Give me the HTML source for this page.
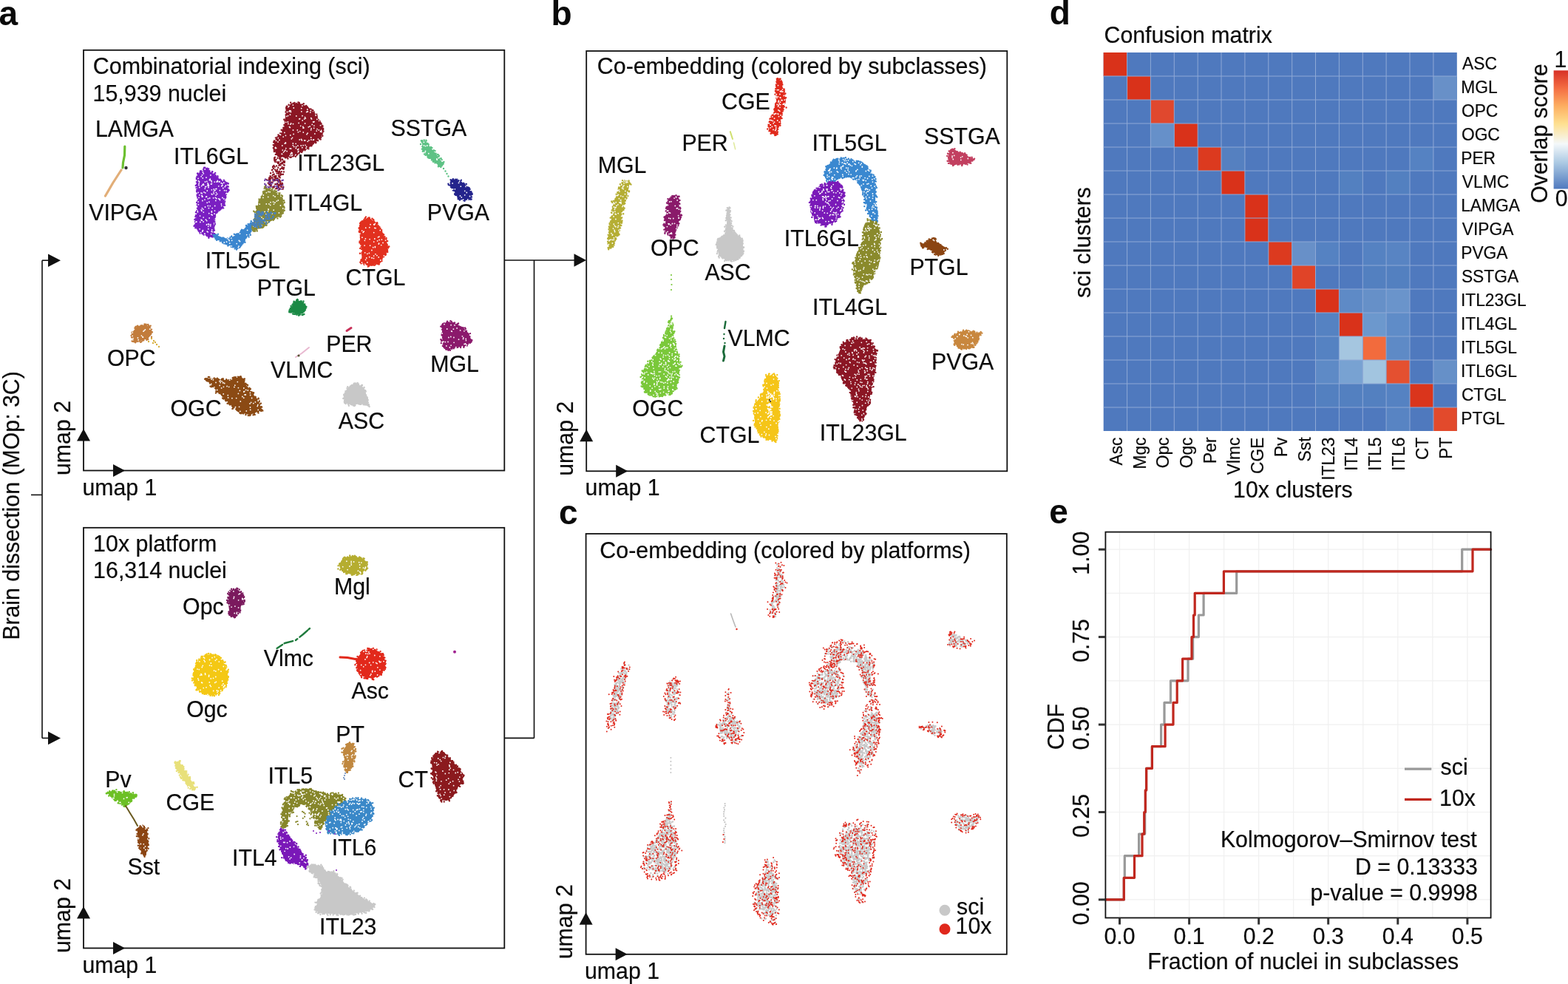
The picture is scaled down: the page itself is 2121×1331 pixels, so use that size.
<!DOCTYPE html>
<html><head><meta charset="utf-8"><title>Figure</title>
<style>html,body{margin:0;padding:0;background:#fff;} svg{display:block;}</style></head>
<body>
<svg width="2121" height="1331" viewBox="0 0 2121 1331" font-family="Liberation Sans, Arial, sans-serif">
<rect x="0" y="0" width="2121" height="1331" fill="#fff"/>
<text x="-1.5" y="33.5" font-size="46" font-weight="bold" fill="#0a0a0a">a</text>
<text x="745.5" y="33.5" font-size="46" font-weight="bold" fill="#0a0a0a">b</text>
<text x="756" y="708.5" font-size="46" font-weight="bold" fill="#0a0a0a">c</text>
<text x="1419.8" y="33.3" font-size="46" font-weight="bold" fill="#0a0a0a">d</text>
<text x="1419.2" y="708.4" font-size="46" font-weight="bold" fill="#0a0a0a">e</text>
<rect x="113" y="67.8" width="569.3" height="568.7" fill="none" stroke="#111" stroke-width="1.8"/>
<polygon points="104,596.5 122,596.5 113,580" fill="#111"/>
<polygon points="153,628 153,645 169,636.5" fill="#111"/>
<rect x="113" y="713.8" width="569.3" height="568.7" fill="none" stroke="#111" stroke-width="1.8"/>
<polygon points="104,1242.5 122,1242.5 113,1226" fill="#111"/>
<polygon points="153,1274 153,1291 169,1282.5" fill="#111"/>
<rect x="793.2" y="69" width="569.1" height="568.3" fill="none" stroke="#111" stroke-width="1.8"/>
<polygon points="784.2,597.3 802.2,597.3 793.2,580.8" fill="#111"/>
<polygon points="833.2,628.8 833.2,645.8 849.2,637.3" fill="#111"/>
<rect x="792.6" y="722" width="569.2" height="568.8" fill="none" stroke="#111" stroke-width="1.8"/>
<polygon points="783.6,1250.8 801.6,1250.8 792.6,1234.3" fill="#111"/>
<polygon points="832.6,1282.3 832.6,1299.3 848.6,1290.8" fill="#111"/>
<text transform="translate(111.4,669.5) scale(1,1.04)" font-size="30.3" stroke="#0a0a0a" stroke-width="0.2" fill="#0a0a0a">umap 1</text>
<text transform="translate(94.7,643) rotate(-90) scale(1,1.04)" font-size="30.3" stroke="#0a0a0a" stroke-width="0.2" fill="#0a0a0a">umap 2</text>
<text transform="translate(111.4,1315.5) scale(1,1.04)" font-size="30.3" stroke="#0a0a0a" stroke-width="0.2" fill="#0a0a0a">umap 1</text>
<text transform="translate(94.7,1289) rotate(-90) scale(1,1.04)" font-size="30.3" stroke="#0a0a0a" stroke-width="0.2" fill="#0a0a0a">umap 2</text>
<text transform="translate(791.6,670.3) scale(1,1.04)" font-size="30.3" stroke="#0a0a0a" stroke-width="0.2" fill="#0a0a0a">umap 1</text>
<text transform="translate(774.9,643.8) rotate(-90) scale(1,1.04)" font-size="30.3" stroke="#0a0a0a" stroke-width="0.2" fill="#0a0a0a">umap 2</text>
<text transform="translate(791,1323.8) scale(1,1.04)" font-size="30.3" stroke="#0a0a0a" stroke-width="0.2" fill="#0a0a0a">umap 1</text>
<text transform="translate(774.3,1297.3) rotate(-90) scale(1,1.04)" font-size="30.3" stroke="#0a0a0a" stroke-width="0.2" fill="#0a0a0a">umap 2</text>
<line x1="57" y1="352.2" x2="57" y2="998.4" stroke="#111" stroke-width="1.6"/>
<line x1="57" y1="352.2" x2="66" y2="352.2" stroke="#111" stroke-width="1.6"/>
<polygon points="65,343.5 65,361 82,352.2" fill="#111"/>
<line x1="57" y1="998.4" x2="66" y2="998.4" stroke="#111" stroke-width="1.6"/>
<polygon points="65,989.6 65,1007.2 82,998.4" fill="#111"/>
<line x1="42" y1="669.4" x2="57" y2="669.4" stroke="#111" stroke-width="1.6"/>
<text transform="translate(26.2,684) rotate(-90) scale(1,1.04)" font-size="30.3" text-anchor="middle" stroke="#0a0a0a" stroke-width="0.2" fill="#0a0a0a">Brain dissection (MOp: 3C)</text>
<line x1="682.3" y1="352" x2="778" y2="352" stroke="#111" stroke-width="1.6"/>
<polygon points="776.5,343.2 776.5,360.8 793,352" fill="#111"/>
<line x1="682.3" y1="998.4" x2="722.5" y2="998.4" stroke="#111" stroke-width="1.6"/>
<line x1="722.5" y1="352" x2="722.5" y2="998.4" stroke="#111" stroke-width="1.6"/>
<text transform="translate(125.8,100.3) scale(1,1.04)" font-size="30.4" stroke="#0a0a0a" stroke-width="0.2" fill="#0a0a0a">Combinatorial indexing (sci)</text>
<text transform="translate(125.5,137) scale(1,1.04)" font-size="30.4" stroke="#0a0a0a" stroke-width="0.2" fill="#0a0a0a">15,939 nuclei</text>
<text transform="translate(126.1,746.3) scale(1,1.04)" font-size="30.4" stroke="#0a0a0a" stroke-width="0.2" fill="#0a0a0a">10x platform</text>
<text transform="translate(126.1,782) scale(1,1.04)" font-size="30.4" stroke="#0a0a0a" stroke-width="0.2" fill="#0a0a0a">16,314 nuclei</text>
<text transform="translate(807.8,100) scale(1,1.04)" font-size="30.4" stroke="#0a0a0a" stroke-width="0.2" fill="#0a0a0a">Co-embedding (colored by subclasses)</text>
<text transform="translate(811.3,755) scale(1,1.04)" font-size="30.4" stroke="#0a0a0a" stroke-width="0.2" fill="#0a0a0a">Co-embedding (colored by platforms)</text>
<polyline points="168.8,198 168.5,210 166.5,220 166,227" fill="none" stroke="#6cc030" stroke-width="3.2" stroke-linecap="round" stroke-linejoin="round"/>
<circle cx="170.5" cy="227" r="2.2" fill="#333"/>
<polyline points="164,230 153,247 142.5,265" fill="none" stroke="#e2ae78" stroke-width="3.2" stroke-linecap="round" stroke-linejoin="round"/>
<polygon points="267.9,235 276,226.9 284.1,230.2 292.2,239.9 303.5,244.7 309.1,249.6 306.7,259.3 303.5,270.6 301.9,281.9 295.4,285.1 290.5,290 288.9,301.3 288.9,315.8 287.3,320.7 279.2,319 267.9,312.6 263.1,304.5 266.3,290 267.9,275.4 267.1,259.3 266.3,243.1" fill="#7a1fc2"/>
<path d="M304.2 272.5h0M280 228.7h0M277.6 227.6h0M290.8 290.8h0M291.8 288.5h0M306.8 247.3h0M282.4 321.8h0M276.1 226.7h0M293.4 240.7h0M268.2 278.6h0M270.6 315.5h0M279.5 228.3h0M264.3 308.3h0M281.8 320h0M266.9 281.7h0M283.2 319.9h0M264 300h0M287.2 236.5h0M294.1 240.9h0M266.7 309h0M266.7 265.1h0M279.7 318.8h0M268.8 271.5h0M268.5 311.7h0M271.7 313.6h0M304.7 263.6h0M271 231.4h0M290.1 236.1h0M290.4 238.7h0M268.3 265.1h0M289.8 316h0M267.3 267.4h0M304.1 277.7h0M294.5 241.4h0M307.4 251.2h0M308.1 257.7h0M299.7 280.8h0M262.5 305.7h0M267.6 309.4h0M268 284.5h0M296.8 284.5h0M272.8 315.3h0M306.4 247.6h0M277.2 227.2h0M286.1 232.9h0M266.9 263.6h0M307.1 256.1h0M291.2 234h0M288.9 298.1h0M285.9 233.5h0M268 274.7h0M265.9 246.1h0M290.1 316.1h0M267.9 238.7h0M306.8 257.8h0M264.9 287.2h0M303.5 274.5h0M268.3 237h0M267.7 276.2h0M288.8 310.2h0M272.3 231.2h0M264.7 305.2h0M269.1 249.2h0M302.2 281.4h0M304.3 246.4h0M267.6 257h0M268.8 312.6h0M268.9 310.9h0M265.1 292.6h0M266.1 285.2h0M265.8 242.1h0M266.4 246.6h0M291.3 239.1h0M268.6 281.1h0M266.5 238.7h0M288.6 317.2h0M265.9 240.6h0M264.8 251h0M268.1 275.8h0M305.3 265.8h0M306.8 257.2h0M266.2 256.6h0M284 319.2h0M265.6 253.9h0M290 311.5h0M302.8 243.7h0M297.2 242.9h0M287.4 319.9h0M288.1 318.1h0M287.6 320.5h0M265.3 287.4h0M267.1 289.8h0M275.6 317.6h0M262.5 305.8h0M290.4 300.2h0M268 263.2h0M289.5 318.8h0M292.3 239.8h0M281 229.3h0M266.8 308h0M294.6 239.6h0M294.4 238.3h0M308.8 248.2h0M290.8 302.8h0M295.3 242.2h0M303.2 275.7h0M265.6 299.1h0M291.1 292.3h0M274.2 316.3h0M267.9 235.8h0M286.7 233.6h0M266.7 286.5h0M293.5 287.6h0M308.7 258.6h0M285.9 320h0M277.3 226.6h0M282.2 228.4h0M269 281.7h0M280.4 227.6h0M300.7 274.1h0M307.7 259.7h0M308.9 252.6h0M276.5 227.8h0M304.5 266.3h0M289.3 306.7h0M270.9 232.2h0M264.3 296.2h0M289.5 299.9h0M266.7 277.2h0M266.9 273.9h0M265.2 306.3h0M267.4 272.3h0M294.6 286h0M291.9 238.5h0M307.7 256.4h0M268.7 270.5h0M306 262.8h0M290.2 297.4h0M309.7 257.2h0M288.7 319.3h0M304.2 268.2h0M298.3 283.3h0M304.5 245.7h0M307.9 258.6h0M275.6 228.3h0M307.7 250.3h0M264.9 291.1h0M266.6 263.4h0M268.2 239.8h0M272.5 314.7h0M266 258.7h0M268.4 279.2h0M289.8 305.3h0M266.1 274h0M264.6 306.7h0M273.6 230.6h0M287.4 232.3h0M272.7 314.8h0M290.7 303.4h0M264.4 293h0M269.1 312.8h0M308.4 255.7h0M265.2 298.8h0M265.8 240.6h0M288.2 299.5h0M275.7 316.8h0M293.4 242.1h0M304.4 266.9h0M278.2 229.4h0M263.3 304.8h0M287.8 310h0M289.3 235.4h0M267.1 239.9h0M290.7 294h0M289.8 294.9h0M266.8 248.7h0M289.8 239.5h0M291.4 237.2h0M267 260.3h0M266.8 258.6h0M267.4 234.5h0M305.3 267.2h0M303.8 269.5h0M266 292h0M266.2 249.8h0M304.7 264.5h0M267 234.8h0M290.9 289.8h0M286.7 232.1h0M266.6 250.5h0M289.3 309.3h0M267.8 243.8h0M275.2 314.3h0M288.4 316.9h0M263.3 297.1h0M270.3 314.3h0M267.5 252.6h0M302.3 277.5h0M266.7 241.8h0M303.8 265.8h0M298 242.8h0M266.3 256.6h0M268.1 256.5h0M292 239.9h0M303.4 275.9h0M305.4 255.8h0M264.8 293.2h0M288.3 312.1h0" stroke="#7a1fc2" stroke-width="2.4" stroke-linecap="round" fill="none"/>
<path d="M286.3 286h0M302.8 247.2h0M275.6 250.2h0M281.5 268.7h0M281.1 313.8h0M307.8 250.2h0M268.1 241.4h0M287.1 290.9h0M284.1 278.6h0M264.9 300.3h0M273.8 313.2h0M292.8 255.4h0M269 250.5h0M287.2 281.6h0M281 247.9h0M277 270.1h0M273.9 250.1h0M277.2 228.9h0M286 290.2h0M282.4 251h0M273.5 230.1h0M278.7 266.3h0M294.5 245.5h0M286.3 246.1h0M300.8 248.5h0M273.3 298.2h0M276.7 316.2h0M285.9 244.5h0M273.4 266h0M269.8 263.8h0M306 257.8h0M271.6 314.7h0M293.7 262.4h0M280.3 258h0M276 259.9h0M279.5 304h0M300.9 267.5h0M280.2 313.1h0M272 261.1h0M282 303h0M305.4 251h0M278.7 252.4h0M275.2 294.1h0M277.7 252.8h0M273.9 271.5h0M280.9 250.4h0M282.9 273.2h0M291 257.6h0M277.8 260.8h0M272.2 297.5h0M274.5 233h0M275.3 234.8h0M295.7 268.8h0M273.9 266h0M301.8 254.5h0M289.2 261.9h0M297.1 245.6h0M274.5 249.9h0M270.2 309.8h0M289.7 257.5h0M286.4 248.6h0M284.9 303.7h0M268.6 244.7h0M305.9 261.8h0M302.9 269h0M275.1 299.9h0M290.5 285.1h0M273.1 261.5h0M269.6 246h0M274.8 283.1h0M293.1 246h0M294.3 244.3h0M277.5 246h0M299.7 278.3h0M281.3 278.5h0M270.6 292.1h0M282 253.5h0M277.2 316.3h0M277.5 280h0M279.5 266h0M279.8 245.4h0M296.6 246h0M282.6 303.9h0M281.8 309.7h0M284.3 242.1h0M267.2 285.3h0M280.2 274.2h0M269.8 253.5h0M287.1 313.7h0M268.1 272.9h0M272.2 238.8h0M285.3 231.9h0M299.2 247.7h0M281.7 306.3h0M301.2 244.1h0M273.1 264.4h0M286.9 262.9h0M268.8 250.1h0M290.7 278.5h0M291.9 255.6h0M282.4 281.6h0M282.7 288.7h0M283.7 268h0M285.6 249h0M284.2 243.7h0M284.9 236.9h0M269 267.3h0M286.3 262.3h0M285.7 316.6h0M304.3 252.7h0M286.2 313.2h0M272.7 251.6h0M286.4 256.8h0M270.9 300.5h0M268.4 276.7h0M292.4 260.6h0M292.1 263.9h0M299.8 251.7h0M279.7 298.6h0M283.4 243.5h0M300.8 250.7h0M290.1 289.2h0M291.4 267.4h0M286.7 310.9h0M269.2 248.2h0M268 260.4h0M273.4 281.6h0M290.2 246.1h0M291.8 271.4h0M274.3 240.9h0M267.5 286.8h0M281.6 251.7h0M289 259.8h0M292.8 268.5h0M274.5 311.6h0M281.8 249.2h0M265.8 300h0M272.3 283.9h0M286.4 287.1h0M277.3 255.1h0M297.4 270.5h0M297.2 269.3h0M273.5 236.8h0M273.8 230.5h0M278.5 297.2h0M295.8 251.8h0M288.6 267.8h0M299.4 276h0M275.3 287.1h0M275.1 249h0M297.4 257.6h0M303.6 257.7h0M274.1 312h0M284.7 305.7h0M283.2 294.9h0M289.3 255.8h0M272.9 285.3h0M279 240.2h0M279.8 303.6h0" stroke="#fff" stroke-width="1.8" stroke-linecap="round" fill="none"/>
<polygon points="288.9,317.4 293.8,318.2 303.5,322.3 311.6,322.3 322.9,315.8 332.6,307.7 340.6,301.3 345.5,304.5 339,314.2 330.9,325.5 324.5,335.2 319.6,336.8 308.3,330.3 297,325.5 290.5,322.3" fill="#3b86cf"/>
<path d="M309.9 330.8h0M305.3 326.9h0M303.7 322.8h0M294.9 316.7h0M330.8 325.3h0M327.2 312.8h0M317.7 336.4h0M343.1 302.6h0M326.1 312h0M331.8 309.1h0M305.3 328.9h0M339.5 302.3h0M333.2 305.8h0M318.7 318h0M309.6 331.1h0M316.8 316.7h0M288.4 317.6h0M313 333.8h0M333.9 306.3h0M293.1 324.3h0M324.5 334.5h0M331.5 327.7h0M325.5 332.8h0M333.7 306.8h0M302.1 328h0M292.7 318.7h0M297.8 326.3h0M301.2 328.4h0M338.9 312.7h0M328.7 328.8h0M311.4 321.1h0M320 337.6h0M315 334.2h0M345 305.5h0M314.8 321.7h0M306.8 330h0M321.8 317.2h0M311.1 322.9h0M290 320.4h0M291.6 323h0M290.1 318.1h0M344.2 304.7h0M303.8 323.3h0M292.3 319.2h0M324 333.8h0M345.2 307.2h0M340 299.5h0M341.6 302.2h0M342.3 303.8h0M301.9 325.9h0M304.7 327.7h0M344.6 306.3h0M300.8 322.7h0M322.9 335h0M341 302.8h0M339.6 299.3h0M313.2 319.4h0M335.6 303.3h0M293.8 318.3h0M315.5 333.4h0M301.7 321.4h0M321.4 335.6h0M307.5 330.3h0M293 324.8h0M338.7 302.3h0M289.4 319.8h0M325.3 313.8h0M340.4 302.8h0M334 307.2h0M320.6 336.3h0M319.1 317.2h0M319.1 319.9h0M310.2 331h0M336.6 320.6h0M333 305h0M309.3 331.5h0M338.8 317.7h0M334.9 305.6h0M336.8 305.4h0M316.2 320.6h0M326.2 313.9h0M341.8 308.8h0M326.7 331.4h0M306.8 329.6h0M298.3 325.5h0M308 330.1h0M291.9 317.2h0M323.1 316.3h0M320.8 316.2h0M311.7 321.3h0M313.4 321h0M313.4 332h0M314 332.8h0M323.9 333.4h0M345.1 302.8h0M324.4 315.2h0M343 310.2h0M307.8 322.4h0M338.2 315.3h0M305.6 330h0M328.2 329.5h0M342.2 302h0M329.8 326.7h0M331.3 321.5h0M332.9 308.3h0M342.9 308.6h0M322.1 335.1h0M303.3 329.4h0M339.4 313h0M342.6 304h0M308.3 332.4h0M339.2 301.8h0M342.3 311.2h0M312.7 333.8h0M327 310.7h0M315.7 334h0M300.6 327.1h0M329 311.3h0M295 324.1h0M314.7 332.6h0M330.6 323.4h0M333.1 321.4h0M325.9 331h0M302.9 322.3h0M316.6 333.6h0M336.8 303.4h0M336.2 318.9h0M341.7 303.3h0M329.9 327.4h0M336.3 318.8h0" stroke="#3b86cf" stroke-width="2.4" stroke-linecap="round" fill="none"/>
<path d="M322.4 334.6h0M324.5 326.5h0M306.5 327.2h0M313.7 325.3h0M309.5 324.2h0M324.5 316.1h0M310.7 329.2h0M307.7 322.8h0M313.2 332.8h0M310.2 325.6h0M323 333.1h0M334.6 311.4h0M312.8 322.1h0M320.2 329.6h0M341.6 309.6h0M323.3 325.4h0M303.3 328h0M333.7 317.6h0" stroke="#fff" stroke-width="1.8" stroke-linecap="round" fill="none"/>
<polygon points="358.4,252.8 368.1,257.6 377.8,262.5 382.6,272.2 384.3,283.5 379.4,291.6 368.1,298 358.4,304.5 348.7,309.4 343.9,312.6 340.6,306.1 345.5,294.8 347.1,281.9 351.9,269 356.8,259.3" fill="#8a8a32"/>
<path d="M371.5 257.4h0M381.4 275.6h0M350.5 269.5h0M345.2 312.5h0M380.6 267.8h0M347.2 310.4h0M382 265.2h0M375.4 295.4h0M347.6 285.4h0M378.1 292.2h0M365.2 255h0M358.5 303.7h0M344.5 286.7h0M347.5 285.1h0M384.4 280.1h0M381.2 268.9h0M349.9 308.4h0M356.3 260.6h0M343.4 312.8h0M356.8 260.4h0M342.2 306h0M371 296.2h0M357.8 258h0M363.9 256.4h0M354.4 266h0M365.4 254.6h0M341.2 305.5h0M378.4 261.3h0M342.3 302.4h0M346.9 289.5h0M384.6 281.2h0M380.1 267.6h0M344.4 301.2h0M384.1 271.3h0M384.8 273.8h0M352.6 269.9h0M373.9 258.8h0M340.8 308.4h0M346.8 279h0M378.3 263.7h0M344.5 295.6h0M350.8 272.8h0M378.9 267.1h0M380.2 292.3h0M381.3 288.8h0M359.6 256.8h0M342.5 303.5h0M383.5 285.4h0M379.1 293.6h0M355.1 264.4h0M353.9 268.6h0M383.1 285.7h0M347.1 281.7h0M359.3 251.9h0M379.2 270.4h0M382.4 274.1h0M381.1 267.1h0M382.4 271.2h0M342.3 311h0M381.4 271.4h0M347 280.2h0M367.6 256.4h0M347.2 295.3h0M380.6 289.7h0M360.5 304.8h0M361 302.6h0M381.7 268.7h0M378.8 267.3h0M358 253h0M356.2 307.3h0M348.5 279.2h0M343.7 297.3h0M368.8 255.3h0M356.8 304.6h0M354.6 308.1h0M383.2 275.6h0M383.8 279.1h0M371.9 259h0M359.9 253.3h0M353.9 306.3h0M350.7 271.6h0M374.7 261.6h0M384.8 284.6h0M376.2 261.4h0M377.1 263.3h0M380.8 264.3h0M370.5 296.6h0M351.8 308.3h0M346.2 286.6h0M376.9 292.5h0M348.8 280.7h0M350.7 275.6h0M357.5 259h0M367 297.6h0M353.9 307.7h0M357.2 305.5h0M357.6 255.1h0M342.1 305.5h0M353 270h0M383.7 281h0M352.5 307.4h0M382.6 279.2h0M356.1 261.1h0M341.9 306.4h0M355.9 259.5h0M361.2 302.1h0M376.6 262.2h0M369.6 297.8h0M369 258.5h0M341.7 310.1h0M382.1 270.6h0M349.6 307.8h0M381.6 288.8h0M354.5 306.8h0M358.9 255.2h0M382.3 277.1h0M384.5 284.5h0M346.7 287h0M350.6 271.8h0M370.8 296.2h0M374.3 263h0M346.4 292.7h0M376.6 291.6h0M350.2 273.8h0M345.8 290.3h0M361 301.5h0M355.1 266.9h0M359.1 251.8h0M358.9 304.6h0M368.6 296h0M342.4 311.9h0M362.8 300.7h0M371 295.5h0M381.1 287.7h0M356.8 305.3h0M382.9 288.2h0M347.8 312.4h0M381.5 288.3h0M357.1 260.2h0M353.7 266h0M345.9 309.8h0M343.1 285.6h0" stroke="#8a8a32" stroke-width="2.4" stroke-linecap="round" fill="none"/>
<path d="M363.2 283.7h0M370.5 276.1h0M356.2 288.4h0M370.2 284.2h0M358.1 286.4h0M382.7 281.9h0M359.8 290.2h0M363 259.4h0M379.4 278h0M363 283h0M368.1 288.9h0M358.6 299.9h0M354 294.1h0M377.4 287.9h0M369.8 264.6h0M362.4 285.9h0M352.2 291.5h0M365.7 277.4h0M374.3 272.1h0M371.9 274h0M344.9 306.9h0M366 273.7h0M360.3 275.9h0M343 306.1h0M359.8 289.9h0M376.3 271h0M351.2 276.1h0M372 266h0M354.1 305.1h0M361.8 300.2h0M356.3 264h0M365.1 259.7h0M363.9 275.9h0M358.2 256.7h0M346 302.2h0M355.9 267.4h0M369.6 273.2h0M347.4 295h0M360 302.8h0M375.8 262.3h0M356 296h0M362.7 266.4h0M360.4 260.6h0" stroke="#fff" stroke-width="1.8" stroke-linecap="round" fill="none"/>
<path d="M365 291.5h0M353.5 291.2h0M361.7 290.3h0M370.7 288.1h0M358.4 298.6h0M350.2 304.3h0M354.1 301.4h0M360.3 292.8h0M354.3 287.2h0M347 306.3h0M351.9 301.6h0M344.7 299h0M353.3 297.5h0M351.1 286.6h0M351.6 290.7h0M345.3 302.9h0M350.6 295.1h0M345.5 291.9h0M342 302h0M363.6 293.8h0M355 301.5h0M364.8 291.2h0M369.8 293.8h0M362.4 289.5h0M346.5 290h0M351.3 294.5h0M362.7 289.5h0M365.4 291.4h0M355.8 302.1h0M350.7 286.1h0M344.8 304.8h0M348.1 307.9h0M366.5 287.2h0M364.6 294.8h0M350.6 287.2h0M362.4 296.3h0M342.8 302.5h0M355.6 297.8h0M372.6 288.2h0M349.9 298.7h0M359.5 291.2h0M355 290h0M351.6 288.4h0M349.1 291h0M358.5 296.1h0M351.2 307.1h0M345.8 299.1h0M352.3 305.4h0M346.8 301.7h0M361.4 296.5h0M344.9 292.2h0M353.3 290.2h0M347.7 302.5h0M356.2 287.8h0M352 296.7h0M353.3 289.2h0M343.9 302.9h0M344.7 297.2h0M355.8 289.7h0M363.2 291.3h0M349.4 288.5h0M341.9 304.4h0M369.5 292.4h0M347.3 301h0M346.7 304.6h0M352.1 289.6h0M369.1 293h0M353.5 298.8h0M353.6 305.8h0M349.1 286h0M360.3 300.7h0M357.8 297.5h0M346.4 292.5h0M360.8 287h0M364.4 289.1h0M355.9 289.8h0M367.8 295.6h0M350.6 301.5h0M358.5 295.5h0M352.5 296h0M371.7 289.1h0M351.1 296.1h0M360.2 293.7h0M347.6 287.1h0M352 296.5h0M364 300.2h0M351.1 299.3h0M363 292.5h0M352.7 307.1h0M364.1 296.2h0M343.9 301.5h0M353.6 299.5h0M355.2 298.2h0M360.2 294.9h0M344.9 289.5h0M344.8 306.6h0M349.6 287.4h0M359 291.3h0M357.6 298.9h0M348.7 299.3h0M344.8 297.8h0M361 287h0M354.9 286.8h0M359.7 302.9h0M366.7 287.9h0M344.5 305.8h0M354.3 289.3h0M367.3 288.4h0M349.1 294.3h0M348.2 292.5h0M365.1 295.6h0M346.7 303.6h0M352.6 304.1h0M345.2 294.3h0M361.5 287.5h0M364 291.4h0M347.6 296.2h0M344.8 305h0M347.3 298.9h0M350.9 302.2h0" stroke="#4a80b8" stroke-width="2.4" stroke-linecap="round" fill="none"/>
<polygon points="387.5,146.2 394,139.7 403.7,139.7 413.3,142.9 423,151 429.5,159.1 434.4,167.2 437.6,175.2 434.4,184.9 426.3,193 416.6,199.5 406.9,205.9 397.2,210.8 389.1,212.4 379.4,212.4 373,207.6 369.7,197.9 373,188.2 379.4,180.1 384.3,172 385.9,159.1" fill="#8b1624"/>
<path d="M433.7 188.5h0M404.1 205.3h0M387 157.4h0M414.3 145.4h0M375 186.6h0M376.4 182.5h0M417.4 201.3h0M431.5 187.8h0M401 140.3h0M384.4 169h0M418.7 148.9h0M396.5 211.4h0M387.6 144.8h0M387.8 143.8h0M395.6 140.9h0M433.2 166.6h0M431.1 163h0M386.6 155.5h0M400.7 207.2h0M370.9 190.4h0M434.4 185.6h0M384.8 172.9h0M436.3 170h0M409.7 203h0M402.1 208.4h0M435.2 181.2h0M414.8 200.9h0M428.7 158.9h0M389.4 144.3h0M421 195.7h0M420.1 148.3h0M436.4 171.3h0M384.6 161.6h0M396.4 211.4h0M397.4 210.9h0M370.1 192.3h0M397.5 139.9h0M433.7 166.3h0M418.4 148.9h0M426.2 156.1h0M392.7 210.8h0M423.5 149.4h0M393.7 212.7h0M383.4 173.5h0M420.6 150.2h0M384.3 212.1h0M437.2 174.9h0M428.3 189.8h0M397.1 139.9h0M386.1 213.4h0M392.7 212.8h0M390.7 143.5h0M388.5 149.4h0M370.8 202.2h0M418.3 147.5h0M404.8 139h0M403.6 206.3h0M379.2 211.9h0M369.8 199.9h0M371.3 192.9h0M372.9 191.7h0M431.6 166.2h0M414.2 142.9h0M380.5 211.5h0M387.4 150.1h0M404.9 140h0M396.7 139.7h0M422.4 149.4h0M416.8 146.7h0M385.5 163.4h0M372.3 193.5h0M411.5 201.8h0M373.5 186.6h0M386.2 168.1h0M398.5 138.9h0M383.6 175.6h0M430.1 190.2h0M386.6 213.2h0M431.5 163.8h0M424.8 151.7h0M436.4 170.5h0M399.8 211.7h0M382.8 175.8h0M377.2 183.5h0M415 200.5h0M374.4 208.7h0M397.3 210.4h0M383.3 172.7h0M383.1 177.1h0M387.3 147.5h0M409 141.4h0M386.1 166.7h0M406.7 141.8h0M403.3 141.8h0M373.6 201.6h0M392.7 142.9h0M375.3 208.8h0M428.1 158.1h0M391.4 143.1h0M384.9 173.2h0M413.2 143.6h0M375.9 210.3h0M412.5 203.3h0M413.4 201.7h0M428.3 154.7h0M370.4 201h0M432.7 164.1h0M409.2 204.3h0M436.3 183.8h0M379.6 212.1h0M376.1 208.2h0M370.8 203.7h0M427.5 192.6h0M431.3 187.9h0M388.8 146.6h0M385.5 163.5h0M433.1 186.9h0M410.8 140.3h0M386.5 166.5h0M436.6 174.8h0M437.2 174h0M370.6 196.3h0M394.7 211.4h0M385.9 211.4h0M370.9 205.1h0M389.2 211.5h0M385.4 212.2h0M389.4 214.5h0M416.6 198.2h0M416.3 200.3h0M384.3 161.7h0M407.2 205.2h0M420.4 147.4h0M384.5 210.5h0M383.8 174.7h0M378.9 180.5h0M416.8 146.3h0M435.6 181.4h0M421.3 197.4h0M387 145.8h0M416.3 198.4h0M415.7 144.4h0M408.2 206h0M436.2 179.2h0M424 152.5h0M420.8 148.5h0M437.5 177.6h0M403.4 138.5h0M422.9 153.7h0M388.3 212.6h0M421.3 196.8h0M434.3 170.7h0M375.2 185.4h0M397.5 210.6h0M386.5 151.5h0M378.2 211.9h0M369.7 196.1h0M413.9 201.2h0M390.5 141.6h0M419.3 197.2h0M417.5 198.7h0M411.6 201.4h0M377.5 210h0M393.2 138.8h0M371.6 192h0M428.7 156.9h0M408.3 141.6h0M401.1 210h0M371.6 204.6h0M372.8 208.9h0M388.3 144.8h0M414.8 145.7h0M389.2 145.2h0M431.9 164.3h0M380.7 175.7h0M427.2 193.2h0M383.3 172.8h0M431.7 162.9h0M404.3 207.6h0M413.1 200.8h0M375.2 188.4h0M402.1 209h0M404.7 207.2h0M437.2 177.4h0M434.7 167.4h0M391.8 212.1h0M422.2 195.7h0M423.7 194.3h0M383.5 176h0M422.3 148.9h0M372.9 186.4h0M376.5 211h0M380.9 181.7h0M425.5 154h0M373.6 189.1h0M379.4 214.6h0" stroke="#8b1624" stroke-width="2.4" stroke-linecap="round" fill="none"/>
<path d="M416.3 151h0M373.5 190.3h0M372.5 200.5h0M389.6 156.6h0M409.2 162.9h0M407.8 150.9h0M431.6 163.3h0M396.3 142.1h0M395.5 186.3h0M384.9 179.4h0M419.1 171h0M415.8 148h0M433.5 178h0M389.4 165h0M420.7 175.8h0M402.6 202.5h0M410.3 179h0M388.1 204.6h0M427.1 156.2h0M393.1 208.4h0M392.3 172.4h0M386.5 193.7h0M381.8 197h0M389.9 144.7h0M407.7 146.7h0M407.2 197h0M410.1 173.2h0M376.3 186.7h0M378.7 181.7h0M393.7 166.9h0M414.7 151.6h0M381.2 208.2h0M392.2 200.9h0M429 174.6h0M403.4 178.7h0M380.8 178.6h0M404.1 166.4h0M386 203.1h0M403.8 204.4h0M402.9 197.2h0M408.4 189.8h0M385.3 194.2h0M404.9 160.9h0M409 156.7h0M410.1 196.7h0M386.4 183.3h0M411.7 190h0M425 164.6h0M424.7 173.3h0M433.5 169.7h0M397.3 146.1h0M386.3 193h0M415.8 150.7h0M393.1 149.9h0M392.2 210.7h0M402.3 175.9h0M420.7 186h0M383.2 185.1h0M376 191.9h0M393.4 151.5h0M420.3 149.5h0M409.8 171.3h0M428.8 161.4h0M434.9 178.4h0M386.8 200.6h0M400.8 156.9h0M403.1 205.7h0M416.2 191.3h0M396.3 196.7h0M423.6 189.3h0M397.3 146h0M414 200.5h0M392.8 182.9h0M424.9 170.1h0M410.8 173h0M392.5 155.2h0M393.7 201.1h0M411.7 160.9h0M417.3 171.8h0M414.6 198.4h0M377.9 189.4h0M372.5 199.5h0M384.9 204.4h0M396.5 176h0M434.6 176.5h0M381.6 208.4h0M400.6 198.5h0M386.7 165.3h0M428.2 177.1h0M395.3 207.2h0M430.4 188.1h0M399.9 209.3h0M394.3 187.8h0M412.6 167h0M405.2 188.9h0M431.3 175.9h0M394.4 210.7h0M373.6 200.4h0M416.1 180.2h0M400.1 194.3h0M391.8 149.7h0M379.5 182.4h0M408.9 143.1h0M396.3 194h0M413.3 160.1h0M421.5 160.9h0M406.7 170.3h0M424.4 188.9h0M395.5 209.7h0M417.9 189.9h0M388.5 151.5h0M408.8 199.7h0M423.6 164.9h0M419.8 152.1h0M390.9 143.6h0M389.9 167.5h0M391.5 171.6h0M396.5 167.7h0M383.5 205.8h0M400.3 200.6h0M413 196.3h0M391.1 150.8h0M421.1 173.9h0M407.6 188.5h0M420.8 159.7h0M394.3 206.4h0M405.6 160.7h0M412.5 158.6h0M425.8 180.9h0M393.7 208h0M387.7 157.4h0M420.9 189h0M397.7 198.4h0M412.7 190h0M422.3 168.4h0M392.9 168.2h0M424.4 165.1h0M382.3 203.1h0M405.8 177.6h0M403.8 201.6h0M415 181.7h0M397.1 181.4h0" stroke="#fff" stroke-width="1.8" stroke-linecap="round" fill="none"/>
<path d="M367.1 250.3h0M380.4 250h0M363.9 242.2h0M379.5 234.2h0M383.3 252.9h0M379.2 249.2h0M376.8 251.9h0M363.4 243.8h0M378.2 239.5h0M375.6 249.4h0M377.5 256.4h0M380.8 227.6h0M378.1 214.2h0M381.7 226h0M374.4 248.6h0M376.3 226.7h0M368.6 237.4h0M365.6 247.9h0M365.4 250.1h0M380.9 235.9h0M371 213.8h0M376.3 244.7h0M375.1 229.5h0M373.3 238.4h0M365.9 251.4h0M372.4 217.1h0M371.8 242.7h0M378.3 232.1h0M370.4 224h0M365 245.2h0M373.4 231.3h0M365.1 243.7h0M374.5 243.6h0M378.7 244.5h0M378.7 240.3h0M364.2 240.4h0M369.2 252.9h0M380.8 232.1h0M364 247.2h0M372.3 249.3h0M374.6 234.6h0M378.4 255h0M379 228.8h0M381 250.2h0M365.5 238.2h0M381.5 247.6h0M372 212.8h0M383 235.8h0M376.2 252.2h0M372.5 240.7h0M383.5 228.7h0M371.8 238.2h0M376.5 243.9h0M371.4 214h0M378.8 213.3h0M372.2 229.5h0M377.4 244.2h0M366.2 241.2h0M377.9 232.9h0M375.5 213.7h0M380.4 249.4h0M376.4 245.5h0M365.7 242.2h0M383.8 223.1h0M379.6 215.7h0M364.8 248.6h0M362.7 247.6h0M383 253.7h0M374.4 249.2h0M373 239.8h0M375.4 248.2h0M374.1 224.4h0M381.5 248.8h0M371.9 216.5h0M376.8 220.5h0M371.1 216h0M378.9 250.6h0M382 215.5h0M369.5 225h0M379.7 217.7h0M377.9 238.8h0M373.5 232.1h0M370.6 239.4h0M376.8 253.7h0M379 248.1h0M377.6 250.6h0M371.2 251.9h0M371.4 243.9h0M369 226h0M379.5 223.6h0M383 253.9h0M368.5 246.9h0M380.1 252.4h0M380.6 235.7h0M368.1 240.1h0M369.5 235.9h0M385 218.3h0M373.8 241.2h0M373.9 254.7h0M370.6 253.6h0M377.9 256.1h0M377.8 243.1h0M379.3 246h0M360.7 243.1h0M375.3 241.5h0M375.5 243.3h0M367.1 246.8h0M367.9 229.9h0M377.9 231.6h0M378.9 215.2h0M384.1 226.8h0M381.5 221.4h0M382.1 248.4h0M377.4 223.8h0M383.4 218.2h0M377.1 238.3h0M377.1 219.3h0M376.9 237.5h0M369.4 244.6h0M363.6 247.7h0M373.5 216h0M366.4 248.1h0M379.8 221.3h0M370 227.9h0M376.6 232.9h0M377.2 249.9h0M371.4 216.2h0M371.9 244.1h0M372.4 218.9h0M369.4 232.8h0M379.3 237.1h0M382.5 255.8h0M382.2 216h0M382.4 220.7h0M383.9 232.4h0M378.9 214.3h0M371.7 225.7h0M365.3 241.8h0M376.9 234.9h0M379.2 235.9h0M366.1 234.2h0M375.7 241.3h0M363.8 248.4h0M382.2 228h0M383.4 219.3h0M365.9 238.8h0M371.4 217.4h0M365 245.8h0M375.1 254.8h0M370.4 242.6h0M373.3 255.2h0M376.1 220.9h0M381.6 220.2h0M368.3 229.8h0M368.9 242.1h0M364.2 249.6h0M374.6 244.1h0M373.5 238h0M375.2 232h0M370.6 252.4h0M377.1 251.1h0M384.8 223.4h0M370.9 235.6h0M382 248.6h0M376.9 234.8h0M377 238.2h0M380.7 252.9h0M384.9 219.8h0M374.8 219.3h0M377.9 222.8h0" stroke="#8b1624" stroke-width="2.4" stroke-linecap="round" fill="none"/>
<path d="M364.2 246.6h0M371.6 252.2h0M359.9 253.3h0M374.2 248.5h0M375.5 254.4h0M358.2 248.6h0M375.6 252.8h0M374.8 243.2h0M382.9 254.1h0M364.1 247.8h0M382.9 243.7h0M381.4 244.2h0M377.1 246.5h0M375.2 253.8h0M361.3 244h0M363.6 244.8h0M358.9 242.4h0M368.6 247.6h0M360 250.5h0M382.5 250.4h0M367.2 252.7h0M369.4 243.2h0M375.6 242.9h0M377.9 255h0M374.7 251.4h0M376.3 257.4h0M363.1 253.8h0M365.8 244.6h0M379.4 250.8h0M380.1 255.8h0M373.3 243.6h0M358.4 249.6h0M376.9 244.9h0M362.5 252.5h0M358.1 244.1h0M364.9 252.8h0M366.7 249.4h0M366.3 247.5h0M370.4 244.7h0M374.2 252.5h0" stroke="#6a3aa0" stroke-width="2.2" stroke-linecap="round" fill="none"/>
<path d="M343.9 306.3h0M350.9 298.2h0M347.4 295.4h0M350.4 298.9h0M350.8 296.1h0M341.4 302.6h0M342.9 304.7h0M350 302.2h0M348.7 293.9h0M349.5 296.3h0M343.9 299.6h0M348 305h0M343.1 297.6h0M349.9 296.7h0M351.9 297.6h0M344.7 305h0M347.7 294.7h0M346.9 295.6h0M341.8 301.1h0M347.8 298.5h0" stroke="#4a80b8" stroke-width="2.2" stroke-linecap="round" fill="none"/>
<polygon points="571.5,191 575,190 582,199 592,211 599,221 596,225 588,220 578,211 571,203" fill="#5ec285"/>
<path d="M579.2 213.3h0M579.8 195.4h0M597.6 224.3h0M585.2 204.4h0M581.3 212.9h0M600.4 219h0M588.5 220.4h0M586.3 218.8h0M571.9 192.5h0M598 220.9h0M576.7 190.5h0M598.7 219.9h0M578.5 194h0M589.7 207.6h0M579.4 195.2h0M594.8 223.5h0M582.9 198.9h0M593.1 212.3h0M572 194.2h0M580.9 210.7h0M599.5 221.7h0M588.1 208.5h0M580.1 213h0M572.8 196h0M592.6 212.6h0M599 221.7h0M571.8 204.7h0M578.5 212.3h0M597.7 216.1h0M592.8 222h0M590.5 218.9h0M593 209.4h0M587.6 207.3h0M593 213.2h0M586.8 203.2h0M587.7 217.5h0M588.6 204.1h0M571.2 190.2h0M574.6 208.6h0M595.1 214.6h0M592.9 225.3h0M594 210.7h0M572.5 204.1h0M578.3 210.5h0M576.4 189.7h0M597.9 222.2h0M577 208.8h0M592.7 212.4h0M593.7 211.2h0M586.3 203.9h0M579.5 213.1h0M596.7 214.3h0M589.5 208.1h0M599.7 220.9h0M591.9 208.9h0M577.2 194h0M594.5 224.8h0M570.7 201.6h0M592.2 215.5h0M583.9 216.4h0M573.7 189.5h0M580.4 213.7h0M595.9 222.9h0M593.8 214.8h0M575.7 209.9h0M570.6 192.1h0M581.9 213.7h0M589.6 210.5h0M582.4 200.5h0M585.7 218.5h0M569.8 190.3h0M584.4 199.9h0M578.5 210.2h0M571.3 198.3h0M598.3 223h0M569 195h0M593.1 223.8h0M574 208.4h0M587.7 207.1h0M595.5 225.1h0M571.2 192.2h0M578.7 212.3h0M596.3 226h0M571.5 201.2h0" stroke="#5ec285" stroke-width="2.4" stroke-linecap="round" fill="none"/>
<path d="M591.2 216.2h0M590.9 214.9h0M573.4 192.4h0M593.3 213.7h0M575 206.1h0M577.9 197h0M575.5 204.4h0M575.5 197.6h0M573.4 196.8h0M579.8 207.7h0" stroke="#fff" stroke-width="1.8" stroke-linecap="round" fill="none"/>
<path d="M600 228h0M602.5 231.5h0M604.5 235h0M606.5 238.5h0" stroke="#5ec285" stroke-width="2.4" stroke-linecap="round" fill="none"/>
<polygon points="608.6,246 612,242.6 622,244 632,252 638,262 637,270 628,271 620,268 614,258 609,251" fill="#24248c"/>
<path d="M622.2 245.2h0M606.4 248.6h0M638 266.4h0M620.4 244.1h0M622.6 268.4h0M633.4 256.1h0M622 269.3h0M613.1 256.8h0M613.9 257.1h0M628.5 270.4h0M637.5 263h0M624.6 267.4h0M618.9 245.2h0M615.4 261.7h0M634.7 254.1h0M636.7 259.9h0M611.5 254.2h0M631.6 253.4h0M635.4 255.8h0M637.7 269.5h0M637.1 266.5h0M629.6 270.1h0M634.2 257.5h0M609.9 253.1h0M633.4 253.4h0M623.2 269h0M612.8 242.1h0M627.2 247.8h0M619 264.8h0M606.8 250.1h0M616.2 242.6h0M623.9 243.6h0M637.4 259.2h0M616.2 263.8h0M611.5 243.7h0M609.6 243.2h0M617.6 243.9h0M628.2 268.5h0M635.6 256h0M635.9 259.2h0M610.3 248.2h0M623 245.1h0M634 255.1h0M636.4 269.8h0M638.3 261.1h0M638.8 262.5h0M631.5 255.8h0M614.6 256.6h0M620.4 244.6h0M624.3 269h0M616.8 262.9h0M615.1 262.7h0M632.9 269.4h0M611.1 249h0M628.5 271.8h0M630.8 248.9h0M618.2 260h0M622 270.5h0M628.4 249.1h0M612.8 257.4h0M612.1 253.7h0M619.3 266.5h0M633.8 269.7h0M638 261.2h0M618 264.1h0M618.2 242.6h0M619.6 269.1h0M627 270.9h0M620.2 269.3h0M628.4 252h0M610.1 251.1h0M633.4 268.9h0M638.4 263h0M608.5 250.6h0M619.6 266.9h0M613.3 242.5h0M620 267.5h0M635.2 259.2h0M610.3 243.9h0M614.1 257.7h0M636.1 264.9h0" stroke="#24248c" stroke-width="2.4" stroke-linecap="round" fill="none"/>
<path d="M630 252.3h0M612.1 247.9h0M623.3 252.2h0M622.5 264.9h0M626.6 270.2h0M631.3 260.5h0M624.3 266.9h0M621.6 245.4h0M635.5 265.5h0M628.7 263.8h0M615.4 255.8h0M632.8 269.9h0M628.7 258.3h0M620.5 247.4h0M612.6 256h0" stroke="#fff" stroke-width="1.8" stroke-linecap="round" fill="none"/>
<polygon points="487.6,300.3 498.5,293.8 509.4,302.5 522.5,324.3 524.7,339.5 513.8,354.8 498.5,360.2 488.7,354.8 490,340 487.6,328.6 486,310" fill="#e2301f"/>
<path d="M515.5 353.3h0M507.1 355.9h0M510.5 302.5h0M487 306.9h0M503.5 358.6h0M507.9 357.1h0M514 309.8h0M493 357.5h0M487.3 354.7h0M492.7 357.5h0M488.4 356.2h0M522.5 322.9h0M487 304.9h0M507.5 358.3h0M504.9 297h0M491.6 351.7h0M488.8 354h0M492.4 297.2h0M522.5 324.9h0M524.2 340.9h0M488.5 329.8h0M511.5 305.2h0M485.9 313.7h0M512 357.4h0M524.1 339.9h0M488.1 328.6h0M489.7 343.2h0M522.5 331.4h0M488.8 301.3h0M492.6 357.8h0M506.1 358.7h0M518.2 317h0M506.7 300.6h0M508.3 302.8h0M504.9 358.2h0M490.8 299.4h0M516.3 313.1h0M487.9 330.2h0M516.4 350.7h0M490.1 340.9h0M486.4 328.3h0M485.8 312.6h0M498.4 294.7h0M499.7 294.4h0M520.1 324.1h0M517.4 315.7h0M524.2 326.1h0M522 343.7h0M505.5 297.6h0M509 302.1h0M514 354.6h0M489.5 342.1h0M509.8 303h0M492.4 357h0M488.3 301h0M514.2 309.1h0M487 302h0M489.3 356.1h0M488.4 352.6h0M494.9 293.4h0M487.3 314.3h0M516.5 353.1h0M515.6 351.9h0M486.6 310.3h0M506.7 300.8h0M488.4 351.6h0M488.5 304.7h0M489.3 334.1h0M494 294.9h0M523.1 329.9h0M488.8 351.1h0M521.4 344.7h0M490.4 344.9h0M510.2 301.1h0M502.7 299h0M489 300.2h0M487.8 321.2h0M486.9 313.6h0M503 358.8h0M485.6 308.7h0M511.7 355.3h0M522.7 335h0M514.8 313h0M513.2 354.5h0M511 306.3h0M489.2 337h0M512.8 357.4h0M513.3 355.3h0M524 338h0M516.5 350.2h0M519.1 347.3h0M523.8 331.1h0M513.9 311.4h0M490.9 355.1h0M488.9 351.8h0M526.3 333.5h0M510.4 353.3h0M488.6 333.9h0M503.4 295.7h0M515.6 352.1h0M515.7 349.4h0M488.1 324.8h0M521.5 344.9h0M512.1 306.9h0M486.8 312.6h0M488.1 324.5h0M512.5 306.5h0M505.2 297.8h0M524 338.7h0M489.8 299.2h0M488 300.6h0M522.5 327.1h0M513.5 307.1h0M497.8 360.6h0M487.9 324.1h0M501.1 358.6h0M492.2 298.4h0M498.9 359.9h0M513.8 311.4h0M524.2 333.1h0M487.3 304.5h0M516 314.4h0M493.6 295.3h0M519.2 317.5h0M488.2 302.8h0M514.2 311.4h0M486.5 326.4h0M489.3 334.2h0M486.9 342.7h0M499.9 295.6h0M488.3 300.4h0M522.9 334.8h0M520.4 320.3h0M487.7 304.4h0M514.1 353.8h0M514.6 309.3h0M522.2 327.9h0M522.5 322h0M525.1 335.4h0M510.1 356.8h0M486.8 327.1h0M485.8 308.2h0M509 301.8h0M519.5 346.3h0M487.2 335.9h0M524.1 335.1h0M516.2 311.1h0M487.6 354.5h0M513.5 309.5h0M488.9 352.9h0M506.1 299.8h0" stroke="#e2301f" stroke-width="2.4" stroke-linecap="round" fill="none"/>
<path d="M505.7 314.6h0M507.3 302.7h0M504.7 334.7h0M491.2 314.3h0M512.3 330.1h0M509.9 345.6h0M508.1 308.6h0M503.1 348.9h0M507.9 343.8h0M500.1 323.6h0M514.2 311.6h0M518 328.4h0M503 348.9h0M512.6 329.2h0M487 316.1h0M492.2 313.2h0M496.8 354.9h0M489.5 355.2h0M507.4 334.5h0M513.1 324.6h0M516.4 324.1h0M493.6 357.3h0M496.9 343.3h0M512.9 320.1h0M494.7 308.2h0M505.7 327.1h0M514.8 352h0M499.8 307.7h0M499.4 342.4h0M511.5 320.8h0M506.3 304h0M521.5 325.1h0M505.6 346.1h0M493.7 341.8h0M499.7 347.7h0M489.7 312.1h0M510.6 325.8h0M500.6 332.2h0M494.4 322.8h0M495.8 349h0M507.4 333.7h0M519.4 346h0M512.2 347.9h0M502.9 338.5h0M489.9 321.2h0M505.7 303.7h0M494.6 351.3h0M501 303.7h0M493.1 332.1h0M493.4 325.3h0M506.8 323h0M505.5 349.4h0M515.7 331.6h0M506.8 308.3h0" stroke="#fff" stroke-width="1.8" stroke-linecap="round" fill="none"/>
<polygon points="391,422 396,412 402,406 410,409 414.7,416 410,424 403,425.6 396,423" fill="#1b8a45"/>
<path d="M404.2 426.7h0M397.4 408.7h0M406.1 407.7h0M411.7 420.3h0M414.4 415.1h0M401.4 424.7h0M400.3 408.8h0M392.8 417h0M401.1 406.2h0M404.2 424.8h0M399.4 409.6h0M393.6 414h0M391.3 422.3h0M404.3 426.1h0M407.6 408.5h0M393.3 422.6h0M410.5 407.5h0M412.1 412.4h0M396.7 424.5h0M413.4 416.4h0M397.6 407.8h0M391.9 418.8h0M393.8 422.4h0M412.9 419.3h0M394.4 415.8h0M408.5 425.8h0M411.3 421.4h0M409.8 410.9h0M405.3 407.9h0M401.6 405.8h0M414.4 414.9h0M410.1 425.4h0M391.6 419.6h0M395.5 412.3h0M410 409.5h0M403 405.8h0M410.6 411.9h0M402.2 405h0M407.8 407.4h0M395.3 415.9h0M399.3 425.1h0M405.8 425.5h0M411.2 415h0M397.6 424.9h0M410.2 408.9h0M396 424.4h0M411.4 425h0M393.7 417.1h0M391.2 421.2h0M412.2 411.4h0M398.8 409.8h0M396.6 410.8h0M401.6 425.7h0M399.4 408.5h0M409.2 426h0M407.1 407.4h0M395.4 416.7h0M413.6 416.9h0M412.9 413.7h0" stroke="#1b8a45" stroke-width="2.4" stroke-linecap="round" fill="none"/>
<polygon points="178.4,450 186,441 197,439.5 203,442 205.5,452 200,458 190,461 180,462.5 178.4,456" fill="#c27c3c"/>
<path d="M196.2 439.1h0M196.1 439.3h0M182.7 462h0M183.2 442.8h0M189.2 461.7h0M178.6 461.4h0M181.4 458.5h0M195.5 438.5h0M192.2 440.3h0M182.3 461.9h0M180 461.6h0M198.3 459.7h0M191.6 461.7h0M182.4 443.7h0M193.1 460.4h0M177.6 453.9h0M202.7 441.4h0M194.3 460.2h0M205 455.8h0M178.9 449.8h0M205.4 449.5h0M187.6 459h0M181.4 461.8h0M183.6 462h0M203.7 440.6h0M179.7 461.9h0M186.2 440.6h0M201.5 441.5h0M190.4 462.9h0M201 440.3h0M195.7 439.8h0M204.3 447.9h0M179.6 461.1h0M178.5 454h0M180.9 449.4h0M199.7 457.5h0M198.3 439.5h0M178.8 450.5h0M181.5 462.3h0M182.3 460.9h0M183.2 463.2h0M195.2 440.1h0M189.3 460h0M195.2 457.6h0M181.7 461.8h0M178.1 456.2h0M200.2 438.9h0M194.4 457.3h0M184.2 462.1h0M186.5 461.9h0M198 458h0M193.1 459.9h0M184.6 441.6h0M179.5 454.1h0M183.6 461.4h0M178.6 452.6h0M205.9 449.2h0M205 445.6h0M180.1 460.7h0M193 441.1h0M202.9 443.6h0M197.4 438.7h0M190.5 440.5h0M184.3 444.5h0M179.7 460h0M179.4 461.7h0M178.5 449.7h0M198.8 459.2h0M202.2 443.1h0M183.5 441.9h0M200.4 459.1h0M181.1 460.2h0" stroke="#c27c3c" stroke-width="2.4" stroke-linecap="round" fill="none"/>
<path d="M179.6 459.7h0M196.4 445.9h0M202.7 445.2h0M194 448.2h0M186.4 457h0M195.1 447.1h0M179.2 450.1h0M193.4 456.2h0M191.4 454.1h0M192.9 455.7h0M187.1 459.7h0M180 457.7h0M179.2 454.4h0" stroke="#fff" stroke-width="1.8" stroke-linecap="round" fill="none"/>
<path d="M205 458h0M208 461h0M210 463h0M212 466h0M215 469h0M207 464h0M201 462h0" stroke="#d8b040" stroke-width="2.4" stroke-linecap="round" fill="none"/>
<polygon points="277.2,511.2 289.3,512.6 305.6,514 320,511 327.2,510.7 335.3,524.7 348.8,541 354.3,554.5 338,561.3 321.8,557.2 305.6,541 289.3,524.7" fill="#8b4a14"/>
<path d="M304.9 541.2h0M321.9 509.7h0M335.8 562.1h0M283.8 515.6h0M325.4 510.6h0M337.3 526.3h0M345.6 556h0M280.8 512.8h0M286.7 522.4h0M341.5 534.1h0M289.7 513.2h0M303.4 515.3h0M342.5 561.2h0M355.3 555.5h0M302.4 539.6h0M303.4 538.9h0M295.5 530.3h0M309.9 543.6h0M301.2 535.6h0M300.8 535.1h0M320.6 555h0M343.6 559.7h0M349.5 558.5h0M292.3 529.2h0M324.5 558.8h0M309.5 545.5h0M330.4 514.9h0M303 538.5h0M337.9 527h0M291.9 512.4h0M325 558.2h0M325.9 557.3h0M350.6 543.5h0M325.7 509.2h0M305.6 542.2h0M302 514.3h0M330.3 515.4h0M334.3 525.5h0M329.1 559.4h0M288.7 522.5h0M344.2 558.3h0M328.9 512.7h0M310 545.6h0M277.5 512.7h0M300 534.1h0M300.8 512.4h0M287 522h0M353.1 556h0M353 545.6h0M284.5 522.6h0M306.2 513.3h0M292 531.6h0M283.3 510.3h0M341.1 530.7h0M310.6 547.2h0M316.8 510.2h0M295.7 513h0M339.7 532.1h0M293.4 527h0M339.9 530.2h0M351.7 554.7h0M278.8 514.3h0M347.5 540.1h0M338.2 560.5h0M326.5 511.8h0M350.8 542.5h0M318.9 511.5h0M337.5 524.8h0M324.4 509.8h0M348.9 556.6h0M289.7 511.4h0M343.1 531.3h0M333.5 520h0M327 558.8h0M354.2 550.6h0M332.4 561h0M323.8 511.4h0M301.1 538.5h0M337.8 525.9h0M326 559.3h0M316.6 511.8h0M349.8 555.9h0M335.9 527h0M277.9 512.2h0M307.2 541.9h0M323.2 510.1h0M314.8 552.6h0M343.7 556.7h0M341.4 531.9h0M295.1 529.5h0M342.6 532.6h0M318.9 510.1h0M310.9 546.6h0M309.2 545.5h0M277.2 512.7h0M309.3 544.6h0M314.1 549.2h0M348.3 555.5h0M316.2 512.6h0M295.4 514.5h0M342.5 561.2h0M300.5 513h0M296.4 514.4h0M330.9 512.4h0M330.4 514.7h0M344.7 560.9h0M283.9 517.8h0M334.6 523.8h0M292.8 526.6h0M335.1 520.9h0M329.4 514.8h0M340.3 530.6h0M326 510.2h0M330.9 519.8h0M314.4 552.9h0M305.1 541.1h0M336.5 525.9h0M337.8 562.1h0M294 528.2h0M322.7 510.4h0M336.2 527.6h0M314.7 511.2h0M280.1 515.3h0M285.3 512.6h0M306.3 513.6h0M306.8 541.8h0M296.7 532.1h0M307.6 545.7h0M334.1 527.2h0M338.9 526.1h0M314.8 510.9h0M301.7 512.2h0M311.7 547.2h0M284.2 518.5h0M315.2 552.6h0M345.4 536.6h0M284.8 522.4h0M351.7 546.6h0M348.9 557.4h0M294 511.8h0M349.6 538.7h0M284.4 518.4h0M315 550.5h0M286.2 523.1h0M302.8 538.4h0M287.4 522.9h0M306.2 513.9h0M320.2 512.9h0M324.5 557.7h0M345.8 537.3h0M349.8 539.4h0M299.9 512.8h0M316.1 550.4h0M352.5 551.4h0M354 554.2h0M293.4 529.9h0M323.4 511.2h0M344.1 558.4h0M354.5 554.7h0M280.1 512.3h0M301.7 513.8h0M285.8 523.2h0M319.2 553.2h0M332.2 518.8h0M344.5 557h0M309.6 514.5h0M304.7 539.6h0M320.2 512.2h0M311.6 546.6h0M351.1 554.1h0M327.4 557.7h0M353.2 550.3h0M302 514.2h0M347.3 539.9h0M342 534.3h0M281.1 515.5h0M315.2 552.1h0M338.6 561.4h0M281.9 509.9h0M329.8 516.9h0" stroke="#8b4a14" stroke-width="2.4" stroke-linecap="round" fill="none"/>
<path d="M338.6 534.5h0M307.1 522.5h0M338.7 554.4h0M332.3 533.9h0M288.4 513.8h0M339.6 544.4h0M349.1 541.9h0M309.7 523.3h0M348.8 547.7h0M302.2 532.9h0M332.7 527.4h0M325.3 543h0M324.9 556.3h0M316.9 523.6h0M322.4 524.6h0M292 517.4h0M293.7 527.5h0M308.3 534.7h0M329.8 530h0M298.1 517.5h0M331.1 534h0M317.8 521.2h0M329.7 538.2h0M310.6 514.2h0M297.2 521.4h0M340.6 538.5h0M302.4 523.3h0M299.6 524.9h0M338 546h0M345.4 543.8h0M286 513h0M289.9 523.8h0M317.9 552.3h0M322.4 532.4h0M335.3 528h0M300.1 515.8h0M329.8 525h0M298.2 515.1h0M324.4 528.4h0M327.9 536.5h0M285.7 519.5h0M313.9 538.7h0M333.3 555.9h0M313.3 512.8h0M301.7 517.9h0M323.6 550.3h0M342.8 545.6h0M338.4 531.4h0M301.8 517.5h0M319.7 538.6h0M349.2 554.4h0M348.2 549.4h0M318.5 550.6h0M321.3 516.6h0M296.9 515.6h0M308.6 537.9h0M338.5 551h0M330.6 529.5h0M303.7 518.5h0" stroke="#fff" stroke-width="1.8" stroke-linecap="round" fill="none"/>
<polyline points="400,483 408,478 418,470" fill="none" stroke="#e8b8d0" stroke-width="2" stroke-linecap="round" stroke-linejoin="round"/>
<circle cx="404" cy="481" r="1.6" fill="#553"/>
<polyline points="469,447.5 475,443.5" fill="none" stroke="#c83058" stroke-width="3" stroke-linecap="round" stroke-linejoin="round"/>
<polygon points="598,440 605,435 612,436 625,442 633,450 637,462 630,468 618,470 606,473 600,468 598,455" fill="#8b1a6c"/>
<path d="M597.1 461.2h0M632.7 451.8h0M603.2 469.5h0M606.3 473.7h0M600.3 468.6h0M629.1 443.5h0M631 447.8h0M599.8 444.9h0M626.6 468h0M635.6 458.8h0M598.4 450.2h0M609.3 470.5h0M608.3 472.4h0M599.2 441h0M613.2 437h0M613.2 437.2h0M601.5 470.7h0M629.8 444.7h0M608.9 473.7h0M632.5 465.2h0M597.6 453.6h0M624.1 467.9h0M600.1 445h0M603.6 472.7h0M613.7 438.5h0M596.8 464.1h0M613.8 471.3h0M605 434.7h0M626.2 443.8h0M598.7 450.2h0M635.7 463.9h0M636 451.1h0M604.5 471.3h0M611.3 436.4h0M638.4 460.2h0M598.1 445.8h0M600.3 438.7h0M627.4 469.8h0M623.2 468.5h0M603 469.5h0M632.9 465h0M600.7 437.4h0M620 437.5h0M598.9 457h0M617.3 440.2h0M598.1 442h0M633 453.4h0M610.7 435h0M597.6 452.1h0M618.8 438.3h0M600.2 462h0M606.1 470.9h0M606.6 438.2h0M627.8 468.3h0M601.3 437.9h0M623.1 470h0M599.9 447.5h0M626.3 443.1h0M636.9 459.4h0M633.7 453.5h0M605.8 472.6h0M599.4 450.6h0M633.8 452h0M598.3 439.2h0M601.8 464.9h0M627.2 469.6h0M597.8 440.8h0M597.6 460.1h0M599.2 460.5h0M599.2 437.9h0M615.1 436.5h0M617.4 439.7h0M637.2 461.2h0M606.1 473.2h0M600.7 462.1h0M619 438.5h0M619.1 469.9h0M636.9 462.8h0M598.1 442.8h0M608.3 473h0M637.6 462.2h0M630.8 448.5h0M635.4 457.2h0M599.7 465.5h0M613.7 471.2h0M609.3 434.1h0M635.4 455.3h0M600.2 469.3h0M608 471.6h0M617.4 439.4h0M599.3 452.8h0M632.8 450.9h0M603.2 472.2h0M596.2 441.6h0M635.8 460.4h0M619 442.3h0M604.2 436.4h0M601 468.5h0M611.1 471.8h0M601.5 437.5h0M627.7 467.8h0M596.3 459.1h0M633 451.9h0M626.8 443.7h0M624.7 444.5h0M631.8 467.4h0M618.1 469.6h0M598.9 467.9h0M633.6 461.4h0M599.4 449.2h0M607.3 472.9h0" stroke="#8b1a6c" stroke-width="2.4" stroke-linecap="round" fill="none"/>
<path d="M630.4 460.6h0M622.6 446.9h0M608.4 470h0M611.3 448.3h0M598.2 450.9h0M602.4 462.6h0M629.6 465h0M630.9 466.5h0M618.1 443.9h0M628.1 465.5h0M610.7 448h0M615 439.9h0M625.4 454.8h0M627.9 447.8h0M614.1 463.3h0M625.4 468.7h0M610.1 467.2h0M626.8 456.8h0M613.9 456.5h0M601 438.7h0M610.1 439.7h0M599.9 462.2h0M626.5 458.4h0M606 462.4h0M630.2 458.5h0M606.9 456.5h0M613.4 445.2h0M603.8 467.9h0M604.7 445h0M609.8 455.5h0M616.8 469.6h0M620.5 459.2h0" stroke="#fff" stroke-width="1.8" stroke-linecap="round" fill="none"/>
<polygon points="465,535 470,525 480,519 490,522 495,532 497.8,549.4 488,546 476,548 467,545 464.5,538" fill="#c8c8c8"/>
<path d="M497.9 547.6h0M466.8 534.7h0M472.3 524.4h0M491.6 547.3h0M496.9 539.2h0M493 528h0M484.2 521.1h0M493.9 531.7h0M466.7 531.8h0M496.9 539h0M466.3 545.1h0M475.3 547.3h0M495.8 539.7h0M489 521.1h0M493.7 547.5h0M470.1 528.8h0M470.8 545.9h0M480.5 548.1h0M479.6 518.5h0M471.9 548.8h0M482.8 519.6h0M481.2 519.8h0M477.5 548.3h0M485.1 519.7h0M497.7 540.9h0M478.6 519.3h0M482.6 520h0M492.6 524h0M469.4 528.1h0M497.2 542.9h0M497 546.3h0M479.8 548.7h0M495.4 544.8h0M492.5 529.8h0M474.7 546.9h0M496.6 542.3h0M466.6 538.8h0M478.8 518.7h0M481.4 518.7h0M485.2 546.4h0M486.1 543.3h0M465.2 534.4h0M488 546.9h0M495.2 534.4h0M494.9 536.5h0M469.5 525.2h0M474.9 521.8h0M495.3 539.6h0M473.7 523.7h0M464.3 539h0M490 520.9h0M477.9 547.8h0M478.2 520.4h0M494.2 528.1h0M498.9 547.2h0M498.1 548.6h0M467.9 531.3h0M499.1 548.9h0M492.1 526.6h0M465.8 543.8h0M467.7 546h0M496.5 538.3h0M479.4 519.1h0M494.8 529.4h0M479.2 549.1h0M492.3 524.6h0M467.1 545.4h0M473.6 522.7h0M476 521h0M471.3 547.1h0M496.3 537h0M466 541.7h0M497.8 547h0M499.6 550h0M475.2 522.4h0M495.5 540.4h0M496.8 537.9h0M496.2 545.4h0M468.2 539.8h0M467.4 529.3h0M483.7 518h0M470.2 523.2h0M467.7 545.5h0M493.8 535h0M476.6 523.6h0M465.2 533.6h0M480 548h0M481 518.6h0M467.6 530.7h0M494.2 528.4h0M486.7 546.7h0M498 544.6h0M494.5 535.8h0M488.5 546.4h0" stroke="#c8c8c8" stroke-width="2.4" stroke-linecap="round" fill="none"/>
<text transform="translate(128.9,184.8) scale(1,1.04)" font-size="30.3" stroke="#0a0a0a" stroke-width="0.2" fill="#0a0a0a">LAMGA</text>
<text transform="translate(120.2,298.4) scale(1,1.04)" font-size="30.3" stroke="#0a0a0a" stroke-width="0.2" fill="#0a0a0a">VIPGA</text>
<text transform="translate(235.1,222.3) scale(1,1.04)" font-size="30.3" stroke="#0a0a0a" stroke-width="0.2" fill="#0a0a0a">ITL6GL</text>
<text transform="translate(277.7,362.5) scale(1,1.04)" font-size="30.3" stroke="#0a0a0a" stroke-width="0.2" fill="#0a0a0a">ITL5GL</text>
<text transform="translate(402.2,231) scale(1,1.04)" font-size="30.3" stroke="#0a0a0a" stroke-width="0.2" fill="#0a0a0a">ITL23GL</text>
<text transform="translate(389.1,285.1) scale(1,1.04)" font-size="30.3" stroke="#0a0a0a" stroke-width="0.2" fill="#0a0a0a">ITL4GL</text>
<text transform="translate(528.5,184.4) scale(1,1.04)" font-size="30.3" stroke="#0a0a0a" stroke-width="0.2" fill="#0a0a0a">SSTGA</text>
<text transform="translate(577.8,298.1) scale(1,1.04)" font-size="30.3" stroke="#0a0a0a" stroke-width="0.2" fill="#0a0a0a">PVGA</text>
<text transform="translate(467.6,386.4) scale(1,1.04)" font-size="30.3" stroke="#0a0a0a" stroke-width="0.2" fill="#0a0a0a">CTGL</text>
<text transform="translate(347.8,400) scale(1,1.04)" font-size="30.3" stroke="#0a0a0a" stroke-width="0.2" fill="#0a0a0a">PTGL</text>
<text transform="translate(145,495) scale(1,1.04)" font-size="30.3" stroke="#0a0a0a" stroke-width="0.2" fill="#0a0a0a">OPC</text>
<text transform="translate(230.5,563.2) scale(1,1.04)" font-size="30.3" stroke="#0a0a0a" stroke-width="0.2" fill="#0a0a0a">OGC</text>
<text transform="translate(441.2,476.3) scale(1,1.04)" font-size="30.3" stroke="#0a0a0a" stroke-width="0.2" fill="#0a0a0a">PER</text>
<text transform="translate(366.1,511.2) scale(1,1.04)" font-size="30.3" stroke="#0a0a0a" stroke-width="0.2" fill="#0a0a0a">VLMC</text>
<text transform="translate(582.2,503.3) scale(1,1.04)" font-size="30.3" stroke="#0a0a0a" stroke-width="0.2" fill="#0a0a0a">MGL</text>
<text transform="translate(457.8,579.8) scale(1,1.04)" font-size="30.3" stroke="#0a0a0a" stroke-width="0.2" fill="#0a0a0a">ASC</text>
<polygon points="310,800 316,797 322,798 328,803 330,812 326,820 323,828 317,835 311,832 309,818" fill="#7b1a5e"/>
<path d="M314.4 799.2h0M311.8 802.6h0M321.5 796.2h0M325.1 825.9h0M320.6 798.3h0M314.1 832.8h0M313.6 799.7h0M328.8 809.3h0M320.4 795.6h0M318.8 832.7h0M314.5 833.3h0M322.2 830h0M312.2 832.6h0M329.1 805h0M329.4 815.5h0M326.7 804.3h0M326.4 817.3h0M309.5 800.7h0M317.2 835.3h0M311.5 827.4h0M328.4 811.1h0M323.4 824.8h0M327.6 806.7h0M328.3 802.5h0M328.1 817.6h0M310.2 809h0M315.9 796.8h0M308.8 812.9h0M324.6 822.6h0M328.1 815h0M318 834.9h0M330.2 807.1h0M319.4 833h0M308.4 808h0M327.1 809.6h0M324.2 827.3h0M325.8 801.1h0M325.2 825.4h0M319.1 797.6h0M316 833.9h0M311.2 799h0M316.7 834.7h0M308.9 808.9h0M312.2 826.9h0M312.6 832.3h0M324.4 824.3h0M323.8 797.4h0M311.8 800.2h0M308.2 803h0M318.7 797.3h0M329.8 814.6h0M313.1 796.8h0M309.5 808.7h0M307 811.9h0M324.5 828.4h0M326.1 800.3h0M308.6 809.4h0M310.8 830.9h0M327.8 809.3h0M328.9 805.1h0M312.1 832.5h0M309.7 804.4h0M330.8 811.9h0M309.4 812.1h0M309.6 827.4h0M310.3 831.7h0M311.2 829.5h0M308.1 813.6h0M309.4 827.6h0M320.4 832.2h0M315.5 798.3h0M312.8 834h0M329.9 807.9h0M315.9 833.7h0M307.5 815.3h0M309.1 816.3h0M329.7 817.1h0M309.4 829.9h0M310.2 811.9h0M309.5 829.5h0M329.1 808.5h0M330.8 813.6h0M309.6 804h0M319 797.8h0M324.3 828h0" stroke="#7b1a5e" stroke-width="2.4" stroke-linecap="round" fill="none"/>
<path d="M316.6 807.5h0M322.6 811.8h0M317.9 820.1h0M320.1 830h0M327.8 809.4h0M322.6 821.9h0M310.6 799.9h0M327.9 810.8h0M313.1 821.1h0M310.3 818.3h0M324.5 803h0M320.5 828.3h0M323 803.8h0M316.1 809.4h0M315.9 799.9h0M328.9 810.6h0M317.2 829.5h0" stroke="#fff" stroke-width="1.8" stroke-linecap="round" fill="none"/>
<polygon points="308.1,913.5 307.4,919.3 306.8,924.7 303.6,929.9 299.8,933.7 296.4,938.3 291.9,939.2 287.2,940.5 282.2,940.3 277.4,939.4 273.3,937.6 268.8,934.2 266,929.8 263.4,924.7 261.1,919.2 262.1,913.5 262.2,907.6 264.2,902 266.1,896.5 269.4,892.8 273.2,889.2 277.6,886.5 282.3,885.2 287.1,885.8 291.9,886.4 296.5,889.4 299.8,893.3 303,897.5 305.4,902 307.2,907.5" fill="#f4c814"/>
<path d="M287.4 941.1h0M299 933h0M285.2 939h0M262.2 923.6h0M263.4 923.2h0M305.4 906h0M305.5 925.3h0M266.8 933.2h0M284.6 940.9h0M272.5 887.9h0M308.9 905.8h0M297.8 890.5h0M308.5 908.7h0M266.1 895.8h0M298.6 934.1h0M302.9 930.6h0M300.8 896.4h0M280.9 939.4h0M269.3 891.8h0M304.7 926.2h0M295.1 888.9h0M276.4 938.1h0M269 893.7h0M277.5 886.4h0M262.2 917.5h0M262.2 905.2h0M308.2 919.5h0M270.3 936.1h0M306.3 902.3h0M265 897.4h0M307.4 918.2h0M263.9 903.4h0M296.8 935.6h0M307.2 911.1h0M308.9 915.3h0M301.2 893.3h0M261.6 918.4h0M305.7 925.1h0M277.8 888.2h0M266.2 893.2h0M277.2 938.5h0M303.7 895.9h0M265.4 900.2h0M308.2 908.2h0M294.6 886.9h0M291.8 887.2h0M291.1 885.4h0M301.1 894.9h0M262.7 920.3h0M305.8 926.7h0M300.7 931.4h0M263.6 926.5h0M305.3 905.3h0M260 920.4h0M302.4 928.2h0M285.4 885.4h0M305.5 929.2h0M302 895.2h0M284.8 884.4h0M299.7 893.7h0M262 910.2h0M277.3 938.3h0M264.2 927h0M276.7 887.6h0M264.4 914.8h0M276.4 938.9h0M292.3 939.5h0M299.4 934.3h0M307.1 921.4h0M295.9 940h0M262.5 923.5h0M301.6 930.3h0M304.4 927h0M282.1 883.9h0M266.2 897.5h0M277.5 886.4h0M263.9 927.3h0M299.3 894.1h0M286.7 887.1h0M266.2 932.3h0M273.4 891.6h0M297.2 938.1h0M306.1 913h0M308 919.3h0M307.5 918.5h0M285.4 885.5h0M270 935h0M270.5 934.4h0M307.6 907.5h0M305.8 899.9h0M262.6 910h0M290 941.2h0M273.5 936.3h0M297.8 890.1h0M261.6 911.8h0M274.9 888.2h0M265.2 901.1h0M286.3 885.6h0M262.4 905.5h0M259.8 917.5h0M305.7 925.1h0M264.9 900.4h0M288.5 939.8h0M301.5 894.8h0M265.4 905.2h0M269.2 894.8h0M261.5 913.6h0M303.9 899.3h0M295.6 887.8h0M279.8 884.7h0M307.1 924.1h0M292.2 885.9h0M304.6 895.5h0M305.6 906.2h0M271.9 890.2h0M262.3 913.1h0M298.9 889.9h0M273.9 887.9h0M273.4 890.1h0M307.7 909.8h0M306.1 927.6h0M308 917h0M300.3 896.4h0M265.4 933.3h0M262.4 906.1h0M307.9 914.7h0M295.7 891.4h0M274.4 890.3h0M273.9 938h0M297.1 888.4h0M275.3 888.2h0M273.1 936.3h0M300.6 934.1h0M308.8 916.1h0M301.1 932.6h0M284.7 884.6h0M263.8 906.8h0M267.2 930.4h0M306.5 907.4h0M273.4 936.5h0M276.6 890.7h0M278.3 885.7h0M302.2 928.8h0M288.6 885.7h0" stroke="#f4c814" stroke-width="2.4" stroke-linecap="round" fill="none"/>
<path d="M283.6 900.1h0M289.6 907.2h0M282.5 915h0M288.7 934.5h0M274.3 900.4h0M267 905.1h0M275.4 888.9h0M272.8 913h0M283.3 922.9h0M276.6 890.2h0M298.7 933.9h0M300.7 921.2h0M275.2 930.6h0M304.1 926.9h0M291.4 893.3h0M292.4 922.4h0M272 911.6h0M271 933.4h0M290.7 923.4h0M290.3 888.6h0M302.7 928.3h0M285.3 917.9h0M284.2 927h0M286.1 900.6h0M285.3 897h0M302 925h0M270.9 913.3h0M288.5 917.3h0M282.7 913.4h0M293.4 934h0M285.3 928.6h0M293 891.8h0M273.3 902.5h0M277.7 912.4h0M295.6 905.7h0M294 936.4h0M268.6 920h0M306.1 906h0M302.3 929.7h0M276.1 893.2h0M299 908.2h0M277.5 910.9h0M295.3 934.7h0M304.1 927.6h0M269.3 905.6h0M277.1 895h0M283.5 892.5h0M291.8 907.9h0M272.7 923.2h0M300.5 926.9h0M302.3 901.5h0M273.5 923.7h0M291.8 915.5h0M281 939.5h0M267.9 917.9h0M296.2 930.2h0M296.3 895.1h0M287 889.7h0M269.9 894.8h0M279 929.8h0" stroke="#fff" stroke-width="1.8" stroke-linecap="round" fill="none"/>
<polygon points="495.6,765 496.1,768.1 494.1,770.5 491.2,773.5 488.5,775.6 484.3,776.4 480.2,777.9 475.7,776.9 471.3,776 467.5,775 463.7,773.5 461.3,770.6 461,768 459.1,765 459.3,761.9 461.9,759.2 463.9,756.3 467.3,754.7 471.2,753.3 475.9,752.5 480.2,752.8 484.5,753.7 488.3,754.4 492.5,756.8 495.1,759.5 496,761.9" fill="#b5ad30"/>
<path d="M480.5 753.4h0M494.6 760.3h0M469.6 776.1h0M464.4 772.1h0M476.9 752h0M490.2 775.3h0M463.7 757.1h0M473.2 751.5h0M475.7 777.4h0M467.7 754.5h0M481.7 753h0M460.5 762h0M470.1 753.5h0M459.3 763.4h0M492.3 755.8h0M482.2 777.9h0M461.8 769.7h0M462.3 759.5h0M469.9 754.1h0M497.2 768.6h0M490 775.3h0M459.7 762.4h0M470.3 753.8h0M457.4 769.5h0M495.2 769.7h0M462.4 759.9h0M489.7 773.7h0M495.5 761.4h0M476.1 777.7h0M465.1 774h0M463.3 771.7h0M459.2 762.4h0M475.4 753.6h0M482.5 776.9h0M483.7 777.6h0M478.7 752.8h0M494.4 771.8h0M466.2 753.8h0M461.3 769.2h0M479.9 751.6h0M488.6 776.4h0M464 755.6h0M462.7 759h0M486.2 753.4h0M460.2 770.8h0M490.3 775.1h0M485.9 775.7h0M488 754.5h0M491.5 755.3h0M477.7 777.2h0M486.9 754.3h0M468.1 776.1h0M496.8 763.2h0M496.8 760.5h0M462.2 761.1h0M459.9 763.8h0M465.3 754.2h0M488.8 775.2h0M485.4 776.2h0M488.5 775.5h0M464.4 756.8h0M467.1 754.8h0M473.4 752.2h0M463.1 771.8h0M457.6 765.3h0M470.2 773.9h0M481.1 753.3h0M487.6 754.7h0M494.7 766.3h0M496.5 760.3h0M460.5 766.2h0M460.2 764.7h0M495.8 770h0M496.2 765.3h0M480.7 755.2h0M495.9 767.7h0M488.7 755.2h0M492.7 755.6h0M494.1 769.6h0M489.9 776.2h0M462.9 759.2h0M495.3 770h0M463.2 766.5h0M482 777.9h0M465.2 754.5h0M479.4 752.7h0M470.2 753.7h0M460.8 767.3h0M462.4 769.7h0" stroke="#b5ad30" stroke-width="2.4" stroke-linecap="round" fill="none"/>
<path d="M494.5 767.2h0M481.1 777.3h0M488.8 761.1h0M493.6 769.3h0M494.2 768h0M486.7 767.7h0M486.6 764h0M463.7 766.7h0M468.9 759.2h0M491.5 768.2h0M486.7 773.3h0M475.2 764h0M475.1 761.6h0M487.9 775h0M470.1 770.6h0M484.4 772.2h0M485.7 760.7h0M487.2 774h0M475.1 759.5h0M473 766h0M478.6 760h0" stroke="#fff" stroke-width="1.8" stroke-linecap="round" fill="none"/>
<polyline points="374.6,877 385,870 400,866 410,858 419,850" fill="none" stroke="#1e7a3c" stroke-width="2.4" stroke-linecap="round" stroke-linejoin="round" stroke-dasharray="9 3 12 4 3 4 14 2"/>
<polygon points="520.7,897.8 521,902 519.4,906 517,909.2 514.4,912.6 511.5,914.7 507.7,916.1 503.7,918 499.6,917 495.6,916.6 491.9,915.3 488.5,912.9 485.8,909.7 484.3,906 482.8,902 481.9,897.8 482.3,893.7 483.9,889.6 486.3,886.1 488.6,882.9 492,880.5 495.6,879.1 499.6,877.6 503.7,878.1 507.7,878.6 511.3,880.9 514.7,883 517.1,885.8 519.5,889.6 520.7,893.8" fill="#e2291b"/>
<path d="M486.4 910.7h0M519.7 894.7h0M521 902.3h0M490.6 882.9h0M497.7 916.3h0M482.1 894.2h0M517.7 906.5h0M503.6 877.6h0M513.2 883.3h0M521.2 897.5h0M482.3 903.2h0M503.5 916.6h0M519.8 906.6h0M497.3 918.1h0M490.6 911.2h0M515 912.5h0M483.4 905.8h0M516.5 884.9h0M516 910.8h0M483.2 907.1h0M521.7 893.6h0M490.4 883.3h0M516.5 884.2h0M512.5 913.8h0M504.4 878.6h0M520.8 898.9h0M494.6 915.7h0M520 896.9h0M493.2 912.9h0M489.1 916.2h0M483.6 906.7h0M499.7 877.9h0M512.7 882.8h0M509.6 878.4h0M497.3 876.9h0M519.2 891.9h0M519.8 898.5h0M521.5 897.8h0M520.4 889.6h0M505 877h0M483.8 900.3h0M501.7 878.2h0M507 878.9h0M482.1 898h0M491.7 914.1h0M491.1 881.8h0M519.9 889.5h0M488.6 914.4h0M518.8 901.3h0M520.6 904.6h0M520.4 895.9h0M501.5 878.1h0M514.6 881.1h0M504.2 917.2h0M487.5 913h0M518.8 893.4h0M518.7 888.6h0M486.1 910.6h0M499.9 879.1h0M488.4 911.3h0M490.3 882.3h0M521.7 897.6h0M490.8 880.3h0M487.8 910.8h0M499.2 877.1h0M484.2 907.9h0M485.3 907.9h0M521 895.2h0M488.8 884h0M514.5 884.5h0M505.3 919.2h0M488 882.8h0M510 915.6h0M484.8 890.1h0M492.5 917.2h0M488.8 911.5h0M489.5 912.2h0M481.8 890.9h0M483.1 891.8h0M519.9 893.2h0M518.9 886.1h0M520 898.3h0M484.5 888.6h0M512.1 882.2h0M521.5 902.9h0M482.8 894h0M495.9 917.8h0M489.3 913.2h0M519.2 902.4h0M515.9 912.8h0M520.9 904.9h0M511.6 914.6h0M516.8 909.5h0M518 885.8h0M483.5 887.9h0M480.4 899.3h0M494.2 917.4h0M520 894.2h0M485.8 910.2h0M506.9 879.5h0M496 916h0M515.3 910.7h0M489.5 881.4h0M503.7 918.7h0M518.1 884.2h0M485.5 910.3h0M483.5 902.4h0M486.7 911.9h0M495 916.6h0M492.8 879.4h0M498.1 877.4h0" stroke="#e2291b" stroke-width="2.4" stroke-linecap="round" fill="none"/>
<path d="M491.7 901.8h0M510.1 897.6h0M496 880.8h0M503.6 908.9h0M508.7 896.6h0M512.9 894.3h0M494.4 899.3h0M504.8 895.8h0M513.9 906.1h0M513.9 887.9h0M501.6 899.6h0M504.7 878.3h0M513.7 895.7h0M488.1 912.2h0M503.7 907.5h0M510.8 902.8h0M494.9 884.2h0M506.8 886.5h0M488.7 899.5h0M499.7 896.4h0M482.3 899h0M491.8 881.3h0M497.6 884.4h0M500 884.2h0M510.6 913h0M494.5 880.5h0M507.3 908.2h0M500.8 913.6h0M487.6 906.7h0M515.1 895.3h0M501.9 911.9h0M496.7 887.9h0M494 891.9h0M498.9 881.9h0M496.2 889.4h0M519 894.6h0" stroke="#fff" stroke-width="1.8" stroke-linecap="round" fill="none"/>
<polyline points="460,889 470,889.5 483,892" fill="none" stroke="#e2291b" stroke-width="3" stroke-linecap="round" stroke-linejoin="round"/>
<circle cx="615" cy="881.7" r="2" fill="#a02090"/>
<polygon points="464,1015 470,1006 478,1005.6 480,1015 478,1030 474,1040 468,1043.5 465,1035 466,1025" fill="#c08840"/>
<path d="M464.4 1017.7h0M467.4 1024.7h0M473.8 1041.5h0M479.9 1025.2h0M465.9 1019.6h0M467.4 1040.8h0M464.5 1011.7h0M477 1005.9h0M477.4 1036.5h0M480.4 1024h0M479.1 1026.2h0M474.8 1038.7h0M481.3 1016.2h0M466.6 1041.2h0M464 1030.5h0M471.9 1005.5h0M469.4 1009.1h0M480.6 1014h0M475.5 1030.3h0M481.1 1013.1h0M477 1036.7h0M465.5 1037.2h0M477.9 1006.3h0M470.1 1042.8h0M466.3 1029.4h0M475.6 1026.2h0M465 1021.3h0M466.2 1023.9h0M470 1044.3h0M468.8 1044.6h0M462.5 1012.8h0M463.4 1033.1h0M465 1020.1h0M479 1019.3h0M473.7 1005.9h0M479.4 1030.3h0M478.5 1005.9h0M471.2 1040.9h0M470.6 1040.8h0M474.1 1006h0M472.6 1041.7h0M467 1026.1h0M476.9 1032.7h0M469.9 1006.1h0M479.3 1013.1h0M468.9 1007.4h0M476.9 1006h0M478.3 1015.1h0M479.2 1029.2h0M475.6 1037.4h0M469.8 1044.9h0M469.8 1012h0M477.6 1022.9h0M469.5 1006.9h0M466.5 1036.8h0M473.4 1006.3h0M474.2 1006.9h0M465.6 1015.7h0M476.4 1027.9h0M468.1 1007.3h0M465.4 1035.8h0M473.1 1004.3h0M475.2 1034.5h0M478 1007.2h0M479.8 1010.2h0M462.4 1017.6h0M466.2 1024.3h0M476.7 1027h0M479.3 1023.8h0M477 1033.8h0M480.8 1013.3h0M471 1042h0M475.7 1035h0M480.4 1016.5h0M466.5 1029.4h0M478.3 1018.9h0M468 1029.6h0M480.7 1022.5h0M478.7 1012.9h0M467.3 1030h0M467.6 1042.6h0" stroke="#c08840" stroke-width="2.4" stroke-linecap="round" fill="none"/>
<path d="M470.1 1021h0M475.5 1022.4h0M479.1 1012.9h0M477 1020.9h0M470.9 1028.3h0M468.6 1039h0M476 1015.3h0M470.5 1021.4h0M475.3 1016.4h0M469.7 1024.7h0M467.8 1021.9h0M476 1024.7h0" stroke="#fff" stroke-width="1.8" stroke-linecap="round" fill="none"/>
<path d="M467 1046h0M466 1049h0M465 1052h0M466 1054h0" stroke="#7090c0" stroke-width="2.2" stroke-linecap="round" fill="none"/>
<polygon points="584,1030 590,1018 600,1016.8 612,1030 625,1045 626.3,1058 618,1066 612,1078 604,1083 596,1082 592,1072 588,1062 585,1045" fill="#8b1a1e"/>
<path d="M587.5 1022.5h0M609.8 1029.5h0M625.9 1047.8h0M589.4 1019.8h0M613.1 1073.5h0M606.3 1081.4h0M589.2 1022.8h0M609.5 1078.6h0M620.6 1039.3h0M585.5 1045.5h0M596.5 1080.3h0M590.6 1066.6h0M621.4 1040.4h0M605.4 1024.6h0M595.1 1077h0M589.3 1019.3h0M592.8 1076.7h0M586.6 1027h0M624.6 1059.7h0M615.7 1070.7h0M625.4 1052.1h0M587 1052.9h0M614.4 1034.5h0M618 1037.4h0M607.9 1083.3h0M594.8 1018.2h0M622.9 1046.1h0M592.6 1016.9h0M613 1032.8h0M585.9 1048h0M588.1 1020.9h0M625.2 1058.7h0M586.2 1022.6h0M594.1 1018.3h0M613.3 1032.4h0M613.5 1074.2h0M583.6 1039.4h0M621.4 1042.1h0M585.3 1053.7h0M603.7 1021.5h0M583.3 1046.5h0M612.5 1076.8h0M584.1 1040h0M612.8 1075.3h0M586.5 1057.3h0M619 1036.7h0M622.4 1040h0M597.7 1080.8h0M627.5 1048.8h0M597.1 1082.7h0M588.9 1021.8h0M608.4 1079.6h0M585 1027.2h0M607.4 1081.5h0M585 1047.7h0M585.6 1027h0M626 1058.8h0M584.3 1029.7h0M619.6 1040.4h0M608.8 1026.3h0M584.9 1033.1h0M593.9 1018.2h0M586.6 1024.6h0M592.9 1070.8h0M584.2 1025.2h0M603.8 1081.9h0M586.7 1059.8h0M618.2 1065.3h0M598.7 1081h0M583.4 1029.4h0M597.4 1016.9h0M615.5 1070.9h0M595.4 1080h0M616.3 1068.8h0M584.3 1032.4h0M605.2 1021.7h0M594.7 1078.5h0M583.6 1039.4h0M595.3 1078.9h0M622.5 1041.2h0M597 1016.7h0M626.2 1060.1h0M592.4 1073.1h0M587.2 1022.6h0M591.8 1076.3h0M586.7 1059.2h0M617.6 1067h0M594.1 1077.7h0M615.2 1068h0M626.9 1049.9h0M593.4 1068h0M626.8 1059.1h0M618.2 1065.6h0M613.5 1030.9h0M617 1034.7h0M593.3 1076.6h0M622.1 1063.9h0M585.2 1039.8h0M584.4 1026.7h0M617.5 1072h0M596.2 1083h0M587.7 1021.1h0M620.7 1040.7h0M585.2 1047.3h0M626.5 1059.2h0M624.1 1055.8h0M615.4 1037.9h0M617.8 1037.9h0M621.6 1041.2h0M585.9 1058h0M612.3 1075.8h0M600.6 1018.7h0M585.2 1026.6h0M620.7 1062.9h0M597.9 1016.8h0M583.7 1052.1h0M585.8 1054.4h0M626.4 1056.7h0M595.4 1076.2h0M617.1 1066.4h0M610 1079h0M583 1031.7h0M592 1016.6h0M612.1 1029.2h0M593.9 1078.7h0M592.1 1068h0M616.5 1070h0M614 1073.2h0M589.5 1020.7h0M625.9 1050.9h0M624.7 1046.2h0M607.6 1079.9h0M600.7 1084.4h0M615.9 1072.1h0M608.7 1025.1h0M624.7 1046.8h0M597.3 1084.6h0M583 1046.3h0M583.7 1031.6h0M611.6 1030.3h0M611.4 1029.2h0M606.3 1081.6h0M613.1 1032.2h0M585.8 1026.9h0M618.8 1036.4h0M615.7 1072.6h0M586.9 1049.5h0M585 1044.8h0M598 1015.9h0M625 1046.1h0M607.7 1080.6h0M590.9 1069.2h0M590.1 1070.3h0" stroke="#8b1a1e" stroke-width="2.4" stroke-linecap="round" fill="none"/>
<path d="M592.7 1026h0M613.5 1041.3h0M607.8 1041.2h0M595.3 1027.6h0M616.2 1045.5h0M590.5 1032h0M590.6 1053.8h0M619.2 1044.7h0M602.5 1023h0M595.1 1074.5h0M596.1 1076.4h0M589.9 1044.8h0M594.4 1018.2h0M606.6 1053.2h0M593 1033.9h0M601.8 1025.4h0M608.1 1036.3h0M607.7 1034.8h0M594.5 1064.7h0M608.8 1031.4h0M603.7 1055.2h0M596.9 1056.8h0M589 1044.2h0M590.2 1053h0M609.1 1058.2h0M621.4 1057.1h0M609 1071.6h0M607.3 1045.6h0M590.8 1048.6h0M614.2 1069.4h0M621.8 1051.1h0M606.9 1068h0M593.9 1018.5h0M620 1054.3h0M589.7 1051.3h0M590.3 1056.2h0M612.6 1056.7h0M598.9 1043h0M600.7 1075.2h0M596.1 1062.6h0M608 1035.6h0M596.7 1029.6h0M613.6 1062.7h0M599.4 1024.6h0M609.2 1039.1h0M607.3 1060.2h0M587.7 1031.6h0M602 1071.9h0M597.1 1080.1h0M595.6 1067.9h0M600.6 1067.8h0M608.3 1077.6h0M602.3 1046.5h0M591.1 1035h0M608.1 1036.8h0M623.6 1045.9h0" stroke="#fff" stroke-width="1.8" stroke-linecap="round" fill="none"/>
<polygon points="145,1072 152,1069.7 165,1071 178,1073 184.4,1077 178,1082 172,1089.6 168,1090 160,1084 150,1078" fill="#6cc024"/>
<path d="M179.9 1072.2h0M168.1 1090.4h0M161.4 1071.3h0M175.5 1085.4h0M153 1079.9h0M145.6 1071.7h0M177.7 1084h0M172.4 1088.1h0M157.9 1081.3h0M150 1076.7h0M175.9 1083.7h0M160.3 1071.6h0M178.2 1082.8h0M143.8 1073.2h0M152.1 1069.7h0M155.4 1082.8h0M149.1 1075.2h0M174.8 1071.3h0M167.6 1089.1h0M165 1088.6h0M153.3 1069.7h0M170.3 1072.8h0M183.4 1075.4h0M176 1083.9h0M156.9 1082.7h0M177.2 1073.5h0M152.8 1070.1h0M181.7 1075.3h0M161.1 1086.3h0M183.7 1074.8h0M155 1069.8h0M162.7 1086.9h0M148.5 1071h0M168.1 1071.3h0M180.3 1075.9h0M161.4 1084.2h0M152.5 1069.8h0M167.8 1070.2h0M153.6 1072h0M174.6 1086.2h0M150.2 1071.7h0M148.2 1070.3h0M145 1072.9h0M173.5 1086.1h0M182.8 1077.7h0M184.4 1077.3h0M174.4 1084.8h0M180.3 1078.5h0M144.7 1073.2h0M147 1072.6h0M173.1 1073.1h0M182.2 1076.4h0M181.4 1078.8h0M169.9 1089.2h0M168.6 1071.7h0M167.4 1090.6h0M174.2 1087.3h0M181.3 1079.8h0M184.3 1077.6h0M171.3 1088.7h0M152.3 1071.3h0M159.7 1086.2h0M180.7 1074.4h0M151.9 1078.8h0M170.1 1072.6h0M148.3 1070.7h0M170.2 1071.9h0M148.6 1074.8h0M153.1 1079.7h0M172.3 1071.8h0M166.5 1071.8h0M169 1090.9h0M154.3 1081.2h0M167.6 1070.2h0M147.2 1076.5h0M172.7 1074.4h0M149 1074.1h0M180 1077.7h0M184.8 1075.4h0M169.8 1073.1h0M159.7 1071.1h0M157.4 1068.1h0M155.9 1082.5h0" stroke="#6cc024" stroke-width="2.4" stroke-linecap="round" fill="none"/>
<path d="M172.1 1078.7h0M165.5 1072.3h0M154.5 1076.7h0M159.1 1083.1h0M154.5 1074.5h0M152.7 1079.6h0M154 1079.5h0M171.3 1078.8h0M167.5 1080.4h0M158.6 1071.4h0M174.2 1085.4h0M162.1 1085.3h0M162.8 1085.5h0" stroke="#fff" stroke-width="1.8" stroke-linecap="round" fill="none"/>
<polyline points="170,1090 176,1100 181,1108 186,1117" fill="none" stroke="#6a5a20" stroke-width="2" stroke-linecap="round" stroke-linejoin="round"/>
<polygon points="185.6,1120 192,1117 198,1120 200.5,1135 199,1150 196,1158 192,1155 189,1140 186,1128" fill="#8b4513"/>
<path d="M190.9 1144.8h0M193 1116.7h0M199.6 1142.9h0M191.1 1154.4h0M199 1122.2h0M187.1 1139.5h0M189.3 1148.2h0M195.6 1158.7h0M189.7 1136.1h0M189.7 1148.7h0M189 1145.1h0M189 1143.6h0M189.6 1117.2h0M200.8 1143.1h0M186.1 1131.1h0M188.7 1140.9h0M199 1128.2h0M184.8 1123h0M185.5 1128.1h0M191.8 1152.6h0M184.9 1131.1h0M198.3 1126.3h0M187.7 1137.6h0M200 1142.5h0M190.5 1148.8h0M197 1142.8h0M197.6 1143.5h0M189.1 1145.8h0M199.8 1128.1h0M192.5 1153.6h0M197.7 1121.8h0M191.3 1149.6h0M200.4 1142h0M192.1 1154.1h0M186.5 1121.7h0M196.4 1155h0M199.8 1139h0M198.9 1146.5h0M198.8 1150.4h0M196.9 1153.4h0M197.6 1151.4h0M185.7 1121.8h0M195.3 1156.8h0M199.3 1143.8h0M189.3 1138.5h0M195.4 1158.1h0M186.9 1143.8h0M186.7 1127.9h0M195 1118h0M191.4 1150h0M191.9 1118.9h0M195 1154.6h0M189.2 1141.3h0M199 1142.1h0M199 1128.1h0M199.3 1123.1h0M196.7 1156.3h0M200.4 1120.1h0M186.8 1136.4h0M192.5 1153h0M188.2 1147h0M190.2 1136.8h0M200.3 1138h0M189.6 1139.1h0M200.6 1147.7h0M189 1140.2h0M189 1140.9h0M201.2 1134.3h0M198.2 1133.7h0M187.3 1138.5h0M188.8 1119.3h0M191.9 1153.7h0M187.5 1133.8h0M193.5 1117.8h0M194.4 1156.5h0M196.9 1154.9h0M194.8 1118.4h0M186.3 1128.4h0M197.9 1124h0M191.9 1151h0M184.5 1122.8h0M199.8 1139.9h0M187.3 1123.1h0" stroke="#8b4513" stroke-width="2.4" stroke-linecap="round" fill="none"/>
<path d="M190.4 1141.5h0M193 1129.7h0M192.3 1117.2h0M199.9 1134.8h0M194.3 1141.8h0M196.8 1149.4h0M196.5 1144.9h0M187.5 1133.8h0M193.2 1118.7h0M197 1121.2h0M194 1127.9h0M194.8 1147h0" stroke="#fff" stroke-width="1.8" stroke-linecap="round" fill="none"/>
<polygon points="236.6,1031 243,1030 246,1037 255,1050 264,1066 261,1068.4 252,1060 244,1048 238,1038" fill="#e8e07a"/>
<path d="M253.9 1062.8h0M242.2 1030.5h0M254.7 1065.6h0M250.7 1046.3h0M247.8 1055.4h0M248.9 1055.3h0M250.7 1043.2h0M238.8 1038.9h0M248.4 1037.3h0M254.6 1047.6h0M251.3 1044.3h0M246.9 1035.5h0M250.2 1045.7h0M258.1 1056.7h0M238.2 1036.2h0M266.6 1064.7h0M237.1 1030.4h0M250.3 1042.9h0M237.7 1031.4h0M239.3 1040h0M238.9 1042.9h0M246.5 1035.2h0M262.9 1068.3h0M244 1050.9h0M261.4 1068h0M246.2 1052.5h0M254.6 1052.9h0M250.9 1047.3h0M252.6 1060.8h0M245.7 1051.9h0M260.1 1058.2h0M246 1048.5h0M244 1039.9h0M236.4 1031.5h0M247.2 1040.5h0M243.7 1029.3h0M248.6 1040h0M256.6 1053.7h0M256.9 1054.1h0M264.2 1065.3h0M245.1 1035.3h0M247.1 1036.9h0M247.8 1040.2h0M240.5 1041.8h0M242.8 1048.5h0M256.9 1050.9h0M243.3 1030.5h0M263.8 1065.9h0M252.2 1059.4h0M239.8 1030.9h0M258.4 1066h0M255.9 1060.7h0M247.9 1053.1h0M252.4 1045.4h0M241.4 1042.5h0M247.2 1038.8h0M263.8 1067h0M251.5 1059.3h0M243.7 1029.1h0M237.9 1038.7h0M239.9 1039.8h0M242 1030.6h0M241.5 1045.1h0M262.4 1060.1h0M245.7 1036.4h0M247.3 1055.1h0M260.4 1059.9h0M246 1036.4h0M260.1 1059.6h0M252.3 1043.1h0M262 1058.2h0M241.3 1042.5h0M262.4 1065.7h0M238 1035.5h0M245 1052.9h0M252.9 1049.2h0M237.3 1035.8h0M252.9 1059.8h0M253.4 1058.4h0M250.7 1055.7h0M260.1 1068.3h0M237.3 1033.1h0M255 1051.7h0M248.2 1039.4h0M257.1 1052.8h0M257.3 1066.9h0M242.7 1029.4h0" stroke="#e8e07a" stroke-width="2.4" stroke-linecap="round" fill="none"/>
<polygon points="381.1,1118.4 382.5,1094.8 386.7,1080.9 393.6,1072.5 404.8,1068.3 418.7,1068.3 432.6,1071.1 445.1,1075.3 454.8,1073.9 463.1,1075.3 467.3,1080.9 465.9,1086.4 456.2,1090.6 447.9,1098.9 439.5,1108.7 435.3,1118.4 431.2,1121.2 427,1115.6 424.2,1101.7 417.3,1090.6 407.5,1087.8 397.8,1092 390.9,1101.7 386.7,1118.4" fill="#86862a"/>
<path d="M387.5 1113.8h0M382.9 1110h0M391.3 1100.8h0M424 1103.7h0M394.6 1095.1h0M382.1 1098.5h0M409.8 1068.5h0M424 1105.1h0M420.7 1067h0M436 1115.5h0M410.1 1087.7h0M396.3 1072.1h0M386.9 1117.1h0M457.9 1091h0M419.8 1095h0M394.2 1096.4h0M403 1069.1h0M383.2 1109.5h0M395.9 1071.2h0M437.9 1114.1h0M418.7 1091.8h0M381.8 1099.1h0M417.5 1094.1h0M392.1 1100.9h0M442.9 1073.6h0M388.7 1108.6h0M413.7 1067.5h0M457.9 1072.6h0M387.1 1081.4h0M420.9 1096.1h0M414.7 1091h0M380.4 1118.1h0M415.2 1067.6h0M463.1 1075h0M432.8 1120.1h0M382.9 1088.3h0M430.9 1118.4h0M420.7 1093.8h0M455.4 1092.4h0M383.3 1095.6h0M422 1068.6h0M418.9 1067.1h0M396.3 1070.9h0M382.3 1101.4h0M383 1116.6h0M400 1090.8h0M382.1 1111.2h0M437.3 1071.6h0M433.9 1071.8h0M426.4 1111.6h0M404.1 1068.2h0M464.5 1086.7h0M383.3 1087.6h0M384.8 1080.8h0M446.2 1101.3h0M420.4 1094.3h0M464.3 1086.2h0M437.9 1109.4h0M394.7 1096.4h0M393.1 1073.6h0M385.2 1117h0M464.7 1078.3h0M394.1 1096.4h0M426.9 1101.1h0M464.6 1085.8h0M459.3 1075.7h0M427.3 1071.8h0M438.1 1072.6h0M385 1085.8h0M426.1 1113.3h0M463 1086.5h0M443.4 1103.2h0M382.1 1103.2h0M411.9 1069.2h0M428.7 1114.1h0M418.1 1068.8h0M435.8 1073h0M446.4 1100.3h0M391.7 1102.4h0M400.1 1070.6h0M454 1093.8h0M426.1 1111.5h0M457.8 1090.2h0M444 1075.3h0M424.4 1106.5h0M436.3 1114.5h0M390.2 1100.9h0M413.3 1070.3h0M454.1 1073.5h0M442.3 1106.1h0M425.6 1070.8h0M454.6 1073.5h0M400.6 1090.8h0M450.7 1076.6h0M437 1112.9h0M427.9 1111.7h0M386.9 1116.3h0M397.2 1092.5h0M459.7 1076.3h0M399.9 1070.8h0M425.6 1070.4h0M467.3 1079.9h0M461.6 1089.1h0M391.3 1097.2h0M400.9 1090.6h0M380.4 1101.2h0M435.3 1072.9h0M453 1093.4h0M449.3 1095.4h0M394.9 1099.3h0M430.7 1071.3h0M414.2 1090h0M466.9 1083.2h0M381.1 1105.3h0M382.5 1119.8h0M453.8 1094h0M388 1110.8h0M383 1106.1h0M433.3 1120.2h0M437.5 1114.6h0M381.3 1118.3h0M393.9 1070h0M399.8 1070.7h0M401.3 1070.7h0M408.5 1067.7h0M416.2 1068.6h0M382 1104.5h0M432 1121.1h0M394.6 1095h0M452 1074.6h0M382.3 1104.2h0M400.7 1070.1h0M439.8 1109.9h0M426.1 1116.6h0M419.1 1094.8h0M381.5 1105.9h0M423.8 1069.5h0M393 1096.5h0M405 1089.6h0M395.8 1096.4h0M388.5 1107.2h0M389.7 1110.8h0M426.5 1113.4h0M382.6 1111.9h0M396.9 1094.1h0M387.2 1116.5h0M420.6 1068.2h0M437.7 1073.7h0M416.3 1089.5h0M405 1068.1h0M440.3 1107.8h0M461.8 1088h0M418.2 1090.4h0M428 1116.4h0M458.2 1088.1h0M383.7 1119.5h0M451.7 1095h0M467.2 1083h0M426.8 1112.2h0M385.6 1079.5h0M438.5 1073.3h0M438.9 1108.9h0M438.3 1074.8h0M447 1073.8h0M406.3 1069.8h0M400.8 1090.6h0M415.3 1068.7h0M448.1 1072.6h0M444.5 1104.4h0M387.2 1081.3h0M462.5 1088.7h0M393.2 1096.1h0M431.2 1072.5h0M379.9 1112.2h0M437.6 1113.8h0M419.5 1094.4h0M435.2 1117.1h0M430.5 1118.4h0M450.4 1072.5h0M430.3 1117.2h0M388.2 1113.8h0M402 1070.2h0M388.7 1110.3h0M391.9 1104.2h0M439.8 1073.1h0M382.1 1116h0M410.5 1067.5h0M402.3 1089.7h0M437.3 1072.6h0M390.9 1110.4h0M381.6 1092.5h0M389.9 1078.1h0M382.4 1093.8h0M385.7 1118.9h0M418 1091.8h0M386.7 1118h0M395.3 1071.2h0M462.2 1075.5h0M464.2 1085.3h0M380.9 1117.6h0M451.4 1096.7h0M386.5 1114.5h0M441.7 1108.2h0M388.9 1117h0M437.8 1074.1h0M403.7 1090.2h0M462.7 1089.1h0M384.9 1118.6h0M400.1 1071.5h0M387.6 1110.1h0M428.6 1113.1h0M435.6 1073.8h0M441.7 1106.2h0M418.9 1092.8h0M384.6 1086.5h0M435.5 1118.6h0M445.2 1101.6h0M417.1 1068.3h0M426.1 1107.4h0M462.7 1075.8h0M411.5 1068.3h0M452.2 1073.9h0M423.2 1069.9h0M394.4 1097.1h0M466 1081.1h0M386.3 1081.8h0M466.3 1079.8h0M387.7 1078.3h0M427.5 1070.2h0M439.4 1073.9h0M402.5 1068.3h0M379.9 1114.5h0M393.8 1094.9h0M433.6 1121.6h0M421 1100.4h0M382.7 1104.6h0M453.1 1093.3h0M463.8 1087.4h0M388.5 1113.2h0M386.3 1085.4h0M402.1 1091.2h0M410.1 1067.5h0M446.2 1099.6h0M389.1 1111.3h0M434.2 1120.2h0M412.2 1067.9h0" stroke="#86862a" stroke-width="2.4" stroke-linecap="round" fill="none"/>
<path d="M430.3 1102.5h0M434.3 1114.8h0M458.6 1085h0M458 1085h0M440 1076.7h0M436.1 1084.2h0M420.7 1074.5h0M435.9 1097h0M430.6 1101h0M403.8 1076.4h0M409.2 1070.1h0M393.3 1079.2h0M426.2 1104.6h0M408.2 1079.2h0M391.9 1087.5h0M401.8 1086.3h0M445.3 1079.3h0M459.9 1085h0M461.8 1078h0M438.7 1077.4h0M406.4 1071.7h0M425.4 1072.3h0M430.8 1082.4h0M395.9 1092.9h0M419.7 1088.2h0M397.2 1088.6h0M427.9 1078.6h0M410.9 1070.1h0M425.8 1086.5h0M391.1 1093.4h0M434.2 1086.9h0M444.5 1101.7h0M426.4 1100.3h0M429.1 1080.4h0M441.6 1093h0M417.2 1085.4h0M391.2 1100.3h0M394.3 1079.1h0M436 1075.2h0M435.5 1082.1h0M429.6 1108.8h0M432.9 1116.4h0M428.1 1115.4h0M433 1104.8h0M407.9 1074h0M429.2 1080.1h0M464.7 1080h0M458.3 1085.9h0M434.3 1073.6h0M407.8 1074.2h0M423.6 1096.2h0M439.6 1082h0M401.4 1069.8h0M382.9 1105.4h0M449.5 1088.7h0M424 1083.2h0M394.8 1072.3h0M427.8 1096.1h0M387.9 1084.3h0M438.8 1076.3h0M426.2 1075.4h0M457.1 1079.5h0M464.3 1083.2h0M390.2 1086.7h0M414.7 1072.3h0M434.6 1075h0M429.3 1102.1h0M420.7 1087.2h0M397.2 1073.1h0M385.8 1108.3h0M452.7 1079.4h0M454.3 1088.4h0M454.8 1080.9h0M400.4 1082h0M431.6 1099.6h0M419.6 1069.8h0M391.1 1082.4h0M391 1099.4h0M423 1071.1h0M386.8 1100.7h0M433.8 1078.3h0M430 1117.7h0M426 1108h0M444.4 1099.3h0M433.1 1088.6h0M419.5 1091.6h0M413.8 1083.7h0M435.1 1114.7h0M426.9 1102h0M438.3 1089.5h0M426 1101.6h0M437.4 1086.8h0M449.6 1075.2h0M432.4 1080.3h0M426.7 1083.8h0M412.5 1080.2h0M402.8 1075.4h0M412.1 1074.1h0M419.1 1091.3h0M430.7 1087.4h0M403.8 1080.7h0M390 1084.1h0M424.9 1076.7h0M440.9 1079.3h0M445.2 1077.3h0M456.8 1084.8h0M398.7 1075.3h0M413.4 1089.1h0M409.3 1077.5h0M442.4 1092.7h0M398.7 1085h0M410.3 1081.5h0M434.1 1102.8h0M397.7 1079.1h0M382.4 1111.5h0M398.3 1072.4h0M432.5 1073.3h0M405.8 1076h0M384.4 1105.6h0M391.8 1088.3h0M395.3 1072.6h0M427.2 1084.1h0M443.7 1095.4h0M436.8 1085.9h0M421.5 1097.3h0M407.4 1072.2h0M406.8 1071.2h0M422.7 1085.8h0M427.5 1109.2h0M443.8 1095.8h0M447.4 1097.4h0M408.8 1075h0M431.2 1114.3h0M428.7 1094h0M410 1074.6h0M424.1 1094.7h0" stroke="#fff" stroke-width="1.8" stroke-linecap="round" fill="none"/>
<path d="M402.5 1111h0M418.5 1099.7h0M412.1 1104.7h0M401.6 1104.1h0M409.8 1106.8h0M400.3 1112h0M420.6 1097.4h0M409 1097.8h0M420.9 1095.3h0M425.9 1099.4h0M414.6 1111.4h0M429.7 1115.1h0M400.6 1111.5h0M410.9 1098.9h0M415.1 1115.3h0M412.6 1100.7h0M420.5 1101.8h0M397 1098.9h0M419.4 1107.3h0M417.1 1116.3h0M416.1 1113.6h0M421.7 1105.8h0M403 1115.2h0M427.7 1112.2h0M421.7 1098.9h0" stroke="#86862a" stroke-width="2.2" stroke-linecap="round" fill="none"/>
<polygon points="442.3,1108.7 450.6,1096.1 460.4,1087.8 470.1,1083.6 481.2,1080.9 495.1,1080.9 502.1,1085 504.9,1096.1 502.1,1108.7 492.3,1118.4 481.2,1125.3 470.1,1128.1 456.2,1128.1 443.7,1126.7 440.9,1118.4" fill="#3a88c8"/>
<path d="M455.5 1127.6h0M449.7 1098.7h0M467.6 1126.6h0M497.7 1081.9h0M471.7 1083.3h0M473.3 1126.1h0M488.6 1080.5h0M499.9 1110.2h0M453.6 1126.1h0M451.8 1096.9h0M457.9 1126.5h0M503.4 1090.6h0M484.2 1082.1h0M489.1 1079.6h0M442.4 1105.3h0M487.8 1120.6h0M443.2 1109.9h0M467.4 1084h0M484.3 1123.2h0M491.7 1119.2h0M486.8 1121h0M477.1 1126.6h0M447.5 1125.8h0M442.1 1108.3h0M500 1107h0M440.8 1114.9h0M500.3 1109.8h0M441.9 1122.1h0M503 1109.3h0M457.1 1127.1h0M462.7 1086.8h0M505.4 1100.8h0M501.3 1085.7h0M481.6 1082.1h0M501.3 1106.3h0M503.8 1103.5h0M498.5 1110.3h0M469.6 1129.3h0M496.1 1115.1h0M491.7 1117.6h0M458.6 1126.9h0M475 1084.2h0M479.1 1081.2h0M444.6 1106.5h0M461.8 1127.7h0M462.1 1087.3h0M459.3 1127.1h0M473.7 1128.5h0M478.3 1127.2h0M482.6 1081.2h0M499.3 1111h0M451 1127.5h0M503.8 1103.8h0M475.4 1126.2h0M484.3 1080.6h0M464.8 1085.2h0M449.4 1097.2h0M457.2 1087.2h0M449.1 1097.8h0M448.3 1099.9h0M473.4 1127.2h0M460.7 1088.7h0M489.8 1082.6h0M453 1093.3h0M486.5 1122.8h0M441.9 1111.7h0M486.2 1122.9h0M454.3 1091h0M494.6 1116h0M447.3 1098.9h0M442.6 1122.3h0M498.6 1082.9h0M449.6 1099.2h0M458.4 1089.7h0M443.7 1125.3h0M441.1 1117.2h0M481.6 1079.3h0M469 1085.2h0M495.2 1115.7h0M479.2 1080.8h0M455.1 1093.5h0M495.5 1114.3h0M466.1 1086.8h0M500 1085.5h0M504.8 1096.3h0M504.5 1101h0M465.4 1085.8h0M441.3 1121.1h0M448.1 1099.3h0M501.9 1109.1h0M485.8 1122.2h0M504.7 1094.1h0M462.1 1128.3h0M489.7 1118.7h0M485.1 1122.8h0M443.8 1104.3h0M496.3 1114.8h0M440.7 1113.1h0M457.5 1127.5h0M483.5 1124.6h0M459 1129.8h0M504.4 1099.6h0M504.2 1086.1h0M443.8 1126.9h0M440.9 1114.5h0M459.5 1089h0M502.2 1105.2h0M484.9 1124.6h0M447.1 1127.4h0M487.7 1122.1h0M482.5 1124.8h0M484.1 1123.3h0M460.8 1088.8h0M456.3 1091.4h0M471 1128h0M465 1084.8h0M499.2 1110.2h0M473.2 1080.8h0M480.3 1122.9h0M475.3 1081.1h0M487.4 1122.2h0M458.3 1129.1h0M440.6 1112.2h0M494.9 1115.6h0M443.3 1125.4h0M491.9 1118.9h0M504.9 1100h0M453.9 1127.6h0M461.5 1087.9h0M458.7 1088.8h0M501.5 1110.5h0M453.1 1092.4h0M444.1 1106.5h0M454.2 1127.3h0M444 1127.2h0M473.2 1127h0M447.9 1103.8h0M443.5 1126.6h0M489.6 1122.5h0M442.8 1121.3h0M465.3 1127.2h0M476.4 1127h0M505.8 1092.6h0M504 1092.8h0M492.4 1118.8h0M477 1079.6h0M490 1118.5h0M459 1090.2h0M467.9 1128.8h0M491.1 1081.5h0M502.3 1087.1h0M443.4 1121.1h0M494.3 1080.6h0M444.5 1103.9h0M457.2 1127.2h0M484.6 1122.1h0M466.2 1083.9h0M447.6 1102.5h0M450.4 1095.3h0M484.4 1079.3h0M446.4 1096.9h0" stroke="#3a88c8" stroke-width="2.4" stroke-linecap="round" fill="none"/>
<path d="M461.8 1092h0M473 1119.2h0M490.3 1082.8h0M490 1111h0M495.9 1087.3h0M457.2 1095.3h0M495 1103.2h0M495.7 1092.3h0M473.5 1121.1h0M441.9 1115.2h0M475.7 1082.3h0M447.4 1126.3h0M477.8 1110.9h0M486 1114.6h0M477.7 1095.4h0M463 1121.9h0M477.1 1086.5h0M485.6 1114.9h0M477.2 1125.9h0M471.4 1111.6h0M460.1 1101.2h0M473.6 1086.3h0M485.1 1083.5h0M457 1108.5h0M492.7 1115.4h0M464.9 1088.8h0M475.9 1113.6h0M453.9 1119.7h0M479.9 1118.6h0M483.8 1094.9h0M458.4 1098.5h0M492.8 1109h0M458.7 1123.5h0M474 1127.1h0M482.7 1115.6h0M463 1127.7h0M471.6 1112.7h0M466.7 1105.6h0M452.2 1098.3h0M467.4 1116h0M482.1 1103.2h0M469.2 1120.1h0M489.2 1097.6h0M473.9 1099.6h0M455.5 1122.1h0M453.2 1094.4h0M476.6 1113.8h0M482.4 1095.5h0M491.7 1098.7h0M459.6 1090.7h0M472.5 1088h0M453.1 1105.8h0M496.7 1083.7h0M467.3 1094.7h0M469.1 1113.4h0M457.5 1098.8h0M498.5 1110.9h0M469.4 1090.9h0M456.2 1121.1h0M464.8 1103.5h0M461.3 1118.8h0M460.2 1108.3h0M453.3 1123.8h0M473.9 1108.8h0M491.7 1105.6h0M472.3 1114.5h0M471.3 1108.1h0M455.2 1126.7h0M478.7 1081.8h0M452.9 1108.4h0M498.7 1084.3h0M465.3 1110.6h0M484.7 1118.5h0M486.8 1119.6h0M462.5 1118.4h0M461.6 1110.1h0M485.5 1087.8h0M450.9 1095.9h0M482.6 1082.4h0M483.1 1086.6h0M453.3 1094h0M476 1114.8h0M501.5 1091.7h0M446.4 1121.4h0M478.7 1124.3h0M486.7 1087h0M464.1 1091.2h0M469.7 1094.4h0M502.5 1099.1h0M487.9 1098h0M481.2 1117.1h0M462.6 1103.3h0M491.8 1095.5h0M485.9 1101.2h0M486.4 1094.4h0M446.5 1112.4h0M457.3 1090.6h0M470.6 1104.3h0M468.8 1101.7h0M479.3 1087h0M460 1109.4h0M501 1109.3h0M454.3 1126.6h0M491.9 1091.4h0M489.7 1091.2h0M493.8 1114.8h0M490.6 1107.5h0M478.9 1081.5h0M474.1 1117.4h0M449.9 1101.5h0M475.5 1088h0M453.8 1109.7h0M455 1125.1h0M498.3 1086.2h0M477.6 1100.3h0M482.5 1081.8h0M502.2 1094.4h0M463.2 1125.7h0M471.1 1095.7h0M461.3 1108.4h0M501.7 1100.5h0M495.5 1101.3h0M455.4 1097.5h0M461.3 1112.6h0M486.9 1083h0M450.2 1119.7h0M452.2 1113.6h0M445.7 1112.8h0M455.1 1120.5h0M494.9 1103h0M498.1 1111.5h0M480.3 1097.7h0M484.6 1087.5h0M470.2 1084.9h0M446.8 1112.4h0" stroke="#fff" stroke-width="1.8" stroke-linecap="round" fill="none"/>
<polygon points="379.7,1121.2 385.3,1124 393.6,1135.1 400.6,1143.4 406.1,1151.8 413.1,1160.1 415.9,1168.4 413.1,1174 406.1,1169.8 397.8,1168.4 388.1,1165.7 383.9,1160.1 378.3,1146.2 376.3,1133.7" fill="#7a18b8"/>
<path d="M416.4 1170.3h0M405 1151.5h0M399.1 1139.6h0M376 1138.1h0M377 1133.2h0M395.2 1136.7h0M385.9 1161.7h0M411.9 1158.4h0M384.3 1158.8h0M414.7 1164.1h0M378.4 1142.3h0M414.1 1174.6h0M415.9 1163.3h0M380.1 1120.5h0M413.5 1161.7h0M413.8 1156.7h0M395.4 1138.4h0M393.3 1166.9h0M375.3 1138.2h0M384.6 1158.7h0M398.3 1167.7h0M386 1122.7h0M382.1 1154.6h0M375.4 1136.1h0M403 1169h0M394.3 1137.1h0M415.8 1163.5h0M388.2 1126.6h0M383.8 1160.4h0M409.6 1157.1h0M404.3 1150.1h0M391.5 1131.9h0M377.2 1128.6h0M384.4 1158.8h0M381.2 1160.1h0M407.1 1152.9h0M404 1169h0M414.4 1166.8h0M396.4 1139.7h0M383.7 1122.4h0M413.2 1175.4h0M413.9 1164.7h0M411.4 1173h0M414.8 1169.6h0M406.7 1151.2h0M390.7 1131.8h0M401.3 1141.3h0M413.8 1172.3h0M408.1 1154.1h0M398 1139h0M401.1 1140.9h0M413.4 1173.4h0M381 1122.5h0M374.1 1132.1h0M395.3 1137.4h0M385.8 1124.5h0M398.7 1144.6h0M403.4 1145.4h0M386.7 1163.7h0M379 1139h0M403.9 1169h0M390.1 1167.1h0M409.7 1155.1h0M382.4 1153.4h0M382 1122.5h0M377.7 1127.6h0M404 1148.4h0M407.5 1154.8h0M413.9 1160h0M391.8 1133.3h0M393.2 1136h0M400.6 1143.9h0M413.4 1170.5h0M393.8 1134.9h0M379.4 1148.7h0M408.9 1158.2h0M415 1165.7h0M385.2 1125.2h0M416.1 1169.2h0M390.5 1165.5h0M377.7 1137.8h0M393 1134.6h0M390.3 1130h0M392.3 1167.8h0M391.5 1165.3h0M416.2 1168.2h0M385 1124.4h0M397.1 1168h0M406.8 1170.4h0M387.7 1126.6h0M415.2 1163.8h0M394.6 1166.3h0M390.5 1131.7h0M389.9 1130.1h0M415.7 1163.4h0M380.3 1122.7h0M378.8 1125.4h0M380.1 1122.5h0M387.7 1163.9h0M378.9 1122.4h0M377.4 1126.4h0M413.5 1161.7h0M376.7 1133h0M380.2 1122.1h0M381.7 1151.7h0M377.7 1129.5h0M413.2 1162.5h0M376.8 1131.1h0M400.9 1145.2h0M389.6 1163.6h0M388.7 1129.1h0M376.4 1128.2h0M377.1 1144.9h0M378.5 1149.3h0M405.7 1149.1h0M376.4 1138.2h0M378.2 1141.5h0M411.7 1172.4h0M381.1 1151.8h0M413.5 1171.5h0M377.3 1141h0M405.9 1171.9h0M407.6 1153.9h0M403.6 1145.6h0M400.7 1147.5h0M378.7 1128.9h0M387.4 1125.6h0" stroke="#7a18b8" stroke-width="2.4" stroke-linecap="round" fill="none"/>
<path d="M382.5 1133.7h0M413.6 1167h0M385.1 1139.4h0M392.4 1146h0M410.8 1160.6h0M408.4 1163.1h0M405.2 1167.1h0M397.7 1168.1h0M379.8 1134.9h0M408.8 1163.1h0M385.1 1151.3h0M393.7 1160.2h0M392.1 1138h0M406.5 1157.9h0M390.6 1158.9h0M386.7 1147.6h0M383.7 1139.4h0M388.6 1139.8h0M389.2 1148h0M411.9 1166.1h0M388 1128.3h0M406.4 1160.2h0M383.1 1126h0M392.1 1161.8h0M379.7 1144.3h0M379.5 1132.5h0M398.2 1155.5h0M385.5 1124.5h0M397.5 1145.3h0" stroke="#fff" stroke-width="1.8" stroke-linecap="round" fill="none"/>
<polygon points="417.3,1171.2 425.6,1169.8 434,1171.2 442.3,1179.6 453.4,1181 461.8,1189.3 467.3,1196.2 478.4,1206 492.3,1215.7 507.6,1224 503.5,1229.6 492.3,1233.8 475.7,1236.6 453.4,1236.6 432.6,1235.2 425.6,1231 429.8,1219.9 435.3,1210.1 435.3,1199 431.2,1190.7 425.6,1182.3 418.7,1178.2" fill="#c8c8c8"/>
<path d="M430.5 1190.3h0M451.4 1178.2h0M426.5 1229.9h0M503.1 1229.5h0M456.2 1182.1h0M419.6 1177.5h0M438.8 1236.1h0M417.1 1172.6h0M481.1 1236.8h0M477.9 1237.3h0M424.7 1186.3h0M431.3 1235.1h0M436.8 1235.7h0M446.8 1237.2h0M451.3 1182.5h0M461 1236.5h0M446.7 1235.7h0M462.9 1191.5h0M434.2 1198.6h0M466.3 1236.9h0M430 1220.4h0M461.3 1190.6h0M421.2 1179.8h0M492.3 1233.6h0M499.7 1218.8h0M460.4 1187.1h0M484.1 1234.6h0M426.9 1226.2h0M430.6 1188.4h0M497.4 1231.5h0M425.3 1183.2h0M434.3 1169.8h0M431 1171.3h0M422.8 1170h0M427.6 1233.8h0M482.6 1209.8h0M460.6 1236.7h0M492.3 1233.7h0M456.3 1235.7h0M488.9 1233.7h0M462.8 1236.6h0M489.6 1235.7h0M443.6 1179.9h0M479.3 1237.3h0M422.3 1169.6h0M422.7 1181.2h0M443.5 1237.8h0M493.8 1234.5h0M466.4 1195.6h0M469.3 1198.5h0M505.9 1225h0M474.3 1235.3h0M496.1 1232.1h0M478.8 1204.6h0M432.5 1197.7h0M473.9 1235.7h0M488.5 1214.2h0M421.7 1180.7h0M421.8 1171.7h0M507.3 1223.2h0M426.3 1182.4h0M483.6 1207.8h0M427.2 1231h0M438.6 1236.2h0M499.7 1231.5h0M453.6 1181.4h0M430.1 1218.6h0M471.4 1201.5h0M430.1 1235.2h0M469.7 1235.1h0M428.8 1225.2h0M444.5 1179.3h0M428.1 1187h0M436.4 1236.3h0M502.8 1228.6h0M445.7 1233.5h0M455.3 1237.1h0M492.9 1214.6h0M436.9 1234h0M431.8 1195.4h0M431.7 1195.5h0M478.5 1206.8h0M476 1236.3h0M474.8 1202.9h0M472.8 1201.6h0M430.7 1234.1h0M429 1220.2h0M426.9 1186.9h0M438.5 1177.9h0M439.1 1234.2h0M424.7 1169.8h0M469.8 1199.8h0M439.5 1177.5h0M489.3 1214.2h0M432.7 1216.1h0M430.6 1194.9h0M482.3 1209.4h0M506.7 1222.9h0M430.3 1217.3h0M435.5 1205.3h0M462.2 1235.4h0M505.3 1222.2h0M495.3 1234.8h0M428.4 1221h0M476.7 1235.8h0M426.5 1220.6h0M472.7 1203.2h0M473.6 1199.6h0M456.2 1183.1h0M475.2 1205.5h0M450.6 1237.5h0M433.8 1215.8h0M481.4 1233.9h0M463.4 1193.5h0M420.5 1171.3h0M499.2 1230.4h0M443.7 1179h0M437.2 1175.1h0M499.2 1232.4h0M450.5 1180.5h0M501.3 1229.1h0M448.4 1179.5h0M436.3 1175.4h0M495.3 1216.5h0M435.4 1212.2h0M432.6 1171.7h0M501 1221.4h0M445.7 1180.9h0M415.5 1173.8h0M441.2 1234.1h0M466.3 1235.5h0M431.1 1217.6h0M428.3 1184.5h0M435.7 1171.8h0M450.2 1179.9h0M430.7 1192.5h0M502.1 1229.2h0M484.8 1236h0M442.8 1180.5h0M438.5 1236h0M418.5 1177.9h0M435.4 1199h0M420.7 1179.6h0M421.3 1171.3h0M474.5 1236.3h0M436.1 1173.1h0M426.7 1183.5h0M464.5 1237.2h0M486.6 1212.6h0M465.9 1196.5h0M471.7 1235.8h0M423.6 1169.6h0M462.3 1193.7h0M462.1 1236.3h0M476.2 1234.5h0M430.2 1227.1h0M421.7 1169.4h0M429.3 1184.9h0M437.3 1174.4h0M506.4 1227h0M430.6 1170.6h0M470.5 1198.1h0M468.3 1235.5h0M434.8 1211.9h0M462.4 1187.6h0M487.1 1211.6h0M467.4 1195.6h0M435.6 1202.9h0M446 1180.2h0M473.1 1236.4h0M433.8 1234.3h0M469.1 1196.5h0M474.2 1200.4h0M434.6 1211h0M423.2 1170.1h0M457.3 1237.9h0M422.3 1169.7h0M416.2 1171.6h0M434.7 1207.1h0M481.6 1207.9h0M496.6 1218h0M431.5 1189.1h0M419.3 1174.7h0M435.7 1203.6h0M463.6 1189.8h0M435.3 1210.9h0M425.6 1230.4h0M437.2 1174.4h0M462.3 1191.2h0M446.2 1179.8h0M463.4 1196h0M433.4 1237.1h0M425.4 1184.8h0M452 1235.9h0M441.7 1234h0M499.5 1231.2h0M427.7 1233.8h0M418.9 1179h0M469.4 1236.7h0M435.6 1174.2h0M461.3 1188h0M433.7 1208.5h0M431 1216.7h0M468.8 1235.9h0M496.2 1217.2h0M443.3 1180h0M445 1179.3h0M422 1178.9h0M491.3 1232.3h0M460.1 1188.2h0M460.7 1189.6h0M426.4 1184.7h0M458.1 1186.8h0M432.5 1195.5h0M455.3 1237.5h0M504.1 1230h0M468.7 1236.1h0M435.1 1172.6h0M419.9 1170.7h0M425.8 1185.2h0M435.1 1203.6h0M475.8 1205.1h0M469.4 1237.3h0M422.7 1170.5h0M470.3 1197.4h0M465.9 1196h0M426.4 1169.7h0M468.3 1196.9h0M471.6 1237.5h0M442.5 1236.6h0M426.4 1227.9h0M452.7 1181.6h0M472.7 1236.9h0M452 1180.8h0M435.5 1211.7h0M426.7 1228.7h0M426.5 1181.4h0M489 1214.5h0" stroke="#c8c8c8" stroke-width="2.4" stroke-linecap="round" fill="none"/>
<path d="M424 1124h0M428 1127h0M433 1126h0M445 1124h0M453 1128h0M455 1177h0" stroke="#8a30c0" stroke-width="2.2" stroke-linecap="round" fill="none"/>
<text transform="translate(247.1,830.6) scale(1,1.04)" font-size="30.3" stroke="#0a0a0a" stroke-width="0.2" fill="#0a0a0a">Opc</text>
<text transform="translate(252.2,970) scale(1,1.04)" font-size="30.3" stroke="#0a0a0a" stroke-width="0.2" fill="#0a0a0a">Ogc</text>
<text transform="translate(452,804) scale(1,1.04)" font-size="30.3" stroke="#0a0a0a" stroke-width="0.2" fill="#0a0a0a">Mgl</text>
<text transform="translate(356.7,900.7) scale(1,1.04)" font-size="30.3" stroke="#0a0a0a" stroke-width="0.2" fill="#0a0a0a">Vlmc</text>
<text transform="translate(475.5,944.8) scale(1,1.04)" font-size="30.3" stroke="#0a0a0a" stroke-width="0.2" fill="#0a0a0a">Asc</text>
<text transform="translate(454.2,1003.5) scale(1,1.04)" font-size="30.3" stroke="#0a0a0a" stroke-width="0.2" fill="#0a0a0a">PT</text>
<text transform="translate(142.2,1065) scale(1,1.04)" font-size="30.3" stroke="#0a0a0a" stroke-width="0.2" fill="#0a0a0a">Pv</text>
<text transform="translate(172.5,1183) scale(1,1.04)" font-size="30.3" stroke="#0a0a0a" stroke-width="0.2" fill="#0a0a0a">Sst</text>
<text transform="translate(224.5,1095.8) scale(1,1.04)" font-size="30.3" stroke="#0a0a0a" stroke-width="0.2" fill="#0a0a0a">CGE</text>
<text transform="translate(314.1,1171.3) scale(1,1.04)" font-size="30.3" stroke="#0a0a0a" stroke-width="0.2" fill="#0a0a0a">ITL4</text>
<text transform="translate(362.5,1060) scale(1,1.04)" font-size="30.3" stroke="#0a0a0a" stroke-width="0.2" fill="#0a0a0a">ITL5</text>
<text transform="translate(448.8,1157.4) scale(1,1.04)" font-size="30.3" stroke="#0a0a0a" stroke-width="0.2" fill="#0a0a0a">ITL6</text>
<text transform="translate(432,1263.9) scale(1,1.04)" font-size="30.3" stroke="#0a0a0a" stroke-width="0.2" fill="#0a0a0a">ITL23</text>
<text transform="translate(538.5,1064.6) scale(1,1.04)" font-size="30.3" stroke="#0a0a0a" stroke-width="0.2" fill="#0a0a0a">CT</text>
<polygon points="1051.3,106.8 1056.1,108.8 1059.1,119.5 1063,136.1 1060.1,144.9 1056,158.6 1053.4,170.3 1049.3,182 1043.5,181.1 1039.6,172.3 1042.2,162.5 1047,152.7 1050.3,139.1 1049.3,125.4 1051.3,111.7" fill="#e02a1c"/>
<path d="M1056.9 112.7h0M1061.7 132.9h0M1058.3 114.2h0M1054.8 164h0M1051 108.1h0M1063.6 145.5h0M1056.5 154.2h0M1051.3 108.9h0M1041.5 160.9h0M1060 122.3h0M1059.6 148.3h0M1056.1 110.9h0M1056.9 109.5h0M1041 164.8h0M1054.7 112h0M1057.7 113.1h0M1057.6 160.1h0M1049 140.4h0M1040.5 177.2h0M1057.7 153.4h0M1059.8 140.4h0M1048.2 183h0M1045.9 158.6h0M1052.7 169.3h0M1049 146.5h0M1050.7 181.1h0M1060.5 125h0M1048.9 123.3h0M1041.6 164.5h0M1051.8 171.7h0M1052.4 112.6h0M1053 164.7h0M1050.8 172.6h0M1048.4 127.6h0M1058.7 120.3h0M1048.9 143.4h0M1041.6 172.4h0M1054.1 164.3h0M1055.4 169.8h0M1050 124.2h0M1050.2 116.2h0M1039.5 170.8h0M1051.5 111.3h0M1055.2 164.4h0M1051.1 176h0M1050.1 139.2h0M1044.2 159.2h0M1061.5 139.1h0M1055.2 166.4h0M1046.5 155.6h0M1048.8 144.6h0M1043.5 157.5h0M1049 122.8h0M1052.2 174.7h0M1059.8 143.4h0M1048.7 150.3h0M1050.4 110.4h0M1044.7 155.8h0M1052 106.2h0M1051.3 134.1h0M1047.3 148.3h0M1052.4 115.3h0M1057.6 154.5h0M1063.1 132.2h0M1050.7 114.7h0M1062.4 126.4h0M1052.8 171.5h0M1050.4 117.8h0M1048.6 180.9h0M1047.8 154.1h0M1055.3 156.6h0M1047.6 147.4h0M1052.5 171.9h0M1050.5 133h0M1051.9 178.4h0M1049.2 120.1h0M1060.8 144.2h0M1061.5 136.8h0M1047.8 146.9h0M1043.1 180.4h0M1049.8 180h0M1055.6 156.3h0M1041 176h0M1040.9 173.1h0M1039.5 168.7h0M1051.5 179.3h0M1058.4 114.6h0M1055.2 160.8h0M1055.6 156.4h0M1041.8 160.4h0M1060.8 120.8h0M1050.8 106.8h0M1047.8 149.1h0M1060.6 130.3h0M1047.3 152.3h0M1043.2 177.6h0M1055.2 159.5h0M1054.2 168.3h0M1050 116.3h0M1041.7 163.9h0M1059.2 145.6h0M1048 181h0M1050.9 111.8h0M1055.4 167h0M1057.7 113.9h0M1049.2 142.2h0M1051 139.7h0M1056.3 158.2h0M1051 118.7h0M1058.7 150.5h0M1042.6 180.7h0M1041.3 173.1h0M1049.9 114.4h0M1038.2 174.5h0M1060.9 137.9h0M1048 148.5h0M1046.3 158.1h0M1055.6 106.8h0M1048.8 180.6h0M1043.7 159.8h0M1061 123.1h0M1046.8 154.7h0M1056.5 160h0M1053.8 110.3h0M1053.8 168.6h0M1042.8 177.8h0M1047.3 157.1h0M1057.7 111.3h0M1041.3 168.9h0M1048.7 148.2h0M1054 169.1h0M1055.1 163.2h0M1061.4 127.4h0M1051.7 181.5h0M1040.7 164.9h0M1054.4 169.4h0M1048.9 181.3h0M1051.1 131.4h0M1059.9 123.4h0M1050.8 125.1h0M1049.6 182.7h0M1049.6 123.2h0M1052.6 108.4h0M1054.3 106.8h0M1051.7 107.1h0M1056.7 112.1h0M1057.4 155.9h0" stroke="#e02a1c" stroke-width="2.4" stroke-linecap="round" fill="none"/>
<path d="M1046 175.4h0M1054.2 140.5h0M1046.2 166.8h0M1055.4 138.2h0M1047.6 154.4h0M1054.9 127.5h0M1049.7 170.4h0M1053.5 157.6h0M1047.5 160.2h0M1054.3 165.2h0M1045.3 163.5h0M1052.3 154h0M1058.1 135.7h0M1049.7 153.7h0M1055.4 123.6h0M1056.1 155.9h0M1050.9 132.4h0M1059.1 141.1h0M1052.5 115.6h0M1052.6 154.4h0M1048.7 176.4h0M1060.7 139.9h0M1048.4 153.6h0M1051.3 141.4h0M1055.2 131.8h0M1060.3 141h0M1052.4 130.8h0M1056.9 122.9h0M1049.6 175.2h0M1053.2 121.6h0M1054.8 150.3h0M1047.3 154.8h0M1042 172.8h0M1060.4 129.4h0M1049.7 173h0M1042.3 169h0M1056.9 124h0M1055 145.3h0M1052.9 138.1h0M1052.9 148.9h0M1058.8 124h0M1053.4 136.1h0M1051.5 121.7h0M1053.2 142.4h0M1044.8 157.8h0M1047.5 165.2h0M1054.2 149.8h0M1041.9 168.8h0M1050.3 127.7h0M1042.6 162.6h0M1043.4 162.8h0M1051.7 163h0M1057 135.5h0M1048.2 170h0M1061.3 135.2h0M1055.9 132.3h0M1055.7 141.6h0M1058.5 121.1h0M1044.4 171.4h0M1052.6 143.9h0M1050.4 130.5h0M1053 137.3h0" stroke="#fff" stroke-width="1.8" stroke-linecap="round" fill="none"/>
<polygon points="844.2,244.6 852,245.5 850,256.3 846.1,270 842.2,285.6 839.3,301.2 836.4,316.8 829.5,330.5 823.7,336.4 822.7,324.7 825.6,305.1 828.6,285.6 831.5,270 837.3,256.3 841.3,248.5" fill="#b5ae34"/>
<path d="M822.1 322.8h0M830 329.5h0M822.9 323h0M846 270h0M829.5 287.4h0M844.7 281.6h0M824.7 328.6h0M830.6 289.9h0M831 283.5h0M845.7 269.9h0M824.8 314h0M829.5 286.6h0M838.9 254.7h0M843.8 275.6h0M830.1 278.4h0M826.4 305.7h0M851 248h0M823.5 310.1h0M839.8 301h0M849.3 253.9h0M831.7 272.6h0M840.5 286.3h0M825.2 309.3h0M827.8 287.6h0M839.1 308.4h0M842.6 283.7h0M832.5 268.9h0M847 264h0M837.1 255.7h0M846.1 262.9h0M843.3 280.6h0M840.2 251.6h0M828.8 279.7h0M825.2 335.2h0M822.8 328h0M829.7 290.8h0M844.9 244.4h0M824.6 302.9h0M830.6 277.4h0M840.7 282.7h0M837 316.4h0M841.2 300.2h0M832 325.6h0M840.3 305h0M832.3 324.2h0M832 324.3h0M843.5 283.7h0M824 335.4h0M853.5 249.6h0M841.4 247.5h0M844.6 275.8h0M838.5 305.4h0M827.2 272.5h0M841.5 298.4h0M827.5 294.7h0M831.2 279.4h0M824.7 302h0M830 328h0M824 318.6h0M822.6 329.8h0M828.4 300.3h0M852.4 248.9h0M833.3 323.3h0M836.7 255.7h0M838.8 253.8h0M827.8 292.6h0M836.4 314.7h0M843.2 289.3h0M837 253.4h0M836.1 309.9h0M828.1 291.9h0M837.6 317.3h0M830.7 277.1h0M827.5 299h0M845.9 245.1h0M835.2 316.4h0M834.2 265.1h0M838.3 303.3h0M831.4 271.4h0M824.5 312.1h0M830.7 290.8h0M847.7 267.7h0M837 262.1h0M826.3 335.5h0M842 281.7h0M832.4 273.5h0M825.2 304.1h0M828.4 274h0M840.2 251.7h0M822.7 317.8h0M827.3 334h0M823.1 320.6h0M849.8 259.1h0M828.2 288.4h0M842.4 284.3h0M845.3 274.9h0M848.1 245.4h0M847.5 263.1h0M831 328.7h0M834.1 264.4h0M845.2 267.2h0M832 276.5h0M847.5 267.7h0M832.9 273.3h0M823.8 335.5h0M828.9 282.2h0M841.6 281.4h0M827.3 293.4h0M830.8 328.4h0M825.2 307.3h0M839.7 298.7h0M841 294h0M828.6 331.5h0M838.9 249.3h0M833.7 262.7h0M844.1 274.8h0M845.8 271.8h0M849.4 265.1h0M830.6 278.5h0M842 244.1h0M845.9 267h0M825.7 294.6h0M851.1 258.4h0M851 259.2h0M826.9 287.6h0M823.9 314.5h0M828.2 331.8h0M839.1 304.4h0M849.8 258.7h0M823.2 337.3h0M841.8 247.4h0M841 301.8h0M825.9 300.1h0M831.7 272h0M830.8 325.8h0M822.6 335.3h0M822.2 326.7h0M835.4 318.4h0M830.5 331.4h0M844.3 246.9h0M826.7 300.5h0M827 333.7h0M851.6 247.5h0M841.8 248.6h0M823.9 306.4h0M837.2 309.6h0M843 283h0M840.1 295.5h0M838.2 298.4h0M827.7 284.4h0M850.6 244.5h0M829.9 283.4h0M841.2 294.6h0M847.1 268.5h0M846.8 263.5h0M841.4 252.9h0M826.4 298.9h0M827.2 300.1h0M848.6 256.6h0M829.7 271.9h0M824.6 312.8h0M841.1 250.3h0M838.9 253.7h0M826.7 311.4h0M841.9 247.3h0M824.6 335.4h0M830.4 277.3h0M837.7 307.8h0M840.6 301.6h0M827.3 331.5h0M835.3 260.3h0M837.8 311.9h0M834.9 319h0M829.3 333.8h0M829.6 283.6h0M824.2 307.8h0M836.2 318.4h0M852.2 248.1h0M849.5 245.9h0M835.6 305.4h0" stroke="#b5ae34" stroke-width="2.4" stroke-linecap="round" fill="none"/>
<path d="M842.8 278h0M826.3 324.3h0M845.2 245.1h0M828.6 317.4h0M843.1 255.6h0M832.9 296.5h0M837.4 268.6h0M827.9 290.4h0M845.5 262.6h0M832.3 289.4h0M833.2 289.9h0M836.3 301.6h0M829.4 286.8h0M848.9 259.9h0M839.5 270.8h0M829.1 288h0M839.9 265.1h0M831.5 283.4h0M836.5 263.3h0M847.6 245.7h0M831.6 313.5h0M842.6 252.5h0M836.2 288.7h0M831.8 281.3h0M848.9 246.5h0M831.1 311.4h0M842.9 252.8h0M826.4 324.1h0M837.2 311.5h0M823.4 330.6h0M848.8 252.5h0M840.7 292.5h0M830.4 324.3h0M829.5 309.1h0M830.5 279.9h0M836.5 305.4h0M833.1 280.5h0M845.8 269.2h0M840.1 275.3h0M843.9 250.9h0M833.2 273.7h0M837.4 257h0M830.3 303.2h0M828.4 329h0M838.2 274h0M835.7 307.4h0M833.1 320.4h0M835.4 264.4h0M841.3 287.8h0M830.4 321.9h0M846.8 247.1h0M828.4 290h0M824.5 324.7h0M845.9 258.4h0M844.1 247.7h0M831.4 305.4h0M839.8 270.7h0M828.6 324.5h0M838.9 274.1h0M831.3 275.5h0M837.9 259.1h0M835.9 276.8h0M834 278.2h0M824 325.8h0M831.6 313.2h0M832.9 306.7h0M841.6 254.5h0M831.9 286.3h0M841.8 279.6h0M830 292.9h0M828.3 318.1h0M826.9 315.7h0M842.6 265.8h0M834.1 264.5h0M840 273.5h0M840.9 250h0" stroke="#fff" stroke-width="1.8" stroke-linecap="round" fill="none"/>
<polygon points="905.7,268 911.6,265.1 917.4,265.1 918.4,275.8 920.4,293.4 916.5,305.1 913.5,314.9 911.6,322.7 905.7,318.8 898.9,311 900.8,295.3 901.8,281.7 903.8,271.9" fill="#8a1a6a"/>
<path d="M917.3 301.4h0M898.5 293.7h0M918.1 272.2h0M918.5 281.6h0M911.4 316.2h0M899.4 295.9h0M907.1 318.7h0M901 281.8h0M903.6 279.3h0M911.6 265h0M913.4 313.1h0M912.1 265.1h0M913.5 317.6h0M903.6 272.2h0M907.7 322.1h0M901.4 297.9h0M912.3 317.9h0M918.4 284.9h0M912.8 266.1h0M916.1 306.8h0M921 294.1h0M914.5 264.1h0M912.3 318.6h0M920 296.1h0M918.4 283.6h0M904.8 270.3h0M920.4 281.8h0M898.4 302.7h0M914 308.4h0M902.2 294.1h0M901.5 291.1h0M903.4 279.5h0M918.6 284.6h0M903.6 281.1h0M902 274.4h0M903.7 317.5h0M917.7 269.9h0M919.4 275.8h0M900.7 285.4h0M911.4 318.4h0M910.2 266.6h0M912.2 319.1h0M905 316.1h0M918.4 297.2h0M910.5 266.4h0M898.9 298.1h0M917.5 269h0M901.4 296.5h0M912.5 317.2h0M921.2 290.5h0M917.1 274.1h0M918.6 265.7h0M898.7 305.9h0M919.4 285.2h0M912.6 321.6h0M918.4 302.3h0M900.5 297.5h0M914.5 310.5h0M912.4 320.1h0M914 265.1h0M915.4 303.4h0M905.9 268.7h0M919.7 297.1h0M903.2 316.2h0M901.6 294.3h0M922.1 291.3h0M920.3 285.7h0M898.3 310.6h0M902.6 274.7h0M899.4 315.7h0M915.9 307.7h0M907.7 266.6h0M899.4 303.9h0M901.3 292.6h0M919.4 287.6h0M912.8 313.5h0M900.7 293.9h0M899.7 313.7h0M906 318h0M902.3 285h0M901.1 292.2h0M918.6 297.7h0M908.2 320.4h0M919.5 270.9h0M901.6 280.2h0M907.6 319.7h0M904.6 271.4h0M899.1 305.3h0M908.1 321.4h0M899.6 292.9h0M906.4 318.7h0M920.5 291.9h0M910.5 322.5h0M918.8 275.3h0M908 321.7h0M914.8 309.3h0M903.4 269.1h0M902.3 280.9h0M919.5 282.9h0M917.5 303h0M897.4 304.3h0M902.7 284.4h0M903.9 272.8h0M917.4 305h0M918.6 265.8h0M911.6 319.4h0M920.6 294.4h0M919.2 281.4h0M902.4 284.9h0M909.4 265h0M918.6 282.3h0M912 320h0M902.6 280h0M919.9 280.6h0M914.8 265.6h0M913.3 317.6h0M900.1 295.3h0M918 265.8h0M916.1 265.6h0" stroke="#8a1a6a" stroke-width="2.4" stroke-linecap="round" fill="none"/>
<path d="M903.4 277.6h0M904.1 302.6h0M918.1 294.5h0M918.2 295.2h0M907.9 316.2h0M918.4 283.2h0M913.3 278.4h0M904.7 295.2h0M906.5 288.2h0M905.7 273h0M904.9 303.5h0M904.9 316.6h0M917.6 291.6h0M905.3 302.8h0M903.4 277.4h0M904.9 287.7h0M915.4 281.9h0M914.4 266.1h0M916.5 281.6h0M916 304.5h0M907.9 272.7h0M902.5 285.2h0M909.5 302.7h0M910.8 295.5h0M912.1 268.1h0M908.2 315h0M903.9 285.1h0M904.3 302.8h0M916.2 270.9h0M907.2 304.3h0M914.8 309.4h0M902.4 306.6h0M908.6 316.2h0M903.1 313.4h0M902.5 285.1h0M906.8 315.9h0M902.6 289h0M906.8 295.7h0M914.6 266.9h0M909.5 302.4h0M915.8 306.9h0M912.5 302.3h0" stroke="#fff" stroke-width="1.8" stroke-linecap="round" fill="none"/>
<polygon points="984,281 986.5,281 988,295 990,312 992.6,314.9 1001.4,320.8 1005.3,328.6 1004.4,344.2 997.5,352 981.9,352 973.1,346.1 969.2,330.5 972.1,322.7 980,318.8 982.5,310 983.5,295" fill="#c8c8c8"/>
<path d="M1004.1 341.1h0M1004.7 329.2h0M988.2 297.4h0M978.5 347.8h0M982.2 315.4h0M986.4 281.8h0M970.6 333.1h0M990 353.6h0M986.6 280.5h0M990.6 309h0M980.7 318.1h0M1001.4 346.9h0M997.1 317.8h0M977 319.6h0M986.5 290.5h0M987.1 286.9h0M970.1 329h0M982.6 306.7h0M970.2 335.5h0M994.3 314.8h0M1003.9 326.4h0M970.7 325h0M1004.4 326.5h0M980.3 306.8h0M981.2 351.5h0M989.1 312.7h0M978.9 318.6h0M984.4 286.5h0M1006.1 334.5h0M1004.7 343.4h0M981.8 317.4h0M983 291.4h0M993.6 314.6h0M983.1 293.8h0M971.3 323h0M985 281.8h0M984.3 297h0M1004.2 334.2h0M1004 329.3h0M986.7 286.5h0M1001.7 323.1h0M1004.5 337.2h0M984.4 289.9h0M970.8 324.3h0M1002.5 322.6h0M981.3 315.5h0M970.2 335.3h0M981.8 298.3h0M1004.8 334.2h0M1004.1 336.5h0M992.2 314.6h0M997.2 317.9h0M989.1 308.8h0M985.4 352.2h0M987.3 351.1h0M989.6 304.7h0M994.7 351.7h0M969.8 327.6h0M970.4 327.1h0M998.4 350.8h0M983.1 284.3h0M989.1 301.9h0M986.2 290.9h0M982.5 309.8h0M974 322.3h0M993 312.8h0M987.5 290.4h0M969.9 343.1h0M982.2 311.1h0M988.4 353h0M991.6 311.8h0M1005.4 342.5h0M979.2 319.7h0M982.3 284.6h0M981.9 311.9h0M983.6 294.6h0M978.4 320.6h0M977.7 349.4h0M976.5 348.2h0M989.8 308.5h0M982.9 352.2h0M989.3 353.1h0M987.8 302.5h0M993 311.9h0M983.8 287.6h0M970.2 329.4h0M1004.3 324.5h0M974.7 346.2h0M980 312.8h0M983.8 281.2h0M992.1 350.9h0M984.3 293.6h0M991.4 306.4h0M990.4 313.4h0M972.9 345.2h0M980.8 312.4h0M1004.5 337.7h0M987.8 285.4h0M1005.8 334.9h0M988.7 294.4h0M971 338.9h0M994.4 314.7h0M970.4 334.5h0M970 333.4h0M1000.6 348.4h0M979.2 318.1h0M989.6 299.3h0M995.6 316.2h0M970.1 328.5h0M972.8 348.6h0M1001 321h0M976.9 347.9h0M1006 339.7h0M987.1 284.8h0M981.9 304.4h0M1003.8 322.7h0M980.1 353.1h0M970.6 340.8h0M980.2 319h0M983.5 289.1h0M972.1 322.8h0M1003.6 327.2h0M1004.3 344.4h0M982.3 295h0M972.6 342.6h0M1004.8 339.7h0M975.7 320.6h0M986.5 350.3h0M1000.5 349h0M972.1 347h0M999.7 319.3h0M969.4 331.1h0M991 311.2h0M1001.5 322.6h0M987.5 281.2h0M1004 330.5h0M1000.3 318.4h0M1004.6 326h0M984.2 285.2h0M968.8 330.9h0M983.1 307.4h0M972.7 345.1h0M993.1 314.8h0M987.7 284.9h0M1004.3 325.4h0M984.7 298.7h0M1003 345.9h0M984.4 301.6h0M983.2 296.2h0M995.3 352h0M981.8 309.5h0M992.5 353h0M985 287.6h0M969.4 329.6h0M985.7 299.9h0M989.9 309.6h0M1004 343.9h0M983.7 290.7h0M979.1 321h0M987.5 286.6h0M970.5 331.9h0M1005.2 342.3h0" stroke="#c8c8c8" stroke-width="2.4" stroke-linecap="round" fill="none"/>
<polygon points="907.9,429.5 909.8,444.5 910.7,457.7 914.5,468.9 918.2,482.1 920.1,495.2 918.2,510.3 914.5,523.4 907,532.8 891.9,536.6 876.9,532.8 869.4,523.4 867.5,506.5 875,495.2 884.4,482.1 893.8,467.1 901.3,450.2 905.1,438.9" fill="#7ac83a"/>
<path d="M908.4 436.9h0M917.5 513.3h0M868.8 523.3h0M901.9 533.1h0M918.6 510.8h0M904.3 440.5h0M900.1 456.8h0M905.3 436.5h0M872.8 495.9h0M902 447.4h0M915.6 525.5h0M905.7 533.2h0M897.6 534.4h0M874.9 495.6h0M897.6 456.3h0M886.8 479.9h0M890.3 534.9h0M895.8 533.6h0M915 524.3h0M912.7 464.9h0M900.2 534.6h0M906.7 435.1h0M871.9 530.2h0M908.6 431.3h0M868.2 506.2h0M888.4 535.6h0M867.6 522.4h0M896 536h0M908.2 430.3h0M898.6 457.5h0M919.6 494.2h0M876.7 532.9h0M912.8 459.7h0M909.1 430.7h0M891.2 472.4h0M919.1 510.4h0M910.1 457.3h0M889.2 477.4h0M910.9 529.1h0M890.4 475.7h0M910.2 438.6h0M913.7 526.7h0M879.1 534.5h0M912 449.2h0M879 490.4h0M893.7 535.9h0M868.9 511.5h0M874.7 530.8h0M918.4 485.6h0M905.5 439.3h0M906.8 434h0M910.4 526.3h0M896.6 461.1h0M888.4 477.4h0M892.2 472h0M901.4 447.1h0M883.1 483.9h0M874.9 499.1h0M891.8 536.3h0M877.4 533.8h0M910.1 454.3h0M884.2 482h0M902.2 444.9h0M907.3 432.5h0M918.7 493.4h0M911.1 462.1h0M915.1 473.3h0M918.6 482.1h0M887.2 481.5h0M919.3 496.3h0M869.9 502.2h0M901.1 533.1h0M908.3 531.2h0M909.4 452.7h0M871.1 501.2h0M872.9 498.5h0M910.4 440.2h0M914.2 465.2h0M905.3 533.9h0M885.4 534.8h0M908 431h0M883.9 536.3h0M880.9 534.2h0M890.9 473.3h0M915.9 518.3h0M868 516.8h0M917.2 517.2h0M882.6 483.7h0M876.3 488.8h0M920.5 489.7h0M873.4 498.4h0M916.1 477.4h0M905.6 434.2h0M912.8 465.5h0M884.5 481.4h0M904.1 435.7h0M900.6 449h0M870 501.7h0M908.1 427.6h0M873.8 493.9h0M917.2 514.3h0M897 456.9h0M867.9 518h0M908.4 446.2h0M915.6 516.3h0M872.2 501.1h0M869.2 520.3h0M911.2 457.3h0M913.7 468.7h0M871.9 499.2h0M881.5 532.3h0M878.7 531.2h0M873.5 494.3h0M910.2 458h0M888.6 536h0M884.7 531.9h0M904.8 434.3h0M912.7 527h0M869.7 502.3h0M917.5 481.5h0M899.3 534h0M878.9 487.9h0M890.2 472.9h0M889.2 473.7h0M902.3 444.3h0M911.2 451h0M873.4 495.4h0M916.5 516h0M910.1 453.5h0M872.2 499.1h0M908.9 530.2h0M873.8 529.1h0M885.4 484.7h0M880.2 487.8h0M868.7 501.5h0M894.5 535.2h0M913.1 467h0M886.3 536.8h0M895 462.9h0M909.6 442.1h0M907.2 436.3h0M895 464.6h0M922.5 494.7h0M910.5 528.4h0M898 453.6h0M918.9 507.1h0M908.5 531h0M909.4 436.9h0M918.5 479.4h0M874.9 529.7h0M905.9 440.1h0M915.1 519h0M866.6 510h0M909.7 443.8h0M882.9 535.3h0M887.8 535.4h0M915.3 515.6h0M879.1 488.6h0M914.9 517.1h0M900.3 450.8h0M868.7 519.6h0M914.8 521.6h0M905.5 440h0M885.9 535.4h0M920.4 495.9h0M884 533.5h0M900.3 451.1h0M911.2 527.1h0M892.4 470.9h0M874.7 498.8h0M916.6 517.4h0M884.8 481.7h0M873.9 526.2h0M873.8 525.6h0M906.1 437.8h0M868.4 517.1h0M873 526h0M915.4 476.8h0M908.2 532.6h0M873 528.1h0M891.4 535.9h0M916 476.8h0M872.8 530.8h0M915.6 475.6h0M913.8 465.2h0M881.9 533.3h0M912.4 448.3h0M920.9 496.1h0M909.7 450.3h0M906.1 439h0M913.1 462.6h0M888.1 481.7h0M913.7 467.9h0M919.7 493h0M889.8 472.8h0M868.3 509.4h0M913.6 461.9h0M875.9 492.5h0M906 438.1h0M893.5 535.2h0M919.1 493.5h0M910.3 448.5h0M906.8 532.5h0M883.3 534.9h0M869.6 517.4h0M900.8 451.1h0M897.2 462.5h0M919 500.4h0M899.2 455.3h0M893.1 467h0M870.2 523h0M898.5 460.5h0M908.7 431.2h0M897.5 459.7h0M883.3 483.1h0M893.6 465.9h0M871.3 525.9h0M881.5 533.7h0M898.6 455.1h0M915.8 510.1h0M912.7 524.8h0M908.9 532.2h0M904 446.5h0M898 453.1h0M921.3 496.6h0M869.2 501.9h0M903.9 443.1h0M870 512.5h0M895.3 464.8h0M906.7 533.8h0" stroke="#7ac83a" stroke-width="2.4" stroke-linecap="round" fill="none"/>
<path d="M904.4 504.5h0M897.1 482.9h0M888.7 520.7h0M906.4 505.5h0M908 438.7h0M883.4 490.8h0M893.8 516.7h0M901.1 532.6h0M908.4 507.5h0M916 487.7h0M898.1 493.4h0M912.4 483.8h0M907.9 513.5h0M882.8 493.1h0M887.6 531.7h0M903.6 480.1h0M895.1 477.5h0M897.6 480.3h0M869.3 509.7h0M885.2 504.9h0M903.4 514.7h0M904.3 465.3h0M902.5 514.8h0M904.4 494.1h0M883 511.5h0M898.3 525.2h0M912.8 506.8h0M906.5 497.3h0M893.8 526.4h0M905.1 529.1h0M908.5 436.6h0M888.6 520h0M905.4 482h0M891.4 471.6h0M892.3 492.8h0M900.7 491h0M893.3 485.2h0M883.2 486.5h0M883.2 494h0M891.4 495.5h0M908.1 434.9h0M891.7 526.6h0M916.4 507h0M916.7 483.1h0M905.6 457.9h0M894.4 471.9h0M913.7 485.5h0M907.8 457.1h0M894 486h0M884.9 502.4h0M898.1 505.9h0M891.7 523h0M912.6 492h0M891.2 477.1h0M892.9 511.3h0M906.7 448h0M903.8 513.1h0M907.5 466.6h0M907.7 470.1h0M891.5 503h0M903.7 498.9h0M874.8 503.3h0M908.6 510h0M900.6 493h0M902 510.1h0M909.7 485.1h0M919.2 499h0M873.9 497.3h0M879.9 528.2h0M912.8 502.5h0M903 525.1h0M888.5 516.1h0M900.1 517.4h0M871.4 505.9h0M912.3 466.7h0M912.2 467h0M911.4 464.9h0M896.7 496.2h0M901.1 532.4h0M904.8 442h0M914.6 505.4h0M894.8 491.4h0M892.6 526.8h0M869.2 505.6h0M888.4 534.5h0M874.9 518.5h0M909.3 478.7h0M903.9 488.5h0M907.4 517.4h0M901.9 533.5h0M906.7 437.3h0M895.7 517.1h0M902.8 470.3h0M910.5 527.5h0M910.7 510.4h0M890.1 535.7h0M918.9 493.2h0M879.3 522.2h0M906.7 468h0M915.1 511.3h0M903.4 502.7h0M881.7 489.2h0M905.6 476.9h0M884.2 513.2h0M901.2 501.7h0M906.1 509.8h0M871.3 517h0M899.4 455.9h0M904.3 529.4h0M913.5 470.9h0M881.4 505.2h0M884.9 520.2h0M882.2 525.2h0M916.3 487.6h0M869.4 514h0M905.8 439.4h0M875.7 498.3h0M910.6 464.5h0M885.8 522.8h0M899.5 471.9h0M878.1 495.6h0M893.4 502.8h0M910.3 502.8h0M876.7 507h0M900.8 470.3h0M911.2 516h0M899.3 500.6h0M898.3 522.9h0M885.1 519h0M913.1 491h0M899.6 498.5h0M909.1 480.8h0M913.2 482.3h0M884 534.4h0M907.3 445.3h0M893.4 531.6h0M891.1 515.3h0M911.9 486.8h0M897.9 487.5h0M902.2 453.6h0M902.6 514.5h0M872.2 511h0M890.7 515.9h0M909.2 505.5h0M904.3 512.4h0M909.8 456.1h0M868.4 510.9h0M911.7 465.4h0M918.3 492.8h0M914.9 495.2h0M916.8 491.4h0M900.5 509.2h0M908.7 438.2h0M916.5 482.2h0M889 518h0M883.2 505.7h0M886.6 480.7h0M889.1 512.8h0M896 470.8h0M913.3 476.6h0M872.4 504.1h0M885.5 507.5h0M905.4 488.9h0M903.6 522.8h0M897.9 470h0M910.5 521.4h0M907.8 450.1h0M871.5 516h0M897.8 518.2h0M892.1 489.2h0M884 498.3h0M912.2 473.1h0M885.6 511.3h0M909.8 527h0M894 493.2h0M902.9 518.3h0M900.6 456.5h0M908.2 512.6h0M888.6 520.8h0M869.5 505h0M891.5 508.3h0M902.6 495.9h0M897.1 459.9h0M886.2 529.5h0M897.6 530.3h0M907.9 459.9h0M900.6 480.8h0M909.6 455.2h0M917.8 507.8h0M900.4 490.2h0M914.3 481.7h0M905.5 513.5h0M888.2 531.6h0M905.5 485.1h0M907.1 465.9h0M904 487.6h0M888.3 508.7h0M880.4 504.6h0M889.6 532.9h0M914.4 477.1h0M903.5 526.4h0M903.8 532.7h0M898.6 468.8h0M903.2 507.5h0M892.7 512.3h0M910.9 492.9h0M897 461.3h0M879.8 529.2h0M912.7 486.8h0M914.9 474.3h0M914 494.9h0" stroke="#fff" stroke-width="1.8" stroke-linecap="round" fill="none"/>
<polygon points="1036.6,508.4 1047.8,506.5 1051.6,514 1052.5,529 1053.5,547.8 1053.5,566.6 1051.6,585.4 1049.7,596.7 1040.3,594.8 1029,589.2 1021.5,576 1019.7,557.2 1021.5,546 1029,536.6 1034.7,525.3 1035.6,515.9" fill="#f5c518"/>
<path d="M1053.2 566.7h0M1037.9 593.6h0M1053.1 549.7h0M1050.3 595.1h0M1052.1 568.7h0M1028.9 533.5h0M1020.6 575.1h0M1054.9 540.4h0M1022.6 574.2h0M1050.5 582h0M1052.8 555.6h0M1021.6 574.8h0M1019.1 556h0M1032.2 520.7h0M1054.1 530.6h0M1052.9 531.2h0M1053.1 561.6h0M1044.5 507.4h0M1053.8 565.2h0M1050.1 527.3h0M1036.6 517.6h0M1051.4 511.8h0M1025.6 581h0M1054.9 562.2h0M1021.1 573.3h0M1053.4 566.5h0M1052.1 519.7h0M1029 534.8h0M1053.9 563.6h0M1052.6 518.4h0M1035.3 518.4h0M1054.8 560.6h0M1025.8 585.3h0M1054.4 566.9h0M1051 516.7h0M1054.9 560.8h0M1051 592.1h0M1053.2 532.2h0M1019.8 559.4h0M1035.1 518.8h0M1052.7 537h0M1054.4 557h0M1036.6 594.9h0M1050.4 595.2h0M1051.5 520.7h0M1053.8 544.5h0M1054.3 546.6h0M1052.2 532.6h0M1054.2 540.7h0M1021.2 547.9h0M1052.9 542.5h0M1020.5 560.4h0M1040.7 505.6h0M1027.8 588.1h0M1053.5 563.5h0M1052.4 543.7h0M1026.7 585h0M1035.5 526.1h0M1039.7 507.8h0M1037 526.2h0M1046.4 595.4h0M1024.4 545.2h0M1019.6 551.8h0M1054.3 561.4h0M1023.6 579.5h0M1051.9 578h0M1036.8 593.2h0M1051.2 593.1h0M1053 524.2h0M1034.4 514.5h0M1032.4 590.7h0M1052.4 522.5h0M1027.7 584.1h0M1031.2 588.8h0M1054.1 556.5h0M1025 582.7h0M1049.6 593.9h0M1033.3 521h0M1054.8 542.3h0M1052.9 517.9h0M1054 546.9h0M1022.5 543.1h0M1049.4 598h0M1032.6 522.3h0M1020.8 573.6h0M1037.3 511.2h0M1053.4 562h0M1047.8 506.9h0M1030.6 588.7h0M1034.3 516.4h0M1033.4 591.1h0M1048.2 592.5h0M1019.1 568.9h0M1028 586h0M1052.4 557.5h0M1025.9 537.5h0M1033.4 591.7h0M1029.2 535.9h0M1048.9 509.3h0M1029.5 590.6h0M1054.8 532.9h0M1044.5 596.6h0M1054.7 536.5h0M1052.8 521.3h0M1053.9 548.9h0M1045.1 506.6h0M1049.5 510.2h0M1021 548.8h0M1037.3 511.4h0M1052.4 527.7h0M1035.8 516.4h0M1052.6 518.9h0M1034.3 521h0M1029.2 534.3h0M1020.2 557.8h0M1022.8 545.3h0M1052.9 565.9h0M1036.2 506.9h0M1052.6 583.3h0M1051.7 519.9h0M1054.6 552.8h0M1034.5 524.9h0M1051.9 522.9h0M1029.1 588.7h0M1030.4 532.8h0M1047 505.4h0M1021.2 565.3h0M1054.6 561.9h0M1039.2 594.9h0M1050.3 589.6h0M1052.3 581.1h0M1021.6 577.4h0M1021 558.2h0M1031.4 532.8h0M1036 592.4h0M1048.6 595.8h0M1020.8 557.9h0M1051 584.2h0M1053.1 564h0M1036.5 508.7h0M1022.8 575.3h0M1033.9 528.4h0M1040.1 505.7h0M1033.4 527.1h0M1048.2 597h0M1054.1 530.4h0M1022.7 541.2h0M1033.2 527h0M1054.2 559h0M1051.8 563.4h0M1029.9 588.8h0M1050.9 514.7h0M1019.7 550.7h0M1020.8 554.9h0M1022.2 570.3h0M1049.6 510.4h0M1052.4 516h0M1049.2 525.3h0M1020.9 553.9h0M1054 533.2h0M1051.7 580h0M1052.1 552.5h0M1050.9 589.3h0M1044.7 595.5h0M1020.2 551.8h0M1024.8 580h0M1051.7 522.1h0M1035.1 512.9h0M1049.8 510.4h0M1051.3 523h0M1049.9 594.7h0M1034.2 519.9h0M1045.4 506.8h0M1053 544.6h0M1054.6 539h0M1023.9 544.6h0M1051.9 585.6h0M1051.6 589.4h0M1021.4 546.5h0M1037.1 517.6h0M1039.2 508.2h0M1051.8 533.6h0M1033.7 590.6h0M1051.2 507.1h0M1036.7 514.9h0M1053.9 515.1h0M1053.3 570.6h0M1052.3 580.6h0M1053.8 566.3h0M1051.6 529.1h0" stroke="#f5c518" stroke-width="2.4" stroke-linecap="round" fill="none"/>
<path d="M1022.2 548.8h0M1036.3 587h0M1033.9 584.4h0M1036.9 534.1h0M1030.4 587.7h0M1049 590.4h0M1050.9 528.7h0M1039.6 536.7h0M1028 572.2h0M1045.9 519.8h0M1030.8 535.7h0M1029.2 575.3h0M1046.5 512.8h0M1052.7 570h0M1046.1 562.6h0M1022.8 553h0M1050 542.3h0M1037 518.4h0M1040.5 588.5h0M1027.8 548.6h0M1035.7 589.1h0M1044.1 560h0M1025.6 567.3h0M1036.6 568.3h0M1030.7 543.2h0M1036.9 577.6h0M1037.5 525.1h0M1036.1 558h0M1021.3 559.1h0M1038.7 564.5h0M1042.4 574.9h0M1028.9 563.6h0M1049.8 539.4h0M1046.2 507.9h0M1028.2 555.3h0M1050 572.5h0M1049.9 593.4h0M1025.1 558.5h0M1030.6 569.8h0M1043.1 520.9h0M1039.8 580.2h0M1047.2 534.8h0M1047 569.1h0M1031 568.7h0" stroke="#fff" stroke-width="1.8" stroke-linecap="round" fill="none"/>
<polygon points="1114.7,236.3 1119.4,223.7 1127.3,217.4 1138.4,213.4 1151,215.8 1165.2,220.5 1176.2,228.4 1182.6,239.4 1184.1,255.2 1184.1,271 1185.7,286.8 1187.3,301 1181,301 1174.7,288.4 1169.9,271 1166.8,253.6 1158.9,244.2 1147.8,239.4 1140,239.4 1132.1,242.6 1127.3,247.3 1121,247.3 1116.3,241" fill="#3a88d0"/>
<path d="M1160.2 247.1h0M1157.9 218.2h0M1162.1 245.7h0M1141.9 239.5h0M1129 244.1h0M1168.8 265.5h0M1183.6 300.4h0M1183.1 300.8h0M1161.3 217.9h0M1185.5 283.3h0M1158.5 219.2h0M1184.9 252.2h0M1183.2 244.2h0M1186 280.8h0M1141.1 214.1h0M1168.4 222.5h0M1186.7 287.3h0M1141.7 215.3h0M1169.1 259.9h0M1142.2 214.2h0M1139.9 241h0M1167.7 255.2h0M1185.5 284.6h0M1173.7 282.8h0M1115.9 237.7h0M1129.4 216.3h0M1166.2 254.1h0M1186.6 298.4h0M1131.5 242.1h0M1126.6 217.4h0M1127.8 247.4h0M1185.1 290.7h0M1167.2 260.9h0M1139.7 240.8h0M1123.8 219.7h0M1183.3 300.6h0M1126.6 217.1h0M1154.7 219.5h0M1173.9 284.3h0M1173.3 226.3h0M1159.7 244.2h0M1168.1 259.9h0M1120 245.4h0M1167.1 221h0M1140.9 213.9h0M1123 247.8h0M1172.3 276.8h0M1183.3 279.8h0M1130.2 243.5h0M1184.5 242.3h0M1118.8 245.8h0M1182.7 276h0M1185.3 282.4h0M1132.7 241.8h0M1116 235.3h0M1170.1 273.9h0M1130.1 217.2h0M1139.2 240.5h0M1180.3 294.7h0M1115.6 232.9h0M1124.9 247.7h0M1118 226.6h0M1126.4 217.5h0M1116.9 232.7h0M1186.5 285.6h0M1140.4 239.6h0M1170.4 275.3h0M1166.6 257.4h0M1121.4 248h0M1187.5 292.1h0M1177 292.8h0M1185.2 272.9h0M1127.8 217.2h0M1119.7 245.5h0M1186.4 285.3h0M1140.3 214.2h0M1186 291.8h0M1173.1 280.1h0M1185.3 294.2h0M1183 241h0M1127.6 244.7h0M1117.2 233.8h0M1133.2 214.8h0M1137.8 214h0M1185.5 301.1h0M1115.7 237.2h0M1182.1 239h0M1165.6 219.7h0M1147.6 239h0M1177.3 231.3h0M1165.2 220.9h0M1144.7 239.4h0M1174 289h0M1183.3 255.5h0M1181.7 251.2h0M1158.3 242.8h0M1123 248h0M1173.4 277h0M1182.4 239.7h0M1172.6 281.9h0M1183.4 239.3h0M1114.6 236.9h0M1180.5 238h0M1147.7 238.5h0M1141.2 239.3h0M1153.4 216.4h0M1172.5 224.4h0M1154.1 219.5h0M1170.1 223.2h0M1185.5 265.7h0M1186.2 266.5h0M1122.7 247.2h0M1181.7 238h0M1143.9 213.1h0M1117.4 229.2h0M1186.4 288.8h0M1118.6 227.4h0M1164.9 251.3h0M1152.5 240.3h0M1171.7 228.5h0M1178.2 293.8h0M1183.7 299.8h0M1160.4 218h0M1173.8 277.2h0M1181.6 236.8h0M1184.8 245.4h0M1163.7 218.6h0M1153.6 241.4h0M1168.2 258.4h0M1161.7 248.1h0M1186.8 289.5h0M1129.3 245.1h0M1184.8 259.4h0M1127.6 215.6h0M1127.1 218.4h0M1184 255.4h0M1166.5 253.5h0M1126.2 219h0M1184.8 277h0M1184 252.2h0M1155.1 242.4h0M1176.3 230.7h0M1176.6 292.2h0M1175.2 284.4h0M1164.8 251.4h0M1133.7 240.5h0M1183.9 249.2h0M1130.9 243h0M1133.1 241.9h0M1182.7 259.8h0M1170.7 266.7h0M1169.8 265.5h0M1137.8 213.8h0M1149.5 238.7h0M1175.5 229.4h0M1172.3 226.1h0M1178.9 298h0M1171 224.1h0M1182.7 277.4h0M1151.4 215.2h0M1119.1 224.4h0M1137.8 238.1h0M1117.3 225.2h0M1140.5 215.1h0M1142.2 240.1h0M1117.3 225.1h0M1119.6 226.1h0M1176.6 288.5h0M1186.2 300h0M1183.1 252.7h0M1167.4 258.6h0M1185.8 253.9h0M1123.9 219.5h0M1184.8 264.3h0M1184.1 264.7h0M1163.3 218.9h0M1164 221.1h0M1147.8 214.8h0M1168.8 273.9h0M1128.5 218.2h0M1170.4 225.1h0M1164.6 251.5h0M1173.4 283.7h0M1173.1 227.6h0M1168.1 223.3h0M1131.4 215h0M1182.8 245.7h0M1175.3 283.4h0M1125.2 246.9h0M1183.2 274.1h0M1135.7 240.8h0M1154.7 218.7h0M1126.9 217.3h0M1162.9 249.8h0M1144.4 238.9h0M1169.3 279.1h0M1164.4 219.8h0M1185.1 286.5h0M1161.9 247.9h0M1158.8 217.6h0M1145 216h0M1183.7 265.4h0M1120 223.9h0M1118.7 227.8h0M1164 220h0M1178.3 292.7h0M1186.7 299.3h0M1176.4 287h0M1184.7 251.7h0M1165.1 253.7h0M1170.1 274.2h0M1166 256h0M1181.7 243h0M1151.7 240h0M1147.8 237.7h0M1131.2 215.9h0M1173.5 225.8h0M1176.9 290.6h0M1162.4 247.3h0M1163 249.8h0M1185.5 303.2h0M1127 247.2h0M1181.5 236.6h0M1167 263.3h0M1145.4 239h0M1167.7 256h0M1124.2 248h0M1126.5 217.9h0M1119.5 224.3h0M1162.5 220.3h0M1183.4 257.6h0M1177.8 230.6h0M1157.5 219h0M1171.1 284.4h0M1185.6 282.5h0M1179.7 296.4h0M1169.2 269.9h0M1118.1 244.3h0M1184.3 279.4h0M1137.7 213.5h0M1154.2 242.6h0M1115.5 232.3h0M1184 260.4h0M1186.7 294.8h0M1183.8 263.5h0M1123.3 247.5h0" stroke="#3a88d0" stroke-width="2.4" stroke-linecap="round" fill="none"/>
<path d="M1132.3 231.8h0M1123.1 228.4h0M1178.9 292.2h0M1170.5 256.5h0M1159.3 237.7h0M1131.9 227.2h0M1157.9 239.5h0M1180.7 287.5h0M1175.9 267.1h0M1153.7 218.7h0M1180.4 238.2h0M1174.1 230.2h0M1119.1 239.6h0M1161.6 220.3h0M1184.3 276.8h0M1122.3 231.1h0M1139.8 236.2h0M1168.6 243.6h0M1141.9 221h0M1124.5 232.5h0M1152.4 224.4h0M1144 221.8h0M1170 240.6h0M1157.4 222.4h0M1167.9 248.9h0M1158 239.3h0M1125.7 242.7h0M1142.3 217.4h0M1126.8 240.2h0M1165.3 250.6h0M1144.8 227.2h0M1171 255.2h0M1134.6 216.5h0M1171.8 260.9h0M1156 221.6h0M1162.9 238.3h0M1128.8 236.6h0M1153.3 240.7h0M1180.4 246.1h0M1175.8 283.7h0M1148.5 232.4h0M1179.8 280.2h0M1147.4 216.9h0M1120.7 230.9h0M1165 237.9h0M1182.6 241.6h0M1148.8 222h0M1180.4 268.3h0M1182.6 275.3h0M1150.2 223.5h0M1143.3 215.1h0M1140 225h0M1147 230h0M1143.2 231.3h0M1167.6 244.1h0M1133.5 232.9h0M1163.2 240.3h0M1135.1 221.8h0M1166.3 226.1h0M1181.7 287.4h0M1147.8 222.4h0M1176.3 257h0M1122.2 229.2h0M1159.8 229.4h0M1129.4 242.4h0M1171.4 266.5h0M1171.7 276.6h0M1168.8 259.5h0M1184.1 278.1h0M1135.5 219.2h0M1175.5 228.6h0M1122.3 233.7h0M1140.6 215.6h0M1121.9 245.4h0M1121.4 238.8h0M1172.2 255.5h0M1165.2 221.1h0M1147.2 227.4h0M1131.7 228h0M1183.4 289.2h0M1184.4 277.6h0M1145.2 233.3h0M1144.5 217.3h0M1173.5 241.5h0M1135.1 216.7h0M1157 218.1h0M1171.9 278.3h0M1173.1 259.1h0M1121.5 230.3h0M1166.3 225.5h0M1182 280.6h0M1140.5 224.2h0M1125.2 241.7h0M1122.1 243.9h0M1179.6 283h0M1128.3 227.2h0M1179.5 254.3h0M1179.8 242.7h0M1140.2 238.5h0M1172.1 268.8h0M1125.4 240h0M1183.1 252.2h0M1157.8 231.7h0M1138 226h0M1119.1 237h0M1174.8 248.4h0M1182.7 295.9h0M1184.2 282.3h0M1137.2 227.1h0M1147.9 235.6h0M1151.1 236.1h0M1143.6 221.5h0M1154.9 240.7h0M1178.4 233.9h0M1173.8 256.2h0M1175.8 238.5h0M1171.2 244.6h0M1161.8 242.7h0M1158.2 231h0M1173 249h0M1180.9 278.4h0M1126.1 242.7h0M1167.2 243.5h0M1180.7 264.9h0M1174.7 258.8h0M1138.1 228.6h0M1159.1 243.2h0M1139.3 220h0M1183.4 299.7h0M1163.9 222.8h0M1178.2 251.2h0M1173.5 263.6h0M1175.6 231.2h0M1171.3 231.5h0M1146.2 220.2h0M1180.4 262h0M1177.4 272h0M1119.5 244.6h0M1126 239.6h0" stroke="#fff" stroke-width="1.8" stroke-linecap="round" fill="none"/>
<polygon points="1100.5,260 1111.6,250.5 1125.8,245.8 1136.8,248.9 1141.5,260 1140,275.7 1136.8,289.9 1127.3,301 1116.3,305.7 1103.7,299.4 1097.4,288.4 1096.6,272.6" fill="#7a1ab8"/>
<path d="M1102.2 296.5h0M1103 297.9h0M1097.9 275.5h0M1100.5 291.4h0M1142 263.3h0M1137 284.9h0M1110.9 249.6h0M1108.5 252.6h0M1139.7 271.6h0M1142.6 264.8h0M1101 292.8h0M1139.5 272.9h0M1129.7 299.9h0M1096.2 273.5h0M1101.2 265.2h0M1140.4 262.3h0M1138.1 255.7h0M1131.2 298.9h0M1139.3 283h0M1096.7 268.4h0M1140.4 257h0M1130.6 246.9h0M1113.1 304.1h0M1098.5 264.9h0M1139.3 253.4h0M1102.4 298.8h0M1125.4 303.7h0M1122.6 246h0M1137.6 286.5h0M1138 254h0M1118.5 303.8h0M1119.5 303.4h0M1139.2 254.3h0M1097.2 269.7h0M1137.1 283.8h0M1117.6 306.2h0M1140.4 274.6h0M1099.4 280.9h0M1138.6 254.2h0M1099.8 292.2h0M1110.6 304.6h0M1109 252.7h0M1096.4 278h0M1101.9 296.1h0M1121.2 248.3h0M1130 294.5h0M1136.3 285.2h0M1099.5 266.2h0M1141 270.6h0M1127.7 247h0M1112 249.4h0M1098.1 277.2h0M1137.5 285.2h0M1098.9 264.9h0M1097 280.2h0M1133.6 248.2h0M1129.4 246.9h0M1141.7 265.9h0M1100.8 262.9h0M1103.2 300.9h0M1115.6 248h0M1141.6 271.7h0M1122.7 246h0M1098.4 263.7h0M1139 275.8h0M1139.6 274.8h0M1101.7 257.5h0M1141 261.7h0M1137.3 285.5h0M1106.2 254.7h0M1104.8 301.6h0M1097.6 281.3h0M1138.9 281h0M1142 276.8h0M1098.7 287.6h0M1107.3 301.2h0M1131.9 247h0M1121.2 246.2h0M1133.9 294.1h0M1139.4 270.9h0M1097.1 286.2h0M1116.3 306.5h0M1133.7 247.2h0M1123.9 300.8h0M1119.6 248.3h0M1133.7 293.9h0M1103.9 299.5h0M1139.6 285.3h0M1125.8 301.4h0M1133.4 291.8h0M1138.5 272.6h0M1140.4 280.9h0M1136.1 249.2h0M1097 276.1h0M1096.6 271.9h0M1135.6 292.5h0M1133.3 245.7h0M1098.1 287.2h0M1140.8 264.2h0M1136.5 293.2h0M1123.4 247.3h0M1107.5 301.6h0M1128 297.1h0M1116.1 248.6h0M1126 245.6h0M1134.6 247.6h0M1125 248.4h0M1096.8 277h0M1096.5 277.4h0M1094.9 273.9h0M1102.3 258.8h0M1096.8 280.4h0M1138.1 273.2h0M1111.9 303.6h0M1100 260.1h0M1138.1 250.7h0M1138.9 273.4h0M1097.2 284.1h0M1099.3 290.8h0M1115.7 248.8h0M1129.8 246.9h0M1142.5 260.7h0M1138.7 251.7h0M1141.9 260.5h0M1107 255.1h0M1139.2 252.3h0M1139.1 270.8h0M1101.7 259.6h0M1126.3 300.3h0M1102.7 257h0M1135.1 291.6h0M1120.3 250.8h0M1127.5 298.3h0M1098.4 269.2h0M1101.4 260.5h0M1100.7 259h0M1104.5 254.6h0M1109.7 250.1h0M1134.6 293.9h0M1113.2 251.6h0M1122.6 246.4h0M1110.1 252.1h0M1099.8 261.1h0M1122.1 248h0M1103.9 300.9h0M1100.1 261.8h0M1132 296.3h0M1098.3 293.9h0M1140.2 263.1h0" stroke="#7a1ab8" stroke-width="2.4" stroke-linecap="round" fill="none"/>
<path d="M1132 281.6h0M1117.5 266.5h0M1139.1 277.6h0M1120.6 275.6h0M1135.8 260.9h0M1123.6 286h0M1131.4 287.5h0M1118.8 257.8h0M1106.2 281h0M1133.3 258.7h0M1125.8 257.7h0M1138.6 262.2h0M1098.3 286.7h0M1138.6 255.5h0M1113.8 255.9h0M1127.7 290.6h0M1131.5 292.1h0M1127.9 265.6h0M1118.2 250.7h0M1115.1 267.2h0M1112.4 294.5h0M1099.8 270.6h0M1112.5 265.8h0M1127.4 280.6h0M1138.7 281.4h0M1107.5 259.5h0M1124.9 284h0M1108.8 284h0M1109.1 282.1h0M1121.7 303.3h0M1109.2 295h0M1113.3 270.5h0M1121 271.9h0M1114.3 251.4h0M1117.8 270.2h0M1097.3 279.4h0M1113.4 281.5h0M1113.3 280.1h0M1108.8 262.2h0M1120 259.6h0M1109.4 280.5h0M1113.3 295.7h0M1105.8 278.6h0M1130.5 276.5h0M1135.8 267.5h0M1119.7 274.3h0M1133.9 280.2h0M1117.3 267.9h0M1139.7 272.6h0M1112.6 285.1h0M1111.8 260.2h0M1119.2 288.3h0M1123 271.4h0M1134.5 266.9h0M1104 297.2h0M1118.8 250.7h0M1127.2 249.6h0M1132.9 271.4h0M1122.3 291.6h0M1112.3 258.4h0M1124.5 254.8h0M1121.6 259.4h0M1117 299.6h0M1125.8 282.1h0M1104.3 270.7h0M1136.7 285.1h0M1137.7 264.3h0M1108.9 253.6h0M1102.2 287.9h0M1114.2 257.4h0M1109.9 261.4h0M1113.7 279.2h0M1121.9 277.3h0M1103.2 278.3h0M1118.5 274.3h0M1116.9 265.5h0M1124.8 252h0M1116.3 278.8h0M1103.5 297.2h0M1125 297.7h0M1123.6 280.2h0M1116.7 265.3h0M1119.2 255.8h0M1139.3 273.7h0M1106.7 297h0M1137.4 256.9h0M1120.8 265.7h0M1097.3 285.1h0M1120.9 299.6h0M1126.2 298.2h0M1127.6 287.5h0M1139.2 269.7h0M1107.9 295.9h0M1130.8 260.8h0M1118 255.9h0M1130.9 289.9h0M1127.6 260.4h0M1102.6 278.5h0M1116.8 260.9h0M1137.6 284h0M1115.3 287.9h0M1105.6 291.7h0M1102.4 280.6h0M1125.6 268.9h0M1125 257.8h0M1107 294.1h0M1113.1 268.7h0M1119.8 266h0M1101.9 264.8h0M1113.6 265.9h0M1136.7 255h0M1129.6 288h0M1131 294.8h0M1113.6 266.2h0M1133.6 289.8h0M1116.7 273h0M1123.9 254h0M1102.6 280.9h0M1123.3 290.3h0M1100 292.8h0M1126 290.5h0" stroke="#fff" stroke-width="1.8" stroke-linecap="round" fill="none"/>
<polygon points="1174.7,297.8 1185.7,301 1190.4,313.6 1190.4,334.1 1188.9,351.5 1184.1,367.2 1177.8,378.3 1168.4,386.2 1162,395.6 1158.9,386.2 1154.2,357.8 1160.5,342 1166.8,329.4 1168.4,310.4" fill="#8a8a2c"/>
<path d="M1168.8 321.3h0M1189.6 335.9h0M1155.7 368.7h0M1162.6 336.4h0M1190.1 349.1h0M1166 329.1h0M1184.9 299.6h0M1189.4 333.2h0M1169.2 308.8h0M1174.7 298.2h0M1157.3 368.7h0M1179.1 377.6h0M1165.5 331h0M1154.8 371.6h0M1168.4 315.3h0M1162.1 338.4h0M1173.1 304.6h0M1160 383.5h0M1156.4 356.9h0M1154.6 356.2h0M1190.1 324.5h0M1166.7 323.7h0M1189.6 317.6h0M1155.5 360.5h0M1156.7 364.3h0M1165.1 330.9h0M1183.2 369.7h0M1170.6 304.2h0M1166.6 388.1h0M1157.8 374.9h0M1164.7 393.1h0M1162.1 396h0M1189.5 346.3h0M1174.8 381.9h0M1158 381.6h0M1170.8 305.8h0M1172.6 383.4h0M1191.9 313.9h0M1180.7 373.5h0M1155.5 361.8h0M1155.7 361.6h0M1174 381.2h0M1154.9 366h0M1166.9 319h0M1175 379.6h0M1171.6 381.9h0M1161.7 394.6h0M1173.6 303.7h0M1155.8 362.8h0M1190.4 348.6h0M1152.8 364.4h0M1163.8 396.2h0M1188.5 345.7h0M1170.7 303.5h0M1160.3 341.3h0M1189.8 324.8h0M1189.1 326.5h0M1160.8 390.9h0M1181.8 370.2h0M1154.8 354.7h0M1168.9 309.8h0M1170.7 382.7h0M1173.7 298.2h0M1165.8 329h0M1156.7 378.7h0M1163 393.2h0M1168.3 310.3h0M1168.9 329.1h0M1179 374.7h0M1160.3 343.1h0M1189.2 353.5h0M1160.2 391.3h0M1161.1 394.2h0M1181.5 299.6h0M1153.9 354.9h0M1187.9 356.9h0M1155.2 366.4h0M1165.4 391.1h0M1182.8 365.5h0M1189.6 337.9h0M1189.4 322.1h0M1188.6 352.7h0M1185.5 301h0M1185.7 363.4h0M1186.5 363h0M1168.7 308.6h0M1163.2 338.2h0M1157.1 348.6h0M1180.1 376.6h0M1176 381.9h0M1189.7 342.4h0M1158.6 390h0M1178.1 376.6h0M1176.8 297.7h0M1159.2 343.8h0M1154.8 357.1h0M1156.9 365.3h0M1168.7 308.2h0M1188.6 341.4h0M1188.4 304h0M1179.5 300.2h0M1189.2 344h0M1181 375.2h0M1187.8 356.5h0M1190.6 329.7h0M1169.5 307h0M1167.5 322.1h0M1167.2 327.6h0M1166.9 314.3h0M1177.1 298.1h0M1160.7 340.7h0M1169.3 309.3h0M1189.9 318.9h0M1162 391.6h0M1166.3 330.2h0M1180.3 371h0M1186 355.6h0M1188.9 347.9h0M1168.4 318.9h0M1190.8 334.8h0M1193 323h0M1188.7 326.3h0M1162.1 339.4h0M1182 369h0M1188.6 347.5h0M1167.8 314.6h0M1160.2 394h0M1163.1 336.2h0M1156.5 366.8h0M1189.2 336.4h0M1190.6 339h0M1161.7 389.7h0M1185.6 301.9h0M1159.3 386.7h0M1184.9 300.8h0M1157.4 382.8h0M1161.8 392.6h0M1163.1 394.5h0M1185.5 302.9h0M1162.1 334.9h0M1189.4 351.2h0M1163.7 336.3h0M1189.7 308.5h0M1155.3 369.8h0M1158.7 345.7h0M1188.1 356.2h0M1172.1 302.7h0M1162.7 393.4h0M1168.3 311h0M1156.9 375.4h0M1162.8 393.9h0M1184.9 362.5h0M1174 382.2h0M1171.5 302.3h0M1190.6 319.4h0M1156.8 381.8h0M1187.6 358.9h0M1190.7 317.3h0M1164.8 334.3h0M1188.5 337.6h0M1189.2 340h0M1156.2 374.2h0M1178.6 377.6h0M1187.3 308h0M1174.8 300.2h0M1158.8 385.8h0M1178.8 299.3h0M1162.4 394.4h0M1189.8 334.9h0M1173.6 300.6h0M1157.5 371.2h0M1187.7 352.5h0M1173.5 296.2h0M1155 355h0M1169.9 305.2h0M1189.5 341.5h0M1153.2 356.2h0M1158.9 378.6h0M1156.1 362.2h0M1189.5 341.1h0M1159.8 388.2h0M1155.5 360.3h0M1190 329h0M1191.4 324.8h0M1164.1 334.8h0M1160.6 392.4h0M1189.8 317.4h0M1190.4 328.5h0M1191.1 334.9h0M1165.5 390.5h0M1170.6 384.4h0M1187.9 355.1h0M1187.1 360.9h0M1156 370.4h0M1155.7 355.5h0M1182.8 367.2h0" stroke="#8a8a2c" stroke-width="2.4" stroke-linecap="round" fill="none"/>
<path d="M1169.4 322.1h0M1175.8 299.9h0M1163.6 379.6h0M1168.1 370.8h0M1174 299.8h0M1188.4 320.3h0M1187.4 340.8h0M1182.7 329.4h0M1162.2 391.1h0M1169.7 381.9h0M1156.9 362.5h0M1174.4 318.9h0M1183.1 354.9h0M1167.7 338.3h0M1164.1 345.3h0M1185.5 361.4h0M1173.7 308.7h0M1174.5 336.1h0M1183.3 318.9h0M1178.5 344.5h0M1185.1 305.7h0M1173.6 371.8h0M1178.3 354.1h0M1165.9 380.3h0M1163.3 351.2h0M1161.9 387.5h0M1159.4 375.3h0M1161.1 353.6h0M1175.7 371.1h0M1186 304.8h0M1165.6 355.8h0M1184.3 365.4h0M1188.7 342.9h0M1183.2 333.6h0M1186.7 316h0M1183 369.1h0M1182.9 300.4h0M1170.8 331.5h0M1161.6 366.4h0M1176.4 357.4h0M1189.3 317.7h0M1175.6 298.9h0M1156.3 354.7h0M1156.2 368h0M1176.7 378.1h0M1169.2 320.5h0M1183.2 351.8h0M1186.4 338.3h0M1164.6 348.2h0M1180.8 364.2h0M1166.6 375h0M1175.7 311.4h0M1169.9 313.2h0M1174.9 308.8h0M1183.5 324.9h0M1179.3 332.7h0M1182.9 340.6h0M1161.8 347.3h0M1172.9 312.7h0M1157.8 364.5h0M1176.1 353.1h0M1173.1 348h0M1175.6 321.9h0M1178.2 371.7h0M1172 371.5h0M1168 324.8h0M1175.9 311h0M1171.7 380h0M1172.1 338.6h0M1190.2 334.2h0M1176.1 308.4h0M1162.3 384.2h0M1172.3 347.2h0M1168 363.9h0M1168.9 347.3h0M1184.1 304.5h0M1189.3 330.1h0M1168.6 361.9h0M1186.8 352.8h0M1183.8 318.9h0M1160.3 378.5h0M1183.1 340.6h0M1182.1 303.2h0M1184.9 324h0M1156.7 357.3h0M1162.2 342.1h0M1170.8 309h0M1170.1 352.9h0M1182.2 355.2h0M1164.3 336.3h0M1161.9 376.5h0M1185.2 321.5h0M1171.4 311.1h0M1167.7 332.2h0M1188.4 351.6h0M1178 309.2h0M1167.8 381.2h0M1182.2 365.8h0M1171.6 344.1h0M1173.2 380.5h0M1183.1 330.7h0M1174.5 305.9h0M1175.4 324.5h0M1180.5 338h0M1163.8 365.7h0M1166.1 334.8h0M1183.1 308.6h0" stroke="#fff" stroke-width="1.8" stroke-linecap="round" fill="none"/>
<polygon points="1284.4,204.2 1289.9,202 1300.8,207.4 1309.5,211.8 1318.2,216.1 1311.7,220.5 1300.8,222.2 1287.7,222.7 1282.9,218.3 1283.4,209.6" fill="#c24060"/>
<path d="M1283 220.9h0M1302.2 208.6h0M1303.3 209.6h0M1286.2 221.6h0M1281.2 210.9h0M1289.7 222.7h0M1281.6 217.8h0M1307.3 221.5h0M1293.1 205h0M1313.2 220.7h0M1286.1 203.1h0M1316.4 216.1h0M1313.3 214.9h0M1305.1 207.2h0M1301 221.4h0M1283.8 216.4h0M1291.1 222.3h0M1300.6 222.2h0M1311.4 220.4h0M1292.5 221.8h0M1304.8 209h0M1283.7 204.5h0M1297.5 222.4h0M1293.6 205.5h0M1304 220.7h0M1290.5 201.9h0M1302.9 208.3h0M1290 223.1h0M1285.3 205.8h0M1318.1 214.6h0M1314.6 212.8h0M1307.7 209.7h0M1285 205h0M1285.9 221.4h0M1304.8 210.4h0M1282.8 218.1h0M1285.2 221h0M1306.2 209h0M1301.2 224h0M1291.4 201.3h0M1317.4 215.9h0M1311.6 220.1h0M1299.9 206.9h0M1302.1 208.6h0M1286.3 202.8h0M1295.5 222.7h0M1302 207.2h0M1308.6 222.6h0M1315.4 217.5h0M1283.6 211h0M1282.9 213h0M1283.3 214.4h0M1302 222.4h0M1311.6 214.6h0M1294.9 205.1h0M1298.8 206.1h0M1288.4 201.8h0M1308.9 212.3h0M1292.3 204.5h0M1284 204.4h0M1287.6 202.7h0M1299.8 206.7h0M1316.1 216h0M1282 207.8h0M1303.2 212h0M1316 215.4h0M1283.3 215.1h0M1314.8 213.6h0M1303.1 210.5h0M1305.6 221.8h0M1306.3 211.3h0M1287.8 202h0M1288 222.1h0M1298.6 205.6h0M1312.1 213h0M1285.2 218.4h0M1311.5 213.3h0M1302.4 207.9h0M1306.4 219.3h0M1289.1 224h0M1283.3 208.3h0" stroke="#c24060" stroke-width="2.4" stroke-linecap="round" fill="none"/>
<path d="M1301.7 211.8h0M1299.6 213.1h0M1289.3 215.5h0M1288.1 213.1h0M1299.8 216.4h0M1288.1 211.2h0M1288.9 206.7h0M1290.7 210.4h0M1309.3 214.5h0" stroke="#fff" stroke-width="1.8" stroke-linecap="round" fill="none"/>
<polygon points="1244.2,330.5 1252.9,328.3 1259.4,323.3 1264.8,322.4 1268.1,329.4 1275.7,332.7 1280.1,335.9 1276.8,342.5 1270.3,344.6 1263.8,342.5 1259.4,338.1 1252.9,334.8 1246.3,333.8" fill="#8b4513"/>
<path d="M1272.2 332.3h0M1269.2 328.9h0M1261.7 341.1h0M1275.9 341.8h0M1269.2 345.8h0M1262.2 325h0M1266.4 342.9h0M1276.7 342.9h0M1271.4 344.5h0M1269 345.1h0M1273.2 343h0M1254.7 325.7h0M1249.3 334.7h0M1251 329.8h0M1275.7 334.8h0M1247.5 333.6h0M1258.3 337.1h0M1263.3 321.9h0M1253.5 326.3h0M1276.3 339.8h0M1248.8 333.2h0M1256.8 323.5h0M1277.9 338.8h0M1270.5 331.1h0M1256.3 336.3h0M1281.8 336.8h0M1251.4 328.1h0M1248.6 335.2h0M1264 323.2h0M1275 343.7h0M1247.5 331.7h0M1254.8 337h0M1272.5 331.3h0M1245.3 328.7h0M1256.7 336.6h0M1271.4 332.2h0M1272.9 342.6h0M1264.1 344.1h0M1246.6 333h0M1255.8 335.9h0M1273.9 342.8h0M1268.2 342.5h0M1280 335.3h0M1277.6 334.9h0M1270.6 330.4h0M1273.1 344.3h0M1269.3 331.3h0M1265 322.8h0M1268.5 330.2h0M1278.4 339.1h0M1265.9 323.4h0M1267.2 342h0M1256.7 335.9h0M1268.3 328.9h0M1253.9 328.8h0M1253.8 334.1h0M1248.4 335.4h0M1266 328.5h0M1256.8 325h0M1253.6 328.2h0M1246.9 329.7h0M1261 340.8h0M1259.5 337.8h0M1256.7 323.7h0M1261 322.5h0M1257.1 326.3h0M1248.1 335.2h0M1278.8 338.7h0M1269.4 330.8h0M1261.9 341.5h0M1275.4 343.5h0M1267.8 343.8h0M1259 324.1h0M1274 333h0M1267.2 341.8h0M1262.2 322.8h0M1265.8 344.5h0M1246.3 329.4h0M1269 344.1h0M1265.2 322.8h0" stroke="#8b4513" stroke-width="2.4" stroke-linecap="round" fill="none"/>
<path d="M1262.3 324.4h0M1263.6 325.4h0M1276.9 338h0" stroke="#fff" stroke-width="1.8" stroke-linecap="round" fill="none"/>
<polygon points="1140,464.2 1156.8,456.8 1177.8,461 1185.2,474.7 1181,516.8 1173.6,548.3 1166.2,570.4 1156.8,558.8 1150.5,527.3 1140,514.7 1129.4,497.8 1131.5,485.2" fill="#8b1624"/>
<path d="M1152.3 457.2h0M1186.9 474h0M1142.6 518.2h0M1169.4 459.6h0M1130.3 490.8h0M1128.5 498.4h0M1153.2 458.4h0M1179.6 519.8h0M1154.2 547.8h0M1174.2 548.4h0M1172 459.6h0M1144.2 521.3h0M1175.9 533.4h0M1175.3 538.3h0M1150.5 460.6h0M1146.1 520.6h0M1180.2 511.4h0M1165.3 458.3h0M1168.9 559.6h0M1132.4 501.7h0M1173 546.8h0M1183.3 488.9h0M1132.4 480.6h0M1129.1 494.6h0M1152 458.6h0M1166.6 566.8h0M1184.7 490.5h0M1185.9 474.4h0M1162.1 457.5h0M1159.4 561.6h0M1131.2 488.3h0M1148.9 525.3h0M1181 468.7h0M1170.8 560.6h0M1156.4 560.6h0M1176.9 545.3h0M1175.8 531.7h0M1134.9 505.4h0M1134.4 481h0M1181.2 508h0M1151.1 531.3h0M1181.8 496h0M1160.4 561.5h0M1153.8 542.6h0M1152.1 528.9h0M1183.8 497.7h0M1162.2 567.2h0M1132 503.6h0M1133.7 502.5h0M1134.5 480.2h0M1153.3 542.6h0M1129.4 494.3h0M1148.2 463.3h0M1183.4 498.9h0M1149.7 530.9h0M1140.7 462.8h0M1182.4 498.5h0M1184.5 494.7h0M1171.3 457.6h0M1184.8 479.5h0M1153.6 540.9h0M1158 561.1h0M1144.7 521.8h0M1182.1 504.2h0M1141 517.2h0M1175.3 538.5h0M1174.4 547.9h0M1167.1 566.9h0M1172.6 548.9h0M1152.1 458.6h0M1185.5 478h0M1175.2 536.9h0M1142.6 517.4h0M1139 467.4h0M1182.7 468.5h0M1132.2 501.4h0M1171.7 549.4h0M1159.5 561.9h0M1173.5 546.9h0M1181.8 468.8h0M1177.1 540.8h0M1165.6 567.2h0M1136.9 469.1h0M1162.5 457.6h0M1183.5 500.6h0M1156.1 555.7h0M1184.7 484h0M1179.5 523.4h0M1172.6 458.8h0M1183.4 495.4h0M1155.3 551.1h0M1184.3 503.9h0M1179.1 531.5h0M1184 488.8h0M1139.1 512.3h0M1186.8 474.5h0M1143.5 464.8h0M1163.4 569.2h0M1161.8 457.9h0M1141.4 464.3h0M1176.4 532.8h0M1146.8 523.5h0M1165 568.4h0M1161.6 565.6h0M1177.1 532.8h0M1184.8 473.5h0M1161 563.6h0M1181.1 516.4h0M1151.9 538.5h0M1182.6 475h0M1127.8 496.6h0M1166.9 567.9h0M1132.1 499.2h0M1134.9 507h0M1182.9 488.4h0M1179.2 530.7h0M1171.2 554h0M1158.9 560.6h0M1137 470.9h0M1152.3 457.9h0M1130 498h0M1171.5 559.5h0M1131.6 487.3h0M1184.8 479.9h0M1145.4 460.1h0M1182.4 497.4h0M1152.7 540.1h0M1167.6 460.6h0M1138.2 473.2h0M1180.7 464.2h0M1184.8 486.8h0M1176 534.4h0M1181.6 523.1h0M1160.8 562.9h0M1175.7 536.6h0M1182.3 506.4h0M1165.3 458.2h0M1149.9 459.7h0M1183 482.5h0M1174.1 460.2h0M1169.1 562.4h0M1168 567.8h0M1160.4 458.2h0M1150.1 527.1h0M1156.6 551.3h0M1151.4 459h0M1151.2 532.8h0M1181.5 513.4h0M1179.6 519h0M1141.4 463.9h0M1148.2 525.3h0M1165.9 457.6h0M1143.9 464h0M1177 543.4h0M1148.1 462.9h0M1151.6 460.1h0M1145.3 521.9h0M1161.6 566.4h0M1154.9 456.5h0M1177.8 459.9h0M1156.7 555.2h0M1163.5 568.2h0M1180.5 509h0M1147.6 462.3h0M1145.4 461h0M1178.2 522.4h0M1181.8 496h0M1179.7 509.6h0M1137.1 507.8h0M1178.6 532.9h0M1146.4 460h0M1151.9 532.1h0M1170.3 558.7h0M1130.2 491.6h0M1183.5 472.5h0M1153.7 537.3h0M1155.9 556.8h0M1145.4 461.3h0M1169.7 557.6h0M1160 565h0M1151.5 535.5h0M1168.6 459.6h0M1181.5 509.1h0M1183.5 488.1h0M1182.1 502.8h0M1133.3 484h0M1136.6 469.6h0M1183.7 496.9h0M1183.7 494.4h0M1170.2 555.1h0M1183.1 475.6h0M1129.6 486.1h0M1133.8 483h0M1153.7 542.6h0M1132.3 484.5h0M1138.4 466.3h0M1176 546.8h0M1166.4 569.2h0M1183.6 484.5h0M1155.1 542.6h0M1155.7 557.9h0M1182.8 469h0M1134.8 506.6h0M1176.2 460.1h0M1137.5 469.3h0M1162.3 458h0M1175.1 544h0M1173.4 546.8h0M1179.6 517.4h0M1180.4 511.8h0M1178 527.5h0M1183.3 487h0M1167.5 565.7h0M1140.1 514.3h0M1155.4 457.4h0M1168.3 563.9h0M1171.5 459.9h0M1182.9 488.5h0M1128.5 494.3h0M1181.4 515.6h0M1157 555.5h0M1163.6 456.6h0M1129 497.2h0M1134.2 481.6h0M1183.1 501.7h0M1141.4 466.9h0M1181.4 509h0M1146.3 460.9h0M1153.9 460.4h0M1181.6 502.3h0M1181.2 515.7h0M1140.9 518.4h0M1159.1 455.5h0M1133.3 504.6h0M1148.3 523.7h0M1145.6 520.1h0M1141 464.9h0M1131.5 489.4h0M1153 458.5h0M1154.4 551.2h0M1177.8 529.9h0M1131.9 486.5h0M1170.3 559.6h0M1153.3 457.8h0" stroke="#8b1624" stroke-width="2.4" stroke-linecap="round" fill="none"/>
<path d="M1173.3 474.3h0M1159.6 489.8h0M1165.9 566.6h0M1170.7 497.2h0M1158.2 530.8h0M1143.3 514h0M1157.7 472.9h0M1168.4 477h0M1165.8 561.4h0M1161.9 557h0M1161.8 503.3h0M1156.1 549.3h0M1173.7 516.7h0M1162.1 490.4h0M1137 491.3h0M1140.2 471.9h0M1130.8 497.3h0M1180.8 508.5h0M1157.7 507.5h0M1169.5 501.4h0M1161.4 553.4h0M1164.9 471.8h0M1161.2 477.1h0M1161.4 526.5h0M1172.6 541.6h0M1167.5 488.3h0M1142.5 472.8h0M1144.6 493.6h0M1152.7 476.7h0M1166.5 548.5h0M1159.8 505.8h0M1138.2 480.9h0M1159.1 479h0M1174 516.8h0M1175.8 481.7h0M1159.2 544.2h0M1156.5 486.7h0M1146.7 479.4h0M1161.1 500.8h0M1148.7 513.6h0M1176.4 521.4h0M1150.8 467.7h0M1137.1 491.7h0M1152.2 464.2h0M1170.7 545.3h0M1132.2 492.4h0M1164.3 513.3h0M1156.5 536h0M1182.8 498.3h0M1156.9 510.5h0M1162.1 506.2h0M1171.7 492.4h0M1173.2 498.7h0M1154.4 485.4h0M1169.2 471.1h0M1171.3 481.5h0M1172.2 513h0M1178.6 489.8h0M1160.7 483.1h0M1179.3 467.2h0M1154.5 463.4h0M1158.9 534.5h0M1172 498.3h0M1148.6 477.9h0M1149.4 510.2h0M1157.5 536.4h0M1162.7 550.7h0M1174.2 506.3h0M1143 467.4h0M1170.5 510h0M1172.1 462.2h0M1147.2 499.5h0M1170.4 503.3h0M1140.8 496.5h0M1172 523.3h0M1169 487.2h0M1156.2 506.3h0M1153.8 485.9h0M1173.6 470.6h0M1159.8 495.2h0M1155.2 493.9h0M1143.9 476h0M1173.8 529.5h0M1171.5 533.7h0M1134 486.4h0M1180.1 499.6h0M1165.9 517.3h0M1159.8 458.1h0M1176 506.5h0M1166.1 523.7h0M1148.3 497.4h0M1148.9 484.8h0M1161.9 528.7h0M1161.4 482.9h0M1162.9 521.3h0M1153.4 541.6h0M1166.9 535.9h0M1155.8 472.8h0M1142.3 513.1h0M1157.9 553.8h0M1166.1 568.5h0M1165.3 463.3h0M1181.4 472.5h0M1161.3 503h0M1167.5 470.9h0M1160.1 536.8h0M1155.7 474.5h0M1179.3 479.5h0M1177 497.4h0M1153.1 477.6h0M1148.3 485.6h0M1179.3 500.9h0M1167 521.6h0M1156.7 458.3h0M1174.8 537h0M1158.7 474.7h0M1183.5 485h0M1173.2 501.7h0M1159.3 523.5h0M1153.4 461.2h0M1170.4 509.1h0M1144 503.2h0M1145 486.5h0M1158.3 532.7h0M1168.3 559.5h0M1169.1 521.3h0M1156.3 520.3h0M1142.8 502.1h0M1151.1 518.8h0M1168.1 490.8h0M1170 482.8h0M1156.9 517.7h0M1150.7 516.3h0M1173.5 519h0M1152.2 525.1h0M1163.1 469.7h0M1149.4 489.9h0M1174.1 526h0M1166.1 497.6h0M1179.4 522.4h0M1134.6 491.1h0M1176.5 508.8h0M1170.1 512.2h0M1144.4 503.2h0M1163.2 539.3h0M1177.3 489.8h0M1139.5 507.7h0M1183.6 480.7h0M1170.8 491.3h0M1166.2 541.1h0M1140.4 508.3h0M1181.7 475.3h0M1153.9 511.1h0M1172.1 521.6h0M1177.1 499.6h0M1160.9 482h0M1163.9 516.9h0M1181.8 488h0M1181.5 480.8h0M1176 484.1h0M1154.1 480.4h0M1149 480.3h0M1169.1 475.1h0M1133.4 481.5h0M1150.1 490.6h0M1175.4 465.2h0M1149.1 461.1h0M1166.6 487h0M1172.3 508.6h0M1160.8 520h0M1136.7 508.9h0M1164 523.1h0M1143.8 499.4h0M1172.7 513.2h0M1170.9 536.6h0M1173.3 524.1h0M1167.2 554.9h0M1163.2 499h0M1181 497.7h0M1167.7 473.7h0M1173.4 465.9h0M1159.3 514h0M1174.4 543.9h0M1169.9 491.2h0M1159 533.9h0M1180.4 516.7h0M1183.4 481.7h0M1134.7 498.6h0M1141.7 484.1h0M1169.7 504.1h0M1165.9 472h0" stroke="#fff" stroke-width="1.8" stroke-linecap="round" fill="none"/>
<polygon points="1288.8,456.8 1294.3,450.3 1303,448.1 1307.3,446 1316,450.3 1326.9,450.3 1322.6,460.1 1316,468.8 1307.3,472.1 1298.6,471 1292.1,465.6" fill="#c8873e"/>
<path d="M1287.5 455.9h0M1321.5 449.7h0M1326.3 450.7h0M1319.5 466.4h0M1315.7 469h0M1321.2 464.2h0M1314.4 469.3h0M1301 472.6h0M1296.2 469.2h0M1290 454.6h0M1322.5 462.3h0M1291.9 464h0M1296.6 450.2h0M1318.4 449.2h0M1314 450.6h0M1295.3 467.8h0M1322.3 459.9h0M1325.7 451.8h0M1307 472h0M1316.6 449.8h0M1316.1 468.3h0M1310.8 447.7h0M1308.9 447.7h0M1310.2 449.2h0M1289.6 456.4h0M1312 448.5h0M1303.9 471.6h0M1323.7 459.6h0M1324.1 457.7h0M1312.8 470.3h0M1322.3 462.3h0M1290.5 460.1h0M1319.7 464.5h0M1296 448.8h0M1291.1 461.5h0M1296.5 451.3h0M1317.1 450.6h0M1318.2 448.5h0M1316.6 447.6h0M1324.4 450.5h0M1309.9 448.5h0M1316.6 449h0M1318.3 464.1h0M1315.7 469.7h0M1324.1 453.5h0M1318.7 467.1h0M1301.6 470.8h0M1290.8 466.3h0M1296.5 470.6h0M1323.3 455.1h0M1302.6 448.2h0M1289.4 455.2h0M1315.4 450.2h0M1313.3 449.6h0M1312.4 468.6h0M1294.8 468.1h0M1291.3 466.8h0M1299.9 449.6h0M1326.6 453.3h0M1328.4 450.6h0M1298.9 469.3h0M1311.5 471.2h0M1290.7 465.4h0M1314.6 449h0M1303.1 446.7h0M1297.3 469.7h0M1297.7 470.8h0M1316.9 450.4h0M1306 471h0M1307.2 446.6h0M1318.2 463.9h0M1299.8 471.9h0M1313.9 449.4h0M1293.6 465.3h0M1310 471.1h0M1291.6 463.9h0M1317.4 469.7h0M1297.6 450.2h0M1315.9 469h0M1291.1 453h0M1291.7 451.6h0M1315.2 469.6h0M1299 449.4h0M1326.7 448.9h0M1307.5 448h0M1290.7 458.5h0M1318.5 449.7h0M1309.8 447.5h0M1288.6 454.5h0M1321.3 462h0" stroke="#c8873e" stroke-width="2.4" stroke-linecap="round" fill="none"/>
<path d="M1298 452.1h0M1306.3 454.7h0M1290.1 459.4h0M1294.9 455.3h0M1316.3 465.1h0M1309 466.6h0M1307.3 455.3h0M1292.2 458.1h0M1313.8 464.6h0M1315.8 456.7h0M1301 465.6h0M1308.2 452.4h0M1310.5 448.7h0M1303.2 466.2h0M1297.8 452.5h0M1309.1 456.8h0M1315.5 463.5h0M1303.9 454h0M1313.6 453.5h0" stroke="#fff" stroke-width="1.8" stroke-linecap="round" fill="none"/>
<path d="M1043.8 535.6h0M1042.6 549.1h0M1039.2 533.1h0M1042.6 550.8h0M1042.8 564.8h0M1044.7 550.6h0M1039.2 531.6h0M1042.4 553.6h0M1045.2 536.2h0M1042.5 560.1h0M1043.5 560.9h0M1042 546.7h0M1041.3 541.6h0M1044.6 534.6h0M1043.3 536.8h0M1039.1 553.2h0M1042.4 534.3h0M1038.6 559.7h0M1044 557.2h0M1040.5 553.3h0M1040.5 545.9h0M1040.3 535.6h0M1047.2 532.5h0M1042.3 537.6h0M1042.6 554.1h0M1041.4 553.5h0M1041.2 562h0M1039.5 548.6h0M1042.3 556.8h0M1047.2 531.9h0M1041.3 548.3h0M1039.7 563.6h0M1042.6 541h0M1037.4 547.7h0M1046.3 540h0M1041.9 567.9h0M1038.6 529.7h0M1046 537.4h0M1043.6 557.5h0M1040.6 554.3h0M1040.5 531.8h0M1040.5 555.4h0M1040 558.4h0M1042.7 561.1h0M1039.2 549.2h0M1038.6 552.6h0M1037.4 538.3h0M1040.8 547.3h0M1037.5 536.7h0M1040.2 555.7h0M1038.4 542.4h0M1042.4 558.1h0M1039.3 547.5h0M1045.3 536.7h0M1042.4 548.2h0M1047.4 530.6h0M1042.5 532.9h0M1039.5 538.2h0M1043.1 550.4h0M1046.8 539h0" stroke="#fff" stroke-width="2" stroke-linecap="round" fill="none"/>
<path d="M1041 541h0M1042 543h0" stroke="#333" stroke-width="2.2" stroke-linecap="round" fill="none"/>
<polyline points="987.8,178.1 991,188" fill="none" stroke="#d0e070" stroke-width="2" stroke-linecap="round" stroke-linejoin="round"/>
<polyline points="992.5,193 994.6,201.6" fill="none" stroke="#e0eaa0" stroke-width="1.6" stroke-linecap="round" stroke-linejoin="round"/>
<polyline points="981.5,435 980,444" fill="none" stroke="#1b6b3a" stroke-width="2.4" stroke-linecap="round" stroke-linejoin="round"/>
<path d="M979.5 452h0M979 458h0M980.5 464h0" stroke="#1b6b3a" stroke-width="2.4" stroke-linecap="round" fill="none"/>
<polyline points="980,468 978.5,476 980,482 978.5,488" fill="none" stroke="#1b6b3a" stroke-width="3" stroke-linecap="round" stroke-linejoin="round"/>
<path d="M908 372h0M908 378h0M908.5 385h0M908 392h0" stroke="#7ac83a" stroke-width="2.2" stroke-linecap="round" fill="none"/>
<text transform="translate(976,148.2) scale(1,1.04)" font-size="30.3" stroke="#0a0a0a" stroke-width="0.2" fill="#0a0a0a">CGE</text>
<text transform="translate(922.4,204.2) scale(1,1.04)" font-size="30.3" stroke="#0a0a0a" stroke-width="0.2" fill="#0a0a0a">PER</text>
<text transform="translate(808.8,234) scale(1,1.04)" font-size="30.3" stroke="#0a0a0a" stroke-width="0.2" fill="#0a0a0a">MGL</text>
<text transform="translate(880,346.2) scale(1,1.04)" font-size="30.3" stroke="#0a0a0a" stroke-width="0.2" fill="#0a0a0a">OPC</text>
<text transform="translate(953.4,379.2) scale(1,1.04)" font-size="30.3" stroke="#0a0a0a" stroke-width="0.2" fill="#0a0a0a">ASC</text>
<text transform="translate(855.3,563.2) scale(1,1.04)" font-size="30.3" stroke="#0a0a0a" stroke-width="0.2" fill="#0a0a0a">OGC</text>
<text transform="translate(984.5,468) scale(1,1.04)" font-size="30.3" stroke="#0a0a0a" stroke-width="0.2" fill="#0a0a0a">VLMC</text>
<text transform="translate(946.5,599.1) scale(1,1.04)" font-size="30.3" stroke="#0a0a0a" stroke-width="0.2" fill="#0a0a0a">CTGL</text>
<text transform="translate(1098.6,204.3) scale(1,1.04)" font-size="30.3" stroke="#0a0a0a" stroke-width="0.2" fill="#0a0a0a">ITL5GL</text>
<text transform="translate(1250,195.4) scale(1,1.04)" font-size="30.3" stroke="#0a0a0a" stroke-width="0.2" fill="#0a0a0a">SSTGA</text>
<text transform="translate(1060.8,333.3) scale(1,1.04)" font-size="30.3" stroke="#0a0a0a" stroke-width="0.2" fill="#0a0a0a">ITL6GL</text>
<text transform="translate(1230.4,371.6) scale(1,1.04)" font-size="30.3" stroke="#0a0a0a" stroke-width="0.2" fill="#0a0a0a">PTGL</text>
<text transform="translate(1099,426.3) scale(1,1.04)" font-size="30.3" stroke="#0a0a0a" stroke-width="0.2" fill="#0a0a0a">ITL4GL</text>
<text transform="translate(1108.8,595.7) scale(1,1.04)" font-size="30.3" stroke="#0a0a0a" stroke-width="0.2" fill="#0a0a0a">ITL23GL</text>
<text transform="translate(1260,500.3) scale(1,1.04)" font-size="30.3" stroke="#0a0a0a" stroke-width="0.2" fill="#0a0a0a">PVGA</text>
<path d="M1053.5 809.5h0M1052.5 813.9h0M1050.5 802h0M1045.8 820.5h0M1046 820.7h0M1055 803h0M1052.9 771.5h0M1054.4 770.8h0M1051.2 768.4h0M1050 791.1h0M1052.1 803.5h0M1049.9 811.4h0M1051.4 806.5h0M1052.4 817.7h0M1055.9 795.7h0M1047.9 821.6h0M1055.2 805.1h0M1053.2 814.2h0M1051.2 797.5h0M1049.8 806.7h0M1044.6 819.4h0M1050.4 792.2h0M1057.7 780.9h0M1051 795.2h0M1051 808.4h0M1044.7 823.4h0M1054.5 775.8h0M1049.6 795.9h0M1054 771.9h0M1053 811.9h0M1044.9 818.8h0M1054.2 787.2h0M1051.5 812.1h0M1052.9 769.5h0M1046.5 823.2h0M1047.7 813.8h0M1049.8 823.9h0M1055.6 777.7h0M1049.3 797.7h0M1055.1 772h0M1052.5 812.8h0M1054.6 773.8h0M1053.9 805.9h0M1053.6 799h0M1058.6 794.6h0M1051 782.2h0M1049.8 784.8h0M1054.8 805h0M1056.6 778h0M1050.9 778h0M1057.4 781.5h0M1054.7 774.6h0M1060 791h0M1050 791.9h0M1051.9 784.4h0M1051.2 801.5h0M1057.2 791.4h0M1053.1 771.8h0M1048.1 824.1h0M1050.2 783.4h0M1055.9 794.1h0M1051 792.6h0M1050.7 790.2h0M1052.6 785.5h0M1052.1 794.3h0M1044 814.9h0M1050.4 804.3h0M1050.6 808.2h0M1053.9 806.8h0M1052.8 785h0M1051.2 796.5h0M1052.1 806.2h0M1055.5 800h0M1051.4 816.6h0M1054.4 774.8h0M1054.4 805.2h0M1053.2 792.5h0M1044 815.2h0M1054.3 775.7h0M1058.3 790.7h0M1053.2 769.7h0M1044.5 816h0M1052.9 802.6h0M1044.7 810.5h0M1054.5 791h0M1050.8 794.2h0M1052.3 807.2h0M1050.5 780.4h0M1056.1 786.2h0M1054.3 776h0M1057.8 794h0M1051.7 799.4h0M1051.4 773.1h0M1053 796.1h0M1056.6 781.2h0M1051.8 789h0M1045.4 814.6h0M1056.2 793.2h0M1057.1 788.8h0M1055.8 798.4h0M1046 807.2h0M1055.2 805.8h0M1049.9 811.9h0M1056.7 796.7h0M1057.9 785.1h0M1045 820.9h0M1052.8 807.8h0M1051.6 820.1h0M1046.3 814.4h0M1054.4 792h0M1050.9 792.2h0M1057.6 797.2h0M1055.6 806.9h0M1043.7 829.5h0M1043.2 828.2h0M1057.6 777.6h0M1048.9 834h0M1046.3 823.7h0M1051.8 809.4h0M1044.6 810.7h0M1047.9 806.4h0M1057.6 779.8h0M1054 817.2h0M1051.1 780h0M1051.7 763h0M1048.2 829.2h0M1046.3 819.6h0M1052.4 819h0M1051.5 794.4h0M1053.7 781.2h0M1041.6 824.9h0M1060.8 793.8h0M1050.4 798.1h0M1056.2 772.4h0M1048.8 812.1h0M1049.6 828.3h0M1055.6 766h0M1051 763.6h0M1043.3 817h0M1056.2 805.8h0M1052.2 778.6h0M1057.2 785.6h0M1051.5 803.3h0M1056.1 798.1h0M1044.4 816.6h0M1054.4 806.7h0M1059.1 787.2h0M1047.8 832.4h0M1050.1 808.5h0" stroke="#c8c8c8" stroke-width="2.4" stroke-linecap="round" fill="none"/>
<path d="M1051.4 818.4h0M1054.8 806.5h0M1058.7 789.3h0M1055.9 790.3h0M1045.5 827.5h0M1052.9 766.1h0M1053.4 765.6h0M1052 803.7h0M1056.9 789.3h0M1042.1 827.2h0M1054.1 809.9h0M1051.6 777.7h0M1050.1 813.8h0M1050 792.4h0M1055.2 804.1h0M1045.2 823.7h0M1054.2 809.7h0M1057.5 804.2h0M1058.7 779.2h0M1047.9 824.8h0M1050.6 796.5h0M1052.6 775.1h0M1048 824h0M1044.6 824.4h0M1055.6 772.6h0M1050.8 781.4h0M1056.8 770.7h0M1049 795.8h0M1053.5 777.1h0M1045.1 829.3h0M1056.1 780.5h0M1041.5 817.5h0M1055.3 802.7h0M1055.4 766.9h0M1046.9 833.8h0M1055.3 786.9h0M1045.2 812.7h0M1052 818h0M1052 771.6h0M1052.2 821.5h0M1058.5 789.5h0M1058.2 782.9h0M1052.7 811.3h0M1055.5 778.8h0M1058.6 780.7h0M1058.7 799.2h0M1050.4 783.2h0M1050.9 804.1h0M1054.6 770.5h0M1058.5 798.1h0M1049.3 824.3h0M1046.4 825.7h0M1055.6 809.6h0M1058 798h0M1054.2 814.6h0M1049.4 806.2h0M1049.6 770.8h0M1045.9 809.7h0M1050.6 827.6h0M1047.6 781.7h0M1050.2 788.3h0M1045.6 810.7h0M1045.6 835.1h0M1041.9 829h0M1050.4 783.4h0M1038.1 823.9h0M1062.5 795.1h0M1059 774.7h0M1054.2 828h0M1044.8 809.2h0M1061.2 784.9h0M1048.2 778.5h0M1048.8 777h0M1047.6 798h0M1059.8 774.6h0M1043 818.8h0M1052.8 816.9h0M1038.5 814.3h0M1045.9 801.4h0M1043.8 813.2h0M1041.1 829.8h0M1039.4 832h0M1045.9 807.7h0M1049.1 781.8h0M1053.2 823.7h0M1052.4 771.6h0M1049.3 761.4h0M1041.3 833.7h0M1045.2 804.9h0M1060.4 764.9h0M1058.7 798.5h0M1049.3 800h0M1048.4 829.9h0M1053.4 762.6h0M1058.9 782h0M1062.5 787.4h0M1049.2 830.9h0M1050.5 792.6h0M1047.3 794.5h0M1047.9 775.4h0M1064.5 788.6h0M1054.7 815h0M1049.3 789h0M1048.6 778.3h0M1046.3 793.6h0M1057.9 764.2h0M1046.9 834.8h0M1044.8 812.3h0M1047.4 796.9h0M1045.8 833.3h0M1056.5 760.8h0" stroke="#e0281c" stroke-width="2" stroke-linecap="round" fill="none"/>
<path d="M830.8 946.5h0M832.3 937.3h0M844.6 907.6h0M837.1 943.2h0M827.8 974.6h0M833.5 953.8h0M839.5 912.2h0M836.1 953.1h0M846.3 913.8h0M840.3 934.7h0M829.9 965.6h0M835.8 935.7h0M845.3 911.3h0M825.9 970.8h0M833.9 960.4h0M830.5 935.4h0M831.8 967h0M832.8 946h0M841.9 929.3h0M840 915.1h0M835.4 939.2h0M840.8 922.1h0M833.5 931.8h0M841.4 922.9h0M830.6 955.6h0M844.7 916.1h0M828.9 967.3h0M838.8 942h0M832.3 957.3h0M835.3 961.8h0M835.7 955.5h0M835.5 958.8h0M826.2 968.6h0M832 958.5h0M836.1 941.4h0M829.7 940.7h0M835.8 930.2h0M835.5 932.6h0M837 933.9h0M836.7 958h0M829.2 948h0M828.1 962.2h0M838.7 937.5h0M837.3 929.4h0M837.2 917h0M837 951h0M838.3 928.6h0M839.9 937.4h0M832.1 966.4h0M836.1 961.9h0M840.1 912.1h0M826.9 971.5h0M830.6 941.9h0M831.1 972.1h0M834.9 961.2h0M846.8 913.5h0M826.3 962.7h0M841.8 918.9h0M836.7 916.4h0M826.6 967.6h0M831.6 941.3h0M841.9 930.3h0M840.9 911.1h0M834.3 962h0M845.5 918.7h0M839.3 921.1h0M826.3 967.7h0M841.3 910h0M834.7 953.2h0M838.6 925.3h0M830.8 952.9h0M833.3 927.2h0M834.6 955.5h0M828.1 972.9h0M828.2 974.8h0M843 921.9h0M842.8 916.5h0M837.1 940.2h0M846.1 908.2h0M832 968.4h0M845.4 916h0M837.6 943.8h0M837.3 924.2h0M830.4 941.3h0M840.8 909.5h0M845.2 906.5h0M840.2 939.2h0M829.6 953.8h0M839.7 937.8h0M830.7 951.1h0M829.5 962.4h0M828.3 960.1h0M836 950.7h0M835.7 933.3h0M834.1 951.9h0M834 964.7h0M842.4 920h0M830.5 962.2h0M839.1 921.4h0M832.6 956.8h0M842.8 917.7h0M835 933.7h0M837.2 939.5h0M837.1 956.8h0M832.3 954.7h0M833.9 924.7h0M846 913h0M833.1 938.4h0M838.6 913.6h0M831.8 931.7h0M836.5 943.6h0M839.2 910.4h0M834.1 937.4h0M837.4 944.8h0M840.9 932.9h0M828.6 957.5h0M835.3 919.2h0M839.4 934h0M827.6 961.8h0M847.2 911.7h0M838.5 923.9h0M830.8 960.6h0M836.6 920.5h0M847.4 909.7h0M829.6 965.6h0M834.1 923.7h0M838.9 941.1h0M835.2 923.1h0M830.5 958.4h0M843.5 909.7h0M835.5 940.3h0M845.1 914.8h0M840.2 938.4h0M830.6 966.3h0M827.3 965.1h0M834.3 936.6h0M830.2 970.6h0M829.4 970.1h0M838.2 926.8h0M833.6 941.7h0M826.4 963h0M833.2 961h0M830.2 944.5h0M826.7 959h0M832.3 928h0M838.8 922.9h0M840.4 923.4h0M832 938.2h0M841.3 921.7h0M839.7 942.3h0M832.1 942.7h0M839.5 920.9h0M839 917.8h0M843 930.8h0M838.3 913.8h0M835.7 917.3h0M842.7 903h0M828.1 954.7h0M840.3 904.4h0M834.5 950.6h0M840.2 918.9h0M843.2 929.7h0M842.6 903.2h0M827.3 954.1h0M832.1 947h0M833.2 939.5h0M838 934.3h0M842 918h0M837.1 921.3h0M845 923.9h0M824.1 984.4h0M837.1 910.2h0M833 951.7h0M835 927.9h0M837.7 927.4h0M837.6 932h0M840.5 914.6h0M840.7 923.3h0M831 938.9h0M830.8 969.4h0M830.7 973.8h0M828.5 951h0M849.5 905.5h0M835.4 919.2h0M828.6 973.5h0M826.5 958.4h0M836.5 916.9h0M827.9 954.7h0M845 898.4h0M850.5 899.7h0M832.6 924.8h0M836.6 958.3h0M847 903.6h0M828.2 966.4h0M832.8 925.4h0M831.5 926.2h0M838.6 917.7h0M827.6 959.3h0M832.1 934.6h0M840.5 905.3h0M834.5 916.2h0M835.9 965h0M833.5 929.4h0M837.1 918.5h0M845.2 917.4h0M831.1 946.8h0M837.5 932h0" stroke="#c8c8c8" stroke-width="2.4" stroke-linecap="round" fill="none"/>
<path d="M847.5 904.4h0M831.9 954.2h0M840.1 915.1h0M836.7 940.3h0M841.7 927.6h0M845.6 899.6h0M838.9 914.4h0M826.4 976.2h0M846.3 916.6h0M831.8 934.3h0M838.9 931.8h0M844.6 900h0M842.2 903.9h0M837.8 918h0M840.2 934.9h0M831.4 952.5h0M826.7 981.7h0M838.5 945.8h0M843.5 903.4h0M835.1 952.8h0M835.1 916h0M829.1 945.5h0M839.6 946.6h0M831.1 967.1h0M842.6 906.5h0M838.8 952.2h0M828.4 961h0M826 958.7h0M834.3 947.4h0M842.1 912.3h0M840.8 907.7h0M827 951.6h0M826.2 964.1h0M832.1 962.4h0M842 932.7h0M829.7 959.3h0M844.8 919h0M823.2 981.5h0M844.8 903.4h0M839.6 929.4h0M841.5 907.7h0M827.8 947.3h0M824.5 973.3h0M830.9 938.6h0M842.9 902.3h0M834.9 928.3h0M848 904.1h0M829.1 975h0M841.4 939.4h0M835.6 940.1h0M846.8 914.7h0M832.8 933.6h0M833.9 920h0M835.7 951.5h0M833.6 934.2h0M837.2 942h0M842.8 923.8h0M832.6 921.3h0M824.2 969.5h0M826 955.7h0M825.3 965.4h0M832.3 967.7h0M832.5 972h0M845.7 921.4h0M838.3 944.2h0M829.2 944.8h0M843.4 926.3h0M836.7 949.5h0M836.3 963.9h0M829.6 978h0M831.8 927.7h0M822.5 976.2h0M831.6 946.5h0M830.1 973.1h0M827.8 947.4h0M834 964.6h0M834.1 915.9h0M830.9 980.7h0M821.9 966h0M828.3 937.4h0M822.8 985h0M850.1 908.1h0M821.8 971h0M823.1 980.2h0M830.3 915.1h0M833 974.1h0M831.5 929.5h0M851.4 905.3h0M841.6 902.1h0M823.7 939.3h0M839.5 942.7h0M833.3 974.7h0M846.1 913.3h0M831.3 930.9h0M830 934.3h0M828.1 936.8h0M838.4 966.7h0M841.7 902.9h0M844.2 897.8h0M823.1 965.9h0M841 945.7h0M834.2 918.2h0M848.1 905.2h0M842.7 934.5h0M822.7 972.5h0M834.2 918.3h0M828.9 981.2h0M838.7 962.5h0M822.7 970.3h0M833.2 958.9h0M827.8 939h0M844.9 895.4h0M844.5 914.5h0M821.9 979.5h0M836.2 908.6h0M831.1 919.8h0M826.1 954.9h0M826.6 986.7h0M836.2 916.2h0M831.7 922.1h0M825 972.1h0M830.9 978.9h0M844.8 926.6h0M841.3 939.5h0M832.6 920.2h0M835.7 914.2h0M845.9 914.6h0M840.5 954.9h0M825.5 952h0M848.4 914.8h0M831.3 978.9h0M821 982.7h0M823.9 983.4h0M844.2 896.6h0M820.8 989.4h0M822.4 978.7h0M820.4 975.5h0M829.6 933.1h0M841.4 937.5h0M851.8 902.5h0M830.7 976.7h0M822.2 972.5h0M843 930.2h0M831.3 983.7h0M829.8 936.4h0M827.9 957.9h0" stroke="#e0281c" stroke-width="2" stroke-linecap="round" fill="none"/>
<path d="M904.7 940.3h0M903.7 947.5h0M912.7 960.8h0M909.1 928.4h0M905 947.5h0M903.1 959.2h0M906 935.5h0M911.1 924.1h0M916.6 936.8h0M912.7 939.1h0M902.8 952.2h0M909 924.2h0M906.6 958.5h0M908.5 950.6h0M903.2 961h0M912.8 937.8h0M906.2 962.1h0M911.3 950h0M914.4 928.7h0M905.3 932.2h0M913.2 946.2h0M913.4 923.9h0M910.5 927.6h0M909.1 927.3h0M914.5 944.8h0M911.3 939h0M905.9 959h0M904.7 959.7h0M903.8 943.4h0M905.2 932.2h0M910.4 927.2h0M902.5 961.6h0M902 959.8h0M916 932.5h0M913 926.3h0M913.1 953.4h0M913.5 931.3h0M914.6 946h0M908.9 946.4h0M909.9 948.4h0M908.8 960.4h0M911.1 932.8h0M906.1 926.2h0M909.6 965.4h0M915.7 944.3h0M904.1 962.3h0M904.8 953.3h0M904.2 964h0M905.3 939h0M911.8 962.9h0M906.7 947.5h0M909.5 962.8h0M908.4 961.8h0M906.9 964.1h0M914.8 936.8h0M903.6 960.1h0M902.5 949.9h0M903.7 947.4h0M912.5 925.3h0M906.5 935.2h0M905 952.9h0M912.3 945.9h0M906.5 934.8h0M910.4 965.8h0M904.9 928.3h0M911.2 926.9h0M901.8 957.8h0M905.6 939.3h0M912.8 957.4h0M902.7 946.8h0M902.9 958.4h0M912.8 938.3h0M914.3 926.8h0M901.1 956.1h0M905.8 942.1h0M914.2 954.6h0M913.7 957.6h0M908.8 953.3h0M905.1 934.8h0M914.3 927.9h0M903.2 951.6h0M905.4 927.3h0M903.6 962.7h0M908.7 950.2h0M903.4 943.5h0M911.1 957.5h0M906.6 951.2h0M904.2 943.9h0M905.3 961.9h0M913.2 950.8h0M914.2 925.7h0M911.5 943.4h0M913.3 945.5h0M911.6 930.4h0M911.6 938.2h0M907.5 949.5h0M903.6 958.7h0M910.4 930.5h0M907.2 926.9h0M908.4 928.9h0M913 936.7h0M913.8 936.6h0M905.3 935.6h0M910.8 966h0M904.6 951.8h0M910.8 936h0M904.7 937h0M911.8 928h0M909.1 929.3h0M912.2 948.2h0M909.7 935.8h0M909.2 956h0M912.2 953.4h0M905 941.3h0M909.7 927.3h0M906.6 939.5h0M913.9 955.8h0M904.4 949.6h0M910.6 943.7h0M916.6 936.7h0M901 948.5h0M907 943.9h0M917.2 922.8h0M915.7 946.1h0M909.4 920.4h0M908.9 948.6h0M911.1 956.7h0M914.1 951.1h0M916.3 927.4h0M918.2 936.1h0M905.5 947.8h0M912.1 949.7h0M905.2 939.1h0M916.3 923.1h0M906.5 942.6h0M912.4 949.8h0M906.4 943.4h0M912.2 963.9h0M904.4 924.6h0M916.6 924.7h0M907.7 925.8h0M904.5 954.9h0M907.1 923.9h0M901.4 959.2h0M902.6 934.4h0M908.4 947h0M907.9 967.6h0M904.4 939.2h0M911.7 935.8h0M906.2 921.6h0M902.7 953.4h0M907.2 969.6h0M905.4 968.7h0M918.7 939.8h0M908.9 940.4h0M900.5 946.8h0M907 964h0M918 950.6h0M909.7 927.9h0M908.2 953.6h0M911.4 966.3h0M908.4 969.9h0" stroke="#c8c8c8" stroke-width="2.4" stroke-linecap="round" fill="none"/>
<path d="M915 937.5h0M916.7 935.5h0M907.1 930.7h0M910.1 928.9h0M899.8 958.2h0M910.4 948.5h0M902.4 968h0M906.9 932.3h0M906.9 970.9h0M902.8 937.6h0M904.8 923.7h0M913.1 923.8h0M907.1 924.4h0M916.2 937.6h0M900.9 959.6h0M903 934.3h0M906.4 934h0M908.6 926.6h0M904.3 952.2h0M907.8 924.1h0M911.4 956.2h0M911.8 942.4h0M909.8 936.9h0M917.5 944.5h0M913.7 957.8h0M907.7 927.1h0M906.7 959.5h0M906.2 926.5h0M907.8 959.5h0M902.1 932.1h0M912.6 934.2h0M905.4 967.5h0M914.7 949.1h0M903.1 939.2h0M904.3 950.8h0M906.4 946.8h0M913.4 920.5h0M918.2 944.7h0M910.6 942.7h0M909.5 931.2h0M902.5 934.1h0M917.9 936.4h0M912.5 946.2h0M912.5 958.8h0M916.1 920.3h0M906 962.1h0M908.4 947.1h0M904.1 964.7h0M914.7 921.8h0M904.4 942h0M907.8 963.2h0M905.1 963.1h0M904.4 930.3h0M901.9 956.2h0M907.4 960.1h0M916.1 921.9h0M917.9 951.1h0M906.4 924.1h0M903.1 956.4h0M901.1 947.7h0M910.7 918.4h0M899.7 946.5h0M901.7 964.4h0M899.3 962.9h0M914.3 920.7h0M899.6 945h0M902.4 924.6h0M900.9 964.9h0M908.6 973.1h0M913.4 972.7h0M918.7 932.2h0M913.5 967.4h0M901.4 933.4h0M917.5 923.3h0M919.2 924.9h0M899.3 954.9h0M920.2 951.8h0M905.6 971.3h0M909.1 920.4h0M915.1 924h0M916.8 921h0M920.4 936.6h0M911.9 974.1h0M901.2 962.2h0M899.4 937.6h0M900.4 939.3h0M912.2 974.2h0M914.1 915.7h0M916.2 954.8h0M902.8 924.7h0M914.1 957.3h0M916.4 934.8h0M897.8 942h0M918 921.7h0M898.2 967h0M915.5 925.4h0M914.5 920.5h0M911.2 917.4h0M912.9 917.9h0M920 921.5h0M912.2 969.6h0M919.8 940.3h0M919.5 950.5h0M897.1 962.5h0M903.7 927.4h0" stroke="#e0281c" stroke-width="2" stroke-linecap="round" fill="none"/>
<path d="M995 995.1h0M997.1 975.9h0M990.9 982.3h0M994.9 991.3h0M998 979.8h0M983.3 971.3h0M974.1 982.7h0M981.9 990.8h0M997.7 988.3h0M982.4 987.1h0M975.2 984.3h0M981.9 975.1h0M992.1 985.4h0M986.7 951.4h0M986.8 987.1h0M995.8 977.4h0M974.6 989.3h0M984.9 969h0M983.5 981.3h0M984.4 981.3h0M987.7 988.6h0M986.2 956.3h0M974.8 983h0M989.6 976.5h0M979.7 989.8h0M984 993.7h0M997.2 975.8h0M987 972.2h0M986.1 981.6h0M997.7 980.6h0M989.2 972.4h0M989.8 996.1h0M984.1 984.8h0M980.5 990.2h0M983.8 989.4h0M988.9 971.4h0M995.4 993.1h0M987.8 971.5h0M975 991.8h0M994.2 979h0M996.5 976h0M988.2 975.5h0M994.7 994.9h0M994 984.9h0M983 979.2h0M988.2 979.2h0M987.3 962h0M983.8 993.6h0M978.5 973.7h0M990.9 979.6h0M986.2 992.7h0M980.2 986.3h0M988 976h0M973.6 977.6h0M986.3 967.4h0M987 991.2h0M988.9 970.4h0M995.2 978.6h0M995.2 977.1h0M979.5 978h0M983.5 982.5h0M992.3 997.3h0M986.4 956.5h0M981 979.8h0M981.8 991.4h0M973.9 985.1h0M993.7 988.7h0M991.5 982.9h0M984.9 953.6h0M985.7 966.2h0M997.9 987.6h0M984.6 970.6h0M981.1 985.6h0M989.5 995.3h0M976.8 980.5h0M982.3 993.9h0M979.9 975.1h0M983.6 971.1h0M984 982.1h0M981.1 987.7h0M984.1 964.5h0M977.5 977.9h0M999.7 989.8h0M984.1 996h0M984.6 943.6h0M977.5 987.2h0M983.9 957h0M998.2 993.5h0M995 984.8h0M994.3 971.7h0M983.5 964.1h0M993.6 971h0M981.8 993.3h0M1000.6 982.3h0M981.6 981.3h0M987.8 974.2h0M982.6 996h0M974.1 987.1h0M990.1 974.6h0M978 988.4h0M978.4 973.7h0M985.3 944.4h0M977.3 981h0M983.2 963.7h0M991.3 982.7h0M979.6 976.5h0M995.9 977.2h0M992.6 972.2h0M994.4 976.8h0M977.4 988.8h0M998.9 993.1h0M985.6 982.1h0M990.1 977.4h0M973.6 980.9h0M982.9 988.9h0M975.8 981h0M988.8 987.5h0M983.4 992.4h0M982 991h0M997.6 986.9h0M975.7 986.1h0M991.3 992.8h0M998.5 976.9h0M987.6 975.7h0M977.1 988.1h0M986.4 959.5h0M982 992.5h0M986.9 952.8h0M993.7 984.3h0M993.6 989.7h0M982.5 992.9h0M989.4 984.6h0M986.5 987.4h0M979 976.2h0M989.8 988.5h0M991.8 978.7h0M992.4 972.3h0M977.1 990h0M982.8 971.2h0M997.5 980.5h0M977.5 980.5h0M983.7 958.4h0M983 998.4h0M981.6 991.4h0M994.3 987.9h0M985.3 957.8h0M995 979h0M993 985.7h0M993.7 977h0M981.8 971.7h0M988.5 980.5h0M974.5 988h0M983.8 983.6h0M993.9 977.6h0M976.9 991.3h0M982.2 980.6h0M978.5 978.4h0M993.6 989.4h0M975.7 990.7h0M984.7 991.7h0M999.5 982.7h0M974.9 984.8h0M988.6 989.6h0M975 989.4h0M985.3 969.1h0M995.6 990.4h0M995.5 984.8h0M987 996.6h0M992.2 998.3h0M990 994.3h0M996.7 987.7h0M989.7 983.5h0M996.2 990.3h0M994.3 988.5h0M991.6 998.4h0M986.5 974.6h0M986 945.6h0M991.9 976.3h0M992.3 988.7h0M985.3 991.2h0M1000.4 983.9h0M1002.2 996.3h0M984.6 957.3h0M994.7 976.7h0M994.5 1002.1h0M990 996.2h0M994.8 978.6h0M989.2 995h0M989.3 965.8h0M980 991.8h0M987.1 1000h0M996.6 1001.9h0M988.5 994h0M988.2 995.8h0M992.7 995.1h0M977.9 984.7h0M983.4 938.6h0M1000.5 977.8h0M978.4 1002.5h0M978.9 998.7h0M989.3 997.3h0M985.2 997.4h0M977.9 999.3h0M983.1 946.6h0M1002.9 995h0M975.5 979.5h0M979.3 997.2h0M981.8 987h0M984.4 982.7h0M977 996.2h0M997.9 980.7h0M985.7 947h0M977.8 979.5h0M996.6 999.6h0M998 998.2h0M1000.6 982.1h0M986.4 978.3h0M990.1 995.7h0M990.4 971.6h0M985.6 937.3h0M991.4 1002.8h0M975.3 988.3h0M981.2 978.6h0M1000.4 983.5h0M990.2 972h0M993.1 1003.3h0M999.5 985.5h0M993.9 990.5h0M984.3 955.1h0M993.1 974.9h0M975.6 996.2h0M991.8 976.4h0M985 975.8h0M972.2 980.4h0M970.9 980.3h0M989.9 988.2h0M975.2 990.4h0M975.8 989.9h0" stroke="#c8c8c8" stroke-width="2.4" stroke-linecap="round" fill="none"/>
<path d="M987.1 945.3h0M992.2 989.3h0M984.9 965.2h0M982 964.6h0M986.7 998.2h0M988.3 958.5h0M998.8 997.4h0M989.7 976h0M978.4 975.1h0M984.1 957.3h0M985.3 957.9h0M989 992.5h0M994.5 1000.4h0M999.5 996.9h0M985.8 981.9h0M997.6 984.7h0M974.7 974.7h0M995.6 999.6h0M1002.4 978.8h0M992.9 989.9h0M988.1 988.2h0M1002.7 987.7h0M992.9 992.3h0M975.3 988.1h0M980.3 986.6h0M989.7 1000.9h0M989.4 987.7h0M978.2 987.5h0M969.3 983.9h0M984.6 953.4h0M987.3 969h0M987.9 985h0M994.5 994.7h0M993 996.9h0M992.6 991.6h0M989 975.2h0M994.8 995.4h0M992.4 981.2h0M984.9 996.5h0M981 971.9h0M998.1 985.3h0M981.2 982.3h0M982 986.3h0M981.6 974.5h0M972.4 997.2h0M983.5 972.7h0M992.5 989.6h0M988.8 976.5h0M999.3 989.3h0M995.4 1001.2h0M984.6 980.7h0M985.6 992.9h0M985.5 939.6h0M977 981.3h0M986.5 978.4h0M981.4 993.5h0M998.6 994.9h0M972.4 992.3h0M994.7 981.2h0M984.6 939.2h0M1000.9 1000.1h0M980.1 1001.2h0M984 965.1h0M989.5 981.1h0M977.3 988.5h0M984.7 994.4h0M986 978.7h0M983.9 995.6h0M983.5 947.7h0M988.9 1001.3h0M975.3 988.4h0M987.1 977.4h0M990.8 1000.7h0M997.5 999.2h0M989.9 998.5h0M989.2 997.3h0M983.3 987.1h0M994.1 1004.7h0M979.2 987.5h0M983.7 980.8h0M992.2 972.6h0M990.8 991.7h0M971.9 995.6h0M997.1 977.6h0M995.2 993.7h0M992.5 989.7h0M980.1 979.7h0M976.9 1000.3h0M981.4 945.9h0M1006.3 991h0M998.4 1006.2h0M973.8 997.9h0M968.3 981.9h0M980.9 948.6h0M973.9 1001.4h0M1003.8 995.1h0M996.2 1005.6h0M983.7 966h0M999.7 1000h0M993.3 970.8h0M970.2 995.4h0M1001 975.6h0M994.1 969.8h0M969.5 982.1h0M1003.8 985.3h0M985.1 950.2h0M990 964.3h0M990.8 1004.4h0M981.4 936.2h0M1000.5 1003.6h0M982.6 967h0M974 973.6h0M970.4 984.5h0M984.3 960.9h0M969.3 983.6h0M1005 994.9h0M989.9 963.4h0M989.4 1004.5h0M985.4 932.8h0M991.4 968.1h0M970.1 983.4h0M988.1 962.5h0M987.2 950.1h0M990.3 1005.6h0M994 969.8h0M999.3 998.7h0M976.3 1002.5h0M979.7 1006.5h0M981.5 1004.9h0M977.7 1000.8h0M986.6 954.8h0M978.7 970.4h0M981.3 941h0M1003.1 1000.6h0M985.6 960.4h0M979.3 1005.3h0M980.9 1004.9h0M1005.4 986.4h0M988.6 937h0M969.3 980h0M985.8 932h0M979 967.7h0M1000 976.3h0M981.3 960h0M978 1002.2h0M968.4 983.8h0M985.4 942.8h0M987.6 951.5h0M991 970.8h0M991.2 959.3h0" stroke="#e0281c" stroke-width="2" stroke-linecap="round" fill="none"/>
<path d="M888.8 1168h0M901.6 1136h0M904.3 1146.2h0M875.1 1160.5h0M879.1 1166.9h0M900.8 1165.3h0M914.1 1145.5h0M885.6 1151.6h0M904.4 1165.4h0M908.2 1155h0M905.4 1108.7h0M880.5 1175h0M883.7 1158.1h0M893.9 1164.3h0M911.7 1147.2h0M908.2 1139.9h0M890.7 1154.9h0M891 1169.9h0M880.6 1152.3h0M894.2 1172.5h0M887.9 1154.1h0M897 1140.4h0M895.4 1167.3h0M895.3 1164.3h0M903.9 1126.4h0M896.3 1144.3h0M892.8 1164.3h0M892.5 1165.9h0M904.6 1167.9h0M898 1161.8h0M904.6 1149.2h0M906.3 1124.1h0M906.7 1103.8h0M888.3 1153.3h0M908.5 1120.6h0M911 1149.3h0M907.3 1137.6h0M912.6 1134.4h0M890.3 1163h0M908.1 1160.6h0M895.3 1152.9h0M893.1 1148.4h0M903.1 1113.7h0M888.7 1137h0M889.7 1161h0M911.3 1128.2h0M909.7 1126h0M892.5 1178.4h0M890.5 1151.8h0M884.5 1161.1h0M892.4 1155.6h0M900.7 1147.7h0M899 1131.8h0M898.4 1175.8h0M899.7 1119.7h0M899.1 1149h0M907.9 1157.1h0M906.4 1126.3h0M905.3 1154.4h0M896.8 1126h0M904.9 1173h0M908 1118h0M877.6 1164.9h0M878.2 1152.2h0M897 1152.9h0M889.7 1168.7h0M900.2 1171.2h0M900.2 1172.1h0M907.2 1116.2h0M892.3 1137.6h0M910.7 1148.3h0M900.4 1113.8h0M899.8 1175.5h0M883.1 1150.1h0M896.6 1151.8h0M884.7 1140.2h0M878.4 1157.2h0M894.3 1167.2h0M888.5 1155.5h0M900.7 1111.4h0M897.7 1144.4h0M894.3 1164.1h0M885.3 1164.3h0M874.9 1161h0M888.4 1147.5h0M903.5 1106.4h0M905.6 1113.6h0M886.3 1167.1h0M902 1156.9h0M913.6 1152.6h0M882.8 1176.4h0M881.8 1147.2h0M905.3 1113.5h0M904 1157.9h0M913.3 1153.2h0M902.1 1111h0M901.2 1131.9h0M898.6 1178.1h0M882.7 1143.5h0M906.7 1141.2h0M886.4 1170.7h0M898.9 1127.1h0M907.6 1128.4h0M892.7 1136.8h0M908.6 1150.3h0M911 1160.8h0M891.5 1166.7h0M885.1 1147.1h0M878 1157.1h0M903 1107.8h0M884.4 1161.9h0M886.7 1145.8h0M880.6 1167.2h0M892.3 1128.9h0M896.6 1156.4h0M913.1 1156.7h0M903.5 1137.2h0M882.2 1171.6h0M894.7 1143.8h0M887.5 1138.8h0M905.8 1112.7h0M888.5 1178.5h0M889.4 1133.4h0M882.6 1163.9h0M896.4 1151.4h0M912.9 1148.4h0M896.2 1126h0M896.3 1137.5h0M908.4 1127.5h0M911.4 1149.1h0M903.3 1108.8h0M878.6 1168.5h0M888.4 1137.3h0M911.8 1136.6h0M905.5 1157.8h0M906.1 1122.3h0M903.9 1163.8h0M893.4 1159h0M880.1 1152.3h0M889.5 1167.6h0M892.7 1129.3h0M891.5 1175.7h0M910.6 1136.5h0M901.4 1158h0M909.3 1137.8h0M903.6 1172.3h0M908 1147.6h0M901.8 1132h0M905.9 1147.2h0M885.2 1160.9h0M905.7 1104.9h0M902 1110.6h0M899.4 1166h0M886.2 1148.4h0M901.8 1165.2h0M888.7 1155.1h0M912.8 1152.3h0M896.7 1172.8h0M892.1 1171.2h0M907.5 1139.4h0M891.7 1148.3h0M880.3 1173.5h0M913 1156.3h0M909.8 1165.6h0M895 1129.8h0M899.8 1115.9h0M897.9 1141h0M900.6 1134.1h0M900.8 1122.4h0M905.4 1147.3h0M895 1142.1h0M902.2 1108.2h0M881 1151.1h0M908.3 1171.1h0M905.3 1104.7h0M894.7 1128.1h0M910.9 1153.1h0M910.9 1158.9h0M877.8 1156.6h0M895.5 1172h0M888.7 1135.4h0M911.7 1159.8h0M908.7 1139.4h0M908.6 1130.3h0M897.1 1150.8h0M900.1 1161.3h0M875.8 1164.3h0M894.8 1134.9h0M908.2 1119.4h0M895 1138h0M898.6 1145.5h0M894.3 1145.3h0M897.4 1132.9h0M881 1147.9h0M900.9 1163.3h0M894.9 1174.1h0M909 1170.7h0M900.6 1172.4h0M896.5 1168.1h0M879.1 1159.1h0M892.3 1131.8h0M902.2 1128.6h0M907.1 1154.9h0M892.3 1133.5h0M896.3 1140.3h0M899.1 1176.8h0M909.6 1130.6h0M885.7 1146.1h0M900.9 1134.3h0M900.7 1165.1h0M896.5 1132.8h0M898.1 1168.9h0M881.6 1149.6h0M893.1 1144.7h0M884.7 1176h0M914.6 1145.5h0M896 1168.3h0M911.6 1132.5h0M879.5 1161.6h0M880.9 1161.6h0M899.8 1171.9h0M909.6 1160.1h0M896.5 1177.8h0M896.2 1127.7h0M906.8 1113.6h0M907.1 1173.4h0M895.2 1139.1h0M877.7 1167.3h0M891.8 1179.2h0M886.2 1151.9h0M896.4 1168.4h0M899.9 1124.7h0M906.3 1137.9h0M887 1174.3h0M900.8 1116h0M894.6 1167.4h0M913.2 1134.4h0M905.7 1172.6h0M896.7 1173h0M908.3 1160.6h0M892.1 1152.7h0M903.3 1119.1h0M904 1128.8h0M907.4 1139.7h0M893.8 1148.2h0M882.6 1164.3h0M907.3 1125.8h0M878 1166.3h0M890.7 1173.1h0M881.4 1149.1h0M890.7 1163.3h0M888.7 1171.3h0M898.1 1136.4h0M878.9 1174.1h0M886.2 1150h0M892.7 1175.8h0M879.3 1154.4h0M883.7 1149h0M905.9 1136.1h0M901.3 1164.2h0M894.8 1130.7h0M904.1 1146.3h0M881 1156.2h0M909.1 1143.7h0M910.1 1157h0M906.9 1126.9h0M907.7 1153.3h0M895 1169.9h0M886.1 1146.5h0M900.6 1142.8h0M889 1176.5h0M897.1 1145.8h0M883.2 1143.7h0M896.8 1176.9h0M886.7 1147.1h0M907.4 1143.5h0M909.8 1134h0M892.6 1154.6h0M907.4 1171.9h0M892.1 1161.5h0M880.2 1160.9h0M905.4 1151h0M902.9 1126.1h0M904.9 1121.8h0M891.6 1145.7h0M913.5 1158.6h0M889.4 1136.5h0M878.9 1166.4h0M883.6 1173.8h0M903.8 1153.4h0M900.5 1166.3h0M904.6 1122.9h0M906.1 1118.7h0M901 1174.7h0M903 1169.5h0M907 1155.8h0M895.3 1159.6h0M902.2 1153.4h0M886.8 1175.9h0M905.2 1103.9h0M905 1158.4h0M896.7 1174.3h0M893.4 1160.9h0M904.1 1109.2h0M893.1 1149.2h0M887.5 1137.3h0M901 1168.7h0M887.4 1171.1h0M911.2 1160.8h0M887.6 1164h0M911.6 1129.4h0M909.8 1162.7h0M895.7 1166.7h0M910.6 1162.7h0M882.2 1163.6h0M900.4 1140.7h0M895.2 1150.3h0M885.3 1157h0M877 1169.1h0M892.9 1170.4h0M895.4 1177.4h0M910.6 1138.7h0M894.2 1144.1h0M883.2 1161.6h0M888.8 1165.3h0M905.6 1152.9h0M903.5 1134.8h0M898.7 1158.9h0M892.3 1154h0M901.9 1129.6h0M903.4 1168.2h0M902.6 1123.7h0M904.3 1172.7h0M910.3 1161.9h0M901.9 1137.9h0M898.9 1169.8h0M898.2 1129.1h0M907 1135.3h0M890.5 1165.7h0M903.3 1175.5h0M877.3 1172.3h0M897.2 1117.8h0M883.9 1140.3h0M897.5 1152.7h0M898 1150.7h0M896.6 1131.6h0M913.8 1144.3h0M914.3 1143.3h0M907.2 1124.1h0M897.9 1153.7h0M884.6 1153.3h0M903.4 1157.1h0M910.3 1153.6h0M893.8 1167.6h0M904.6 1107.1h0M892.7 1178.4h0M903.5 1106.1h0M902.8 1113.2h0M906.1 1111.1h0M879.5 1162.4h0M890.9 1131.4h0M898.1 1121.3h0M914.6 1143.8h0M900.9 1116.2h0M897.6 1152.7h0M886.6 1174.3h0M908.6 1145.5h0M902.6 1153.2h0M883.1 1144h0M898.8 1160.3h0M912.1 1139.9h0M902.7 1105.5h0M904.1 1118h0M904.4 1148h0M913.4 1139.2h0M905.9 1142.6h0M879.5 1156.6h0M903 1175.3h0M909.6 1152.5h0M904.6 1137.7h0M884.2 1147.8h0M884.7 1146.3h0M908.9 1166.6h0M897.5 1128.9h0M882.3 1172.2h0M890.3 1139.1h0M890.3 1156.8h0M902.5 1117h0M880.9 1166.2h0M896.7 1145.7h0M905.4 1167.1h0M905.3 1111.7h0M908.1 1150.8h0M878.5 1157.3h0M901.3 1168.4h0M905.6 1105.6h0M902.8 1115.1h0M891.9 1156.2h0M893 1153.9h0M905.1 1124.6h0M907.9 1167.7h0M902.1 1170.6h0M891.4 1154.6h0M900.6 1177.7h0M913.9 1155.1h0M887.4 1143.5h0M908.4 1130.7h0M911 1136.7h0M894.4 1130.1h0M895.4 1174.6h0M886.4 1144.3h0M895.6 1178.2h0M901.6 1145.3h0M896.7 1129.9h0M896.8 1178.1h0M905 1101.2h0M898.9 1162.2h0M899.8 1158.3h0M911.1 1128.1h0M878.1 1158.3h0M902.1 1134.9h0M886.9 1138.3h0M896.1 1171.2h0M913 1157.6h0M889.9 1163.9h0M916.6 1146.8h0M892.3 1130.3h0M886.3 1150.6h0M908 1146.6h0M895.9 1127.9h0M870.8 1174.2h0M900.8 1109.4h0M889 1158.2h0M878 1176.2h0M871.6 1173.3h0M915.3 1147.1h0M906.5 1147.3h0M882.7 1141.5h0M893.3 1153.5h0M871.4 1158.8h0M906.6 1175.9h0M906.2 1101.2h0M882.4 1145.2h0M888.3 1178.1h0M895.1 1138.9h0M875.2 1174.3h0M904.7 1106.4h0M908.2 1094.6h0M901.7 1106.8h0M908.7 1112.1h0M910.7 1174.6h0M901.7 1138.2h0M884.3 1151.7h0M874.5 1158.8h0M904.3 1102.8h0M876.6 1158.8h0M892.7 1129.6h0M876.2 1170.2h0M910.1 1151.4h0M889.9 1184.9h0M896.6 1133.8h0M882.1 1186.4h0M913.1 1155.6h0M909 1134.5h0M881.2 1160.7h0M892.7 1127.8h0M905.9 1113.8h0M879.3 1160.7h0M906.5 1152.9h0M875 1149.9h0M870.7 1166h0M884.6 1158.1h0M912.4 1172.7h0M912.6 1137.3h0M895.1 1162.2h0M912.6 1145.1h0M902.2 1151.2h0M904.5 1134.7h0M886.4 1139.9h0M883.4 1184.7h0M904.2 1177.6h0M892.3 1177.1h0M898.5 1140.3h0M913.4 1148.7h0M894.1 1160.1h0M896.1 1116.1h0M900.5 1147.6h0M896 1135h0M895.6 1155.3h0M910.1 1111.4h0M907.6 1154.8h0M916.1 1153.8h0M903.6 1151.4h0M906.6 1125.3h0M907.5 1085.4h0M889.3 1181.7h0M915 1138.2h0M899.4 1142.9h0M913.2 1123.8h0M914.7 1154.6h0M911.4 1151h0M910.8 1176.1h0M903.1 1117.9h0M894.9 1162.8h0M878.2 1143.6h0M883.2 1183.2h0M896.7 1158.8h0M898.6 1145.1h0M896.2 1119.3h0M899.4 1177.3h0M880.4 1181h0M912.2 1137.1h0M878.2 1151.8h0M898 1164.3h0M908.8 1123h0M876.1 1146.3h0M879.8 1147.4h0M914.9 1164.8h0M898.7 1133.9h0M879.8 1143.1h0M900.4 1179.5h0M911.9 1117.5h0M908.5 1131.6h0M898.6 1164h0M886.4 1180.2h0M889.3 1138.4h0M912.8 1128.4h0M887.6 1164.7h0M886.2 1181.4h0M895.4 1153.9h0M895.9 1122.9h0M902.4 1133.8h0M898.5 1138.9h0M915.8 1134.3h0M907.1 1115.3h0M890 1176.1h0M901.9 1126.8h0M911.9 1155h0M890.6 1159.2h0M907.1 1160.6h0M870 1175.5h0M894.4 1167.5h0M877 1152.5h0M890.3 1141.3h0M904.3 1119.3h0M904.6 1140h0M882.4 1154.2h0M893.9 1135.9h0M890.5 1157.5h0M891.3 1170.8h0M888.1 1162.6h0M880.8 1145.5h0M887.3 1151.4h0M901 1127.8h0M906.6 1157.2h0M909.4 1139.3h0M904.9 1097.2h0M902.8 1113.8h0M880.2 1144.6h0M894.4 1135.1h0M896.7 1128.6h0M903.4 1182h0M884.7 1165.6h0M909.6 1117.9h0M888.4 1153.7h0M884.4 1143.1h0M908.5 1136.4h0M906 1167.7h0M901.6 1148.4h0M914.5 1141.7h0M902.8 1149.8h0M874 1167.3h0M906.5 1164.3h0M883.4 1171.3h0M906.7 1143.1h0M901.4 1114.9h0" stroke="#c8c8c8" stroke-width="2.4" stroke-linecap="round" fill="none"/>
<path d="M907.2 1097.4h0M914.2 1169.8h0M915.9 1133.4h0M916.9 1151.6h0M873.2 1154h0M893.7 1184.6h0M895.4 1188.2h0M875.3 1163.9h0M893.2 1167.1h0M873.6 1162.5h0M881.7 1171.2h0M908.5 1150.1h0M876.7 1185.1h0M878.9 1148.5h0M913.8 1148.9h0M878.8 1184h0M906.4 1143.2h0M907.8 1087.7h0M904.4 1095.5h0M909.1 1119.8h0M895.3 1125.5h0M895.2 1130.3h0M883.3 1175.3h0M906.9 1131.7h0M874.1 1163.9h0M875.9 1184.4h0M886.3 1150.1h0M897.3 1181.9h0M890.2 1134h0M893.6 1134.7h0M900.5 1130.9h0M907.3 1146.4h0M908.1 1162.7h0M886.6 1178.1h0M905.6 1174.7h0M901.9 1138.1h0M902.6 1145.5h0M898.2 1179.7h0M898.9 1182.6h0M903.8 1178.4h0M903.8 1102h0M893.8 1172.3h0M904.9 1145.9h0M901.8 1156.2h0M872.2 1175h0M871.2 1170.3h0M896.2 1134.7h0M898.2 1118.3h0M909.8 1135.7h0M906.9 1117.3h0M878.8 1159.6h0M912 1144.1h0M906.9 1152.9h0M888.2 1152.6h0M903.9 1159.6h0M901.4 1163.8h0M891.1 1176.1h0M908.5 1098.7h0M893.7 1174.2h0M875.2 1162.1h0M897.1 1120.3h0M890.8 1138.9h0M890 1153.9h0M890.2 1126.6h0M900.9 1148.4h0M874.4 1176.8h0M902.9 1118h0M885.5 1180.9h0M870.4 1165.6h0M897 1114.8h0M878.7 1173h0M891.5 1177.7h0M903.7 1120.4h0M870 1168.1h0M908 1171.5h0M871.1 1168.3h0M905.3 1107.6h0M894.2 1142.7h0M876.1 1147.9h0M893.9 1137.1h0M890.5 1155h0M890.2 1133.1h0M892.5 1141h0M908.6 1133.5h0M906 1092.3h0M913.7 1136.3h0M901.8 1132.8h0M902.7 1134.5h0M869.1 1174.7h0M889.4 1185.3h0M912.9 1151.3h0M908.8 1161.8h0M888.7 1128.7h0M898.8 1115.7h0M889.4 1174.3h0M897 1119.4h0M902.2 1105.9h0M894.6 1125.4h0M900.3 1130.2h0M891 1176.8h0M887.4 1170.8h0M906.1 1180.7h0M898.4 1153.3h0M899.1 1140.1h0M897.5 1145h0M871.9 1161.3h0M900.5 1118.1h0M910.5 1134.4h0M896.6 1143.8h0M904.9 1177.4h0M890 1173.7h0M911.3 1121.2h0M916.2 1153.5h0M904 1184.3h0M914.6 1165.8h0M903.2 1160.3h0M907.7 1157.8h0M901.5 1135.8h0M904 1166h0M902.5 1126.7h0M889.8 1157.2h0M887.3 1187.7h0M901.8 1134.8h0M893.4 1185.9h0M897.9 1142.8h0M883.7 1185.7h0M888.3 1137h0M914.9 1125.9h0M882.5 1140.5h0M887.3 1177.8h0M889.5 1148.7h0M906.5 1137.1h0M891.2 1186.7h0M911.1 1137.2h0M890.8 1177.3h0M900.9 1155.5h0M907 1147.5h0M907.6 1167.6h0M901.2 1158.7h0M873.9 1160.2h0M883 1139h0M880 1161h0M912.5 1157h0M907.4 1140.8h0M900.7 1139.1h0M917.1 1135h0M905.5 1101.9h0M900.2 1176.4h0M904.3 1135.8h0M913.8 1138h0M894.1 1149.4h0M899.8 1184.9h0M877.1 1148.2h0M908.6 1128.5h0M913 1165.7h0M873.6 1158.6h0M909 1132.7h0M871.8 1170.3h0M915.8 1129.9h0M905 1160.4h0M887.9 1134.5h0M908.5 1134.4h0M915.1 1144.5h0M904.2 1107h0M907.9 1119.8h0M894.8 1182.9h0M891 1171.7h0M907.6 1123.9h0M897.9 1155.3h0M875.9 1182.1h0M899.1 1174.3h0M913.1 1132.5h0M894.8 1118.9h0M887.9 1146.1h0M896.8 1131.4h0M882 1138h0M900.3 1118.2h0M902 1126.3h0M891 1143.1h0M879.3 1173.3h0M907.4 1160.1h0M909.9 1153.7h0M885.3 1164.9h0M889.7 1159.5h0M874.6 1167.9h0M883.3 1154.9h0M899.3 1123.1h0M909.5 1148.8h0M878.9 1155.1h0M909 1140.2h0M883.2 1160.9h0M888.2 1139.2h0M907.8 1169.8h0M896.2 1144.8h0M874.8 1177.2h0M913.6 1129.4h0M893.4 1123.2h0M906.8 1129.8h0M907.8 1149.4h0M909.2 1155.7h0M907.3 1164.8h0M906 1132h0M912 1126.7h0M887.8 1161.1h0M877.7 1162.4h0M900.4 1129.6h0M878.9 1159.2h0M897 1135.5h0M888.8 1156.6h0M894.4 1187.4h0M902.7 1132.6h0M898.8 1113.4h0M905.4 1096.2h0M899.4 1110.4h0M885.9 1130.2h0M895.2 1111.7h0M908.2 1182.9h0M919.3 1147.6h0M915.1 1132.9h0M916.9 1146h0M910.6 1181.2h0M918.6 1148.7h0M874.5 1151.4h0M896.5 1111.7h0M880.7 1139.3h0M915 1170.1h0M892.4 1190.7h0M887.9 1189.9h0M893.2 1118.8h0M867.5 1171.7h0M873.8 1182.3h0M897.2 1111.1h0M915.3 1160.6h0M893 1114.4h0M908.2 1102.6h0M874.2 1182.7h0M905.2 1086.3h0M906.5 1092.3h0M876.1 1143.1h0M912.1 1180.5h0M917.8 1145h0M891.5 1189.9h0M913.5 1166.5h0M914.3 1174.8h0M912.2 1108.6h0M904.9 1085h0M891.4 1187.9h0M908.1 1106.4h0M907.9 1183.2h0M913.6 1171.2h0M913.8 1174.6h0M906.9 1090.4h0M914 1125h0M907.8 1179.7h0M915.1 1162.2h0M917.8 1167.9h0M893.2 1186.1h0M875.6 1186.8h0M910.3 1102.9h0M894.8 1188h0M905.7 1089.2h0M913.5 1126.9h0M870.6 1152.9h0M897.3 1112h0M868.8 1175.1h0M907 1107.5h0M899.9 1187.2h0M875.2 1186.6h0M917.9 1163.9h0M888.7 1127.5h0M879.1 1186.1h0M899.5 1103h0M922.3 1150.6h0M915.8 1141.4h0M917.1 1135.5h0M902.2 1102.6h0M909.9 1105.4h0M907.5 1107.3h0M883.5 1140.5h0M910.8 1104.4h0M880.5 1141.7h0M915.3 1177.6h0M907.9 1084.2h0M913.7 1176.5h0M866.9 1173.2h0M914.1 1121h0M870.1 1157.5h0M876 1188.6h0M869.6 1153.5h0M881.3 1189.5h0M908.5 1182.5h0M907.2 1094.6h0M911.4 1177.1h0M896.3 1185.4h0M890.6 1124.3h0M894.9 1117h0M899.6 1189h0M871.7 1179.4h0M878.8 1142.4h0M894.6 1115.9h0" stroke="#e0281c" stroke-width="2" stroke-linecap="round" fill="none"/>
<path d="M1025.4 1217.2h0M1043.8 1203.4h0M1026.9 1210.8h0M1030.6 1214.6h0M1031.3 1208.7h0M1046.5 1214.4h0M1029.5 1209.3h0M1043.7 1185h0M1033.9 1209.2h0M1031.7 1202.9h0M1041.3 1179.6h0M1032.6 1205.6h0M1042.5 1171.4h0M1044.4 1228.6h0M1026.1 1221.1h0M1035.6 1202h0M1028.1 1206.1h0M1046.1 1197h0M1040 1237.8h0M1039.2 1170.5h0M1042.7 1235.1h0M1028.7 1225.1h0M1038.5 1187.6h0M1035 1223.7h0M1049.2 1202.9h0M1039.9 1206h0M1037.5 1235.5h0M1040.2 1198.6h0M1041.6 1228.6h0M1045 1204.7h0M1042.8 1237.5h0M1036.8 1207.9h0M1037.8 1218.1h0M1032.7 1211.4h0M1028.1 1226.1h0M1036.6 1232.6h0M1027.8 1212.9h0M1033.4 1215h0M1033.7 1224.2h0M1032.9 1193.1h0M1030.5 1229.4h0M1044.9 1184.3h0M1038.6 1232.2h0M1035.9 1226.8h0M1037.6 1171.8h0M1039 1176.9h0M1044.6 1207.9h0M1032.5 1234.6h0M1029.9 1197.5h0M1045.1 1173.5h0M1041.5 1238.4h0M1031.6 1190.7h0M1025.2 1221.3h0M1046.9 1197.1h0M1046.1 1212.9h0M1043.2 1179.6h0M1039.6 1210.3h0M1026 1213h0M1042.8 1208.3h0M1041.7 1225.8h0M1034.8 1203.1h0M1042.1 1236.3h0M1035.6 1216.3h0M1028.1 1200.3h0M1036.8 1212.4h0M1043 1188.4h0M1034.8 1197h0M1045.9 1182.2h0M1039.2 1170.3h0M1047.7 1221.6h0M1025.9 1202.8h0M1036.6 1203.6h0M1043.7 1238.8h0M1040.8 1229h0M1041.6 1202.9h0M1027.2 1209.4h0M1030.3 1213.3h0M1045.3 1236h0M1048.4 1201.3h0M1036.5 1192.8h0M1044.9 1195.5h0M1047.8 1220.6h0M1025.9 1225.8h0M1046.3 1231.9h0M1027.9 1222.3h0M1033.7 1216.2h0M1046.5 1206.3h0M1038.2 1191.1h0M1046.7 1202.5h0M1042.4 1210.2h0M1035.3 1234.8h0M1040.8 1224.2h0M1034 1193.1h0M1040.1 1186.2h0M1048.5 1231.4h0M1047.3 1221.6h0M1029.7 1196.9h0M1031.3 1202.2h0M1033.6 1230.4h0M1041.8 1219.9h0M1035.6 1226.8h0M1037.5 1220.6h0M1034.9 1227.7h0M1038.1 1225.9h0M1037.2 1215.7h0M1027.6 1204.3h0M1032.4 1205.9h0M1034.8 1187.4h0M1047.5 1198.8h0M1047.2 1224.8h0M1024.4 1221.6h0M1046.2 1185.5h0M1026.2 1216.8h0M1043.6 1205.5h0M1026 1207.8h0M1041.4 1213.3h0M1036.7 1209.9h0M1044.3 1199.5h0M1039.3 1184.5h0M1048.5 1225.1h0M1037 1181.9h0M1040.6 1185h0M1026.2 1218.6h0M1049.2 1202.9h0M1026.5 1220.5h0M1038.1 1222.6h0M1031 1211.6h0M1039.7 1225.4h0M1043.6 1188.3h0M1034.8 1197.9h0M1040.6 1203.5h0M1034.7 1200.1h0M1031.4 1194.1h0M1030.7 1222h0M1044.2 1200.2h0M1036.1 1231.6h0M1037.5 1220h0M1037.3 1232.8h0M1032.1 1230.3h0M1041.5 1227.2h0M1035 1193.1h0M1034.7 1213.5h0M1046.3 1182.9h0M1034.3 1223.6h0M1039.2 1213.2h0M1028.5 1213.2h0M1036.6 1172.2h0M1032 1217.2h0M1046.5 1229.1h0M1043.5 1220h0M1043.9 1223.1h0M1045.2 1193.7h0M1031.2 1224.2h0M1033.1 1193.5h0M1038.3 1184.9h0M1037.9 1209h0M1024.3 1210.9h0M1047.5 1206.3h0M1037.6 1234.1h0M1027.6 1197.4h0M1042.4 1187.1h0M1036.5 1178.1h0M1039.6 1221h0M1036.9 1230.9h0M1033.1 1207.4h0M1037.2 1173.6h0M1034.3 1190h0M1040.6 1204.1h0M1040.2 1182.2h0M1048.2 1224.9h0M1042.7 1182.1h0M1047.2 1202.2h0M1046.7 1198.2h0M1030.5 1197.2h0M1039.1 1177.4h0M1035.6 1196.5h0M1037.3 1236.9h0M1028.2 1205.2h0M1039.3 1204.9h0M1039.5 1212.1h0M1032.1 1207h0M1044.5 1235.5h0M1041.8 1234.1h0M1023.3 1207.4h0M1038.7 1169.8h0M1048.9 1185.2h0M1042.2 1180.7h0M1038.2 1216.6h0M1047.7 1197.9h0M1032.8 1224.1h0M1046.3 1194.8h0M1035.7 1188.8h0M1025.5 1205.6h0M1023.4 1210.6h0M1043.7 1200.8h0M1034.5 1203.3h0M1049.8 1197.7h0M1046.7 1204h0M1037.1 1207.4h0M1043.9 1213.4h0M1048.6 1204.3h0M1040.3 1193.2h0M1041.5 1192.2h0M1039 1196.8h0M1033.8 1227.7h0M1036.8 1176h0M1027.8 1203.3h0M1033.1 1193.8h0M1044.1 1229.3h0M1031.5 1207.1h0M1039.1 1181h0M1036.6 1212.6h0M1046.9 1230.7h0M1038.6 1223.1h0M1038.6 1201.7h0M1035.4 1180.1h0M1043.9 1191.1h0M1039.8 1230.1h0M1042.3 1220.5h0M1045.4 1173.5h0M1027.8 1221.3h0M1049.7 1209.4h0M1036 1191.2h0M1032 1218.8h0M1042.7 1218.1h0M1037.3 1181.5h0M1047.9 1196.5h0M1029.6 1195.6h0M1033 1190.8h0M1047.2 1200.3h0M1029 1204.1h0M1047.1 1197.1h0M1031.3 1215.2h0M1039.2 1213.3h0M1047.4 1198.7h0M1035.2 1216.5h0M1036.4 1224.4h0M1034.4 1201.2h0M1035.7 1228h0M1036.9 1184.1h0M1040.4 1190.9h0M1048 1187.1h0M1036.6 1204.7h0M1035.1 1216.8h0M1039.6 1180.5h0M1026.9 1218.9h0M1048.8 1187.3h0M1034.5 1235.7h0M1026.8 1207.6h0M1040.4 1226.7h0M1035.3 1227.9h0M1045 1235.4h0M1043.2 1230.8h0M1034.9 1218.2h0M1036.8 1227.4h0M1046.1 1192.1h0M1049 1188.2h0M1044.6 1184h0M1039.8 1195.3h0M1044.6 1210.2h0M1043.4 1176.3h0M1032.7 1192.3h0M1044.7 1193.3h0M1037.4 1232.7h0M1038.8 1203.6h0M1043.7 1203.3h0M1049.3 1205.1h0M1048.9 1205.7h0M1037.2 1209h0M1039.6 1218.8h0M1036.3 1218h0M1040.5 1193.6h0M1039.8 1169.5h0M1035 1203.2h0M1036.5 1171.4h0M1039.7 1228.2h0M1036 1215.1h0M1035.6 1198h0M1025.2 1216.5h0M1029.7 1223.7h0M1025.7 1206.5h0M1049.1 1219h0M1034.2 1210.6h0M1032.3 1223.6h0M1039 1188.8h0M1046.7 1235.4h0M1046 1189.7h0M1045.9 1201.4h0M1047.3 1224.5h0M1033.1 1212.6h0M1043.5 1187.1h0M1034.1 1234.8h0M1029.1 1229.5h0M1048.3 1185.7h0M1025.2 1200h0M1043 1214.2h0M1041 1233.6h0M1048.6 1185.4h0M1024.5 1209.8h0M1037.1 1231.9h0M1048.3 1193.5h0M1024.1 1210.2h0M1037.8 1225.2h0M1044.2 1181.1h0M1047.7 1234.7h0M1048.5 1193.8h0M1040.3 1209.6h0M1030.2 1213.8h0M1035.3 1211.5h0M1024.8 1223.1h0M1045.3 1215.2h0M1039.1 1231.3h0M1039.8 1220.2h0M1044 1229.3h0M1033.7 1196.6h0M1050.6 1203.8h0M1028.9 1224.7h0M1040.9 1212h0M1044 1194.9h0M1039.3 1194.8h0M1030.9 1222h0M1044.7 1186.3h0M1041.5 1202.6h0M1022.8 1229.6h0M1034.9 1243.1h0M1037.1 1204.4h0M1045.1 1206.6h0M1031.7 1186.9h0M1038.7 1166.4h0M1041.8 1218.8h0M1050.2 1215.9h0M1031.6 1226.4h0M1044.3 1244.4h0M1050.1 1201h0M1036.3 1186.8h0M1050.3 1195.1h0M1047.2 1203.5h0M1033.7 1223.9h0M1038.4 1164.9h0M1020.4 1220.9h0M1025.9 1197.4h0M1051.1 1220.7h0M1028.1 1192.7h0M1034.7 1188.6h0M1030.2 1200.9h0M1046.9 1216.5h0M1042.5 1246.1h0M1038.6 1185.7h0M1033.1 1204.5h0M1038 1235.7h0M1024.3 1233h0M1032.4 1228.6h0M1025.3 1217.3h0M1037 1165h0M1030.3 1242.4h0M1051.1 1217.4h0M1028.6 1197.2h0M1036.5 1217.5h0M1046.9 1211.4h0M1028.9 1214.6h0M1041.2 1219h0M1049.9 1238.3h0M1044.7 1203.5h0M1040.8 1212.5h0M1046.6 1204.9h0M1032.7 1189.3h0M1046.2 1193.6h0M1052.2 1189.2h0M1045.6 1221.6h0M1030.5 1212.5h0M1042.8 1188.8h0M1025.3 1213.7h0M1049.5 1200.2h0M1041.6 1173.2h0M1048.8 1247.5h0M1032.1 1198.5h0M1043.9 1243.4h0M1028.9 1212.3h0M1048.1 1211.4h0M1047.5 1163.4h0M1048.3 1210.3h0M1050.2 1210.5h0M1051.3 1187.4h0M1025.7 1225.5h0M1040.3 1184.7h0M1049.7 1221.1h0M1048.2 1242.1h0M1026.8 1210.3h0M1034.6 1191.6h0M1045 1233.3h0M1048.4 1218.3h0M1039.8 1195.1h0M1033 1193.4h0M1048.7 1199.3h0M1037.3 1213.7h0M1047 1244h0M1037.7 1222.7h0M1049.6 1233.4h0M1050.9 1219.9h0M1036 1242.4h0M1033.8 1228.9h0M1048.9 1218.8h0M1034.5 1218.6h0M1045.6 1192.5h0M1031.3 1223.7h0M1043.6 1230.9h0M1029 1221.8h0M1050.6 1229.5h0M1034.7 1210.9h0M1039.5 1197.7h0M1023.5 1202.4h0M1040.4 1191.9h0M1027.2 1229.8h0M1046.3 1166.3h0M1035.4 1192.7h0M1049.6 1226.5h0M1030.5 1217h0M1026.7 1224h0M1033.5 1213.8h0M1048.9 1164.9h0" stroke="#c8c8c8" stroke-width="2.4" stroke-linecap="round" fill="none"/>
<path d="M1040.6 1224.7h0M1024.3 1198.5h0M1038.8 1172.8h0M1034.4 1210.3h0M1038.8 1227.7h0M1036.9 1211.9h0M1027.6 1239.2h0M1038.9 1200.7h0M1036.5 1233.9h0M1041.8 1188.2h0M1048.5 1215.1h0M1045.3 1226.2h0M1046.6 1194.3h0M1049.7 1213.7h0M1022.7 1209.3h0M1036.4 1171.3h0M1042.5 1207.9h0M1042.4 1232.8h0M1047.9 1174.9h0M1034.5 1185.6h0M1041.4 1221.5h0M1020.5 1223.3h0M1044.3 1239.3h0M1050.1 1177.9h0M1045 1224.3h0M1026.6 1194.6h0M1031.9 1189.6h0M1026.9 1210.4h0M1038.1 1216.5h0M1039.5 1199.6h0M1044.3 1240.4h0M1051.3 1217.2h0M1045.4 1184h0M1036.2 1213.9h0M1026 1202.8h0M1027.8 1227.9h0M1032.6 1195.3h0M1034.8 1218.2h0M1044.6 1199.1h0M1033.8 1209.2h0M1043 1199.8h0M1052.2 1202.2h0M1039.4 1215.1h0M1044.5 1172.3h0M1022.9 1200.8h0M1034.8 1238.5h0M1040 1179.2h0M1036.7 1221.9h0M1043.6 1238.9h0M1030.7 1234.6h0M1052.6 1198h0M1041.8 1239.7h0M1040.7 1224.5h0M1042.3 1185.5h0M1037.7 1180.9h0M1046 1240.3h0M1036.2 1186.9h0M1048 1218.6h0M1050.1 1221h0M1047.2 1192.7h0M1035.1 1182.2h0M1025.7 1196.7h0M1022.9 1222.8h0M1051.6 1227.4h0M1043.1 1177.8h0M1021.8 1229.1h0M1036 1197h0M1049.6 1187.3h0M1047.8 1244h0M1043.8 1220.8h0M1033.9 1241.6h0M1045.1 1203.1h0M1040.8 1220h0M1032.1 1192.2h0M1027.8 1224.9h0M1049.1 1207.5h0M1048.3 1247.9h0M1043.8 1223.9h0M1037.2 1238.4h0M1050.1 1205.7h0M1050.7 1173.5h0M1040.4 1209.4h0M1026.1 1206.6h0M1027.6 1218.1h0M1043.4 1167.3h0M1043.6 1242.4h0M1043.3 1217.3h0M1023.4 1228.2h0M1026.3 1218.9h0M1041.7 1246.3h0M1032.7 1213.2h0M1037.4 1194.7h0M1037.7 1212.2h0M1023.7 1224.6h0M1041.3 1202.3h0M1031.2 1223.3h0M1048.7 1203.4h0M1040.4 1178.6h0M1048.6 1215.7h0M1049.8 1200.3h0M1021.2 1226h0M1040.1 1189.5h0M1038.6 1181.2h0M1045 1236.6h0M1043.6 1221.4h0M1046.4 1202.4h0M1033.3 1218.2h0M1021.8 1210.4h0M1037.5 1172.9h0M1031.3 1216.7h0M1037.8 1235.1h0M1024.6 1235.2h0M1044 1170.7h0M1032.5 1235.9h0M1044.2 1174.9h0M1030.7 1221.2h0M1039.4 1222.7h0M1035.9 1194.7h0M1046.1 1244.4h0M1039.3 1226h0M1043.6 1248.5h0M1043.3 1208.9h0M1024.2 1196.3h0M1035.1 1188.1h0M1041.7 1233.4h0M1029 1204.7h0M1034.1 1183.4h0M1026 1202.1h0M1028.4 1214.9h0M1050.9 1214.1h0M1031.7 1194.3h0M1034.2 1189.3h0M1044 1168.4h0M1042.5 1223.3h0M1026 1195.2h0M1052.7 1212.8h0M1045.6 1177.8h0M1052.5 1201h0M1051.8 1188.4h0M1047.3 1248.8h0M1031.8 1194h0M1051.4 1209.7h0M1036.7 1166.6h0M1028.6 1241.4h0M1034.3 1209.3h0M1030.3 1197.1h0M1044.2 1238.1h0M1042.8 1204.6h0M1039 1228.1h0M1030.9 1204.4h0M1036.7 1224.4h0M1025.2 1200.8h0M1046.8 1214.2h0M1035.6 1224.2h0M1050.4 1182.7h0M1025.5 1232.4h0M1034.4 1172.2h0M1046.1 1159.9h0M1032.5 1181.7h0M1018.6 1207.6h0M1041.9 1247.1h0M1027 1193.1h0M1022.7 1195.2h0M1050.2 1214.7h0M1045.7 1249.3h0M1045.6 1250.7h0M1032.5 1176.5h0M1050.6 1168.8h0M1021.5 1202.1h0M1025.1 1235.3h0M1049.5 1226.1h0M1049.8 1250.3h0M1035.3 1170h0M1021.4 1221.3h0M1023.1 1233.1h0M1052.3 1220.5h0M1053.9 1181.2h0M1018.2 1212.1h0M1050.2 1250.1h0M1020.1 1225.8h0M1028.1 1183.2h0M1052.5 1207.1h0M1032.8 1244.9h0M1054 1218.4h0M1020.2 1199.6h0M1050.5 1215.7h0M1027.9 1190.6h0M1034.8 1169.6h0M1026.7 1191.4h0M1039.8 1247.9h0M1052.8 1214.3h0M1020 1231.2h0M1048.7 1185.6h0M1044.7 1250.3h0M1051.1 1188.6h0M1037.9 1162.4h0M1051.9 1234.9h0M1032.7 1172.9h0M1046.7 1240.2h0M1051 1170.1h0M1025.2 1233.5h0M1048.8 1179.8h0M1020.9 1226.5h0M1028.3 1238.2h0M1031.4 1188.1h0M1054 1186.9h0M1018.9 1223h0M1021.2 1216.1h0M1035.5 1165.9h0M1021 1197.3h0M1034.7 1163.2h0M1021.5 1229.8h0M1053.3 1235.7h0M1053.8 1230.6h0M1022.4 1217.3h0M1025 1234.4h0M1051.6 1207.1h0M1019 1208.5h0M1047.8 1173.3h0M1020.2 1206.2h0M1049.5 1183.5h0M1027.3 1236.8h0M1050.9 1165.8h0M1025.5 1237.1h0M1049 1234.7h0M1049.8 1242.3h0M1020.8 1223.3h0M1036.8 1170.2h0" stroke="#e0281c" stroke-width="2" stroke-linecap="round" fill="none"/>
<path d="M1162.4 883.8h0M1177.5 937.4h0M1170.9 890.3h0M1165.3 890.1h0M1160.2 891.8h0M1149 891.4h0M1166.8 894.8h0M1172.8 910.9h0M1171.6 894h0M1161.3 881.4h0M1133.1 896.7h0M1172.4 922.9h0M1143.3 882.3h0M1178.8 940h0M1167.6 903.3h0M1176.3 913.8h0M1139.5 886.6h0M1154 888h0M1158.3 893h0M1154.2 894.6h0M1142.4 887.3h0M1175.4 926.4h0M1136.6 880.2h0M1155 887.3h0M1130.4 881.4h0M1144.2 888.1h0M1144 889.7h0M1141.7 892.8h0M1140.9 877.6h0M1124.9 891.9h0M1126.1 881.9h0M1165.8 883.3h0M1171.6 916.2h0M1170.8 933.5h0M1174.1 905.6h0M1172.1 891.8h0M1140.2 882.5h0M1170.1 904.8h0M1177 939.3h0M1162.3 896.5h0M1174.4 925.3h0M1171 928h0M1173.6 920.3h0M1167.9 921.4h0M1164.9 883.9h0M1172 909.4h0M1170.9 905.9h0M1137.5 884.7h0M1170.6 888.4h0M1170.7 902h0M1169.3 924.9h0M1147.9 875h0M1176 895.9h0M1128.5 897.6h0M1155.5 894.9h0M1167.6 903.4h0M1170.4 889.3h0M1147.8 880.2h0M1161.1 888h0M1146.6 883.4h0M1168.5 912h0M1171.2 886.3h0M1160.6 882.7h0M1127.6 889.1h0M1170.6 931.5h0M1171.4 902h0M1158.2 891.4h0M1158.8 893.2h0M1156.2 893.5h0M1152.6 876.2h0M1173.7 896.4h0M1174.4 939.7h0M1170.2 926.1h0M1137.3 881.9h0M1160.6 880h0M1173.8 937.3h0M1154.5 890.6h0M1135.5 885.6h0M1172.3 890h0M1127.3 886.5h0M1135.8 894.6h0M1174.1 893.3h0M1134.4 883.5h0M1123.4 888.4h0M1133.9 886.6h0M1167.5 912.2h0M1165.6 916h0M1175.8 936.9h0M1176.7 935.1h0M1170.6 900.1h0M1128.5 882.4h0M1145.9 892.1h0M1133.6 896.4h0M1137.6 880.4h0M1163 891.3h0M1177 903.5h0M1150.2 879.6h0M1169.7 909h0M1131.9 880.8h0M1135 883.2h0M1163.7 894.7h0M1174.3 904.4h0M1161 885.3h0M1174.2 917.8h0M1144.2 891h0M1156.7 893h0M1140.4 878.8h0M1138.6 879h0M1125 893.3h0M1153.8 876.3h0M1150.2 875.5h0M1154.5 885.9h0M1171.8 914.9h0M1136.3 888.1h0M1175.6 918h0M1146.2 892.4h0M1150 882.2h0M1168.6 902.8h0M1129.7 898.4h0M1134.8 895.5h0M1125.8 887.7h0M1145.4 879.8h0M1137.7 876.1h0M1160.8 898.5h0M1175.3 922.4h0M1134.7 885.3h0M1160.3 900.5h0M1128.9 894.8h0M1156.5 884.2h0M1127.1 881.8h0M1174.7 897.9h0M1142.3 885.9h0M1159.6 884h0M1151.2 879.5h0M1170.9 892.8h0M1171.5 916h0M1161.1 895.7h0M1167 913.6h0M1130.3 899.8h0M1171.5 898.6h0M1135.6 888.1h0M1133.1 879h0M1132 880h0M1174.2 921.5h0M1171.2 898.4h0M1169.5 904.9h0M1170.6 917.1h0M1159 893.6h0M1126.3 882.4h0M1166.4 901.3h0M1174.3 906.3h0M1177.3 912.7h0M1177 922.9h0M1136.4 895.7h0M1163.9 898.8h0M1178.1 926.9h0M1151.1 894.7h0M1174.4 902.2h0M1155.8 889.9h0M1164.1 900.4h0M1142.8 882.8h0M1168.2 905.5h0M1131.3 892.4h0M1175.6 899.7h0M1177.6 926.8h0M1136.8 875.9h0M1171.9 921.6h0M1151.3 888.7h0M1157.1 887.3h0M1154.3 886.4h0M1170 892.2h0M1134.6 893.3h0M1177.4 937.2h0M1152.7 884.4h0M1172.6 909.1h0M1134.2 878.8h0M1176.9 905.7h0M1173.1 915.1h0M1127.8 894h0M1152.6 881.9h0M1129.2 882.3h0M1151.9 887h0M1175 911.6h0M1172.6 926.3h0M1174 901h0M1166.2 899.7h0M1138 890h0M1171.4 889.7h0M1154.8 885.4h0M1157.8 885h0M1143.5 882.4h0M1148.8 875.7h0M1167.5 882.9h0M1171.8 913.4h0M1157.4 894.3h0M1134.1 878.6h0M1173.8 915.1h0M1171.2 905.6h0M1165.7 916.4h0M1128.5 885h0M1136.3 877.5h0M1135.8 885.5h0M1161.8 902.7h0M1134.1 887.5h0M1124.8 889.2h0M1162.9 888.5h0M1155.8 880.2h0M1167.8 922.8h0M1175.5 919.8h0M1139.7 886.6h0M1125.6 898.6h0M1154.8 893.4h0M1134.1 895.1h0M1169.5 901.9h0M1173.6 925.2h0M1162.2 891.6h0M1164 881h0M1133.3 876.8h0M1145.7 890.5h0M1178.9 940.8h0M1164.3 902.8h0M1175.6 894.8h0M1172.3 929.4h0M1160.8 878.8h0M1174.1 907.8h0M1148.8 879.6h0M1150.2 880.6h0M1177.4 926.4h0M1132.2 887.1h0M1162.3 900.3h0M1176.5 906.2h0M1128.8 897.5h0M1171 888h0M1148.6 879.5h0M1173.5 895.4h0M1168.7 908.7h0M1145 881.2h0M1136.9 876.3h0M1160.6 880.5h0M1134.3 897.3h0M1141.5 891.8h0M1172.9 910.4h0M1128.7 885.7h0M1124.6 885.1h0M1159 881.7h0M1165.4 882.2h0M1176.5 920.8h0M1148.5 881.2h0M1167 905.1h0M1167.8 902.3h0M1135.4 888.4h0M1156.4 893.3h0M1172.8 933.4h0M1165.6 905.1h0M1131.6 885.1h0M1132 884.3h0M1176.1 911.6h0M1167.9 916.1h0M1163.8 880.5h0M1167.5 900.7h0M1176.5 925.3h0M1132.6 900.1h0M1170.1 898.5h0M1128.7 879.6h0M1175.2 922h0M1170.7 903.6h0M1155.3 888h0M1124.1 889.7h0M1176.8 905.7h0M1134.1 876.2h0M1134 884.5h0M1151.1 890.3h0M1174.8 907.9h0M1166.9 914.3h0M1135.4 890.7h0M1159.8 895.8h0M1176.7 901.6h0M1144.6 878.8h0M1173.8 896.8h0M1126.1 888.8h0M1167.1 884.5h0M1136.9 892.1h0M1134.8 896.2h0M1169.5 894.8h0M1161.9 893h0M1162.9 893.5h0M1166.1 883.3h0M1164.8 904.6h0M1171.9 911.9h0M1131.4 883.2h0M1166.8 897.8h0M1158.3 880.9h0M1173.6 939.4h0M1171.1 918.1h0M1164.2 896.2h0M1171.3 922.5h0M1135 895.6h0M1126.3 890.3h0M1133.7 894.6h0M1172.6 933.4h0M1172.9 903.4h0M1174.2 939h0M1140.3 880.2h0M1163.7 896.2h0M1170.9 932.2h0M1158.7 889.2h0M1145.5 884.8h0M1165.7 894h0M1131.6 878.3h0M1164.7 895.9h0M1153.5 881.7h0M1171.7 921.7h0M1169.3 891.3h0M1136.5 891.9h0M1171.7 919.3h0M1167.9 904.1h0M1171.8 888.4h0M1176.1 894h0M1150.1 890.3h0M1177.7 926.7h0M1163.1 886.2h0M1130.3 893.4h0M1167.6 907.6h0M1151.9 882.6h0M1166.5 909.7h0M1169.6 900.6h0M1147.5 883h0M1166.7 895.2h0M1169.9 921.8h0M1154.8 891.4h0M1128.2 892.4h0M1144.7 880h0M1137 891.6h0M1173.4 920.1h0M1176.5 938.7h0M1140.2 878.1h0M1178.8 892.6h0M1137.4 893.1h0M1124.4 893.1h0M1135.2 872.7h0M1129 885.5h0M1181.9 898h0M1130.6 894.3h0M1126 900.1h0M1176.4 915.6h0M1175.4 913.2h0M1183.6 946.3h0M1166.6 885.7h0M1124 874.6h0M1169 917.2h0M1175.4 890h0M1140.7 890h0M1126.6 875.3h0M1130.8 872.4h0M1122.8 883.9h0M1172.8 898.5h0M1127.4 879.7h0M1177 916.7h0M1174.9 925.6h0M1180.1 933.1h0M1149.6 881.5h0M1165.3 897.8h0M1120.9 897.7h0M1177.1 904.2h0M1173 922.9h0M1174.5 905.2h0M1136.2 890.8h0M1141.3 891.2h0M1181.1 898.6h0M1124.4 896.2h0M1177.4 911.9h0M1162.9 882.1h0M1180.5 903.6h0M1178.5 926.5h0M1118 881h0M1168.1 886h0M1140.8 881.2h0M1161 895.9h0M1156.4 880.7h0M1177.4 941.7h0M1173.2 907.9h0M1164.6 891.5h0M1160.6 893.1h0M1169.8 915.9h0M1179.7 901.6h0M1173 932.2h0M1141 882.1h0M1125.9 900.2h0M1148.7 892.8h0M1158.7 880.9h0M1133.4 887.6h0M1161.7 884.2h0M1147.2 868.2h0M1162.7 894.6h0M1142.4 867.5h0M1132.1 894.6h0M1120.7 881.8h0M1173.5 936.8h0M1144.7 870.4h0M1151.1 871.2h0M1118.5 884.1h0M1170.5 890h0M1165.4 895h0M1125.6 882.3h0M1145.9 886.4h0M1124.9 876h0M1179.2 934.6h0M1116 884.3h0M1150.2 890h0M1177.4 903.2h0M1180.8 904.8h0M1119.5 899h0M1169 913.3h0M1173.8 923.5h0M1120 878.7h0M1173.4 924.7h0M1145.9 887h0M1176.5 892.6h0M1180.9 932.6h0M1179.5 943.2h0M1120.2 884.6h0M1129.8 878.9h0M1171.9 924.6h0M1174.8 909.9h0M1180.4 925.7h0M1161.3 882.9h0M1179.7 950.5h0M1135.5 871.4h0M1165.7 878h0M1152.9 877.1h0M1177.2 898.5h0M1146.2 876.3h0M1121.7 877.7h0M1145.3 880.6h0M1171.5 906.6h0M1177.1 919.5h0M1177.1 947.3h0M1182 896.1h0M1150.5 889.7h0M1139.4 867.8h0M1180.8 901.2h0M1130.5 889.5h0M1182.1 940.1h0" stroke="#c8c8c8" stroke-width="2.4" stroke-linecap="round" fill="none"/>
<path d="M1180.8 950.6h0M1123.6 885.3h0M1165.9 888.7h0M1180.6 947.2h0M1148.8 878h0M1116.8 884h0M1122.4 894.7h0M1178.7 938.7h0M1125.3 875.6h0M1137.1 875.1h0M1158.9 894.8h0M1171.2 917.2h0M1130.4 875.6h0M1123.3 873.9h0M1181.6 900.3h0M1137.6 888.2h0M1182.2 917.8h0M1169.6 882.1h0M1138.8 881.9h0M1164.8 885.1h0M1130.6 890h0M1165.1 883.3h0M1132.8 884.6h0M1130.6 888.8h0M1121.7 876.7h0M1136.7 870.3h0M1182.7 948.4h0M1131.7 869.6h0M1131.2 895.3h0M1171.3 909.8h0M1163.9 888.9h0M1179.2 910h0M1180.9 908.2h0M1128.5 881.4h0M1127.1 897.3h0M1134.4 889.4h0M1128.2 889.8h0M1183.5 938.6h0M1180.3 912.4h0M1185.1 942.2h0M1137 873h0M1182.1 895.4h0M1180.9 953.2h0M1128.8 879.2h0M1128.1 885.4h0M1161.7 885.8h0M1165 886.8h0M1127.3 890.6h0M1163.1 880.1h0M1125.5 893.4h0M1123.6 895.6h0M1143.1 872.8h0M1178.5 924.6h0M1172.6 881.1h0M1140.2 869.4h0M1132 893.2h0M1174.4 907.2h0M1132.2 875.3h0M1185.9 947.2h0M1181.6 902.5h0M1181.3 950.5h0M1158.1 892.6h0M1146.3 875.9h0M1166.6 886.4h0M1118.5 881.1h0M1154.6 885.1h0M1173.8 909.1h0M1177.8 941h0M1136.7 882.8h0M1180.8 923.7h0M1167.3 880.5h0M1169.6 924h0M1141.2 878.2h0M1182 923.3h0M1152.8 870.6h0M1134.4 883.3h0M1136.7 892.3h0M1131.3 886.5h0M1143.7 869.7h0M1132.5 876h0M1184.3 949.7h0M1166.3 906.9h0M1150.9 882.1h0M1137.5 878.5h0M1179.4 894.2h0M1176.2 917.8h0M1164.7 875.4h0M1164.1 877.6h0M1139.4 881h0M1142.2 885.5h0M1173.7 926.3h0M1134.6 887.3h0M1176.4 885.2h0M1175.6 912.7h0M1176.1 899.5h0M1181.5 921.1h0M1180.4 927h0M1131.8 881.6h0M1172.8 927h0M1179.4 912.7h0M1177.4 921.3h0M1137.5 882.7h0M1137.6 876.3h0M1117.9 881.3h0M1147.6 883.1h0M1140.1 878.9h0M1158.1 881.4h0M1168.6 883.1h0M1151 870.8h0M1152.1 876.5h0M1136.7 878.8h0M1141.8 878.8h0M1162.8 888.6h0M1163.5 886.2h0M1117.4 884.3h0M1168.1 896.5h0M1124.2 878.9h0M1172.5 896.5h0M1138 871.5h0M1145.8 872.4h0M1175.2 919.5h0M1182.2 925.5h0M1178.8 925.6h0M1136.9 885.5h0M1133.9 888.5h0M1124.4 898.8h0M1128 894.3h0M1126.8 885.2h0M1164.1 875.1h0M1170.1 914.9h0M1184.4 945.8h0M1175.1 922.4h0M1164 899.4h0M1167.5 881h0M1182.4 918h0M1183.4 910.3h0M1171.9 912.8h0M1171.1 926.1h0M1175.7 899h0M1171.3 881.5h0M1145.7 883.8h0M1157.9 894.5h0M1123.1 881h0M1142 886h0M1176.4 896.1h0M1147.4 880.7h0M1124.8 893h0M1160.6 887.6h0M1125.1 883h0M1179.8 934h0M1173.5 929.2h0M1168 902.6h0M1175.9 921.5h0M1183.6 937.3h0M1149.2 871.2h0M1176.5 927h0M1179 936h0M1169.2 922.9h0M1172 922.6h0M1180.6 949.1h0M1176.7 896.9h0M1176.4 888.9h0M1115.1 891.1h0M1165.1 914.4h0M1123.1 897.9h0M1162.3 906h0M1169.4 932.6h0M1179.3 886.7h0M1179 946.8h0M1171.6 936.1h0M1182.9 922.6h0M1174.3 939h0M1163.7 912.4h0M1139.6 865.7h0M1176.8 883.7h0M1167.7 920h0M1182.6 891.2h0M1154.5 870.4h0M1169.2 875.9h0M1178.4 931.4h0M1115 895.6h0M1116.1 891.5h0M1184.2 891.7h0M1183.1 920.1h0M1164.1 873.5h0M1166.7 913.6h0M1135.2 866.5h0M1165.8 876.4h0M1170.8 922.6h0M1171.4 924.7h0M1117.2 896.3h0M1174.8 935.9h0M1129.2 868.9h0M1117.9 878.7h0M1161.7 902.2h0M1169.1 913.7h0M1159.6 871.1h0M1174.2 881.4h0M1182.9 900h0M1112.5 892.9h0M1182.1 926h0M1148.3 870.5h0M1166.5 910.3h0M1167.3 909.2h0M1124.3 900h0M1128.9 871.3h0M1115.6 878.5h0M1137.4 868.9h0M1132.3 868.2h0M1190 952.9h0M1168.9 872.4h0M1187.6 949.1h0M1169.3 909.6h0M1179.8 896.8h0M1118.3 900.2h0M1132.6 894.9h0M1137.2 867.9h0M1156.2 873.4h0M1182.5 910.9h0M1187.8 911.5h0M1159 871.2h0M1171.9 941.9h0M1137.7 865.2h0M1126.2 869.2h0M1187.5 950.3h0M1166 904.2h0M1132.2 897.7h0M1182.3 900.8h0M1152.6 868.5h0M1113.8 876.5h0M1183.8 927.1h0M1133.8 893.8h0M1129.1 898.8h0M1164.9 903.5h0M1138.7 892.3h0M1159.5 901.2h0M1186.3 942.1h0M1126.3 898.8h0M1118.8 878.5h0M1176.7 889.9h0M1166.9 910.1h0M1119.5 895.9h0M1182.4 916.9h0M1165.7 877.6h0M1135.5 892.7h0M1168.2 917.3h0M1177.5 884.8h0M1183.3 942.1h0M1115.8 887.5h0M1118.4 877.9h0M1125.8 869.4h0M1139.1 866.2h0M1127.8 874.4h0M1182.8 899.5h0M1143.6 892h0M1174.8 939.4h0M1124.4 872.8h0" stroke="#e0281c" stroke-width="2" stroke-linecap="round" fill="none"/>
<path d="M1117.9 920.7h0M1126.6 911.8h0M1123.6 948.4h0M1129.3 919h0M1118.9 946.2h0M1104.6 937.9h0M1132 907.9h0M1116.3 920h0M1112.3 911.8h0M1130.9 926.8h0M1116.5 931h0M1107.6 935.4h0M1111.4 930.1h0M1115.3 935.9h0M1121.5 921h0M1112.4 916.9h0M1129.4 936.6h0M1114.9 938.2h0M1133.2 930.8h0M1134.7 927.5h0M1121.7 926.4h0M1133.8 929.1h0M1119.5 950.7h0M1115.5 945.2h0M1104.4 939.5h0M1121.6 929.4h0M1110.1 934.7h0M1107 940h0M1103.2 921.5h0M1110.9 931h0M1132.1 938.6h0M1117.2 936.2h0M1111.3 925h0M1122.3 917h0M1105.8 941.7h0M1133.9 933h0M1119.4 934.8h0M1110.8 940.9h0M1114 908h0M1115.1 945.2h0M1105.5 934.3h0M1124.7 916.4h0M1106.9 916.3h0M1105.8 946h0M1130 909.9h0M1123.1 937.1h0M1132.2 911.1h0M1126.6 920.1h0M1104.5 942.4h0M1129.3 938h0M1118.3 906.5h0M1110.5 917.7h0M1128 938.4h0M1128.8 943.2h0M1130 922.6h0M1114.3 917.7h0M1124.3 937.8h0M1118.8 914.3h0M1133 927.3h0M1125.7 917.8h0M1124.8 948.8h0M1118.8 929.8h0M1114.9 939.3h0M1106.4 938.3h0M1129.2 907.3h0M1109.6 930.8h0M1134.8 920.2h0M1109.9 942.8h0M1115.8 921.5h0M1122.8 919.7h0M1123.4 907h0M1111.2 923.5h0M1108.8 943.9h0M1124 939.3h0M1123.3 914.4h0M1131.4 941.4h0M1125 935h0M1128 931.1h0M1103.7 922.6h0M1115.4 909h0M1126.2 909.5h0M1126.3 911.4h0M1122.3 905.6h0M1112.4 943.6h0M1123.4 928.2h0M1130.4 912.2h0M1111.3 923.2h0M1101.1 924.9h0M1121 922.3h0M1103.8 919h0M1133.2 909.1h0M1117.7 925h0M1113.7 944.1h0M1117.3 920.9h0M1104.2 936.1h0M1123.1 929.2h0M1134.4 918.8h0M1128.4 942.3h0M1112.3 912.9h0M1103.2 918.5h0M1127.8 930.9h0M1113.7 923.5h0M1126.1 923.7h0M1110.9 918.5h0M1124 923.8h0M1120 914.1h0M1116.7 933.5h0M1116.2 911h0M1121.3 911.8h0M1122 943.4h0M1128.6 910.2h0M1125.2 911.3h0M1113.2 937h0M1119 948.1h0M1128.8 907.4h0M1108.9 944.7h0M1116.9 907.9h0M1110.3 937.5h0M1104.7 935.4h0M1108.4 913.5h0M1120.7 924.6h0M1122.2 946.3h0M1129.4 908.4h0M1131 934.1h0M1119.9 919.6h0M1134.5 919.2h0M1120.9 913.9h0M1104.3 928.1h0M1119.6 931.2h0M1128.2 940.9h0M1110.5 926.9h0M1121.8 937.3h0M1106.2 943.2h0M1115.4 936.7h0M1129.7 917.1h0M1119.8 931.1h0M1126 937.3h0M1132 925.9h0M1107.6 941.1h0M1125.6 907.5h0M1117.5 941.4h0M1134 924h0M1109.7 945.4h0M1126.5 944.3h0M1121.1 940.1h0M1123.7 910.3h0M1125.1 910.7h0M1116.2 946.5h0M1108.4 917.7h0M1126.2 942.5h0M1102.1 931.6h0M1135.3 915.5h0M1118.4 949.6h0M1119 941.5h0M1116.7 928.3h0M1130.3 925h0M1105.8 943.6h0M1106.1 920.9h0M1111.7 931.2h0M1132.7 931.8h0M1112.6 932.6h0M1123.5 929.5h0M1109.3 926.2h0M1104.4 923.9h0M1115.8 919.5h0M1127.5 928.5h0M1117.2 949.7h0M1117.3 945.6h0M1119.4 943.1h0M1132.1 909.6h0M1123 920.1h0M1114.8 949.3h0M1132.4 921.6h0M1116 947.6h0M1128.8 922.5h0M1116.8 949.1h0M1129.4 943h0M1130.6 935.2h0M1117.6 923.3h0M1119.8 936.7h0M1123.5 948.6h0M1116.7 912.7h0M1122.2 909.5h0M1119.2 908h0M1114.5 934.8h0M1121.9 907h0M1107 924h0M1112.8 917.4h0M1125.1 914.1h0M1122.7 918.1h0M1108.7 943h0M1112.3 934.6h0M1120.2 911.2h0M1108.8 939.1h0M1107.4 944.8h0M1120 940.9h0M1129.3 911.5h0M1127.1 922.7h0M1122.3 925.3h0M1105.5 916.4h0M1125.1 928.7h0M1108.9 931.5h0M1125.3 943.3h0M1134 933.9h0M1101.5 926.8h0M1125.8 913.7h0M1106.4 920.8h0M1130.8 939.8h0M1107.6 913.5h0M1104.7 935.2h0M1131.8 915h0M1123.6 906.5h0M1124.1 928.5h0M1127.8 944.7h0M1108.2 914.2h0M1101.7 934.8h0M1122.7 947.8h0M1105.5 925.6h0M1112.3 931.9h0M1123.2 909.5h0M1123.6 936.2h0M1121.8 939.1h0M1131.4 913.5h0M1125.1 918.2h0M1108.7 936.3h0M1104.9 918.4h0M1117.4 927h0M1120.7 909.4h0M1120.7 920.5h0M1119.7 937.9h0M1112.2 934.7h0M1126.9 921.5h0M1122.1 905.3h0M1111.3 937.7h0M1112.8 948.3h0M1117.2 927.7h0M1126 927h0M1103.6 931.4h0M1120.8 949.7h0M1116.9 922h0M1113.2 942.2h0M1122.4 932.3h0M1120.4 938h0M1107.7 916.6h0M1119.9 917.2h0M1121.8 923.8h0M1120.6 929.7h0M1118.3 935.4h0M1112.2 925h0M1130.3 919.9h0M1134.3 914.1h0M1134.6 921h0M1110.9 928.3h0M1112 933.2h0M1133.3 927.7h0M1116.1 951.5h0M1128.8 928h0M1133.2 934.9h0M1114.5 934.4h0M1115.6 933.7h0M1125.4 934.1h0M1134.1 932.6h0M1113.4 947.2h0M1135.1 914.4h0M1129.2 934h0M1131.1 936.8h0M1121.9 942.4h0M1119.8 912.8h0M1111.7 938.4h0M1112.4 948.5h0M1126.3 939.6h0M1111 948.3h0M1131 941.1h0M1116.6 947.2h0M1128.6 908.7h0M1116.4 921.6h0M1121.1 923.8h0M1104.2 927.1h0M1108.6 916.9h0M1107.8 917.2h0M1111.8 949.4h0M1118.6 940.5h0M1116.6 943.9h0M1133.1 923.8h0M1118.2 921.2h0M1118.8 947.1h0M1133.2 909h0M1109.2 933.7h0M1114.4 916.7h0M1129.2 936.5h0M1105.9 951.8h0M1099 939.7h0M1097.9 930.1h0M1101.7 914.1h0M1128.8 918.9h0M1107.8 943.1h0M1101.7 928.3h0M1110 912.8h0M1130.8 940.8h0M1102.8 936.8h0M1114.9 927.8h0M1125.9 942h0M1118.2 926h0M1124.5 918.3h0M1107.8 940.3h0M1126.9 932h0M1110.1 947.7h0M1131.4 912.3h0M1122.8 902.9h0M1134.3 942.2h0M1122.5 900.2h0M1138.2 930.4h0M1114.6 947h0M1130.3 904.5h0M1134.7 919.4h0M1132.5 940.8h0M1122.9 932.5h0M1124.7 910h0M1129.4 933.6h0M1113.5 948.6h0M1122.8 944.6h0M1105.9 910.7h0M1115.9 915.5h0M1105.4 937h0M1107.9 933.7h0M1130.4 934.3h0M1134.1 920.8h0M1127.3 921.9h0M1111.9 956.5h0M1103.3 925.5h0M1104.5 929.9h0M1121 955.7h0M1101.3 922.5h0M1108.8 919.7h0M1116.9 949.7h0M1112.1 936.6h0M1102.1 935h0M1115.3 954.6h0M1118.6 923.3h0M1100.4 945.7h0M1135.9 931.2h0M1117 912.3h0M1119.5 912.6h0M1105.9 937.5h0M1122.2 910.3h0M1134.3 921.4h0M1107.2 917.8h0M1111.2 943h0M1099.2 937.5h0M1115.2 947.9h0M1130.2 925.4h0M1106.9 922.2h0M1107.6 937.7h0M1105.7 915h0M1140.6 913.8h0M1120.7 911h0M1124.6 934.6h0M1133 937.9h0M1126 917.6h0M1108.6 924.2h0M1140.2 919.3h0M1118.1 912.6h0M1122 927.2h0M1128.2 935.2h0M1124.9 944.3h0M1138.3 922.5h0M1126.8 943.2h0M1119.2 933.8h0M1108.4 949.8h0M1127.5 916.3h0M1134.6 907.9h0M1112.2 909.3h0M1117.3 939.1h0M1113.2 925.1h0M1132.5 915.2h0M1108.4 949.5h0M1127.3 916.9h0M1136.8 905.2h0M1115 903.9h0M1100.1 921.3h0M1125.7 952.8h0M1117.1 914h0M1119.1 926.7h0M1106.4 925.8h0M1131.2 934.3h0M1104.4 926.4h0" stroke="#c8c8c8" stroke-width="2.4" stroke-linecap="round" fill="none"/>
<path d="M1124.8 906.3h0M1126.8 944.9h0M1115.4 949.9h0M1129.4 948.5h0M1106.4 952h0M1097.1 924.7h0M1116.4 905.2h0M1106.3 934.3h0M1111.4 925h0M1138.7 923.3h0M1125.3 933.4h0M1107.2 929.2h0M1128.7 923.1h0M1123.3 939.4h0M1119.5 952.7h0M1111.2 950.8h0M1134.4 929.4h0M1122.7 933.5h0M1113.6 948.2h0M1131.6 908.4h0M1119.4 952.6h0M1115.9 944.5h0M1113.6 950.4h0M1107.7 912.5h0M1121.7 950.8h0M1108.5 917.3h0M1135.6 941.4h0M1115.9 920.7h0M1108.4 942.5h0M1135.3 905.5h0M1120.5 914.4h0M1111 937.2h0M1132.3 935.3h0M1110.3 908.4h0M1104.6 940.5h0M1136.3 926.3h0M1113.4 928.3h0M1098.1 923.9h0M1125.4 901.9h0M1130 920.1h0M1126.6 921.6h0M1125.2 953.7h0M1114 929.5h0M1135.4 936h0M1130.6 911.7h0M1123 900.3h0M1101.9 927.7h0M1105.6 942.1h0M1121.7 953.5h0M1106.9 916.9h0M1125.9 903.1h0M1106.4 924.8h0M1123.2 929.7h0M1109.4 944.8h0M1118.6 939.1h0M1120.1 907.6h0M1118.2 902.5h0M1124.2 901.7h0M1124 942.2h0M1102.9 943.1h0M1125.6 912.4h0M1119 906h0M1123.4 937.4h0M1115.2 903.8h0M1117 926h0M1139.8 918.7h0M1099.4 931h0M1130.7 941.5h0M1122.6 932.2h0M1099.2 938.1h0M1136.2 917.8h0M1103 913.9h0M1113.9 954.6h0M1115.9 955h0M1097.3 938.9h0M1111.6 947.3h0M1119.6 922.2h0M1108 950h0M1124.1 951.2h0M1108.4 912.9h0M1102.7 942.4h0M1108.7 936h0M1129.9 926.9h0M1117.2 930.6h0M1126.7 933.8h0M1136.5 906.5h0M1102.1 938.5h0M1111.1 906.7h0M1101.6 945.7h0M1133.3 915.9h0M1112.2 909.1h0M1124.5 926.1h0M1131.5 915.3h0M1135.9 916.8h0M1122.9 920.2h0M1139 910.2h0M1102.6 919.9h0M1127.8 902.5h0M1112.8 935.8h0M1127 942.6h0M1133.9 935.2h0M1124.8 900.4h0M1112 918.1h0M1123.3 950h0M1115.2 929.8h0M1131.2 942.7h0M1106.5 934.4h0M1112.1 919.1h0M1124.2 933.7h0M1102.9 926.9h0M1098 940.1h0M1124.6 923.5h0M1134.1 929.4h0M1125.2 926.8h0M1121.2 903.4h0M1131.5 901.4h0M1120.6 910.4h0M1125.7 950.3h0M1097.5 942.6h0M1113.3 931.7h0M1096.4 928.1h0M1120.1 935.1h0M1133.3 912.8h0M1114.7 928.9h0M1126.4 941.5h0M1124.6 935.5h0M1128.3 900.7h0M1123 931.5h0M1106 922.1h0M1119.9 956.2h0M1098.5 936.3h0M1113.2 907.9h0M1099 924.5h0M1117.6 924.4h0M1124 934.1h0M1138.7 926.8h0M1105 936.9h0M1133.3 931.2h0M1110.5 926.6h0M1136.3 937.7h0M1128.4 910.6h0M1097.8 932.8h0M1096.7 931.6h0M1139.2 923.7h0M1113.8 902.6h0M1139.5 935h0M1138.6 939.6h0M1110.9 903.2h0M1130.8 948.5h0M1127.6 955.5h0M1115.9 955.6h0M1100.9 921h0M1128.5 897.4h0M1120.9 902h0M1138.6 937.5h0M1120.3 901.2h0M1140.5 911h0M1141.4 915h0M1109.2 956.9h0M1111.7 956.3h0M1096.7 941.2h0M1140.5 923.3h0M1141 930.5h0M1097.7 928.7h0M1137.4 909.5h0M1117 902h0M1108.3 907h0M1138.8 930.4h0M1097.7 941.1h0M1122.9 953.5h0M1130.2 951.6h0M1096.8 927.1h0M1114.8 901.1h0M1124.6 896.6h0M1140.2 919.3h0M1139.5 929.4h0M1132.9 948.3h0M1105.4 907.9h0M1125.1 952.6h0M1109.4 904.4h0M1104.4 949.6h0M1099.7 949.3h0M1137.7 930.3h0M1141.8 934.9h0M1094.8 923.6h0M1095.2 926.2h0M1138.1 940.6h0M1128.8 900.9h0M1115.7 955.5h0M1130.4 950.7h0M1097 932.3h0M1095.3 935.4h0M1098.8 920.8h0M1099.5 914.2h0M1134.9 903.7h0M1136.1 906.3h0M1114.6 958.9h0M1107.8 905.3h0M1124.7 896.8h0" stroke="#e0281c" stroke-width="2" stroke-linecap="round" fill="none"/>
<path d="M1160.1 1004.6h0M1176.6 1002.6h0M1170.4 1013.1h0M1170.8 986.8h0M1185.4 991.6h0M1165.4 1030.6h0M1172.6 1023.1h0M1166.7 1022.2h0M1167.5 1008.4h0M1182.4 984.6h0M1162.5 1025.2h0M1176.6 988h0M1166.3 1029.7h0M1169.5 1003.2h0M1167.5 1030.2h0M1183.3 972h0M1183.4 982.9h0M1164.4 1028.1h0M1161.9 1015.2h0M1174.2 1011.8h0M1164.2 1024.2h0M1173.4 1000.7h0M1174.8 992.1h0M1173.1 992.8h0M1178.9 964.1h0M1174.9 1025.7h0M1180.8 972.8h0M1172.3 1008.3h0M1182.9 1009.3h0M1161.1 1012h0M1167.4 1008.1h0M1174.7 1016.5h0M1185.3 977h0M1166.7 1018.1h0M1170 992.3h0M1178.7 971h0M1165 1009.8h0M1172 981.7h0M1178.9 983.9h0M1178.9 1012.5h0M1177.9 1018.2h0M1176.4 975.5h0M1183.4 975.7h0M1178.4 968.2h0M1159.6 1010.8h0M1162.3 1004.3h0M1171.6 974.5h0M1165.9 1001.2h0M1173.4 1023.1h0M1172.1 1019.1h0M1166.2 1004.9h0M1178.2 970.3h0M1165.6 1023.9h0M1171.7 986.6h0M1183.8 1000.6h0M1172.2 1028h0M1170 978.7h0M1166.7 990.4h0M1174.7 1010.5h0M1178.7 1004.4h0M1169.5 972.4h0M1165.4 1007.1h0M1166.9 1020.9h0M1178.4 1007.4h0M1178 973.6h0M1165.2 1017.7h0M1176.2 1015.6h0M1161 1000.3h0M1170.5 993.2h0M1184.6 973.2h0M1179.9 1007.7h0M1161.1 999.9h0M1174.1 1016.8h0M1183.4 968.1h0M1162.8 1024.4h0M1185.9 972.5h0M1180.2 965.4h0M1180.2 994.8h0M1181.9 1012h0M1171 983.4h0M1182 977.8h0M1159.6 1006.4h0M1179.2 1005.5h0M1179.4 980.9h0M1174.8 983.6h0M1169.1 1011.7h0M1162.4 1000.8h0M1166.7 998.2h0M1176 1016h0M1178.4 994h0M1178.7 980.9h0M1174 999.2h0M1181.3 988.8h0M1161 1023.2h0M1172.7 992.6h0M1180.8 1014.3h0M1163.6 1015h0M1161.2 1012.5h0M1169.7 1007.3h0M1182.7 983.5h0M1165.2 1000.6h0M1162.5 1027.8h0M1185.7 979.8h0M1178.5 966.7h0M1180.7 994.4h0M1184.3 980h0M1176.8 1004.5h0M1178.7 967.3h0M1164.1 1010.1h0M1162 1032.3h0M1173.9 991.6h0M1163.9 1017.5h0M1167.6 1026h0M1161.1 1021.3h0M1178.4 987.5h0M1184.2 978h0M1171.7 989.6h0M1170.8 1009.2h0M1164.5 1001.8h0M1174.1 966.3h0M1175.2 1017.7h0M1185.8 971.7h0M1184.1 987.9h0M1159.5 1015.3h0M1175.6 971.8h0M1176.9 997.3h0M1178.1 974.7h0M1169 979.7h0M1179.5 965.7h0M1162.1 1017.6h0M1171.8 1022h0M1160.7 1025.3h0M1180.9 972.4h0M1184.8 990.6h0M1184.3 983.4h0M1183.6 981.4h0M1163.1 1025h0M1183.6 979.9h0M1178.4 988h0M1165 993.2h0M1173.5 976.4h0M1167 989.7h0M1169.7 1007.4h0M1158.1 1009.8h0M1179.3 1008.2h0M1167.5 998.2h0M1180.8 995.4h0M1179.9 982.4h0M1164.8 1033h0M1166.4 1020.5h0M1162.4 1016.6h0M1167.8 1013.4h0M1169.5 1009h0M1166.9 1013h0M1183.4 999h0M1163.1 1009.6h0M1174.2 1003.6h0M1182.3 969h0M1179.3 993h0M1184 974.9h0M1183.5 965.6h0M1171.2 1005h0M1162.9 1035.4h0M1180.3 1006h0M1176.5 1022.3h0M1186.1 986.6h0M1182.2 991.6h0M1174.9 1003.4h0M1167.8 1028.7h0M1160.8 1022.8h0M1168.6 996.6h0M1171.2 1014h0M1184.2 978.5h0M1164.4 1025.9h0M1185.7 996.9h0M1175.1 980.4h0M1168.2 1018.4h0M1172.4 996.2h0M1182.7 995.9h0M1185.2 995.3h0M1170 1008.8h0M1184.8 989.6h0M1165.6 1016.2h0M1185.4 991.5h0M1164 1004.4h0M1167 993.1h0M1182.5 993.7h0M1164.9 997.3h0M1176.8 1023.9h0M1162.3 1023.9h0M1175.9 997.6h0M1174.4 1024.6h0M1168.4 991.2h0M1180.9 1010.5h0M1159.4 1019.8h0M1184.6 1005.4h0M1180.9 1005.1h0M1163.6 1011.5h0M1163 1031.3h0M1164.7 1022.5h0M1178.8 979.2h0M1182.9 988.2h0M1162.4 1025.8h0M1165.7 1035.4h0M1169.9 1023.8h0M1180.2 977.2h0M1181 1013.7h0M1182.7 968.7h0M1163.2 1009h0M1181.3 971.4h0M1181.9 970h0M1181.2 994.1h0M1181.3 967.1h0M1168.7 989.1h0M1185.4 978.9h0M1185.9 983.2h0M1174.4 996h0M1175 1025.5h0M1175.6 991.6h0M1171.4 982.2h0M1180 968.4h0M1181.4 1001.9h0M1166.7 1015.6h0M1179.4 971.5h0M1170.5 1027.8h0M1174.2 985.6h0M1163 1019.2h0M1172.1 1024.2h0M1175.7 1002.8h0M1178.6 1019.8h0M1161.7 1013h0M1185 970.6h0M1178.4 1012.9h0M1180.7 989.8h0M1169.3 1018.7h0M1170.4 1024h0M1172.9 993.4h0M1164.9 998.8h0M1166.3 1003.8h0M1177.6 1019.4h0M1177.8 1003.4h0M1185.2 995.9h0M1168.2 980.8h0M1175.6 967.8h0M1171.1 1016.3h0M1179.3 990.8h0M1168.3 987.7h0M1174.2 990.7h0M1181.6 977.9h0M1174.1 998.3h0M1178.4 974.8h0M1169.5 975.9h0M1186.4 985.8h0M1177.6 984.1h0M1178.8 993h0M1159.3 1016.4h0M1164.2 999.8h0M1166 993.8h0M1165.1 1010.4h0M1183.1 986.3h0M1181.7 983.4h0M1180.7 981.9h0M1176 979.6h0M1176.9 1011.1h0M1174 1017.3h0M1169.7 969.4h0M1174.4 983.7h0M1167.7 984.5h0M1177.8 1013.2h0M1173.2 969.6h0M1184.6 999.2h0M1173.2 974.7h0M1162 1000.2h0M1164.2 1017.3h0M1163.2 1017.5h0M1171 1014.7h0M1167.7 1028.7h0M1174.3 982.4h0M1163.2 1006.9h0M1170.3 988h0M1180.8 981.5h0M1164 1030.6h0M1184.3 992.3h0M1170 996.2h0M1168.9 984h0M1175.6 1004.8h0M1177.6 968.6h0M1176.3 998.3h0M1182.6 970.4h0M1179.7 1016.6h0M1169.5 1010.9h0M1170.4 1009.8h0M1164.9 1032.8h0M1163.8 1016h0M1177.6 1010.7h0M1170.2 982.7h0M1160.5 1020.7h0M1175.6 991.2h0M1184.9 1004.6h0M1179.3 989.9h0M1170.3 994.8h0M1166.9 999.7h0M1166 991.4h0M1178.9 996.4h0M1180.8 1018.8h0M1172.2 1009.7h0M1163.1 1043.8h0M1177.7 958.1h0M1176.6 1030.2h0M1175.1 1012h0M1175 1026.5h0M1173.8 978.6h0M1174.6 977.6h0M1172.8 973.5h0M1179.1 995.4h0M1167 1035.3h0M1175.8 978.4h0M1187.7 977.9h0M1179 958.1h0M1185 980.2h0M1172.3 1015.7h0M1157.6 1016.1h0M1154.7 1015.6h0M1171.4 1000.2h0M1171.6 970.4h0M1169.9 994.2h0M1156.9 1008.6h0M1184.1 998.2h0M1186.3 970.7h0M1180.7 987.3h0M1171.3 976h0M1162.1 1001.4h0M1162.3 1003.4h0M1172.6 1007.5h0M1177.5 1006.8h0M1189.5 988.4h0M1167.5 1002.3h0M1183.8 967.8h0M1158.3 1030.4h0M1175.8 976.4h0M1185.2 964.1h0M1169.1 995.2h0M1175.2 979.7h0M1182.1 989.5h0M1188.3 983.8h0M1166.9 1003.1h0M1189.4 985.2h0M1166.8 1031.9h0M1162.1 1011.5h0M1166.4 1037.5h0M1184.5 958.9h0M1172.7 1006.9h0M1184.4 965.4h0M1162.7 1040.9h0M1183.4 987.2h0M1186.6 989.7h0M1168.3 978h0M1178.7 1020.4h0M1171.8 969h0M1175.2 983.7h0M1179.7 974.3h0M1178.2 1004.7h0M1177.6 955.7h0M1154.1 1012.5h0M1168.5 972.4h0M1186.5 986.6h0M1171.7 960.2h0M1172.5 962.4h0M1187.5 1000.5h0M1178.6 985.3h0M1186.5 963.7h0M1174.3 999.9h0M1179.6 960.9h0M1176.3 982.2h0M1160.6 1013.2h0M1173.5 1020.1h0M1169.3 1001.6h0M1176.1 988.3h0M1172.8 1017.5h0M1161.1 996.8h0M1177.8 984.1h0M1161.7 1020h0M1179.5 981.2h0M1176 998.7h0M1161.3 1039h0M1165.1 1023.3h0M1185.6 966.8h0M1188.1 970.9h0M1168.3 1036.6h0M1155.9 1013.6h0M1173 975.7h0M1181.2 982.1h0M1168.7 972h0M1189.6 976.5h0M1176 982.7h0M1168.7 1032.3h0M1182.2 981.7h0M1181.4 1021.1h0M1177.6 1004.3h0M1164.2 991.9h0M1176.9 980.3h0M1169.1 1007.2h0M1185.7 1008.1h0M1186 972.8h0M1163 1025.6h0M1173.6 1000h0M1164.7 1011.4h0M1178.6 976.9h0M1169.6 961.6h0M1166.7 1002.9h0" stroke="#c8c8c8" stroke-width="2.4" stroke-linecap="round" fill="none"/>
<path d="M1171.8 989.4h0M1176.2 1020.8h0M1175 966.7h0M1167.2 998.1h0M1165.7 986.2h0M1177.3 999.2h0M1169.8 982h0M1188.4 982.9h0M1160.8 1016.1h0M1179.2 982.3h0M1179.2 960.9h0M1179.7 971h0M1189.6 977.6h0M1163.2 1013.1h0M1179.4 1017.8h0M1188.3 965.2h0M1173.3 981.9h0M1179.2 1019.7h0M1180.9 969.4h0M1157.9 1003.5h0M1182.8 1004.3h0M1159.4 1010h0M1185.9 981.5h0M1174.4 1025.9h0M1186.2 967.6h0M1181 986.6h0M1171.2 962.3h0M1167.7 982.5h0M1158 1032.9h0M1175.9 1018.3h0M1162.4 1014.6h0M1170.5 999.6h0M1180 987.2h0M1171.1 1026.8h0M1185.5 1004.4h0M1160.8 999.7h0M1187.4 1000.8h0M1182.6 994.1h0M1183.1 969.8h0M1172.7 1000.5h0M1161.8 1002.4h0M1167.4 994.2h0M1175.4 983.4h0M1160.4 1031h0M1169.9 978.7h0M1185.3 1013.1h0M1159.8 1031.2h0M1182.5 1011.1h0M1155.5 1019.5h0M1187.8 988.8h0M1176.9 988.6h0M1172.9 953.3h0M1168 985.1h0M1178 994.1h0M1182.5 973.9h0M1160.2 999.9h0M1171.2 968.3h0M1169.4 991.7h0M1171.1 1033.3h0M1164.6 1027.5h0M1160.4 1029.9h0M1188.3 975.9h0M1157.4 1018.6h0M1179.1 957.2h0M1160.8 1029.7h0M1170.8 1030.9h0M1169.1 1001.5h0M1166.4 1011.7h0M1168.5 998h0M1186 972.6h0M1163.5 1036.8h0M1178.7 957.6h0M1173.4 958.5h0M1177.9 1014.7h0M1161.2 1025.9h0M1158.3 1023.8h0M1174.5 977h0M1163.9 1028.7h0M1178.2 979.9h0M1163 997.2h0M1165.9 1026.9h0M1175.7 1016.9h0M1187.8 1004.7h0M1178.4 959.8h0M1162.7 1021.1h0M1185.3 975h0M1175.3 977.9h0M1186.1 992.1h0M1164.8 1041.3h0M1169.3 986.5h0M1182.6 1014.1h0M1181.8 1004.6h0M1156.3 1020.3h0M1167.7 1032.1h0M1186.3 1010.3h0M1178.8 971.9h0M1176.4 977.8h0M1172.5 989.2h0M1174.9 1019.8h0M1185.3 987.4h0M1173.3 1001.5h0M1184.2 958.2h0M1159.1 1033.1h0M1177.1 1010.1h0M1159.2 1017.6h0M1164.2 1030.1h0M1189 994.3h0M1160.2 1023.8h0M1188.8 966.2h0M1187.5 983.3h0M1162.9 997.1h0M1166.5 1029.9h0M1155.8 1018.6h0M1159.2 1018.5h0M1165.2 1027.1h0M1176.7 1002.5h0M1169.7 980.9h0M1173.6 973.7h0M1170.8 979.5h0M1183.1 996.2h0M1182.4 980.9h0M1176.6 1017.8h0M1165.9 999.8h0M1178.8 970.2h0M1159.2 1022.6h0M1187.4 1001.2h0M1176 991.8h0M1170 993.9h0M1164.2 1028.3h0M1176 960.2h0M1170.6 1033.7h0M1173.6 1021.2h0M1161.6 1026.5h0M1186.4 997.9h0M1178.6 980.5h0M1162.7 1004.5h0M1185.7 958.1h0M1165.2 986.1h0M1159.4 1007.6h0M1160.6 1000.2h0M1161.8 1003.4h0M1178.8 988.6h0M1160.4 1018h0M1186.8 984.2h0M1181.5 967.9h0M1188.7 972.4h0M1175.5 986h0M1170.5 992.5h0M1171.2 980.3h0M1183.1 973.9h0M1158.4 1011.5h0M1155.9 1029h0M1167.3 974.7h0M1156.3 1005.7h0M1189 999h0M1188.9 986.9h0M1188.2 975h0M1164 987.5h0M1187.3 989.4h0M1178 951.9h0M1157.9 1031.8h0M1187.8 960h0M1174.2 1034.7h0M1155.9 1014.9h0M1183.8 1006.4h0M1189.1 991h0M1168.2 968h0M1190.7 971.4h0M1162.3 1043.1h0M1174.1 1037.5h0M1181.2 1022.5h0M1167.9 966.6h0M1149.7 1014.3h0M1189.5 974.2h0M1190.9 987h0M1183.9 1013h0M1154.9 1011.9h0M1154.2 1010.7h0M1189 992.9h0M1163.2 1045.6h0M1186.1 952.8h0M1188 1002.5h0M1173 1035.4h0M1189.2 970.9h0M1188 971.8h0M1163 989h0M1152.5 1021.6h0M1171 958.7h0M1184.8 1017h0M1156.4 1030.2h0M1160.3 1042.4h0M1190.1 967.3h0M1178.2 1033.7h0M1159.8 1048.9h0M1176.2 949.1h0M1192.2 971h0M1167.5 963.7h0M1186.1 1007.6h0M1188.9 987.6h0M1189.9 990.3h0M1154 1013.8h0M1185 956.5h0M1166.6 970.7h0M1188.3 981.5h0M1189.8 989.6h0M1156.8 1020.4h0M1158.3 1038.7h0M1174.4 956.3h0M1179.6 1027.6h0M1176.2 1030.2h0M1193.7 971.9h0M1156 995.9h0M1189.5 985.7h0M1183.1 1021.8h0M1182.1 1020.8h0M1157.5 1034.8h0M1188.8 1005.6h0M1177 948.9h0M1189.2 963.2h0M1189.9 997.6h0M1189.3 983.2h0M1156.2 1022.8h0M1188.6 1005.8h0M1179.4 1028.4h0M1171.6 954.9h0M1185.7 959.3h0M1156.2 998.8h0" stroke="#e0281c" stroke-width="2" stroke-linecap="round" fill="none"/>
<path d="M1303.7 871.8h0M1287.4 869h0M1292.3 872.4h0M1301.4 871.7h0M1292.2 863.7h0M1285.5 865.9h0M1293.6 859.1h0M1305.8 865.9h0M1308.7 870.5h0M1297.8 868.3h0M1291.4 859.5h0M1298.1 860.9h0M1292.4 866.1h0M1288.6 859.7h0M1290.9 859.6h0M1294.4 862.1h0M1295.2 862.8h0M1286.4 867.2h0M1290.6 865.3h0M1296.9 865.7h0M1296.6 861.2h0M1287.1 864.9h0M1294.1 873.5h0M1298.4 862.3h0M1309.6 869.9h0M1290.6 860.4h0M1290.4 865.5h0M1295.5 863.1h0M1285.4 867.8h0M1302.5 866.8h0M1288.6 858.5h0M1303.4 869.2h0M1293.7 868.2h0M1299.7 867.9h0M1292.7 859.6h0M1289.8 871h0M1298.8 866.9h0M1301.7 871.5h0M1290.4 868.7h0M1285.8 863.4h0M1301.7 870.9h0M1287.6 868.5h0M1294 864h0M1289 858.9h0M1295.2 867.4h0M1291.8 862.5h0M1288.4 864.8h0M1289.9 871h0M1300.8 865.3h0M1286.6 870.3h0M1308.3 867.7h0M1285.9 868.3h0M1299.6 872.8h0M1292.2 859.5h0M1290.8 858.5h0M1299.9 863.9h0M1307.2 866.1h0M1288.5 867.1h0M1306.7 867.5h0M1286.2 867.7h0M1308.2 870.6h0M1299.7 871.8h0M1294.2 870.4h0M1304.9 870h0M1301.2 874.7h0M1310.1 869.2h0M1304.8 871.9h0M1300.7 873.2h0M1286.1 862h0M1292.4 874h0M1297.5 865.1h0M1293.3 871.6h0M1305.4 873.4h0M1284.1 870h0M1302.8 867.5h0M1283.9 871.5h0M1286.7 857.2h0M1292.5 872.3h0M1299.2 874.2h0M1287.1 860.7h0M1288.4 866h0M1285.1 873.4h0M1292.4 870.5h0M1287.9 859h0M1295.4 868h0M1287.8 859h0" stroke="#c8c8c8" stroke-width="2.4" stroke-linecap="round" fill="none"/>
<path d="M1310.7 868h0M1303.4 874.6h0M1302.4 864.4h0M1287.2 856.8h0M1291.1 874.5h0M1284.7 858.1h0M1284.1 859.7h0M1289.2 867.6h0M1306.6 874h0M1291.3 864.6h0M1291.7 866.6h0M1310.3 872.9h0M1289.6 875.5h0M1295.7 871h0M1284.2 865.6h0M1300 868.1h0M1293 868.8h0M1302.4 868.1h0M1300.8 864.5h0M1287.4 871.4h0M1313.7 871.6h0M1303.4 869.9h0M1309.1 866.7h0M1310.4 868h0M1305.4 871.1h0M1290.6 856.2h0M1292 866.8h0M1286.3 858h0M1286 863h0M1290.6 870.9h0M1289.3 861.6h0M1302.5 864.5h0M1289.1 874.2h0M1291.2 873.6h0M1284.4 858.6h0M1304.1 864h0M1283.5 858.6h0M1308.5 866h0M1304.1 861.7h0M1284.7 872.1h0M1309.1 866.6h0M1305.8 875h0M1300.3 872.3h0M1313.6 871.1h0M1299.6 864.6h0M1282.1 872h0M1313.1 864.1h0M1312.8 873.7h0M1285.1 856.3h0M1315.4 867.9h0M1305.3 874.2h0M1285 854.8h0M1287.4 855.8h0M1291.4 854.6h0M1294.6 876.8h0M1286 854.6h0M1306.5 876.6h0M1311.9 870.1h0M1285.1 859.1h0M1298.6 877.4h0M1318.1 866.4h0M1312.5 871.7h0" stroke="#e0281c" stroke-width="2" stroke-linecap="round" fill="none"/>
<path d="M1272 988.5h0M1272.5 990.1h0M1262.3 981.3h0M1258.5 980.5h0M1265.4 982.2h0M1262.2 984.1h0M1267.4 990.8h0M1263.7 985.7h0M1260.7 987.1h0M1269.9 991h0M1263.6 991.8h0M1258.9 988h0M1249.8 985.5h0M1262.5 993h0M1256.3 988.2h0M1271.4 992.1h0M1271.6 987.6h0M1258.6 981.3h0M1250.4 984.8h0M1262.8 988.3h0M1255.5 983.2h0M1273.8 989.5h0M1249.6 984h0M1260.5 988.4h0M1255.8 983.7h0M1258.2 982.4h0M1262.6 981.5h0M1261.4 985h0M1256.3 987.8h0M1270.5 988h0M1255.5 983.8h0M1249.9 983.6h0M1259.8 987.6h0M1263.4 982.6h0M1267.9 990.8h0M1263.3 990h0M1259.2 983h0M1261.4 987.1h0M1257.1 982.7h0M1263.8 986.5h0M1269.6 987.6h0M1262.2 988.9h0M1267.5 988.9h0M1257.4 984.4h0M1271.6 992.3h0M1271.8 988.1h0M1269.6 986.4h0M1271.9 987.9h0M1256.6 982.5h0M1264.3 984h0M1264.8 987.4h0M1263.5 986.3h0M1272 991.1h0M1260.4 981.9h0M1263.4 990h0M1272 987.1h0M1269.8 995.3h0M1262.2 984.4h0M1261.9 990.2h0M1245.8 985.7h0M1261.3 984.1h0M1272.2 996.4h0M1271.1 994.4h0M1256.3 988.7h0M1270.2 990.5h0M1270.1 986.3h0M1259.7 991h0M1264.6 994.8h0M1255.4 980.9h0M1264.3 983h0M1257.2 984.5h0M1259.6 989.8h0M1252.9 982h0" stroke="#c8c8c8" stroke-width="2.4" stroke-linecap="round" fill="none"/>
<path d="M1245.9 983h0M1272.4 990.5h0M1275 995.4h0M1275.9 994.7h0M1257 987.4h0M1247.3 983.4h0M1268 986h0M1254.8 988.5h0M1245.2 984h0M1261.4 976.7h0M1269 997.3h0M1273.3 992.7h0M1264.5 991.5h0M1269.1 997.2h0M1271.8 992.8h0M1257.7 984.6h0M1278.3 990.6h0M1246.3 983.8h0M1257.9 980.6h0M1255.1 989.2h0M1256 984.6h0M1270.2 990.4h0M1273.2 993.6h0M1258.8 989.2h0M1253.3 983.5h0M1260.4 983.6h0M1243.6 984.3h0M1273.9 982.6h0M1276.4 994.3h0M1268 995.6h0M1277.2 987.8h0M1268.9 997.2h0M1278.5 988.2h0M1256 982.4h0M1261.4 991.5h0M1247.2 982.7h0M1267.8 977.2h0M1249.9 984.9h0M1251.9 984h0M1271.5 994.6h0M1271.2 985.1h0M1277.2 988.3h0M1270.1 995.8h0M1272.5 987.4h0M1256.4 976.9h0M1248.6 983.7h0M1273.3 996.7h0M1271.9 985.8h0M1271.7 995.5h0M1246 982.9h0M1260.5 992.2h0M1248.9 987.2h0M1273.9 997.4h0M1250.1 986.8h0M1247.7 982.4h0M1243.6 982.8h0M1255.9 989.5h0" stroke="#e0281c" stroke-width="2" stroke-linecap="round" fill="none"/>
<path d="M1151.5 1166.5h0M1170.6 1153.6h0M1144.6 1134.1h0M1175.3 1141.2h0M1146 1157.1h0M1158.1 1151.6h0M1135.7 1153.6h0M1159.4 1178h0M1155.6 1167.6h0M1154.3 1123.6h0M1163.8 1198.2h0M1169.2 1170.4h0M1165.6 1139.1h0M1171.5 1129.2h0M1158.6 1178.9h0M1170.8 1179.4h0M1150.5 1149.2h0M1163.9 1162.4h0M1165.3 1152.2h0M1166.6 1187.5h0M1152.9 1165.5h0M1155.2 1165.6h0M1166 1124.3h0M1161.4 1122.4h0M1158.3 1172.4h0M1139.4 1141.8h0M1173.8 1127.5h0M1149.1 1133.8h0M1159.6 1137.5h0M1166.9 1199.8h0M1156.4 1128.9h0M1134.7 1151.4h0M1158.8 1176.3h0M1159.5 1190.5h0M1162.3 1131.3h0M1153.5 1139.2h0M1162.2 1190.9h0M1143.1 1161.6h0M1161.1 1188.8h0M1141.5 1149h0M1166.5 1158.9h0M1147.7 1133.4h0M1157 1198.4h0M1157.4 1187.5h0M1136.9 1150.2h0M1157.3 1121.7h0M1158.3 1122.5h0M1157.4 1130h0M1173.5 1134.4h0M1167.7 1157.8h0M1164.8 1149.3h0M1167.2 1157.6h0M1139.2 1138.5h0M1172.5 1142.3h0M1177.7 1131.5h0M1150.7 1165.6h0M1166.2 1138.1h0M1172 1171h0M1163.4 1147.3h0M1159.5 1187.2h0M1145.9 1130.2h0M1148.8 1171h0M1136.2 1144h0M1141.4 1157.6h0M1151.9 1175.8h0M1175.9 1164.3h0M1172.9 1125.2h0M1156.6 1184h0M1150.3 1157.7h0M1148 1140.6h0M1155.6 1162.4h0M1172.8 1174.3h0M1155.2 1179.4h0M1157.1 1147.3h0M1167.6 1136.1h0M1143.2 1137h0M1175.2 1161h0M1154.8 1163.1h0M1154.7 1137.3h0M1158 1192.6h0M1167 1178.4h0M1162.7 1184.2h0M1146.3 1139.9h0M1173.9 1152.3h0M1146.5 1136.2h0M1170 1171.7h0M1148.6 1144.5h0M1166.8 1176.1h0M1164.3 1191.8h0M1143.2 1162.8h0M1144.8 1152.8h0M1169.2 1134.3h0M1173.5 1139.6h0M1167.4 1171.7h0M1163.3 1175.6h0M1169.2 1165h0M1160.3 1154.8h0M1154.9 1176.6h0M1139.5 1150.6h0M1163.7 1136.8h0M1149.6 1162.7h0M1172.5 1134.2h0M1174.2 1158.3h0M1152.3 1131.3h0M1160.6 1133.7h0M1172.4 1181.3h0M1147.9 1170.8h0M1173.3 1130.4h0M1170.4 1174.5h0M1148.8 1146.3h0M1158.2 1146.7h0M1167.5 1198.2h0M1148.7 1131.4h0M1165.9 1180.4h0M1152.5 1171.5h0M1170.1 1159.7h0M1169.2 1123.5h0M1169 1152.3h0M1144.4 1131.9h0M1146.6 1158.1h0M1151.8 1130h0M1155.8 1161.3h0M1163.8 1168.9h0M1173 1171.9h0M1156.1 1134.2h0M1163.3 1153.4h0M1176.6 1154.1h0M1138 1138.3h0M1137.9 1140.1h0M1159 1162.8h0M1156.4 1200.6h0M1162 1166.6h0M1159.1 1178h0M1169.6 1174.8h0M1164.7 1181.5h0M1159.2 1202.3h0M1161.1 1186h0M1147.4 1170.3h0M1160.6 1159.1h0M1162.6 1162.4h0M1142.7 1141h0M1137.6 1153.1h0M1160.4 1144.6h0M1146.7 1169.1h0M1169.3 1135.5h0M1149.8 1136.2h0M1148.3 1155.3h0M1143.4 1141.2h0M1172.5 1174.2h0M1161.1 1172.6h0M1152.8 1158.6h0M1155.4 1185.5h0M1165.2 1162.4h0M1147.2 1153.6h0M1156.3 1157.3h0M1156.9 1174.3h0M1168.5 1145.9h0M1156.7 1138.8h0M1161.3 1151.8h0M1149.7 1136.5h0M1174.7 1161h0M1143.5 1149.4h0M1164.8 1155.6h0M1170.5 1167.1h0M1149.4 1156h0M1150.6 1169.5h0M1167.9 1148.3h0M1167.8 1171.5h0M1165.3 1180.3h0M1167.9 1185.9h0M1175.9 1148.7h0M1161.8 1161.3h0M1164.9 1147.4h0M1176.8 1148.4h0M1175.8 1133.5h0M1146.2 1145.5h0M1171.6 1180.8h0M1159.3 1173.2h0M1157.5 1195.3h0M1151.8 1131.7h0M1164.7 1192.7h0M1145.5 1137.6h0M1174.3 1138.2h0M1166.2 1137.9h0M1160.8 1183.9h0M1142.7 1141.2h0M1164.6 1141.4h0M1161.5 1141.1h0M1143.6 1162h0M1177 1139.3h0M1155.7 1137.8h0M1162.1 1191.8h0M1141.4 1140h0M1140.9 1142h0M1152.4 1153.5h0M1160.3 1141.1h0M1155.1 1142.4h0M1165.6 1181.6h0M1162.3 1187.1h0M1162.3 1139h0M1170 1135.4h0M1164.1 1179.8h0M1172 1146.3h0M1178.1 1141.9h0M1159.9 1153.3h0M1176.4 1149.6h0M1165.4 1142h0M1156.5 1154.1h0M1166.7 1192.1h0M1148.8 1158.9h0M1161 1128.9h0M1156.6 1135.3h0M1153.1 1171.2h0M1160.6 1130.6h0M1138.5 1139.6h0M1140.9 1135.7h0M1174.4 1150h0M1163 1123h0M1174.7 1154.8h0M1163.5 1150.9h0M1138.9 1145.2h0M1158.5 1181.1h0M1147.2 1131.6h0M1168.4 1130.4h0M1161.1 1180h0M1167.6 1136.3h0M1157.1 1125.8h0M1141.4 1162.6h0M1150.8 1157.7h0M1150.4 1164.3h0M1168.1 1138.8h0M1174.3 1131h0M1153.1 1139.3h0M1160.6 1157.2h0M1145.2 1151.3h0M1139.7 1137.9h0M1165 1133.4h0M1175.9 1144.8h0M1164.3 1198.8h0M1165.2 1194.8h0M1170.4 1155.7h0M1155 1169.9h0M1173.5 1134h0M1160.3 1181.6h0M1165.1 1143.3h0M1149.4 1136h0M1171.7 1134.5h0M1147.3 1141.7h0M1158.5 1155.9h0M1145 1157h0M1173 1179h0M1150 1143.3h0M1156.7 1153.3h0M1159.4 1179h0M1148.8 1124.2h0M1148.2 1161.3h0M1147 1139.4h0M1176.1 1161h0M1162.1 1188.2h0M1163 1190.4h0M1153.1 1180.6h0M1153.2 1146.8h0M1159.8 1139.6h0M1159.4 1190.7h0M1157.9 1197.9h0M1175.4 1129.7h0M1147.9 1161.7h0M1163.3 1135.9h0M1144.3 1128.7h0M1160.3 1164.1h0M1164.1 1151.8h0M1155.2 1163.1h0M1170.3 1151.8h0M1172 1178.4h0M1156.1 1135.4h0M1159.6 1124.9h0M1136.3 1149.1h0M1164 1185.7h0M1153 1172.4h0M1160.7 1143.5h0M1147.4 1161.1h0M1159 1148.6h0M1166.1 1129.9h0M1167.9 1175.6h0M1159.8 1187.2h0M1168.4 1138.6h0M1169.9 1147.6h0M1160.6 1120.6h0M1172.4 1150.8h0M1159.9 1151.3h0M1152.9 1130.4h0M1159.1 1186.4h0M1142.5 1145.7h0M1153.5 1142.8h0M1164.9 1158h0M1147.1 1153.3h0M1168.7 1167.1h0M1174.3 1146.2h0M1167.2 1138.3h0M1166 1173.8h0M1142.3 1139h0M1134.6 1152.3h0M1154.3 1158.9h0M1162.7 1168.7h0M1156.9 1169.1h0M1153.5 1177.4h0M1157.8 1157.8h0M1164.2 1206.9h0M1157.6 1159.5h0M1147.9 1168.3h0M1139.9 1141.9h0M1150.3 1171.9h0M1172.4 1153.4h0M1164.1 1149.9h0M1149.5 1160.3h0M1161.7 1139.7h0M1163.7 1124.7h0M1175.8 1136.1h0M1164.5 1171.4h0M1153.1 1127.8h0M1161.4 1163.6h0M1146.8 1167.1h0M1142.9 1162.5h0M1140.4 1135.7h0M1147 1151.4h0M1161.7 1193h0M1169.5 1144.6h0M1172 1173.9h0M1164.1 1168.9h0M1142.6 1132.6h0M1163.5 1137.8h0M1171.4 1162h0M1166.7 1140.7h0M1161.9 1155.3h0M1172.3 1160.8h0M1162 1143.5h0M1154.2 1123.4h0M1167.2 1172.7h0M1170.2 1127.3h0M1157.4 1145.9h0M1144.6 1132h0M1154.1 1172.2h0M1159.2 1134.9h0M1165.6 1127.6h0M1169.2 1146.1h0M1144 1157.5h0M1159.6 1142h0M1143.9 1149.7h0M1157.2 1136.1h0M1144.8 1126h0M1152.5 1149h0M1158.5 1159.2h0M1158.2 1159.1h0M1164.6 1133.4h0M1154.3 1160.9h0M1157.9 1134.5h0M1173.5 1160h0M1166.3 1175.3h0M1166.2 1122.7h0M1140.5 1152.7h0M1165.7 1141.3h0M1157.8 1162.3h0M1167 1144.2h0M1161.6 1191.9h0M1154.5 1147.3h0M1162.1 1199.1h0M1171.4 1150.3h0M1146.6 1152.5h0M1171.2 1179.2h0M1151.8 1153.8h0M1154.8 1125.2h0M1169.6 1147.2h0M1159.4 1157.9h0M1157.1 1127.3h0M1168.9 1182h0M1158.2 1140h0M1171.6 1172.1h0M1161.2 1183.5h0M1164.2 1124.2h0M1154.5 1177.6h0M1152.4 1155.4h0M1143.2 1163.2h0M1159.1 1164.9h0M1160.3 1203.3h0M1151.6 1166.4h0M1164.7 1204.4h0M1160.6 1156.2h0M1145.1 1155.4h0M1165.3 1125.3h0M1170 1162.1h0M1156.6 1126.7h0M1164.7 1202.9h0M1159.7 1144.4h0M1156.7 1156.2h0M1159.2 1168.6h0M1152.2 1149.9h0M1168.3 1134.2h0M1147.7 1146.8h0M1170.8 1173.8h0M1172.1 1180.1h0M1165.1 1174.7h0M1138.1 1147.6h0M1152.9 1138.7h0M1155 1157.8h0M1161.7 1169h0M1139.4 1155.7h0M1152.2 1125.3h0M1155.8 1156.4h0M1141.2 1130.8h0M1172.5 1141h0M1167.1 1159.2h0M1140.9 1156.8h0M1156.5 1134.3h0M1170.2 1176.8h0M1157.1 1184.4h0M1169.3 1144.2h0M1167.6 1144.1h0M1161.1 1143.7h0M1154.2 1158.6h0M1166.1 1126.1h0M1159.4 1134.7h0M1155.6 1192h0M1145.5 1161.7h0M1172.3 1169.7h0M1155.9 1150h0M1147.6 1165.9h0M1152.6 1173.4h0M1167.4 1199.1h0M1138.6 1149.1h0M1164.1 1131.1h0M1142.4 1147.5h0M1160.6 1162.5h0M1165.1 1169.8h0M1158.6 1193.1h0M1154 1186.1h0M1172.6 1128.8h0M1163 1192h0M1146 1142h0M1170.1 1136.6h0M1140.1 1151.2h0M1157.4 1202.6h0M1144.2 1137.7h0M1144.5 1147.5h0M1155.1 1189.4h0M1154.5 1142.9h0M1166.5 1153.4h0M1163.7 1156.1h0M1170.3 1160.8h0M1154.5 1138.2h0M1156.1 1161.1h0M1148.1 1134.9h0M1158.6 1126.7h0M1176 1152.9h0M1172.1 1130.2h0M1158.2 1196.4h0M1168.2 1146.9h0M1178 1139h0M1163.3 1135.8h0M1156.6 1176.3h0M1157.3 1186.3h0M1164 1151.4h0M1146.9 1150.2h0M1149.3 1149h0M1151.5 1157.7h0M1155.8 1121.1h0M1160.2 1150.5h0M1165.2 1125.4h0M1155 1122.4h0M1171.6 1170.4h0M1161.6 1163.1h0M1163.3 1209.5h0M1163.6 1183.7h0M1163.2 1152.8h0M1167.1 1172.3h0M1148.1 1168.8h0M1154.3 1161.1h0M1145.7 1168.2h0M1142.5 1159h0M1147.2 1161.2h0M1165.7 1125.1h0M1142.5 1159.3h0M1172.6 1166.5h0M1172.5 1140.3h0M1162.4 1205.4h0M1149.6 1135.3h0M1165.5 1171.3h0M1160.1 1167h0M1158.9 1193h0M1168.7 1147.8h0M1174.5 1157.1h0M1164.9 1147.5h0M1168.8 1128.5h0M1162.7 1193.7h0M1169.6 1134.7h0M1165.4 1137.9h0M1150.9 1150h0M1143.9 1159.8h0M1166.4 1149.6h0M1158.1 1180.8h0M1144.6 1137.6h0M1168.1 1130.5h0M1151.7 1145.8h0M1155.1 1185.5h0M1175.2 1162.9h0M1167.9 1140.5h0M1169.8 1179.3h0M1166.7 1171.5h0M1145.6 1126.4h0M1154.3 1171.6h0M1168.4 1171.4h0M1168.9 1148.7h0M1172.6 1155.5h0M1159.7 1150.7h0M1148.2 1151.6h0M1163 1200.1h0M1174.2 1127.1h0M1152.9 1133.4h0M1158 1135.3h0M1176.2 1138.1h0M1173.4 1156.4h0M1165.1 1190.3h0M1155.5 1194.1h0M1164.8 1148.2h0M1149.9 1143.3h0M1174.7 1137.5h0M1167.5 1182.3h0M1141.8 1163.6h0M1156.9 1121.3h0M1170.1 1167.5h0M1166.5 1191h0M1162.3 1150.9h0M1141.1 1136.5h0M1171.9 1145.9h0M1146.4 1165.6h0M1167.2 1176.1h0M1150.5 1145.6h0M1159.1 1128.5h0M1161.7 1171.1h0M1176.2 1153.6h0M1147.3 1159.3h0M1140.5 1148.7h0M1151 1164.2h0M1150 1148.4h0M1173.1 1191h0M1160.2 1138.9h0M1161.2 1124.5h0M1184.1 1127.2h0M1169.4 1192.9h0M1158.5 1123.6h0M1168.3 1121.4h0M1162.4 1204.3h0M1171.7 1118.8h0M1166.6 1172.3h0M1168.6 1154.9h0M1167.7 1151.9h0M1174 1125.6h0M1166.3 1154.8h0M1152.2 1117h0M1146.4 1135.4h0M1168.6 1144.8h0M1172.2 1200.7h0M1175.7 1177.6h0M1171.7 1168.6h0M1168 1164.6h0M1163.5 1144.7h0M1163.1 1178.4h0M1173.8 1157.5h0M1142.1 1117.2h0M1162.9 1138.8h0M1171 1161h0M1160.6 1138.2h0M1166.9 1174.5h0M1161.6 1143.5h0M1140.1 1159.3h0M1147.3 1138.7h0M1159.1 1130.3h0M1152.1 1180.9h0M1167.1 1153.6h0M1150.4 1114.7h0M1146.9 1171.9h0M1156.8 1186.9h0M1170.5 1180.7h0M1172.8 1191.4h0M1164.2 1132.4h0M1163.6 1216.4h0M1163.1 1169.6h0M1156.3 1126h0M1175.3 1147.5h0M1161.6 1162.7h0M1149.7 1159.5h0M1166.2 1193.4h0M1170.2 1171.2h0M1157.5 1203.3h0M1158.9 1153.6h0M1156.6 1119.4h0M1176.8 1140.6h0M1147.6 1154.5h0M1165.9 1115.4h0M1146.1 1155.2h0M1180.2 1141.3h0M1145.4 1115.9h0M1156.6 1151.8h0M1157.5 1184.7h0M1171.1 1140.1h0M1177.3 1139.7h0M1157.3 1192.3h0M1158.7 1204h0M1151.7 1123.1h0M1152.6 1157.4h0M1177.2 1125.6h0M1138.4 1127.5h0M1159.1 1117.5h0M1176.4 1177.3h0M1147.4 1148.4h0M1172.7 1150h0M1163.2 1202.8h0M1166.3 1173.6h0M1140.1 1122h0M1141.4 1118.3h0M1140.5 1142.1h0M1171.1 1170.8h0M1150.9 1159.7h0M1182 1124.5h0M1164.3 1165.6h0M1143.5 1168.4h0M1177.1 1144.2h0M1171.8 1139.3h0M1153.7 1159.8h0M1165.6 1207.6h0M1150.1 1139.4h0M1170 1192.5h0M1157 1206.2h0M1136.1 1146.5h0M1166.5 1183.4h0M1166.5 1130h0M1164 1120h0M1151.1 1175.4h0M1143.8 1145h0M1153.8 1193.6h0M1147.8 1158.1h0M1172.6 1147.4h0M1174.8 1135.7h0M1146.5 1133.6h0M1180.7 1136.4h0M1164.3 1119.7h0M1148.2 1114.2h0M1143.9 1134.4h0M1148.3 1120.6h0M1151.9 1174.7h0M1144.8 1129.1h0M1142.9 1147.4h0M1144.6 1173.9h0M1148.1 1118.9h0M1169.1 1203.3h0M1154.4 1180h0M1172.6 1189.5h0M1159.6 1207.5h0M1158.7 1121.6h0M1153.1 1181.6h0M1156.1 1140.8h0M1169.5 1122.5h0M1169.2 1141.2h0M1161.9 1181.1h0M1136 1140.6h0M1159.8 1132.2h0M1132.3 1136.6h0M1167.2 1160.1h0M1159.4 1196h0M1144.9 1133.1h0M1141.6 1156h0M1171.4 1189.3h0M1174.4 1160.4h0M1160.6 1155h0M1146.7 1122.2h0M1160.3 1216.3h0M1139.5 1165.2h0M1154.4 1202.4h0M1146.4 1160.4h0M1180.1 1161.1h0M1153.8 1190.1h0M1175.2 1125.9h0M1147.7 1127.5h0M1140.5 1162.1h0M1170.1 1141.8h0M1159.5 1171.7h0M1173 1115h0M1170.6 1167.2h0M1173.7 1114.6h0M1178.9 1143.2h0M1166.4 1171.2h0M1142.7 1119h0M1158.9 1196.7h0M1155.1 1198.5h0M1172.8 1191.1h0M1165.8 1220.3h0M1168 1194.4h0M1161 1140.6h0M1158.1 1142.4h0M1147.7 1166.2h0M1181.5 1147.2h0M1167.2 1115.6h0M1170.3 1194.5h0M1143.2 1139.6h0M1167.6 1195.6h0M1170.5 1191h0M1145.3 1125.4h0M1172.3 1178.8h0M1169.3 1181.6h0M1136.5 1127.4h0M1146.2 1168.8h0M1136.7 1136.3h0M1138.8 1135.1h0M1170.8 1175.5h0M1158.2 1189.2h0M1152.3 1151h0M1140 1121.7h0M1156.2 1121.3h0M1153.3 1170.5h0M1160.8 1187.6h0M1166.3 1137.2h0M1179.1 1123.3h0M1142.2 1164.9h0M1146.7 1129.5h0M1176.7 1172.3h0M1169.6 1190.6h0M1171.1 1172.7h0M1157 1168.3h0M1145.1 1170.1h0M1147 1130.2h0" stroke="#c8c8c8" stroke-width="2.4" stroke-linecap="round" fill="none"/>
<path d="M1140.9 1132.2h0M1180.5 1160.1h0M1160.4 1209.6h0M1168.4 1210.3h0M1183.4 1135.8h0M1168.4 1160.8h0M1161.9 1120.8h0M1140.8 1146.1h0M1167.5 1195.6h0M1167.2 1122.5h0M1170.5 1116.8h0M1175.5 1184.3h0M1143.9 1139.8h0M1169.8 1137.7h0M1161.7 1125.2h0M1166.7 1211.6h0M1170.8 1127.9h0M1137.8 1164.7h0M1142.1 1167h0M1169.9 1122.7h0M1156.7 1147.6h0M1154.8 1175.9h0M1143.5 1166.9h0M1178.5 1138.4h0M1156.3 1152.7h0M1154.4 1140.7h0M1141.7 1134.8h0M1158.4 1198.3h0M1141.3 1161.3h0M1152.9 1145.2h0M1176 1122.6h0M1151.8 1174.5h0M1166.8 1181.2h0M1165.9 1191.9h0M1151.2 1133.4h0M1135.9 1126.8h0M1134.6 1156.5h0M1166.1 1193.5h0M1153.9 1184.4h0M1144.5 1153.5h0M1138.7 1132.7h0M1162.2 1184.1h0M1143.2 1116.2h0M1148.3 1115.3h0M1172.9 1186.9h0M1177.9 1148.5h0M1160.1 1176.5h0M1160.2 1174.9h0M1177.6 1164.5h0M1154.3 1137h0M1169.3 1151.4h0M1167.2 1193.1h0M1144.3 1159.9h0M1173.5 1118.6h0M1143.7 1130.7h0M1183.9 1134.8h0M1177.1 1161.7h0M1159.6 1189.4h0M1161.8 1214.3h0M1154.3 1113.3h0M1177.3 1140.6h0M1167.9 1211.4h0M1166.9 1145.2h0M1154.4 1174.7h0M1161.9 1192.5h0M1183.2 1141.8h0M1162.5 1185.9h0M1175.8 1127h0M1182.4 1148.6h0M1139.5 1156.3h0M1156.9 1187.4h0M1143 1157.6h0M1164.1 1141.4h0M1176.6 1141.8h0M1159.7 1127.5h0M1167.1 1216.2h0M1139.9 1157.8h0M1147.1 1174.5h0M1143.7 1155.9h0M1140.7 1132.5h0M1171.6 1184.5h0M1163.9 1172.3h0M1151.1 1138.3h0M1154.8 1123.5h0M1161.6 1190.9h0M1173.1 1116.6h0M1136.2 1159.1h0M1168.5 1123h0M1160.1 1122.5h0M1168 1209.9h0M1153.3 1126.9h0M1146.8 1133.9h0M1172.7 1122.1h0M1167.7 1174.1h0M1176.2 1133.4h0M1161.5 1170h0M1153.4 1149.2h0M1168.5 1168.4h0M1171.5 1140.7h0M1176.4 1143.9h0M1162.3 1203.5h0M1155.7 1172.3h0M1154.2 1177.8h0M1168.7 1129.4h0M1147.8 1153.8h0M1144.5 1162.9h0M1180.4 1129.6h0M1155.1 1121.7h0M1156.1 1128.9h0M1144.9 1125.4h0M1157.5 1140.8h0M1177.6 1142.2h0M1177.5 1162.3h0M1134.2 1158.1h0M1156.8 1147.3h0M1156.5 1136.4h0M1149.2 1130.2h0M1151.2 1146.3h0M1152.3 1145.7h0M1164.4 1201.1h0M1140.3 1146.7h0M1156.6 1115.3h0M1182.1 1151.2h0M1169.5 1210.7h0M1158.1 1158.7h0M1181.9 1151.7h0M1142.8 1160.2h0M1160.5 1134.3h0M1159.5 1181.1h0M1165.5 1164.5h0M1163.3 1152.2h0M1134.8 1145.5h0M1156.7 1117.7h0M1149.8 1168.4h0M1166.5 1147h0M1139.8 1156.9h0M1154.5 1140.6h0M1146.1 1133.2h0M1131.9 1150.7h0M1156.9 1137.6h0M1147.4 1164h0M1137.6 1151.4h0M1145 1163.8h0M1144.2 1145h0M1177.8 1145.7h0M1169.5 1137.9h0M1150.7 1124.2h0M1134.2 1151.1h0M1141.2 1148.6h0M1164.7 1196.4h0M1135.9 1160h0M1148.8 1128.4h0M1136 1159.9h0M1134.4 1159.1h0M1174.3 1193h0M1172 1147.2h0M1137.7 1151.4h0M1174.2 1178.5h0M1179.5 1126.7h0M1144.8 1117.4h0M1183 1139.3h0M1177.8 1136h0M1158 1205.8h0M1163.1 1115.1h0M1159.8 1204.5h0M1140.3 1161.6h0M1131.1 1140.7h0M1166.2 1147.8h0M1160.1 1146.7h0M1178.7 1136.6h0M1166.5 1133.6h0M1145 1163.1h0M1162.7 1183.9h0M1167.7 1195.6h0M1174.1 1126.5h0M1154.4 1168.8h0M1141.9 1158h0M1155.8 1197.5h0M1168.8 1180h0M1157.4 1209.9h0M1165.6 1208.4h0M1180.7 1146h0M1150.2 1126.5h0M1155.7 1165.9h0M1154.5 1150.9h0M1178.1 1179.3h0M1155.3 1135.1h0M1166.9 1145.5h0M1150.2 1159.3h0M1159.9 1195.3h0M1149.4 1170.5h0M1140.4 1128.4h0M1148.5 1164.6h0M1152.4 1178.6h0M1140.4 1137.7h0M1163.4 1154.5h0M1181.9 1139.6h0M1153 1126.7h0M1148.2 1115.9h0M1159.8 1172.2h0M1150.3 1171.2h0M1158.3 1121.3h0M1164.9 1207h0M1165 1117.1h0M1142.9 1135.7h0M1155.9 1184h0M1156.6 1188h0M1133.6 1156h0M1171.6 1181.8h0M1153 1149.3h0M1165.2 1142.3h0M1166.6 1209.9h0M1132.2 1155.9h0M1138.9 1138.3h0M1175.8 1139.2h0M1147.7 1150h0M1164.4 1138h0M1158.3 1133.2h0M1167.6 1180.3h0M1156.2 1130.1h0M1177.4 1163.6h0M1169.6 1120.1h0M1137.4 1155.5h0M1166.2 1154.9h0M1144.9 1161.9h0M1165.3 1190.8h0M1163.4 1114h0M1143.6 1143.6h0M1159.5 1124.7h0M1177.2 1140.4h0M1140 1136.5h0M1162.4 1203.5h0M1140.1 1124.2h0M1178.3 1175.8h0M1137.3 1150.2h0M1175.7 1180.4h0M1161.6 1218.1h0M1144.6 1115.8h0M1143.1 1153.8h0M1161.4 1170.6h0M1168.5 1138.2h0M1140 1133.9h0M1171.9 1153.7h0M1156.6 1150h0M1176.1 1167.1h0M1171.8 1183.2h0M1173.3 1140.4h0M1178.1 1163.2h0M1164.8 1134.7h0M1159.5 1160.6h0M1164.1 1133h0M1174.4 1115.2h0M1144.7 1150.3h0M1164.6 1117.2h0M1161.1 1185.4h0M1178.5 1148.8h0M1170.6 1188.6h0M1168.1 1191.1h0M1169.4 1136.8h0M1153.6 1165.9h0M1174.4 1136.5h0M1160.3 1148.1h0M1157.2 1124.5h0M1157.8 1128.3h0M1158.1 1142.7h0M1156.9 1188.7h0M1139.4 1138.3h0M1181.4 1119.2h0M1178.5 1174.6h0M1132 1136.3h0M1159.1 1109.2h0M1171.1 1195.1h0M1177.2 1182.8h0M1152 1180.4h0M1151.7 1185.3h0M1137.6 1163.5h0M1131 1137.1h0M1167.7 1111h0M1141.6 1116.4h0M1177.5 1178.5h0M1172.2 1201.9h0M1149 1114.1h0M1175.6 1199.3h0M1130.5 1157.8h0M1130.5 1134.3h0M1185 1131.3h0M1166.5 1219.6h0M1179.7 1171.3h0M1156 1206.9h0M1146.9 1176.9h0M1140.9 1167.5h0M1164.9 1112.7h0M1141.4 1114.6h0M1167.4 1220.5h0M1149.2 1177.3h0M1145.4 1175.3h0M1136.6 1129.9h0M1161.8 1215h0M1148.4 1185.2h0M1183 1144.3h0M1180.5 1154.1h0M1139.3 1170.4h0M1182.2 1160.6h0M1159.4 1218.1h0M1153.5 1201.9h0M1179.7 1168.7h0M1127.7 1148.2h0M1141.2 1170.9h0M1129.9 1156.2h0M1181.7 1156.2h0M1152.6 1197.2h0M1157.3 1212.9h0M1182.1 1135.5h0M1149.8 1184.1h0M1182.2 1150.4h0M1184.9 1124.3h0M1181.7 1160h0M1184.1 1150.2h0M1146.5 1176.1h0M1170.6 1204.5h0M1170 1219.5h0M1177.4 1171.2h0M1143.2 1117.8h0M1170.6 1211.6h0M1174.8 1198.1h0M1182.9 1130h0M1178.1 1176.4h0M1151.4 1184.4h0M1130.6 1145.2h0M1178.7 1175.1h0M1170 1212.5h0M1155.4 1199.2h0M1172.7 1111.6h0M1182.6 1119h0M1181.4 1153.3h0M1132.2 1136.3h0M1171.2 1202.8h0M1174.9 1111.7h0M1163.2 1221.3h0M1141.4 1169.4h0M1143.5 1112.6h0M1140.1 1167.1h0M1152.1 1188.8h0M1144.3 1175.4h0M1180.3 1135.6h0M1184.4 1128.5h0M1181.4 1165.4h0M1164.8 1217.4h0M1174.5 1195.6h0M1140.6 1117.4h0M1161.9 1220.1h0M1178.5 1116.7h0M1128.4 1146.4h0M1176.7 1192.6h0M1144.8 1114.6h0M1153.6 1187h0M1175.7 1184.7h0M1144.6 1169.1h0M1182.4 1159.4h0M1160.4 1108.4h0M1180.9 1157.4h0M1185.9 1131.8h0" stroke="#e0281c" stroke-width="2" stroke-linecap="round" fill="none"/>
<path d="M1293.4 1112.3h0M1295.1 1115.5h0M1307.3 1107.1h0M1299.7 1105h0M1309.8 1112.9h0M1312.3 1118h0M1318.8 1111h0M1296.7 1111.9h0M1309.6 1110.2h0M1308.8 1120.2h0M1308.9 1114.1h0M1300.3 1118h0M1315 1109.5h0M1317.6 1112.4h0M1309.8 1107.8h0M1308.4 1103.8h0M1306.8 1117.7h0M1313.1 1109.5h0M1308.1 1117.9h0M1317.8 1109h0M1315.5 1115.8h0M1312.9 1111.8h0M1305.3 1110.8h0M1302.7 1109.4h0M1314.2 1116.3h0M1317.5 1106.9h0M1316.8 1112.5h0M1305.7 1109.3h0M1301.7 1105.6h0M1296.7 1105.8h0M1303.6 1121h0M1305.1 1102.7h0M1315.4 1114.7h0M1311.2 1109.1h0M1305.1 1117.1h0M1307.2 1110.4h0M1309.8 1108.3h0M1302.6 1121.2h0M1313 1110.7h0M1310.3 1120.4h0M1292.6 1111.4h0M1298.7 1116.3h0M1306.1 1116.4h0M1300.7 1120.4h0M1294.9 1115.4h0M1298.4 1112.6h0M1293.4 1113.8h0M1294.3 1109.5h0M1318 1110.1h0M1311.1 1109.3h0M1321.7 1105.8h0M1299.1 1108.8h0M1309.9 1106h0M1308.2 1109h0M1300.4 1120.7h0M1304.9 1109.6h0M1305.7 1119.7h0M1314 1110.3h0M1307.9 1108.6h0M1297.5 1118.3h0M1305.3 1105.4h0M1303.9 1105.6h0M1314.7 1116h0M1313.4 1112.3h0M1315.3 1107.5h0M1298.2 1112.6h0M1298.6 1105.3h0M1301.1 1108.5h0M1309.5 1107.6h0M1294.2 1116.4h0M1307.2 1106.3h0M1311.3 1116.5h0M1311.8 1111.3h0M1307.4 1103.1h0M1306.9 1119.8h0M1308 1120.1h0M1306.2 1111.5h0M1310 1118.6h0M1299.7 1113.1h0M1313.1 1112.4h0M1297.8 1119.5h0M1305.5 1121.6h0M1310.1 1113.9h0M1309.6 1106.8h0M1306.8 1115.8h0M1309.8 1115.3h0M1314.6 1116.7h0M1302.9 1118.5h0M1304 1114.8h0M1308.2 1117.6h0M1298.4 1109.1h0M1316.4 1118.1h0M1297 1122.5h0M1306.9 1123.7h0M1317.2 1113.6h0M1296.4 1103.5h0M1315.7 1116.3h0M1322.8 1107.3h0M1320.6 1106.4h0M1320.5 1105.2h0M1309.9 1123.7h0M1322.3 1110.8h0M1322.3 1104.1h0M1305.8 1108.5h0M1312.2 1107.8h0M1298.2 1113.9h0M1314.7 1107.3h0M1300 1102.1h0M1320.8 1114.1h0M1324.4 1104.4h0M1296.6 1117.2h0M1312.3 1109.5h0M1311.2 1114.4h0M1306.1 1117h0M1302.7 1113.4h0M1298.1 1116.1h0M1315.7 1111.3h0M1293.1 1115.7h0M1292.4 1111.2h0M1316.4 1115.3h0M1307.6 1118.5h0M1315.8 1119.6h0M1320.2 1109.9h0" stroke="#c8c8c8" stroke-width="2.4" stroke-linecap="round" fill="none"/>
<path d="M1300.3 1110.3h0M1299 1123h0M1293.1 1115.9h0M1318.7 1105h0M1321.2 1108h0M1314.9 1121.6h0M1292.4 1109.8h0M1318.6 1109.1h0M1310.9 1120.3h0M1295.1 1111.7h0M1321.9 1103.4h0M1301.8 1102.2h0M1305.1 1110.8h0M1301.5 1110.4h0M1302.2 1103.9h0M1314.7 1106.5h0M1298.2 1107.2h0M1312 1103.7h0M1300 1102.5h0M1297.8 1113.1h0M1316.6 1111.2h0M1310.8 1112.9h0M1317.5 1118.9h0M1315.3 1119.4h0M1300 1115.9h0M1306.2 1115.8h0M1320.2 1109.8h0M1320.4 1113.5h0M1304.1 1103.3h0M1309.3 1103.9h0M1318 1110.6h0M1307.6 1116.2h0M1293.6 1116.1h0M1317.7 1118.1h0M1324 1103.6h0M1292.3 1115.8h0M1316.8 1105h0M1320.8 1104.1h0M1310.2 1115.1h0M1312.7 1109.2h0M1316.2 1120.2h0M1304.7 1116.4h0M1313.3 1103.6h0M1315.5 1118h0M1301.7 1111.4h0M1314.2 1121.3h0M1317.2 1101.8h0M1297.2 1122h0M1288.6 1107h0M1291.7 1104.9h0M1294.6 1100.4h0M1306.5 1123.2h0M1321 1103.1h0M1326.3 1108.3h0M1293.9 1101.9h0M1292.2 1101.7h0M1319.6 1101.1h0M1306.6 1126.5h0M1291.7 1112.2h0M1319.9 1117.4h0M1291 1107.7h0M1299.7 1120.2h0M1300.4 1123.7h0M1301.7 1125.2h0M1302.5 1101.2h0M1322.8 1101.5h0M1322.6 1113h0M1287.2 1112.6h0M1323.8 1105.6h0M1316.3 1121.1h0M1317.7 1119.6h0M1309.7 1122.2h0M1309.9 1125.8h0M1289.8 1104.4h0M1293.3 1119.6h0M1306.1 1102.3h0M1321.6 1108.4h0M1326 1105.7h0M1299.9 1124.2h0M1287.2 1108.2h0" stroke="#e0281c" stroke-width="2" stroke-linecap="round" fill="none"/>
<polyline points="988.5,830 992,840 995,848" fill="none" stroke="#b8b8b8" stroke-width="1.6" stroke-linecap="round" stroke-linejoin="round"/>
<path d="M996.5 851h0" stroke="#e0281c" stroke-width="2.4" stroke-linecap="round" fill="none"/>
<path d="M980.6 1087h0M980.8 1089.8h0M979.4 1092.6h0M980 1095.4h0M979.3 1098.2h0M979 1101h0M979.2 1103.8h0M981.4 1106.6h0M979.1 1109.4h0M980.4 1112.2h0M981.7 1115h0M981 1117.8h0M979.4 1120.6h0M979 1123.4h0M979.6 1126.2h0M979.6 1129h0M980.5 1131.8h0M980.7 1134.6h0M980.6 1137.4h0M980.5 1140.2h0" stroke="#c4c4c4" stroke-width="2.2" stroke-linecap="round" fill="none"/>
<path d="M978.4 1129h0M979.4 1135h0M977.9 1139h0" stroke="#e0281c" stroke-width="2" stroke-linecap="round" fill="none"/>
<path d="M907.4 1025h0M907.4 1030h0M907.4 1035h0M907.4 1040h0M907.4 1045h0" stroke="#c4c4c4" stroke-width="2" stroke-linecap="round" fill="none"/>
<circle cx="1278" cy="1231.2" r="7.5" fill="#c8c8c8"/>
<circle cx="1278" cy="1256.8" r="7.5" fill="#e0281c"/>
<text transform="translate(1294.1,1237.4) scale(1,1.04)" font-size="30.3" stroke="#0a0a0a" stroke-width="0.2" fill="#0a0a0a">sci</text>
<text transform="translate(1292.6,1263) scale(1,1.04)" font-size="30.3" stroke="#0a0a0a" stroke-width="0.2" fill="#0a0a0a">10x</text>
<rect x="1492.7" y="71" width="478.1" height="512" fill="#4f79be"/>
<rect x="1492.7" y="71" width="31.9" height="32" fill="#d9321a"/>
<rect x="1524.6" y="103" width="31.9" height="32" fill="#d9321a"/>
<rect x="1938.9" y="103" width="31.9" height="32" fill="#6890c8"/>
<rect x="1556.4" y="135" width="31.9" height="32" fill="#e0482e"/>
<rect x="1556.4" y="167" width="31.9" height="32" fill="#6690c9"/>
<rect x="1588.3" y="167" width="31.9" height="32" fill="#d9321a"/>
<rect x="1620.2" y="199" width="31.9" height="32" fill="#dc3a1f"/>
<rect x="1652" y="199" width="31.9" height="32" fill="#5580c0"/>
<rect x="1907" y="199" width="31.9" height="32" fill="#5582c2"/>
<rect x="1652" y="231" width="31.9" height="32" fill="#d9321a"/>
<rect x="1811.4" y="231" width="31.9" height="32" fill="#5380c0"/>
<rect x="1875.1" y="231" width="31.9" height="32" fill="#5380c0"/>
<rect x="1683.9" y="263" width="31.9" height="32" fill="#d9321a"/>
<rect x="1683.9" y="295" width="31.9" height="32" fill="#d9321a"/>
<rect x="1715.8" y="327" width="31.9" height="32" fill="#dc3a1f"/>
<rect x="1747.7" y="327" width="31.9" height="32" fill="#6890c8"/>
<rect x="1779.5" y="327" width="31.9" height="32" fill="#5582c2"/>
<rect x="1843.3" y="327" width="31.9" height="32" fill="#5582c2"/>
<rect x="1875.1" y="327" width="31.9" height="32" fill="#5884c3"/>
<rect x="1747.7" y="359" width="31.9" height="32" fill="#e04428"/>
<rect x="1843.3" y="359" width="31.9" height="32" fill="#5380c0"/>
<rect x="1875.1" y="359" width="31.9" height="32" fill="#5380c0"/>
<rect x="1779.5" y="391" width="31.9" height="32" fill="#d9321a"/>
<rect x="1811.4" y="391" width="31.9" height="32" fill="#5e8ac6"/>
<rect x="1843.3" y="391" width="31.9" height="32" fill="#6690c8"/>
<rect x="1875.1" y="391" width="31.9" height="32" fill="#6a94cb"/>
<rect x="1779.5" y="423" width="31.9" height="32" fill="#5582c2"/>
<rect x="1811.4" y="423" width="31.9" height="32" fill="#d9321a"/>
<rect x="1843.3" y="423" width="31.9" height="32" fill="#6c98cd"/>
<rect x="1875.1" y="423" width="31.9" height="32" fill="#5f8cc8"/>
<rect x="1779.5" y="455" width="31.9" height="32" fill="#5582c2"/>
<rect x="1811.4" y="455" width="31.9" height="32" fill="#a5c6e0"/>
<rect x="1843.3" y="455" width="31.9" height="32" fill="#f26b3d"/>
<rect x="1875.1" y="455" width="31.9" height="32" fill="#5e8ac6"/>
<rect x="1779.5" y="487" width="31.9" height="32" fill="#5e8ac6"/>
<rect x="1811.4" y="487" width="31.9" height="32" fill="#78a2d2"/>
<rect x="1843.3" y="487" width="31.9" height="32" fill="#a2c5e0"/>
<rect x="1875.1" y="487" width="31.9" height="32" fill="#e45030"/>
<rect x="1938.9" y="487" width="31.9" height="32" fill="#6690c8"/>
<rect x="1779.5" y="519" width="31.9" height="32" fill="#5380c0"/>
<rect x="1811.4" y="519" width="31.9" height="32" fill="#5380c0"/>
<rect x="1843.3" y="519" width="31.9" height="32" fill="#5380c0"/>
<rect x="1875.1" y="519" width="31.9" height="32" fill="#5582c2"/>
<rect x="1907" y="519" width="31.9" height="32" fill="#da351c"/>
<rect x="1875.1" y="551" width="31.9" height="32" fill="#5884c3"/>
<rect x="1938.9" y="551" width="31.9" height="32" fill="#e24a2c"/>
<path d="M1524.6 71V583M1556.4 71V583M1588.3 71V583M1620.2 71V583M1652 71V583M1683.9 71V583M1715.8 71V583M1747.7 71V583M1779.5 71V583M1811.4 71V583M1843.3 71V583M1875.1 71V583M1907 71V583M1938.9 71V583M1492.7 103H1970.8M1492.7 135H1970.8M1492.7 167H1970.8M1492.7 199H1970.8M1492.7 231H1970.8M1492.7 263H1970.8M1492.7 295H1970.8M1492.7 327H1970.8M1492.7 359H1970.8M1492.7 391H1970.8M1492.7 423H1970.8M1492.7 455H1970.8M1492.7 487H1970.8M1492.7 519H1970.8M1492.7 551H1970.8" stroke="#8fa9d6" stroke-width="1" fill="none"/>
<text transform="translate(1978,94) scale(1,1.04)" font-size="22.8" stroke="#0a0a0a" stroke-width="0.2" fill="#0a0a0a">ASC</text>
<text transform="translate(1976.2,126) scale(1,1.04)" font-size="22.8" stroke="#0a0a0a" stroke-width="0.2" fill="#0a0a0a">MGL</text>
<text transform="translate(1976.9,158) scale(1,1.04)" font-size="22.8" stroke="#0a0a0a" stroke-width="0.2" fill="#0a0a0a">OPC</text>
<text transform="translate(1976.9,190) scale(1,1.04)" font-size="22.8" stroke="#0a0a0a" stroke-width="0.2" fill="#0a0a0a">OGC</text>
<text transform="translate(1976.2,222) scale(1,1.04)" font-size="22.8" stroke="#0a0a0a" stroke-width="0.2" fill="#0a0a0a">PER</text>
<text transform="translate(1977.8,254) scale(1,1.04)" font-size="22.8" stroke="#0a0a0a" stroke-width="0.2" fill="#0a0a0a">VLMC</text>
<text transform="translate(1976.2,286) scale(1,1.04)" font-size="22.8" stroke="#0a0a0a" stroke-width="0.2" fill="#0a0a0a">LAMGA</text>
<text transform="translate(1977.8,318) scale(1,1.04)" font-size="22.8" stroke="#0a0a0a" stroke-width="0.2" fill="#0a0a0a">VIPGA</text>
<text transform="translate(1976.2,350) scale(1,1.04)" font-size="22.8" stroke="#0a0a0a" stroke-width="0.2" fill="#0a0a0a">PVGA</text>
<text transform="translate(1976.9,382) scale(1,1.04)" font-size="22.8" stroke="#0a0a0a" stroke-width="0.2" fill="#0a0a0a">SSTGA</text>
<text transform="translate(1975.9,414) scale(1,1.04)" font-size="22.8" stroke="#0a0a0a" stroke-width="0.2" fill="#0a0a0a">ITL23GL</text>
<text transform="translate(1975.9,446) scale(1,1.04)" font-size="22.8" stroke="#0a0a0a" stroke-width="0.2" fill="#0a0a0a">ITL4GL</text>
<text transform="translate(1975.9,478) scale(1,1.04)" font-size="22.8" stroke="#0a0a0a" stroke-width="0.2" fill="#0a0a0a">ITL5GL</text>
<text transform="translate(1975.9,510) scale(1,1.04)" font-size="22.8" stroke="#0a0a0a" stroke-width="0.2" fill="#0a0a0a">ITL6GL</text>
<text transform="translate(1976.9,542) scale(1,1.04)" font-size="22.8" stroke="#0a0a0a" stroke-width="0.2" fill="#0a0a0a">CTGL</text>
<text transform="translate(1976.2,574) scale(1,1.04)" font-size="22.8" stroke="#0a0a0a" stroke-width="0.2" fill="#0a0a0a">PTGL</text>
<text transform="translate(1517.7,591.5) rotate(-90) scale(1,1.04)" font-size="22.8" text-anchor="end" stroke="#0a0a0a" stroke-width="0.2" fill="#0a0a0a">Asc</text>
<text transform="translate(1549.6,591.5) rotate(-90) scale(1,1.04)" font-size="22.8" text-anchor="end" stroke="#0a0a0a" stroke-width="0.2" fill="#0a0a0a">Mgc</text>
<text transform="translate(1581.4,591.5) rotate(-90) scale(1,1.04)" font-size="22.8" text-anchor="end" stroke="#0a0a0a" stroke-width="0.2" fill="#0a0a0a">Opc</text>
<text transform="translate(1613.3,591.5) rotate(-90) scale(1,1.04)" font-size="22.8" text-anchor="end" stroke="#0a0a0a" stroke-width="0.2" fill="#0a0a0a">Ogc</text>
<text transform="translate(1645.2,591.5) rotate(-90) scale(1,1.04)" font-size="22.8" text-anchor="end" stroke="#0a0a0a" stroke-width="0.2" fill="#0a0a0a">Per</text>
<text transform="translate(1677,591.5) rotate(-90) scale(1,1.04)" font-size="22.8" text-anchor="end" stroke="#0a0a0a" stroke-width="0.2" fill="#0a0a0a">Vlmc</text>
<text transform="translate(1708.9,591.5) rotate(-90) scale(1,1.04)" font-size="22.8" text-anchor="end" stroke="#0a0a0a" stroke-width="0.2" fill="#0a0a0a">CGE</text>
<text transform="translate(1740.8,591.5) rotate(-90) scale(1,1.04)" font-size="22.8" text-anchor="end" stroke="#0a0a0a" stroke-width="0.2" fill="#0a0a0a">Pv</text>
<text transform="translate(1772.7,591.5) rotate(-90) scale(1,1.04)" font-size="22.8" text-anchor="end" stroke="#0a0a0a" stroke-width="0.2" fill="#0a0a0a">Sst</text>
<text transform="translate(1804.5,591.5) rotate(-90) scale(1,1.04)" font-size="22.8" text-anchor="end" stroke="#0a0a0a" stroke-width="0.2" fill="#0a0a0a">ITL23</text>
<text transform="translate(1836.4,591.5) rotate(-90) scale(1,1.04)" font-size="22.8" text-anchor="end" stroke="#0a0a0a" stroke-width="0.2" fill="#0a0a0a">ITL4</text>
<text transform="translate(1868.3,591.5) rotate(-90) scale(1,1.04)" font-size="22.8" text-anchor="end" stroke="#0a0a0a" stroke-width="0.2" fill="#0a0a0a">ITL5</text>
<text transform="translate(1900.1,591.5) rotate(-90) scale(1,1.04)" font-size="22.8" text-anchor="end" stroke="#0a0a0a" stroke-width="0.2" fill="#0a0a0a">ITL6</text>
<text transform="translate(1932,591.5) rotate(-90) scale(1,1.04)" font-size="22.8" text-anchor="end" stroke="#0a0a0a" stroke-width="0.2" fill="#0a0a0a">CT</text>
<text transform="translate(1963.9,591.5) rotate(-90) scale(1,1.04)" font-size="22.8" text-anchor="end" stroke="#0a0a0a" stroke-width="0.2" fill="#0a0a0a">PT</text>
<text transform="translate(1493.5,57.5) scale(1,1.04)" font-size="30.3" stroke="#0a0a0a" stroke-width="0.2" fill="#0a0a0a">Confusion matrix</text>
<text transform="translate(1668.1,672.7) scale(1,1.04)" font-size="30.3" stroke="#0a0a0a" stroke-width="0.2" fill="#0a0a0a">10x clusters</text>
<text transform="translate(1474.5,328) rotate(-90) scale(1,1.04)" font-size="30.3" text-anchor="middle" stroke="#0a0a0a" stroke-width="0.2" fill="#0a0a0a">sci clusters</text>
<defs><linearGradient id="cb" x1="0" y1="0" x2="0" y2="1"><stop offset="0" stop-color="#d73027"/><stop offset="0.15" stop-color="#f46d43"/><stop offset="0.3" stop-color="#fdae61"/><stop offset="0.45" stop-color="#fee090"/><stop offset="0.62" stop-color="#f4f8fa"/><stop offset="0.78" stop-color="#abc9e3"/><stop offset="1" stop-color="#4f79be"/></linearGradient></defs>
<rect x="2101.6" y="95.3" width="20" height="160.2" fill="url(#cb)"/>
<text transform="translate(2102.6,90.5) scale(1,1.04)" font-size="30.3" stroke="#0a0a0a" stroke-width="0.2" fill="#0a0a0a">1</text>
<text transform="translate(2103.8,278.5) scale(1,1.04)" font-size="30.3" stroke="#0a0a0a" stroke-width="0.2" fill="#0a0a0a">0</text>
<text transform="translate(2092.5,180.5) rotate(-90) scale(1,1.04)" font-size="30.3" text-anchor="middle" stroke="#0a0a0a" stroke-width="0.2" fill="#0a0a0a">Overlap score</text>
<path d="M1514.5 719.6V1241.5M1561.5 719.6V1241.5M1608.6 719.6V1241.5M1655.6 719.6V1241.5M1702.7 719.6V1241.5M1749.7 719.6V1241.5M1796.7 719.6V1241.5M1843.8 719.6V1241.5M1890.8 719.6V1241.5M1937.9 719.6V1241.5M1984.9 719.6V1241.5M1495.4 1216.9H2016.6M1495.4 1157.7H2016.6M1495.4 1098.5H2016.6M1495.4 1039.3H2016.6M1495.4 980.1H2016.6M1495.4 920.8H2016.6M1495.4 861.6H2016.6M1495.4 802.4H2016.6M1495.4 743.2H2016.6" stroke="#f0f0f0" stroke-width="1.2" fill="none"/>
<polyline points="1495.4,1216.9 1520.3,1216.9 1520.3,1187.3 1521.3,1187.3 1521.3,1157.7 1540.6,1157.7 1540.6,1128.1 1548.7,1128.1 1548.7,1098.5 1549.5,1098.5 1549.5,1068.9 1550.5,1068.9 1550.5,1039.3 1558.4,1039.3 1558.4,1009.7 1570.6,1009.7 1570.6,980.1 1575,980.1 1575,950.4 1583.5,950.4 1583.5,920.8 1607,920.8 1607,891.2 1613.6,891.2 1613.6,861.6 1621.4,861.6 1621.4,832 1628.1,832 1628.1,802.4 1672.7,802.4 1672.7,772.8 1977.7,772.8 1977.7,743.2 2016.6,743.2" fill="none" stroke="#999999" stroke-width="3.2" stroke-linecap="round" stroke-linejoin="round" stroke-linecap="butt" stroke-linejoin="miter"/>
<polyline points="1495.4,1216.9 1520.3,1216.9 1520.3,1187.3 1534.5,1187.3 1534.5,1157.7 1545,1157.7 1545,1128.1 1547.7,1128.1 1547.7,1098.5 1549.3,1098.5 1549.3,1068.9 1550.7,1068.9 1550.7,1039.3 1558.4,1039.3 1558.4,1009.7 1576.1,1009.7 1576.1,980.1 1587,980.1 1587,950.4 1592.2,950.4 1592.2,920.8 1599.6,920.8 1599.6,891.2 1612,891.2 1612,861.6 1614.5,861.6 1614.5,832 1616.2,832 1616.2,802.4 1655.4,802.4 1655.4,772.8 1992,772.8 1992,743.2 2016.6,743.2" fill="none" stroke="#c0271e" stroke-width="3.2" stroke-linecap="round" stroke-linejoin="round" stroke-linecap="butt" stroke-linejoin="miter"/>
<rect x="1495.4" y="719.6" width="521.2" height="521.9" fill="none" stroke="#111" stroke-width="1.8"/>
<line x1="1485.9" y1="1216.9" x2="1495.4" y2="1216.9" stroke="#333" stroke-width="3"/>
<text transform="translate(1473,1221.9) rotate(-90) scale(1,1.04)" font-size="30.3" text-anchor="middle" stroke="#0a0a0a" stroke-width="0.2" fill="#0a0a0a">0.00</text>
<line x1="1485.9" y1="1098.5" x2="1495.4" y2="1098.5" stroke="#333" stroke-width="3"/>
<text transform="translate(1473,1103.5) rotate(-90) scale(1,1.04)" font-size="30.3" text-anchor="middle" stroke="#0a0a0a" stroke-width="0.2" fill="#0a0a0a">0.25</text>
<line x1="1485.9" y1="980.1" x2="1495.4" y2="980.1" stroke="#333" stroke-width="3"/>
<text transform="translate(1473,985.1) rotate(-90) scale(1,1.04)" font-size="30.3" text-anchor="middle" stroke="#0a0a0a" stroke-width="0.2" fill="#0a0a0a">0.50</text>
<line x1="1485.9" y1="861.6" x2="1495.4" y2="861.6" stroke="#333" stroke-width="3"/>
<text transform="translate(1473,866.6) rotate(-90) scale(1,1.04)" font-size="30.3" text-anchor="middle" stroke="#0a0a0a" stroke-width="0.2" fill="#0a0a0a">0.75</text>
<line x1="1485.9" y1="743.2" x2="1495.4" y2="743.2" stroke="#333" stroke-width="3"/>
<text transform="translate(1473,748.2) rotate(-90) scale(1,1.04)" font-size="30.3" text-anchor="middle" stroke="#0a0a0a" stroke-width="0.2" fill="#0a0a0a">1.00</text>
<line x1="1514.5" y1="1241.5" x2="1514.5" y2="1250.5" stroke="#333" stroke-width="3"/>
<text transform="translate(1514.5,1276.5) scale(1,1.04)" font-size="30.3" text-anchor="middle" stroke="#0a0a0a" stroke-width="0.2" fill="#0a0a0a">0.0</text>
<line x1="1608.6" y1="1241.5" x2="1608.6" y2="1250.5" stroke="#333" stroke-width="3"/>
<text transform="translate(1608.6,1276.5) scale(1,1.04)" font-size="30.3" text-anchor="middle" stroke="#0a0a0a" stroke-width="0.2" fill="#0a0a0a">0.1</text>
<line x1="1702.7" y1="1241.5" x2="1702.7" y2="1250.5" stroke="#333" stroke-width="3"/>
<text transform="translate(1702.7,1276.5) scale(1,1.04)" font-size="30.3" text-anchor="middle" stroke="#0a0a0a" stroke-width="0.2" fill="#0a0a0a">0.2</text>
<line x1="1796.7" y1="1241.5" x2="1796.7" y2="1250.5" stroke="#333" stroke-width="3"/>
<text transform="translate(1796.7,1276.5) scale(1,1.04)" font-size="30.3" text-anchor="middle" stroke="#0a0a0a" stroke-width="0.2" fill="#0a0a0a">0.3</text>
<line x1="1890.8" y1="1241.5" x2="1890.8" y2="1250.5" stroke="#333" stroke-width="3"/>
<text transform="translate(1890.8,1276.5) scale(1,1.04)" font-size="30.3" text-anchor="middle" stroke="#0a0a0a" stroke-width="0.2" fill="#0a0a0a">0.4</text>
<line x1="1984.9" y1="1241.5" x2="1984.9" y2="1250.5" stroke="#333" stroke-width="3"/>
<text transform="translate(1984.9,1276.5) scale(1,1.04)" font-size="30.3" text-anchor="middle" stroke="#0a0a0a" stroke-width="0.2" fill="#0a0a0a">0.5</text>
<text transform="translate(1552.2,1311) scale(1,1.04)" font-size="30.3" stroke="#0a0a0a" stroke-width="0.2" fill="#0a0a0a">Fraction of nuclei in subclasses</text>
<text transform="translate(1439,983) rotate(-90) scale(1,1.04)" font-size="30.3" text-anchor="middle" stroke="#0a0a0a" stroke-width="0.2" fill="#0a0a0a">CDF</text>
<line x1="1900" y1="1040.2" x2="1936.3" y2="1040.2" stroke="#999999" stroke-width="3.2"/>
<line x1="1900" y1="1081.4" x2="1936.3" y2="1081.4" stroke="#c0271e" stroke-width="3.2"/>
<text transform="translate(1948.6,1048.3) scale(1,1.04)" font-size="30.3" stroke="#0a0a0a" stroke-width="0.2" fill="#0a0a0a">sci</text>
<text transform="translate(1947.1,1089.7) scale(1,1.04)" font-size="30.3" stroke="#0a0a0a" stroke-width="0.2" fill="#0a0a0a">10x</text>
<text transform="translate(1650.9,1146.4) scale(1,1.04)" font-size="30.3" stroke="#0a0a0a" stroke-width="0.2" fill="#0a0a0a">Kolmogorov–Smirnov test</text>
<text transform="translate(1833,1182.5) scale(1,1.04)" font-size="30.3" stroke="#0a0a0a" stroke-width="0.2" fill="#0a0a0a">D = 0.13333</text>
<text transform="translate(1772.4,1218) scale(1,1.04)" font-size="30.3" stroke="#0a0a0a" stroke-width="0.2" fill="#0a0a0a">p-value = 0.9998</text>
</svg>
</body></html>
